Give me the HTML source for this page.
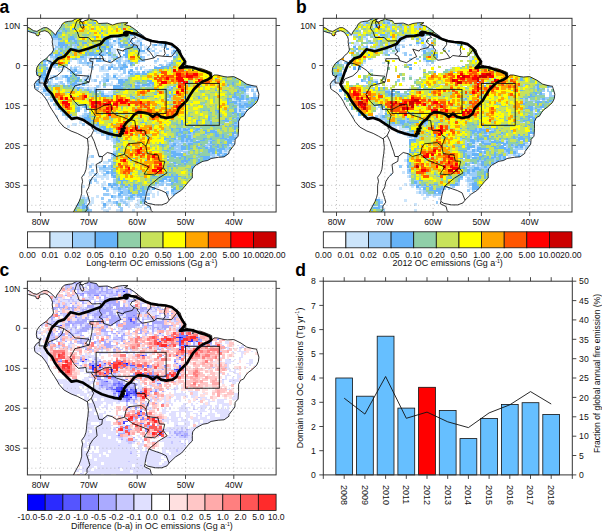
<!DOCTYPE html>
<html><head><meta charset="utf-8"><style>html,body{margin:0;padding:0;background:#fff}svg{display:block}text{font-family:"Liberation Sans",sans-serif}</style></head><body>
<svg width="602" height="531" viewBox="0 0 602 531" font-size="8.65" fill="#111" font-family="Liberation Sans, sans-serif">
<rect width="602" height="531" fill="#fff"/>
<clipPath id="clip1"><rect x="27.4" y="18.3" width="248.7" height="193.7"/></clipPath>
<clipPath id="land1"><path d="M21.3 25.9 L27 27.1 L29.6 28.1 L33.6 30.7 L36.9 31.4 L40.3 29.4 L43.6 27.7 L46.9 27.7 L49.6 29.4 L52.2 31.4 L54.2 33.8 L55.6 35.1 L56.9 32.1 L58.9 29.4 L60.9 26.7 L62.2 24.1 L64.8 22.1 L68.2 21.4 L72.1 21 L74.8 19.4 L77.5 18.1 L79.7 15.5 L83.1 15.5 L82.6 18.3 L79.7 19.5 L81.2 21.9 L83.1 21.9 L84.6 20.7 L87.9 19.9 L88.9 16.7 L90.3 19.5 L96.6 20.7 L97.6 22.3 L98.6 23.5 L107.3 23.1 L112.6 25.1 L116.9 23.5 L122.7 22.7 L128 22.7 L124.6 24.7 L129.5 25.9 L132.9 27.9 L137.2 31.1 L138.2 32.3 L144 36.3 L144.4 37.9 L150.7 41.5 L157 41.9 L166.2 42.3 L171.5 43.9 L177.3 47.9 L180.2 49.9 L182.1 57.1 L185.5 61.5 L186 64.3 L182.6 64.7 L179.2 67.4 L182.1 67.8 L185.5 65.8 L193.2 66.6 L192.7 71 L195.2 68.2 L200 68.2 L204.8 69.8 L211.6 72.6 L212.1 77 L214 75 L217.4 75 L224.1 76.6 L227.5 77 L233.8 76.6 L241 80.2 L246.8 84.2 L253.1 85.8 L256.5 86.2 L257.9 91 L258.9 94.2 L258.4 98.6 L256.5 102.6 L251.2 107.4 L248.3 109.4 L245.9 112.2 L243.5 116.2 L240.6 117.4 L238.6 121.4 L238.6 128.6 L238.1 136.2 L235.2 139.4 L234.8 144.2 L232.4 147.3 L229 151.7 L229 153.3 L224.1 156.9 L218.3 157.3 L211.1 158.5 L207.7 160.5 L202.9 161.3 L195.6 165.3 L192.7 168.9 L192.3 172.5 L192.3 178.1 L188.9 181.3 L185 186.1 L181.6 190.1 L175.4 194.1 L169.1 200.1 L167.1 202.9 L161.8 204.9 L155.6 204.9 L147.8 203.3 L144.9 201.3 L144.4 203.7 L150.2 206.5 L151.2 210.5 L153.1 212.5 L153.1 217.3 L72.5 217.3 L73.4 212.1 L75.9 207.3 L79.2 201.3 L80.7 197.3 L81.7 193.3 L81.7 185.3 L82.6 181.3 L81.7 177.3 L84.6 173.3 L86 169.3 L86.5 165.3 L87 159.3 L87.9 153.3 L88.4 147.3 L87.5 139 L82.6 136.2 L77.3 133.4 L71 131 L63.8 127 L59 121.4 L58 119.4 L54.6 113.8 L51.7 109.4 L49.3 105.4 L47.4 101.4 L45.4 98.2 L41.6 93.4 L36.7 90.2 L34.8 88.6 L34.3 84.2 L36.3 81 L39.2 79 L41.1 75.4 L39 77.4 L39.6 76.4 L36.9 75.2 L36.3 71.3 L36.9 67.3 L39.6 63.3 L42.9 60.7 L46.9 58 L48.9 55.3 L51.6 53.3 L53.5 50 L52.9 46 L52.2 42 L52.5 39.4 L51.6 36.7 L50.3 34.7 L48.2 32.1 L44.9 30.7 L41.6 31.4 L39 32.7 L39.6 34 L38.3 36 L36.3 35.4 L35.6 33.4 L32.3 32.7 L28.3 31.4 L21.3 30.7Z"/></clipPath>
<g clip-path="url(#clip1)">
<g clip-path="url(#land1)" shape-rendering="crispEdges">
<path fill="#cce5fb" d="M139.6 31.5h2.8v2.3h-2.8zM113.1 35.5h2.8v2.3h-2.8zM130.0 35.5h2.8v2.3h-2.8zM134.8 35.5h2.8v2.3h-2.8zM139.6 35.5h2.8v2.3h-2.8zM110.6 37.5h2.8v2.3h-2.8zM115.5 37.5h2.8v2.3h-2.8zM130.0 37.5h2.8v2.3h-2.8zM137.2 37.5h5.2v2.3h-5.2zM144.4 37.5h2.8v2.3h-2.8zM52.7 39.5h5.2v2.3h-5.2zM108.2 39.5h2.8v2.3h-2.8zM115.5 39.5h2.8v2.3h-2.8zM134.8 39.5h2.8v2.3h-2.8zM139.6 39.5h2.8v2.3h-2.8zM149.3 39.5h2.8v2.3h-2.8zM161.3 39.5h2.8v2.3h-2.8zM52.7 41.5h5.2v2.3h-5.2zM110.6 41.5h7.6v2.3h-7.6zM120.3 41.5h2.8v2.3h-2.8zM134.8 41.5h5.2v2.3h-5.2zM156.5 41.5h2.8v2.3h-2.8zM166.2 41.5h2.8v2.3h-2.8zM52.7 43.5h5.2v2.3h-5.2zM113.1 43.5h2.8v2.3h-2.8zM132.4 43.5h7.6v2.3h-7.6zM142.0 43.5h2.8v2.3h-2.8zM156.5 43.5h2.8v2.3h-2.8zM161.3 43.5h2.8v2.3h-2.8zM171.0 43.5h2.8v2.3h-2.8zM50.3 45.5h2.8v2.3h-2.8zM72.0 45.5h2.8v2.3h-2.8zM117.9 45.5h2.8v2.3h-2.8zM137.2 45.5h2.8v2.3h-2.8zM144.4 45.5h5.2v2.3h-5.2zM151.7 45.5h2.8v2.3h-2.8zM161.3 45.5h2.8v2.3h-2.8zM55.1 47.5h2.8v2.3h-2.8zM110.6 47.5h5.2v2.3h-5.2zM144.4 47.5h2.8v2.3h-2.8zM149.3 47.5h2.8v2.3h-2.8zM154.1 47.5h2.8v2.3h-2.8zM173.4 47.5h2.8v2.3h-2.8zM178.3 47.5h5.2v2.3h-5.2zM110.6 49.5h5.2v2.3h-5.2zM117.9 49.5h2.8v2.3h-2.8zM146.9 49.5h5.2v2.3h-5.2zM158.9 49.5h2.8v2.3h-2.8zM171.0 49.5h2.8v2.3h-2.8zM47.8 51.5h2.8v2.3h-2.8zM113.1 51.5h2.8v2.3h-2.8zM139.6 51.5h7.6v2.3h-7.6zM154.1 51.5h5.2v2.3h-5.2zM52.7 53.5h2.8v2.3h-2.8zM105.8 53.5h2.8v2.3h-2.8zM115.5 53.5h2.8v2.3h-2.8zM139.6 53.5h2.8v2.3h-2.8zM146.9 53.5h2.8v2.3h-2.8zM154.1 53.5h2.8v2.3h-2.8zM171.0 53.5h5.2v2.3h-5.2zM45.4 55.5h2.8v2.3h-2.8zM86.5 55.5h5.2v2.3h-5.2zM108.2 55.5h2.8v2.3h-2.8zM122.7 55.5h2.8v2.3h-2.8zM151.7 55.5h2.8v2.3h-2.8zM43.0 57.5h2.8v2.3h-2.8zM50.3 57.5h2.8v2.3h-2.8zM88.9 57.5h2.8v2.3h-2.8zM103.4 57.5h2.8v2.3h-2.8zM108.2 57.5h5.2v2.3h-5.2zM115.5 57.5h2.8v2.3h-2.8zM120.3 57.5h2.8v2.3h-2.8zM125.1 57.5h2.8v2.3h-2.8zM50.3 59.5h2.8v2.3h-2.8zM69.6 59.5h2.8v2.3h-2.8zM76.8 59.5h2.8v2.3h-2.8zM88.9 59.5h5.2v2.3h-5.2zM103.4 59.5h2.8v2.3h-2.8zM113.1 59.5h2.8v2.3h-2.8zM120.3 59.5h5.2v2.3h-5.2zM156.5 59.5h2.8v2.3h-2.8zM163.8 59.5h2.8v2.3h-2.8zM76.8 61.5h2.8v2.3h-2.8zM91.3 61.5h2.8v2.3h-2.8zM110.6 61.5h2.8v2.3h-2.8zM115.5 61.5h2.8v2.3h-2.8zM125.1 61.5h2.8v2.3h-2.8zM137.2 61.5h2.8v2.3h-2.8zM154.1 61.5h2.8v2.3h-2.8zM166.2 61.5h2.8v2.3h-2.8zM81.7 63.5h5.2v2.3h-5.2zM88.9 63.5h2.8v2.3h-2.8zM93.7 63.5h5.2v2.3h-5.2zM103.4 63.5h7.6v2.3h-7.6zM113.1 63.5h2.8v2.3h-2.8zM125.1 63.5h2.8v2.3h-2.8zM161.3 63.5h2.8v2.3h-2.8zM45.4 65.5h2.8v2.3h-2.8zM64.8 65.5h2.8v2.3h-2.8zM69.6 65.5h2.8v2.3h-2.8zM74.4 65.5h5.2v2.3h-5.2zM98.6 65.5h2.8v2.3h-2.8zM103.4 65.5h2.8v2.3h-2.8zM113.1 65.5h2.8v2.3h-2.8zM130.0 65.5h2.8v2.3h-2.8zM139.6 65.5h5.2v2.3h-5.2zM47.8 67.4h2.8v2.3h-2.8zM55.1 67.4h5.2v2.3h-5.2zM62.3 67.4h2.8v2.3h-2.8zM72.0 67.4h2.8v2.3h-2.8zM79.2 67.4h2.8v2.3h-2.8zM91.3 67.4h2.8v2.3h-2.8zM98.6 67.4h2.8v2.3h-2.8zM103.4 67.4h2.8v2.3h-2.8zM117.9 67.4h2.8v2.3h-2.8zM45.4 69.4h5.2v2.3h-5.2zM57.5 69.4h5.2v2.3h-5.2zM67.2 69.4h5.2v2.3h-5.2zM76.8 69.4h5.2v2.3h-5.2zM98.6 69.4h10.0v2.3h-10.0zM117.9 69.4h2.8v2.3h-2.8zM127.5 69.4h2.8v2.3h-2.8zM144.4 69.4h5.2v2.3h-5.2zM130.0 71.4h2.8v2.3h-2.8zM134.8 71.4h2.8v2.3h-2.8zM144.4 71.4h2.8v2.3h-2.8zM45.4 73.4h2.8v2.3h-2.8zM69.6 73.4h2.8v2.3h-2.8zM103.4 73.4h2.8v2.3h-2.8zM113.1 73.4h5.2v2.3h-5.2zM120.3 73.4h2.8v2.3h-2.8zM127.5 73.4h2.8v2.3h-2.8zM50.3 75.4h2.8v2.3h-2.8zM55.1 75.4h2.8v2.3h-2.8zM59.9 75.4h2.8v2.3h-2.8zM67.2 75.4h2.8v2.3h-2.8zM76.8 75.4h2.8v2.3h-2.8zM84.1 75.4h2.8v2.3h-2.8zM88.9 75.4h2.8v2.3h-2.8zM96.1 75.4h2.8v2.3h-2.8zM101.0 75.4h2.8v2.3h-2.8zM108.2 75.4h2.8v2.3h-2.8zM117.9 75.4h2.8v2.3h-2.8zM125.1 75.4h2.8v2.3h-2.8zM57.5 77.4h5.2v2.3h-5.2zM64.8 77.4h2.8v2.3h-2.8zM81.7 77.4h5.2v2.3h-5.2zM88.9 77.4h2.8v2.3h-2.8zM108.2 77.4h7.6v2.3h-7.6zM120.3 77.4h7.6v2.3h-7.6zM40.6 79.4h2.8v2.3h-2.8zM50.3 79.4h2.8v2.3h-2.8zM64.8 79.4h2.8v2.3h-2.8zM81.7 79.4h2.8v2.3h-2.8zM91.3 79.4h2.8v2.3h-2.8zM101.0 79.4h2.8v2.3h-2.8zM38.2 81.4h2.8v2.3h-2.8zM50.3 81.4h2.8v2.3h-2.8zM57.5 81.4h2.8v2.3h-2.8zM76.8 81.4h5.2v2.3h-5.2zM86.5 81.4h2.8v2.3h-2.8zM110.6 81.4h2.8v2.3h-2.8zM146.9 81.4h2.8v2.3h-2.8zM33.4 83.4h2.8v2.3h-2.8zM40.6 83.4h2.8v2.3h-2.8zM50.3 83.4h5.2v2.3h-5.2zM57.5 83.4h5.2v2.3h-5.2zM67.2 83.4h2.8v2.3h-2.8zM84.1 83.4h5.2v2.3h-5.2zM98.6 83.4h2.8v2.3h-2.8zM105.8 83.4h7.6v2.3h-7.6zM115.5 83.4h5.2v2.3h-5.2zM134.8 83.4h2.8v2.3h-2.8zM139.6 83.4h2.8v2.3h-2.8zM38.2 85.4h5.2v2.3h-5.2zM79.2 85.4h2.8v2.3h-2.8zM98.6 85.4h2.8v2.3h-2.8zM144.4 85.4h2.8v2.3h-2.8zM171.0 85.4h2.8v2.3h-2.8zM40.6 87.4h2.8v2.3h-2.8zM84.1 87.4h2.8v2.3h-2.8zM88.9 87.4h5.2v2.3h-5.2zM250.7 87.4h2.8v2.3h-2.8zM91.3 89.4h2.8v2.3h-2.8zM101.0 89.4h2.8v2.3h-2.8zM110.6 89.4h2.8v2.3h-2.8zM245.9 89.4h2.8v2.3h-2.8zM40.6 91.4h7.6v2.3h-7.6zM108.2 91.4h5.2v2.3h-5.2zM253.1 91.4h2.8v2.3h-2.8zM103.4 93.4h10.0v2.3h-10.0zM245.9 93.4h2.8v2.3h-2.8zM255.5 95.4h5.2v2.3h-5.2zM43.0 97.4h2.8v2.3h-2.8zM47.8 97.4h5.2v2.3h-5.2zM166.2 97.4h2.8v2.3h-2.8zM231.4 97.4h2.8v2.3h-2.8zM45.4 99.4h2.8v2.3h-2.8zM231.4 99.4h5.2v2.3h-5.2zM241.0 99.4h2.8v2.3h-2.8zM236.2 101.4h2.8v2.3h-2.8zM45.4 103.4h2.8v2.3h-2.8zM55.1 105.4h2.8v2.3h-2.8zM79.2 105.4h2.8v2.3h-2.8zM236.2 105.4h2.8v2.3h-2.8zM55.1 107.4h2.8v2.3h-2.8zM79.2 107.4h2.8v2.3h-2.8zM84.1 107.4h2.8v2.3h-2.8zM236.2 107.4h2.8v2.3h-2.8zM236.2 109.4h2.8v2.3h-2.8zM241.0 109.4h2.8v2.3h-2.8zM248.3 109.4h2.8v2.3h-2.8zM84.1 111.4h2.8v2.3h-2.8zM236.2 111.4h5.2v2.3h-5.2zM245.9 111.4h2.8v2.3h-2.8zM81.7 113.4h2.8v2.3h-2.8zM243.5 113.4h5.2v2.3h-5.2zM55.1 115.4h2.8v2.3h-2.8zM64.8 115.4h2.8v2.3h-2.8zM74.4 115.4h2.8v2.3h-2.8zM79.2 115.4h2.8v2.3h-2.8zM55.1 117.4h2.8v2.3h-2.8zM64.8 117.4h2.8v2.3h-2.8zM69.6 117.4h2.8v2.3h-2.8zM84.1 119.4h2.8v2.3h-2.8zM79.2 121.4h2.8v2.3h-2.8zM86.5 121.4h2.8v2.3h-2.8zM224.1 121.4h5.2v2.3h-5.2zM72.0 123.4h5.2v2.3h-5.2zM67.2 125.4h2.8v2.3h-2.8zM192.7 125.4h2.8v2.3h-2.8zM93.7 127.4h5.2v2.3h-5.2zM101.0 129.4h2.8v2.3h-2.8zM96.1 131.4h5.2v2.3h-5.2zM103.4 133.4h2.8v2.3h-2.8zM233.8 133.4h2.8v2.3h-2.8zM108.2 135.4h2.8v2.3h-2.8zM236.2 135.4h2.8v2.3h-2.8zM108.2 137.4h5.2v2.3h-5.2zM175.8 137.4h2.8v2.3h-2.8zM110.6 139.4h2.8v2.3h-2.8zM195.2 139.4h2.8v2.3h-2.8zM171.0 141.4h2.8v2.3h-2.8zM178.3 141.4h2.8v2.3h-2.8zM183.1 141.4h2.8v2.3h-2.8zM207.2 141.4h2.8v2.3h-2.8zM233.8 141.4h2.8v2.3h-2.8zM113.1 143.4h2.8v2.3h-2.8zM175.8 143.4h2.8v2.3h-2.8zM180.7 143.4h2.8v2.3h-2.8zM204.8 143.4h2.8v2.3h-2.8zM229.0 143.4h2.8v2.3h-2.8zM207.2 145.4h2.8v2.3h-2.8zM229.0 145.4h5.2v2.3h-5.2zM113.1 147.3h2.8v2.3h-2.8zM175.8 147.3h2.8v2.3h-2.8zM113.1 149.3h2.8v2.3h-2.8zM183.1 149.3h5.2v2.3h-5.2zM221.7 149.3h2.8v2.3h-2.8zM226.6 149.3h2.8v2.3h-2.8zM221.7 151.3h7.6v2.3h-7.6zM214.5 153.3h2.8v2.3h-2.8zM219.3 153.3h2.8v2.3h-2.8zM226.6 153.3h2.8v2.3h-2.8zM88.9 155.3h2.8v2.3h-2.8zM98.6 155.3h2.8v2.3h-2.8zM110.6 155.3h2.8v2.3h-2.8zM175.8 155.3h2.8v2.3h-2.8zM209.7 155.3h2.8v2.3h-2.8zM214.5 155.3h2.8v2.3h-2.8zM86.5 157.3h2.8v2.3h-2.8zM166.2 157.3h2.8v2.3h-2.8zM212.1 157.3h5.2v2.3h-5.2zM84.1 159.3h2.8v2.3h-2.8zM110.6 159.3h2.8v2.3h-2.8zM207.2 159.3h2.8v2.3h-2.8zM98.6 161.3h2.8v2.3h-2.8zM103.4 161.3h5.2v2.3h-5.2zM171.0 161.3h2.8v2.3h-2.8zM91.3 163.3h2.8v2.3h-2.8zM175.8 163.3h2.8v2.3h-2.8zM96.1 165.3h7.6v2.3h-7.6zM98.6 169.3h5.2v2.3h-5.2zM105.8 169.3h2.8v2.3h-2.8zM88.9 171.3h5.2v2.3h-5.2zM101.0 171.3h2.8v2.3h-2.8zM81.7 173.3h2.8v2.3h-2.8zM88.9 173.3h2.8v2.3h-2.8zM96.1 173.3h2.8v2.3h-2.8zM105.8 173.3h2.8v2.3h-2.8zM96.1 175.3h12.4v2.3h-12.4zM91.3 177.3h5.2v2.3h-5.2zM101.0 177.3h2.8v2.3h-2.8zM105.8 177.3h2.8v2.3h-2.8zM113.1 177.3h2.8v2.3h-2.8zM166.2 177.3h2.8v2.3h-2.8zM96.1 181.3h2.8v2.3h-2.8zM103.4 181.3h2.8v2.3h-2.8zM158.9 181.3h2.8v2.3h-2.8zM163.8 181.3h2.8v2.3h-2.8zM101.0 183.3h5.2v2.3h-5.2zM117.9 183.3h2.8v2.3h-2.8zM156.5 183.3h2.8v2.3h-2.8zM81.7 185.3h2.8v2.3h-2.8zM101.0 185.3h2.8v2.3h-2.8zM108.2 185.3h2.8v2.3h-2.8zM113.1 185.3h2.8v2.3h-2.8zM117.9 185.3h2.8v2.3h-2.8zM154.1 185.3h5.2v2.3h-5.2zM105.8 187.3h2.8v2.3h-2.8zM110.6 187.3h2.8v2.3h-2.8zM125.1 187.3h2.8v2.3h-2.8zM149.3 187.3h2.8v2.3h-2.8zM163.8 187.3h2.8v2.3h-2.8zM171.0 187.3h2.8v2.3h-2.8zM113.1 189.3h5.2v2.3h-5.2zM120.3 189.3h2.8v2.3h-2.8zM146.9 189.3h5.2v2.3h-5.2zM180.7 189.3h2.8v2.3h-2.8zM113.1 191.3h2.8v2.3h-2.8zM117.9 191.3h2.8v2.3h-2.8zM139.6 191.3h2.8v2.3h-2.8zM146.9 191.3h5.2v2.3h-5.2zM156.5 191.3h2.8v2.3h-2.8zM178.3 191.3h2.8v2.3h-2.8zM108.2 193.3h2.8v2.3h-2.8zM120.3 193.3h2.8v2.3h-2.8zM127.5 193.3h2.8v2.3h-2.8zM151.7 193.3h2.8v2.3h-2.8zM156.5 193.3h2.8v2.3h-2.8zM166.2 193.3h2.8v2.3h-2.8zM171.0 193.3h2.8v2.3h-2.8zM81.7 195.3h2.8v2.3h-2.8zM96.1 195.3h2.8v2.3h-2.8zM115.5 195.3h2.8v2.3h-2.8zM125.1 195.3h2.8v2.3h-2.8zM132.4 195.3h5.2v2.3h-5.2zM142.0 195.3h2.8v2.3h-2.8zM151.7 195.3h2.8v2.3h-2.8zM79.2 197.3h2.8v2.3h-2.8zM84.1 197.3h2.8v2.3h-2.8zM91.3 197.3h2.8v2.3h-2.8zM113.1 197.3h2.8v2.3h-2.8zM117.9 197.3h5.2v2.3h-5.2zM144.4 197.3h2.8v2.3h-2.8zM86.5 199.3h2.8v2.3h-2.8zM91.3 199.3h2.8v2.3h-2.8zM117.9 199.3h2.8v2.3h-2.8zM122.7 199.3h2.8v2.3h-2.8zM127.5 199.3h5.2v2.3h-5.2zM137.2 199.3h2.8v2.3h-2.8zM91.3 201.3h2.8v2.3h-2.8zM101.0 201.3h2.8v2.3h-2.8zM105.8 201.3h7.6v2.3h-7.6zM117.9 201.3h5.2v2.3h-5.2zM125.1 201.3h5.2v2.3h-5.2zM137.2 201.3h2.8v2.3h-2.8zM84.1 203.3h2.8v2.3h-2.8zM88.9 203.3h2.8v2.3h-2.8zM105.8 203.3h2.8v2.3h-2.8zM110.6 203.3h2.8v2.3h-2.8zM127.5 203.3h2.8v2.3h-2.8zM134.8 203.3h5.2v2.3h-5.2zM142.0 203.3h2.8v2.3h-2.8zM149.3 203.3h2.8v2.3h-2.8zM86.5 205.3h2.8v2.3h-2.8zM127.5 205.3h2.8v2.3h-2.8zM134.8 205.3h7.6v2.3h-7.6zM101.0 207.3h2.8v2.3h-2.8zM108.2 207.3h2.8v2.3h-2.8zM144.4 207.3h2.8v2.3h-2.8zM149.3 207.3h5.2v2.3h-5.2zM103.4 209.3h5.2v2.3h-5.2zM115.5 209.3h5.2v2.3h-5.2zM132.4 209.3h2.8v2.3h-2.8zM151.7 209.3h2.8v2.3h-2.8zM115.5 211.3h2.8v2.3h-2.8zM120.3 211.3h2.8v2.3h-2.8z"/>
<path fill="#99ccf9" d="M59.9 21.5h2.8v2.3h-2.8zM57.5 27.5h2.8v2.3h-2.8zM59.9 29.5h2.8v2.3h-2.8zM33.4 31.5h2.8v2.3h-2.8zM137.2 31.5h2.8v2.3h-2.8zM132.4 33.5h7.6v2.3h-7.6zM142.0 33.5h2.8v2.3h-2.8zM47.8 35.5h5.2v2.3h-5.2zM115.5 35.5h2.8v2.3h-2.8zM142.0 35.5h5.2v2.3h-5.2zM50.3 37.5h7.6v2.3h-7.6zM74.4 37.5h2.8v2.3h-2.8zM120.3 37.5h2.8v2.3h-2.8zM142.0 37.5h2.8v2.3h-2.8zM57.5 39.5h2.8v2.3h-2.8zM72.0 39.5h2.8v2.3h-2.8zM117.9 39.5h2.8v2.3h-2.8zM127.5 39.5h5.2v2.3h-5.2zM137.2 39.5h2.8v2.3h-2.8zM156.5 39.5h5.2v2.3h-5.2zM108.2 41.5h2.8v2.3h-2.8zM132.4 41.5h2.8v2.3h-2.8zM158.9 41.5h2.8v2.3h-2.8zM171.0 41.5h2.8v2.3h-2.8zM67.2 43.5h2.8v2.3h-2.8zM72.0 43.5h5.2v2.3h-5.2zM108.2 43.5h5.2v2.3h-5.2zM117.9 43.5h2.8v2.3h-2.8zM151.7 43.5h2.8v2.3h-2.8zM158.9 43.5h2.8v2.3h-2.8zM55.1 45.5h5.2v2.3h-5.2zM62.3 45.5h2.8v2.3h-2.8zM74.4 45.5h2.8v2.3h-2.8zM108.2 45.5h2.8v2.3h-2.8zM122.7 45.5h2.8v2.3h-2.8zM139.6 45.5h2.8v2.3h-2.8zM163.8 45.5h2.8v2.3h-2.8zM171.0 45.5h2.8v2.3h-2.8zM52.7 47.5h2.8v2.3h-2.8zM62.3 47.5h2.8v2.3h-2.8zM105.8 47.5h2.8v2.3h-2.8zM125.1 47.5h2.8v2.3h-2.8zM139.6 47.5h2.8v2.3h-2.8zM175.8 47.5h2.8v2.3h-2.8zM52.7 49.5h2.8v2.3h-2.8zM57.5 49.5h2.8v2.3h-2.8zM93.7 49.5h2.8v2.3h-2.8zM103.4 49.5h2.8v2.3h-2.8zM122.7 49.5h2.8v2.3h-2.8zM151.7 49.5h2.8v2.3h-2.8zM175.8 49.5h2.8v2.3h-2.8zM98.6 51.5h7.6v2.3h-7.6zM110.6 51.5h2.8v2.3h-2.8zM117.9 51.5h2.8v2.3h-2.8zM171.0 51.5h5.2v2.3h-5.2zM47.8 53.5h2.8v2.3h-2.8zM98.6 53.5h2.8v2.3h-2.8zM103.4 53.5h2.8v2.3h-2.8zM110.6 53.5h2.8v2.3h-2.8zM166.2 53.5h2.8v2.3h-2.8zM50.3 55.5h5.2v2.3h-5.2zM84.1 55.5h2.8v2.3h-2.8zM93.7 55.5h2.8v2.3h-2.8zM98.6 55.5h2.8v2.3h-2.8zM110.6 55.5h5.2v2.3h-5.2zM120.3 55.5h2.8v2.3h-2.8zM142.0 55.5h2.8v2.3h-2.8zM52.7 57.5h2.8v2.3h-2.8zM69.6 57.5h2.8v2.3h-2.8zM76.8 57.5h10.0v2.3h-10.0zM91.3 57.5h2.8v2.3h-2.8zM96.1 57.5h2.8v2.3h-2.8zM117.9 57.5h2.8v2.3h-2.8zM142.0 57.5h2.8v2.3h-2.8zM156.5 57.5h2.8v2.3h-2.8zM45.4 59.5h5.2v2.3h-5.2zM79.2 59.5h2.8v2.3h-2.8zM84.1 59.5h2.8v2.3h-2.8zM101.0 59.5h2.8v2.3h-2.8zM117.9 59.5h2.8v2.3h-2.8zM125.1 59.5h2.8v2.3h-2.8zM139.6 59.5h5.2v2.3h-5.2zM154.1 59.5h2.8v2.3h-2.8zM171.0 59.5h2.8v2.3h-2.8zM43.0 61.5h2.8v2.3h-2.8zM47.8 61.5h2.8v2.3h-2.8zM79.2 61.5h7.6v2.3h-7.6zM88.9 61.5h2.8v2.3h-2.8zM117.9 61.5h2.8v2.3h-2.8zM122.7 61.5h2.8v2.3h-2.8zM127.5 61.5h2.8v2.3h-2.8zM132.4 61.5h2.8v2.3h-2.8zM168.6 61.5h2.8v2.3h-2.8zM45.4 63.5h2.8v2.3h-2.8zM86.5 63.5h2.8v2.3h-2.8zM110.6 63.5h2.8v2.3h-2.8zM117.9 63.5h5.2v2.3h-5.2zM158.9 63.5h2.8v2.3h-2.8zM166.2 63.5h2.8v2.3h-2.8zM52.7 65.5h2.8v2.3h-2.8zM59.9 65.5h5.2v2.3h-5.2zM88.9 65.5h5.2v2.3h-5.2zM101.0 65.5h2.8v2.3h-2.8zM108.2 65.5h2.8v2.3h-2.8zM117.9 65.5h5.2v2.3h-5.2zM154.1 65.5h2.8v2.3h-2.8zM171.0 65.5h2.8v2.3h-2.8zM69.6 67.4h2.8v2.3h-2.8zM74.4 67.4h2.8v2.3h-2.8zM101.0 67.4h2.8v2.3h-2.8zM113.1 67.4h5.2v2.3h-5.2zM122.7 67.4h2.8v2.3h-2.8zM134.8 67.4h2.8v2.3h-2.8zM139.6 67.4h2.8v2.3h-2.8zM72.0 69.4h2.8v2.3h-2.8zM122.7 69.4h2.8v2.3h-2.8zM149.3 69.4h2.8v2.3h-2.8zM76.8 71.4h5.2v2.3h-5.2zM122.7 71.4h2.8v2.3h-2.8zM132.4 71.4h2.8v2.3h-2.8zM137.2 71.4h2.8v2.3h-2.8zM74.4 73.4h2.8v2.3h-2.8zM105.8 73.4h2.8v2.3h-2.8zM132.4 73.4h2.8v2.3h-2.8zM139.6 73.4h2.8v2.3h-2.8zM35.8 75.4h2.8v2.3h-2.8zM43.0 75.4h2.8v2.3h-2.8zM52.7 75.4h2.8v2.3h-2.8zM62.3 75.4h2.8v2.3h-2.8zM86.5 75.4h2.8v2.3h-2.8zM105.8 75.4h2.8v2.3h-2.8zM127.5 75.4h2.8v2.3h-2.8zM236.2 75.4h2.8v2.3h-2.8zM38.2 77.4h5.2v2.3h-5.2zM50.3 77.4h2.8v2.3h-2.8zM55.1 77.4h2.8v2.3h-2.8zM86.5 77.4h2.8v2.3h-2.8zM103.4 77.4h5.2v2.3h-5.2zM115.5 77.4h2.8v2.3h-2.8zM33.4 79.4h2.8v2.3h-2.8zM38.2 79.4h2.8v2.3h-2.8zM45.4 79.4h2.8v2.3h-2.8zM69.6 79.4h2.8v2.3h-2.8zM93.7 79.4h2.8v2.3h-2.8zM103.4 79.4h2.8v2.3h-2.8zM122.7 79.4h2.8v2.3h-2.8zM33.4 81.4h5.2v2.3h-5.2zM47.8 81.4h2.8v2.3h-2.8zM59.9 81.4h2.8v2.3h-2.8zM67.2 81.4h2.8v2.3h-2.8zM72.0 81.4h2.8v2.3h-2.8zM81.7 81.4h2.8v2.3h-2.8zM98.6 81.4h2.8v2.3h-2.8zM103.4 81.4h2.8v2.3h-2.8zM134.8 81.4h2.8v2.3h-2.8zM38.2 83.4h2.8v2.3h-2.8zM47.8 83.4h2.8v2.3h-2.8zM55.1 83.4h2.8v2.3h-2.8zM62.3 83.4h2.8v2.3h-2.8zM74.4 83.4h5.2v2.3h-5.2zM137.2 83.4h2.8v2.3h-2.8zM149.3 83.4h2.8v2.3h-2.8zM248.3 83.4h2.8v2.3h-2.8zM33.4 85.4h2.8v2.3h-2.8zM50.3 85.4h2.8v2.3h-2.8zM72.0 85.4h5.2v2.3h-5.2zM96.1 85.4h2.8v2.3h-2.8zM103.4 85.4h2.8v2.3h-2.8zM120.3 85.4h5.2v2.3h-5.2zM139.6 85.4h5.2v2.3h-5.2zM146.9 85.4h5.2v2.3h-5.2zM168.6 85.4h2.8v2.3h-2.8zM226.6 85.4h2.8v2.3h-2.8zM238.6 85.4h5.2v2.3h-5.2zM250.7 85.4h5.2v2.3h-5.2zM35.8 87.4h2.8v2.3h-2.8zM43.0 87.4h2.8v2.3h-2.8zM74.4 87.4h2.8v2.3h-2.8zM79.2 87.4h5.2v2.3h-5.2zM86.5 87.4h2.8v2.3h-2.8zM93.7 87.4h2.8v2.3h-2.8zM125.1 87.4h2.8v2.3h-2.8zM166.2 87.4h5.2v2.3h-5.2zM243.5 87.4h5.2v2.3h-5.2zM45.4 89.4h5.2v2.3h-5.2zM81.7 89.4h2.8v2.3h-2.8zM88.9 89.4h2.8v2.3h-2.8zM96.1 89.4h5.2v2.3h-5.2zM113.1 89.4h2.8v2.3h-2.8zM250.7 89.4h2.8v2.3h-2.8zM255.5 89.4h5.2v2.3h-5.2zM47.8 91.4h2.8v2.3h-2.8zM101.0 91.4h2.8v2.3h-2.8zM238.6 91.4h2.8v2.3h-2.8zM243.5 91.4h2.8v2.3h-2.8zM257.9 91.4h2.8v2.3h-2.8zM45.4 93.4h5.2v2.3h-5.2zM98.6 93.4h2.8v2.3h-2.8zM168.6 93.4h2.8v2.3h-2.8zM241.0 93.4h5.2v2.3h-5.2zM253.1 93.4h2.8v2.3h-2.8zM108.2 95.4h2.8v2.3h-2.8zM132.4 95.4h2.8v2.3h-2.8zM137.2 95.4h2.8v2.3h-2.8zM171.0 95.4h2.8v2.3h-2.8zM236.2 95.4h2.8v2.3h-2.8zM243.5 95.4h2.8v2.3h-2.8zM253.1 95.4h2.8v2.3h-2.8zM168.6 97.4h2.8v2.3h-2.8zM233.8 97.4h2.8v2.3h-2.8zM243.5 97.4h2.8v2.3h-2.8zM248.3 97.4h2.8v2.3h-2.8zM257.9 97.4h2.8v2.3h-2.8zM43.0 99.4h2.8v2.3h-2.8zM50.3 99.4h2.8v2.3h-2.8zM168.6 99.4h2.8v2.3h-2.8zM236.2 99.4h2.8v2.3h-2.8zM245.9 99.4h5.2v2.3h-5.2zM255.5 99.4h2.8v2.3h-2.8zM238.6 101.4h10.0v2.3h-10.0zM257.9 101.4h2.8v2.3h-2.8zM52.7 103.4h2.8v2.3h-2.8zM202.4 103.4h2.8v2.3h-2.8zM233.8 103.4h5.2v2.3h-5.2zM241.0 103.4h2.8v2.3h-2.8zM76.8 105.4h2.8v2.3h-2.8zM81.7 105.4h2.8v2.3h-2.8zM243.5 105.4h2.8v2.3h-2.8zM86.5 107.4h2.8v2.3h-2.8zM238.6 107.4h7.6v2.3h-7.6zM250.7 107.4h2.8v2.3h-2.8zM59.9 109.4h2.8v2.3h-2.8zM84.1 109.4h2.8v2.3h-2.8zM62.3 111.4h2.8v2.3h-2.8zM241.0 111.4h5.2v2.3h-5.2zM62.3 113.4h2.8v2.3h-2.8zM84.1 113.4h5.2v2.3h-5.2zM231.4 113.4h2.8v2.3h-2.8zM67.2 115.4h2.8v2.3h-2.8zM72.0 115.4h2.8v2.3h-2.8zM81.7 115.4h5.2v2.3h-5.2zM236.2 115.4h2.8v2.3h-2.8zM233.8 117.4h2.8v2.3h-2.8zM209.7 119.4h2.8v2.3h-2.8zM229.0 119.4h2.8v2.3h-2.8zM238.6 119.4h2.8v2.3h-2.8zM236.2 121.4h2.8v2.3h-2.8zM81.7 123.4h2.8v2.3h-2.8zM93.7 123.4h2.8v2.3h-2.8zM219.3 123.4h2.8v2.3h-2.8zM233.8 123.4h5.2v2.3h-5.2zM91.3 125.4h7.6v2.3h-7.6zM101.0 127.4h2.8v2.3h-2.8zM180.7 127.4h2.8v2.3h-2.8zM185.5 127.4h2.8v2.3h-2.8zM200.0 127.4h2.8v2.3h-2.8zM93.7 129.4h2.8v2.3h-2.8zM98.6 129.4h2.8v2.3h-2.8zM103.4 129.4h2.8v2.3h-2.8zM110.6 129.4h2.8v2.3h-2.8zM122.7 129.4h2.8v2.3h-2.8zM180.7 129.4h2.8v2.3h-2.8zM187.9 129.4h2.8v2.3h-2.8zM192.7 129.4h2.8v2.3h-2.8zM197.6 129.4h2.8v2.3h-2.8zM214.5 129.4h2.8v2.3h-2.8zM233.8 129.4h2.8v2.3h-2.8zM101.0 131.4h2.8v2.3h-2.8zM105.8 131.4h2.8v2.3h-2.8zM190.3 131.4h2.8v2.3h-2.8zM101.0 133.4h2.8v2.3h-2.8zM105.8 133.4h2.8v2.3h-2.8zM180.7 133.4h2.8v2.3h-2.8zM185.5 133.4h7.6v2.3h-7.6zM204.8 133.4h2.8v2.3h-2.8zM226.6 133.4h2.8v2.3h-2.8zM236.2 133.4h5.2v2.3h-5.2zM105.8 135.4h2.8v2.3h-2.8zM175.8 135.4h2.8v2.3h-2.8zM190.3 135.4h2.8v2.3h-2.8zM233.8 135.4h2.8v2.3h-2.8zM105.8 137.4h2.8v2.3h-2.8zM113.1 137.4h2.8v2.3h-2.8zM183.1 137.4h2.8v2.3h-2.8zM190.3 137.4h2.8v2.3h-2.8zM226.6 137.4h2.8v2.3h-2.8zM113.1 139.4h2.8v2.3h-2.8zM163.8 139.4h2.8v2.3h-2.8zM173.4 139.4h7.6v2.3h-7.6zM183.1 139.4h2.8v2.3h-2.8zM187.9 139.4h2.8v2.3h-2.8zM197.6 139.4h2.8v2.3h-2.8zM207.2 139.4h5.2v2.3h-5.2zM224.1 139.4h2.8v2.3h-2.8zM231.4 139.4h2.8v2.3h-2.8zM113.1 141.4h2.8v2.3h-2.8zM117.9 141.4h2.8v2.3h-2.8zM168.6 141.4h2.8v2.3h-2.8zM173.4 141.4h5.2v2.3h-5.2zM180.7 141.4h2.8v2.3h-2.8zM185.5 141.4h7.6v2.3h-7.6zM168.6 143.4h5.2v2.3h-5.2zM178.3 143.4h2.8v2.3h-2.8zM185.5 143.4h2.8v2.3h-2.8zM207.2 143.4h5.2v2.3h-5.2zM231.4 143.4h5.2v2.3h-5.2zM168.6 145.4h2.8v2.3h-2.8zM173.4 145.4h7.6v2.3h-7.6zM197.6 145.4h2.8v2.3h-2.8zM204.8 145.4h2.8v2.3h-2.8zM226.6 145.4h2.8v2.3h-2.8zM173.4 147.3h2.8v2.3h-2.8zM178.3 147.3h2.8v2.3h-2.8zM207.2 147.3h2.8v2.3h-2.8zM216.9 147.3h2.8v2.3h-2.8zM224.1 147.3h5.2v2.3h-5.2zM171.0 149.3h12.4v2.3h-12.4zM187.9 149.3h2.8v2.3h-2.8zM224.1 149.3h2.8v2.3h-2.8zM231.4 149.3h2.8v2.3h-2.8zM113.1 151.3h2.8v2.3h-2.8zM166.2 151.3h2.8v2.3h-2.8zM175.8 151.3h5.2v2.3h-5.2zM183.1 151.3h5.2v2.3h-5.2zM200.0 151.3h2.8v2.3h-2.8zM209.7 151.3h2.8v2.3h-2.8zM216.9 151.3h2.8v2.3h-2.8zM229.0 151.3h2.8v2.3h-2.8zM110.6 153.3h2.8v2.3h-2.8zM171.0 153.3h2.8v2.3h-2.8zM185.5 153.3h5.2v2.3h-5.2zM209.7 153.3h5.2v2.3h-5.2zM221.7 153.3h2.8v2.3h-2.8zM91.3 155.3h2.8v2.3h-2.8zM178.3 155.3h2.8v2.3h-2.8zM195.2 155.3h2.8v2.3h-2.8zM212.1 155.3h2.8v2.3h-2.8zM219.3 155.3h2.8v2.3h-2.8zM224.1 155.3h2.8v2.3h-2.8zM110.6 157.3h2.8v2.3h-2.8zM173.4 157.3h2.8v2.3h-2.8zM197.6 157.3h2.8v2.3h-2.8zM209.7 157.3h2.8v2.3h-2.8zM108.2 159.3h2.8v2.3h-2.8zM202.4 159.3h2.8v2.3h-2.8zM209.7 159.3h2.8v2.3h-2.8zM110.6 161.3h2.8v2.3h-2.8zM168.6 161.3h2.8v2.3h-2.8zM183.1 161.3h2.8v2.3h-2.8zM204.8 161.3h2.8v2.3h-2.8zM110.6 163.3h2.8v2.3h-2.8zM173.4 163.3h2.8v2.3h-2.8zM195.2 163.3h2.8v2.3h-2.8zM88.9 165.3h2.8v2.3h-2.8zM108.2 165.3h2.8v2.3h-2.8zM98.6 167.3h14.8v2.3h-14.8zM91.3 169.3h2.8v2.3h-2.8zM103.4 169.3h2.8v2.3h-2.8zM108.2 171.3h2.8v2.3h-2.8zM93.7 173.3h2.8v2.3h-2.8zM103.4 173.3h2.8v2.3h-2.8zM113.1 173.3h2.8v2.3h-2.8zM110.6 175.3h2.8v2.3h-2.8zM168.6 177.3h2.8v2.3h-2.8zM88.9 179.3h2.8v2.3h-2.8zM93.7 179.3h2.8v2.3h-2.8zM113.1 179.3h2.8v2.3h-2.8zM166.2 179.3h2.8v2.3h-2.8zM88.9 181.3h2.8v2.3h-2.8zM113.1 181.3h2.8v2.3h-2.8zM161.3 181.3h2.8v2.3h-2.8zM173.4 181.3h2.8v2.3h-2.8zM110.6 183.3h2.8v2.3h-2.8zM154.1 183.3h2.8v2.3h-2.8zM158.9 183.3h5.2v2.3h-5.2zM166.2 183.3h5.2v2.3h-5.2zM115.5 185.3h2.8v2.3h-2.8zM122.7 185.3h2.8v2.3h-2.8zM127.5 185.3h2.8v2.3h-2.8zM146.9 185.3h5.2v2.3h-5.2zM173.4 185.3h2.8v2.3h-2.8zM113.1 187.3h5.2v2.3h-5.2zM120.3 187.3h5.2v2.3h-5.2zM105.8 189.3h2.8v2.3h-2.8zM117.9 189.3h2.8v2.3h-2.8zM122.7 189.3h5.2v2.3h-5.2zM144.4 189.3h2.8v2.3h-2.8zM173.4 189.3h7.6v2.3h-7.6zM122.7 191.3h5.2v2.3h-5.2zM144.4 191.3h2.8v2.3h-2.8zM166.2 191.3h2.8v2.3h-2.8zM171.0 191.3h7.6v2.3h-7.6zM103.4 193.3h5.2v2.3h-5.2zM122.7 193.3h5.2v2.3h-5.2zM130.0 193.3h2.8v2.3h-2.8zM134.8 193.3h2.8v2.3h-2.8zM144.4 193.3h5.2v2.3h-5.2zM113.1 195.3h2.8v2.3h-2.8zM117.9 195.3h5.2v2.3h-5.2zM127.5 195.3h2.8v2.3h-2.8zM137.2 195.3h2.8v2.3h-2.8zM173.4 195.3h2.8v2.3h-2.8zM81.7 197.3h2.8v2.3h-2.8zM86.5 197.3h2.8v2.3h-2.8zM101.0 197.3h2.8v2.3h-2.8zM125.1 197.3h2.8v2.3h-2.8zM130.0 197.3h5.2v2.3h-5.2zM139.6 197.3h5.2v2.3h-5.2zM146.9 197.3h2.8v2.3h-2.8zM84.1 199.3h2.8v2.3h-2.8zM108.2 199.3h2.8v2.3h-2.8zM120.3 199.3h2.8v2.3h-2.8zM139.6 199.3h2.8v2.3h-2.8zM84.1 201.3h2.8v2.3h-2.8zM113.1 201.3h2.8v2.3h-2.8zM122.7 201.3h2.8v2.3h-2.8zM142.0 201.3h2.8v2.3h-2.8zM115.5 203.3h2.8v2.3h-2.8zM125.1 203.3h2.8v2.3h-2.8zM76.8 205.3h5.2v2.3h-5.2zM103.4 205.3h2.8v2.3h-2.8zM117.9 205.3h2.8v2.3h-2.8zM146.9 205.3h2.8v2.3h-2.8zM79.2 207.3h2.8v2.3h-2.8zM84.1 207.3h5.2v2.3h-5.2zM120.3 207.3h2.8v2.3h-2.8zM88.9 209.3h2.8v2.3h-2.8zM120.3 209.3h2.8v2.3h-2.8zM84.1 211.3h2.8v2.3h-2.8zM105.8 211.3h2.8v2.3h-2.8z"/>
<path fill="#66b3f8" d="M93.7 21.5h2.8v2.3h-2.8zM26.1 25.5h2.8v2.3h-2.8zM57.5 25.5h2.8v2.3h-2.8zM50.3 27.5h2.8v2.3h-2.8zM62.3 27.5h2.8v2.3h-2.8zM72.0 27.5h2.8v2.3h-2.8zM134.8 27.5h2.8v2.3h-2.8zM26.1 29.5h2.8v2.3h-2.8zM55.1 29.5h2.8v2.3h-2.8zM64.8 29.5h2.8v2.3h-2.8zM101.0 29.5h2.8v2.3h-2.8zM137.2 29.5h2.8v2.3h-2.8zM26.1 31.5h2.8v2.3h-2.8zM30.9 31.5h2.8v2.3h-2.8zM55.1 31.5h7.6v2.3h-7.6zM132.4 31.5h2.8v2.3h-2.8zM33.4 33.5h2.8v2.3h-2.8zM52.7 33.5h5.2v2.3h-5.2zM130.0 33.5h2.8v2.3h-2.8zM139.6 33.5h2.8v2.3h-2.8zM35.8 35.5h2.8v2.3h-2.8zM52.7 35.5h5.2v2.3h-5.2zM69.6 35.5h5.2v2.3h-5.2zM93.7 35.5h2.8v2.3h-2.8zM101.0 35.5h2.8v2.3h-2.8zM108.2 35.5h5.2v2.3h-5.2zM57.5 37.5h5.2v2.3h-5.2zM67.2 37.5h7.6v2.3h-7.6zM105.8 37.5h2.8v2.3h-2.8zM117.9 37.5h2.8v2.3h-2.8zM127.5 37.5h2.8v2.3h-2.8zM67.2 39.5h2.8v2.3h-2.8zM74.4 39.5h2.8v2.3h-2.8zM105.8 39.5h2.8v2.3h-2.8zM113.1 39.5h2.8v2.3h-2.8zM57.5 41.5h7.6v2.3h-7.6zM74.4 41.5h2.8v2.3h-2.8zM81.7 41.5h5.2v2.3h-5.2zM103.4 41.5h5.2v2.3h-5.2zM117.9 41.5h2.8v2.3h-2.8zM127.5 41.5h2.8v2.3h-2.8zM139.6 41.5h2.8v2.3h-2.8zM161.3 41.5h5.2v2.3h-5.2zM57.5 43.5h10.0v2.3h-10.0zM76.8 43.5h2.8v2.3h-2.8zM93.7 43.5h2.8v2.3h-2.8zM98.6 43.5h2.8v2.3h-2.8zM105.8 43.5h2.8v2.3h-2.8zM120.3 43.5h7.6v2.3h-7.6zM130.0 43.5h2.8v2.3h-2.8zM139.6 43.5h2.8v2.3h-2.8zM154.1 43.5h2.8v2.3h-2.8zM163.8 43.5h2.8v2.3h-2.8zM173.4 43.5h2.8v2.3h-2.8zM59.9 45.5h2.8v2.3h-2.8zM64.8 45.5h2.8v2.3h-2.8zM96.1 45.5h2.8v2.3h-2.8zM101.0 45.5h5.2v2.3h-5.2zM110.6 45.5h2.8v2.3h-2.8zM120.3 45.5h2.8v2.3h-2.8zM132.4 45.5h5.2v2.3h-5.2zM67.2 47.5h2.8v2.3h-2.8zM72.0 47.5h5.2v2.3h-5.2zM96.1 47.5h2.8v2.3h-2.8zM103.4 47.5h2.8v2.3h-2.8zM108.2 47.5h2.8v2.3h-2.8zM137.2 47.5h2.8v2.3h-2.8zM146.9 47.5h2.8v2.3h-2.8zM166.2 47.5h2.8v2.3h-2.8zM50.3 49.5h2.8v2.3h-2.8zM59.9 49.5h2.8v2.3h-2.8zM86.5 49.5h2.8v2.3h-2.8zM108.2 49.5h2.8v2.3h-2.8zM125.1 49.5h2.8v2.3h-2.8zM137.2 49.5h7.6v2.3h-7.6zM173.4 49.5h2.8v2.3h-2.8zM178.3 49.5h5.2v2.3h-5.2zM50.3 51.5h2.8v2.3h-2.8zM57.5 51.5h2.8v2.3h-2.8zM62.3 51.5h2.8v2.3h-2.8zM84.1 51.5h2.8v2.3h-2.8zM88.9 51.5h5.2v2.3h-5.2zM105.8 51.5h2.8v2.3h-2.8zM125.1 51.5h2.8v2.3h-2.8zM45.4 53.5h2.8v2.3h-2.8zM50.3 53.5h2.8v2.3h-2.8zM55.1 53.5h7.6v2.3h-7.6zM84.1 53.5h2.8v2.3h-2.8zM88.9 53.5h10.0v2.3h-10.0zM101.0 53.5h2.8v2.3h-2.8zM108.2 53.5h2.8v2.3h-2.8zM122.7 53.5h5.2v2.3h-5.2zM175.8 53.5h2.8v2.3h-2.8zM55.1 55.5h2.8v2.3h-2.8zM79.2 55.5h5.2v2.3h-5.2zM115.5 55.5h2.8v2.3h-2.8zM125.1 55.5h2.8v2.3h-2.8zM139.6 55.5h2.8v2.3h-2.8zM173.4 55.5h2.8v2.3h-2.8zM183.1 55.5h2.8v2.3h-2.8zM74.4 57.5h2.8v2.3h-2.8zM98.6 57.5h2.8v2.3h-2.8zM43.0 59.5h2.8v2.3h-2.8zM96.1 59.5h5.2v2.3h-5.2zM108.2 59.5h2.8v2.3h-2.8zM115.5 59.5h2.8v2.3h-2.8zM127.5 59.5h2.8v2.3h-2.8zM137.2 59.5h2.8v2.3h-2.8zM178.3 59.5h2.8v2.3h-2.8zM50.3 61.5h5.2v2.3h-5.2zM67.2 61.5h2.8v2.3h-2.8zM86.5 61.5h2.8v2.3h-2.8zM130.0 61.5h2.8v2.3h-2.8zM171.0 61.5h2.8v2.3h-2.8zM38.2 63.5h2.8v2.3h-2.8zM43.0 63.5h2.8v2.3h-2.8zM50.3 63.5h7.6v2.3h-7.6zM122.7 63.5h2.8v2.3h-2.8zM130.0 63.5h2.8v2.3h-2.8zM168.6 63.5h2.8v2.3h-2.8zM110.6 65.5h2.8v2.3h-2.8zM122.7 65.5h5.2v2.3h-5.2zM161.3 65.5h7.6v2.3h-7.6zM38.2 67.4h2.8v2.3h-2.8zM45.4 67.4h2.8v2.3h-2.8zM108.2 67.4h2.8v2.3h-2.8zM120.3 67.4h2.8v2.3h-2.8zM154.1 67.4h10.0v2.3h-10.0zM166.2 67.4h2.8v2.3h-2.8zM43.0 69.4h2.8v2.3h-2.8zM74.4 69.4h2.8v2.3h-2.8zM130.0 69.4h2.8v2.3h-2.8zM35.8 71.4h2.8v2.3h-2.8zM43.0 71.4h2.8v2.3h-2.8zM69.6 71.4h5.2v2.3h-5.2zM127.5 71.4h2.8v2.3h-2.8zM142.0 71.4h2.8v2.3h-2.8zM146.9 71.4h2.8v2.3h-2.8zM158.9 71.4h2.8v2.3h-2.8zM35.8 73.4h2.8v2.3h-2.8zM40.6 73.4h5.2v2.3h-5.2zM130.0 73.4h2.8v2.3h-2.8zM134.8 73.4h5.2v2.3h-5.2zM142.0 73.4h5.2v2.3h-5.2zM38.2 75.4h5.2v2.3h-5.2zM64.8 75.4h2.8v2.3h-2.8zM69.6 75.4h2.8v2.3h-2.8zM74.4 75.4h2.8v2.3h-2.8zM113.1 75.4h2.8v2.3h-2.8zM226.6 75.4h2.8v2.3h-2.8zM43.0 77.4h5.2v2.3h-5.2zM67.2 77.4h2.8v2.3h-2.8zM72.0 77.4h2.8v2.3h-2.8zM76.8 77.4h2.8v2.3h-2.8zM214.5 77.4h2.8v2.3h-2.8zM233.8 77.4h2.8v2.3h-2.8zM35.8 79.4h2.8v2.3h-2.8zM43.0 79.4h2.8v2.3h-2.8zM67.2 79.4h2.8v2.3h-2.8zM74.4 79.4h5.2v2.3h-5.2zM84.1 79.4h2.8v2.3h-2.8zM105.8 79.4h2.8v2.3h-2.8zM117.9 79.4h5.2v2.3h-5.2zM125.1 79.4h2.8v2.3h-2.8zM142.0 79.4h2.8v2.3h-2.8zM146.9 79.4h5.2v2.3h-5.2zM224.1 79.4h2.8v2.3h-2.8zM243.5 79.4h2.8v2.3h-2.8zM74.4 81.4h2.8v2.3h-2.8zM117.9 81.4h7.6v2.3h-7.6zM137.2 81.4h2.8v2.3h-2.8zM149.3 81.4h5.2v2.3h-5.2zM231.4 81.4h2.8v2.3h-2.8zM245.9 81.4h2.8v2.3h-2.8zM35.8 83.4h2.8v2.3h-2.8zM69.6 83.4h5.2v2.3h-5.2zM81.7 83.4h2.8v2.3h-2.8zM120.3 83.4h2.8v2.3h-2.8zM127.5 83.4h5.2v2.3h-5.2zM142.0 83.4h7.6v2.3h-7.6zM151.7 83.4h2.8v2.3h-2.8zM187.9 83.4h2.8v2.3h-2.8zM226.6 83.4h2.8v2.3h-2.8zM231.4 83.4h2.8v2.3h-2.8zM243.5 83.4h2.8v2.3h-2.8zM250.7 83.4h2.8v2.3h-2.8zM45.4 85.4h2.8v2.3h-2.8zM52.7 85.4h2.8v2.3h-2.8zM62.3 85.4h2.8v2.3h-2.8zM67.2 85.4h2.8v2.3h-2.8zM113.1 85.4h7.6v2.3h-7.6zM130.0 85.4h2.8v2.3h-2.8zM134.8 85.4h5.2v2.3h-5.2zM173.4 85.4h2.8v2.3h-2.8zM236.2 85.4h2.8v2.3h-2.8zM245.9 85.4h5.2v2.3h-5.2zM45.4 87.4h2.8v2.3h-2.8zM76.8 87.4h2.8v2.3h-2.8zM113.1 87.4h10.0v2.3h-10.0zM127.5 87.4h2.8v2.3h-2.8zM134.8 87.4h5.2v2.3h-5.2zM151.7 87.4h2.8v2.3h-2.8zM171.0 87.4h2.8v2.3h-2.8zM238.6 87.4h5.2v2.3h-5.2zM43.0 89.4h2.8v2.3h-2.8zM76.8 89.4h2.8v2.3h-2.8zM86.5 89.4h2.8v2.3h-2.8zM93.7 89.4h2.8v2.3h-2.8zM168.6 89.4h2.8v2.3h-2.8zM214.5 89.4h2.8v2.3h-2.8zM224.1 89.4h2.8v2.3h-2.8zM236.2 89.4h2.8v2.3h-2.8zM241.0 89.4h5.2v2.3h-5.2zM67.2 91.4h2.8v2.3h-2.8zM88.9 91.4h2.8v2.3h-2.8zM93.7 91.4h2.8v2.3h-2.8zM115.5 91.4h2.8v2.3h-2.8zM171.0 91.4h2.8v2.3h-2.8zM233.8 91.4h5.2v2.3h-5.2zM101.0 93.4h2.8v2.3h-2.8zM113.1 93.4h2.8v2.3h-2.8zM154.1 93.4h2.8v2.3h-2.8zM166.2 93.4h2.8v2.3h-2.8zM173.4 93.4h2.8v2.3h-2.8zM229.0 93.4h2.8v2.3h-2.8zM233.8 93.4h2.8v2.3h-2.8zM91.3 95.4h2.8v2.3h-2.8zM96.1 95.4h2.8v2.3h-2.8zM101.0 95.4h7.6v2.3h-7.6zM110.6 95.4h2.8v2.3h-2.8zM130.0 95.4h2.8v2.3h-2.8zM142.0 95.4h2.8v2.3h-2.8zM146.9 95.4h2.8v2.3h-2.8zM168.6 95.4h2.8v2.3h-2.8zM183.1 95.4h2.8v2.3h-2.8zM197.6 95.4h2.8v2.3h-2.8zM231.4 95.4h5.2v2.3h-5.2zM241.0 95.4h2.8v2.3h-2.8zM52.7 97.4h2.8v2.3h-2.8zM132.4 97.4h2.8v2.3h-2.8zM142.0 97.4h2.8v2.3h-2.8zM154.1 97.4h2.8v2.3h-2.8zM183.1 97.4h2.8v2.3h-2.8zM197.6 97.4h2.8v2.3h-2.8zM226.6 97.4h5.2v2.3h-5.2zM236.2 97.4h7.6v2.3h-7.6zM245.9 97.4h2.8v2.3h-2.8zM250.7 97.4h7.6v2.3h-7.6zM166.2 99.4h2.8v2.3h-2.8zM226.6 99.4h2.8v2.3h-2.8zM238.6 99.4h2.8v2.3h-2.8zM253.1 99.4h2.8v2.3h-2.8zM257.9 99.4h2.8v2.3h-2.8zM55.1 101.4h2.8v2.3h-2.8zM226.6 101.4h10.0v2.3h-10.0zM250.7 101.4h5.2v2.3h-5.2zM84.1 103.4h2.8v2.3h-2.8zM171.0 103.4h2.8v2.3h-2.8zM226.6 103.4h2.8v2.3h-2.8zM238.6 103.4h2.8v2.3h-2.8zM243.5 103.4h10.0v2.3h-10.0zM255.5 103.4h2.8v2.3h-2.8zM84.1 105.4h2.8v2.3h-2.8zM231.4 105.4h2.8v2.3h-2.8zM238.6 105.4h5.2v2.3h-5.2zM245.9 105.4h10.0v2.3h-10.0zM57.5 107.4h2.8v2.3h-2.8zM74.4 107.4h5.2v2.3h-5.2zM233.8 107.4h2.8v2.3h-2.8zM76.8 109.4h2.8v2.3h-2.8zM202.4 109.4h2.8v2.3h-2.8zM207.2 109.4h2.8v2.3h-2.8zM214.5 109.4h5.2v2.3h-5.2zM226.6 109.4h2.8v2.3h-2.8zM233.8 109.4h2.8v2.3h-2.8zM238.6 109.4h2.8v2.3h-2.8zM245.9 109.4h2.8v2.3h-2.8zM88.9 111.4h2.8v2.3h-2.8zM209.7 111.4h2.8v2.3h-2.8zM216.9 111.4h2.8v2.3h-2.8zM231.4 111.4h5.2v2.3h-5.2zM69.6 113.4h2.8v2.3h-2.8zM236.2 113.4h2.8v2.3h-2.8zM241.0 113.4h2.8v2.3h-2.8zM86.5 115.4h2.8v2.3h-2.8zM91.3 115.4h2.8v2.3h-2.8zM108.2 115.4h2.8v2.3h-2.8zM190.3 115.4h2.8v2.3h-2.8zM207.2 115.4h2.8v2.3h-2.8zM219.3 115.4h2.8v2.3h-2.8zM229.0 115.4h2.8v2.3h-2.8zM241.0 115.4h5.2v2.3h-5.2zM84.1 117.4h7.6v2.3h-7.6zM207.2 117.4h2.8v2.3h-2.8zM224.1 117.4h2.8v2.3h-2.8zM231.4 117.4h2.8v2.3h-2.8zM236.2 117.4h7.6v2.3h-7.6zM86.5 119.4h7.6v2.3h-7.6zM180.7 119.4h2.8v2.3h-2.8zM195.2 119.4h5.2v2.3h-5.2zM207.2 119.4h2.8v2.3h-2.8zM221.7 119.4h7.6v2.3h-7.6zM236.2 119.4h2.8v2.3h-2.8zM88.9 121.4h2.8v2.3h-2.8zM96.1 121.4h2.8v2.3h-2.8zM139.6 121.4h5.2v2.3h-5.2zM180.7 121.4h2.8v2.3h-2.8zM195.2 121.4h2.8v2.3h-2.8zM209.7 121.4h2.8v2.3h-2.8zM216.9 121.4h2.8v2.3h-2.8zM233.8 121.4h2.8v2.3h-2.8zM238.6 121.4h2.8v2.3h-2.8zM96.1 123.4h2.8v2.3h-2.8zM175.8 123.4h2.8v2.3h-2.8zM180.7 123.4h2.8v2.3h-2.8zM195.2 123.4h2.8v2.3h-2.8zM204.8 123.4h2.8v2.3h-2.8zM209.7 123.4h2.8v2.3h-2.8zM221.7 123.4h2.8v2.3h-2.8zM231.4 123.4h2.8v2.3h-2.8zM238.6 123.4h2.8v2.3h-2.8zM101.0 125.4h5.2v2.3h-5.2zM137.2 125.4h2.8v2.3h-2.8zM190.3 125.4h2.8v2.3h-2.8zM212.1 125.4h2.8v2.3h-2.8zM224.1 125.4h2.8v2.3h-2.8zM229.0 125.4h2.8v2.3h-2.8zM233.8 125.4h7.6v2.3h-7.6zM98.6 127.4h2.8v2.3h-2.8zM103.4 127.4h2.8v2.3h-2.8zM108.2 127.4h2.8v2.3h-2.8zM171.0 127.4h2.8v2.3h-2.8zM175.8 127.4h5.2v2.3h-5.2zM183.1 127.4h2.8v2.3h-2.8zM187.9 127.4h2.8v2.3h-2.8zM195.2 127.4h5.2v2.3h-5.2zM219.3 127.4h2.8v2.3h-2.8zM233.8 127.4h2.8v2.3h-2.8zM108.2 129.4h2.8v2.3h-2.8zM171.0 129.4h2.8v2.3h-2.8zM178.3 129.4h2.8v2.3h-2.8zM183.1 129.4h5.2v2.3h-5.2zM195.2 129.4h2.8v2.3h-2.8zM202.4 129.4h5.2v2.3h-5.2zM209.7 129.4h5.2v2.3h-5.2zM108.2 131.4h5.2v2.3h-5.2zM115.5 131.4h2.8v2.3h-2.8zM175.8 131.4h7.6v2.3h-7.6zM187.9 131.4h2.8v2.3h-2.8zM192.7 131.4h2.8v2.3h-2.8zM204.8 131.4h12.4v2.3h-12.4zM231.4 131.4h5.2v2.3h-5.2zM108.2 133.4h5.2v2.3h-5.2zM175.8 133.4h2.8v2.3h-2.8zM183.1 133.4h2.8v2.3h-2.8zM202.4 133.4h2.8v2.3h-2.8zM214.5 133.4h5.2v2.3h-5.2zM221.7 133.4h2.8v2.3h-2.8zM231.4 133.4h2.8v2.3h-2.8zM110.6 135.4h2.8v2.3h-2.8zM115.5 135.4h2.8v2.3h-2.8zM168.6 135.4h2.8v2.3h-2.8zM178.3 135.4h7.6v2.3h-7.6zM187.9 135.4h2.8v2.3h-2.8zM214.5 135.4h5.2v2.3h-5.2zM221.7 135.4h2.8v2.3h-2.8zM229.0 135.4h5.2v2.3h-5.2zM238.6 135.4h2.8v2.3h-2.8zM115.5 137.4h2.8v2.3h-2.8zM146.9 137.4h2.8v2.3h-2.8zM163.8 137.4h5.2v2.3h-5.2zM171.0 137.4h5.2v2.3h-5.2zM180.7 137.4h2.8v2.3h-2.8zM185.5 137.4h5.2v2.3h-5.2zM192.7 137.4h2.8v2.3h-2.8zM202.4 137.4h5.2v2.3h-5.2zM209.7 137.4h2.8v2.3h-2.8zM219.3 137.4h7.6v2.3h-7.6zM229.0 137.4h10.0v2.3h-10.0zM115.5 139.4h5.2v2.3h-5.2zM168.6 139.4h2.8v2.3h-2.8zM180.7 139.4h2.8v2.3h-2.8zM185.5 139.4h2.8v2.3h-2.8zM190.3 139.4h2.8v2.3h-2.8zM200.0 139.4h5.2v2.3h-5.2zM212.1 139.4h2.8v2.3h-2.8zM226.6 139.4h5.2v2.3h-5.2zM236.2 139.4h2.8v2.3h-2.8zM192.7 141.4h7.6v2.3h-7.6zM209.7 141.4h2.8v2.3h-2.8zM219.3 141.4h2.8v2.3h-2.8zM226.6 141.4h5.2v2.3h-5.2zM158.9 143.4h5.2v2.3h-5.2zM173.4 143.4h2.8v2.3h-2.8zM187.9 143.4h5.2v2.3h-5.2zM200.0 143.4h2.8v2.3h-2.8zM212.1 143.4h2.8v2.3h-2.8zM216.9 143.4h2.8v2.3h-2.8zM221.7 143.4h7.6v2.3h-7.6zM120.3 145.4h2.8v2.3h-2.8zM161.3 145.4h2.8v2.3h-2.8zM171.0 145.4h2.8v2.3h-2.8zM180.7 145.4h5.2v2.3h-5.2zM187.9 145.4h2.8v2.3h-2.8zM195.2 145.4h2.8v2.3h-2.8zM202.4 145.4h2.8v2.3h-2.8zM209.7 145.4h2.8v2.3h-2.8zM214.5 145.4h5.2v2.3h-5.2zM221.7 145.4h2.8v2.3h-2.8zM117.9 147.3h2.8v2.3h-2.8zM168.6 147.3h2.8v2.3h-2.8zM180.7 147.3h5.2v2.3h-5.2zM187.9 147.3h5.2v2.3h-5.2zM197.6 147.3h5.2v2.3h-5.2zM204.8 147.3h2.8v2.3h-2.8zM209.7 147.3h5.2v2.3h-5.2zM219.3 147.3h5.2v2.3h-5.2zM229.0 147.3h2.8v2.3h-2.8zM117.9 149.3h2.8v2.3h-2.8zM161.3 149.3h7.6v2.3h-7.6zM192.7 149.3h2.8v2.3h-2.8zM207.2 149.3h7.6v2.3h-7.6zM216.9 149.3h5.2v2.3h-5.2zM171.0 151.3h5.2v2.3h-5.2zM207.2 151.3h2.8v2.3h-2.8zM212.1 151.3h2.8v2.3h-2.8zM219.3 151.3h2.8v2.3h-2.8zM113.1 153.3h2.8v2.3h-2.8zM173.4 153.3h10.0v2.3h-10.0zM197.6 153.3h2.8v2.3h-2.8zM216.9 153.3h2.8v2.3h-2.8zM224.1 153.3h2.8v2.3h-2.8zM113.1 155.3h2.8v2.3h-2.8zM166.2 155.3h2.8v2.3h-2.8zM171.0 155.3h5.2v2.3h-5.2zM180.7 155.3h5.2v2.3h-5.2zM200.0 155.3h10.0v2.3h-10.0zM221.7 155.3h2.8v2.3h-2.8zM127.5 157.3h2.8v2.3h-2.8zM132.4 157.3h2.8v2.3h-2.8zM178.3 157.3h2.8v2.3h-2.8zM183.1 157.3h2.8v2.3h-2.8zM187.9 157.3h5.2v2.3h-5.2zM202.4 157.3h7.6v2.3h-7.6zM219.3 157.3h2.8v2.3h-2.8zM224.1 157.3h2.8v2.3h-2.8zM130.0 159.3h2.8v2.3h-2.8zM144.4 159.3h2.8v2.3h-2.8zM166.2 159.3h2.8v2.3h-2.8zM180.7 159.3h10.0v2.3h-10.0zM197.6 159.3h2.8v2.3h-2.8zM204.8 159.3h2.8v2.3h-2.8zM113.1 161.3h2.8v2.3h-2.8zM163.8 161.3h2.8v2.3h-2.8zM173.4 161.3h2.8v2.3h-2.8zM180.7 161.3h2.8v2.3h-2.8zM185.5 161.3h2.8v2.3h-2.8zM195.2 161.3h10.0v2.3h-10.0zM178.3 163.3h2.8v2.3h-2.8zM183.1 163.3h2.8v2.3h-2.8zM200.0 163.3h2.8v2.3h-2.8zM103.4 165.3h2.8v2.3h-2.8zM110.6 165.3h2.8v2.3h-2.8zM166.2 165.3h5.2v2.3h-5.2zM173.4 165.3h2.8v2.3h-2.8zM190.3 165.3h7.6v2.3h-7.6zM113.1 167.3h2.8v2.3h-2.8zM171.0 167.3h2.8v2.3h-2.8zM190.3 167.3h2.8v2.3h-2.8zM110.6 169.3h2.8v2.3h-2.8zM187.9 169.3h2.8v2.3h-2.8zM105.8 171.3h2.8v2.3h-2.8zM110.6 171.3h5.2v2.3h-5.2zM168.6 171.3h2.8v2.3h-2.8zM110.6 173.3h2.8v2.3h-2.8zM161.3 173.3h2.8v2.3h-2.8zM171.0 173.3h2.8v2.3h-2.8zM175.8 173.3h2.8v2.3h-2.8zM187.9 173.3h2.8v2.3h-2.8zM113.1 175.3h2.8v2.3h-2.8zM151.7 175.3h5.2v2.3h-5.2zM158.9 175.3h2.8v2.3h-2.8zM163.8 175.3h17.3v2.3h-17.3zM117.9 177.3h2.8v2.3h-2.8zM161.3 177.3h5.2v2.3h-5.2zM173.4 177.3h5.2v2.3h-5.2zM183.1 177.3h2.8v2.3h-2.8zM117.9 179.3h10.0v2.3h-10.0zM149.3 179.3h2.8v2.3h-2.8zM158.9 179.3h5.2v2.3h-5.2zM168.6 179.3h2.8v2.3h-2.8zM173.4 179.3h5.2v2.3h-5.2zM190.3 179.3h2.8v2.3h-2.8zM120.3 181.3h2.8v2.3h-2.8zM154.1 181.3h2.8v2.3h-2.8zM171.0 181.3h2.8v2.3h-2.8zM175.8 181.3h2.8v2.3h-2.8zM108.2 183.3h2.8v2.3h-2.8zM113.1 183.3h5.2v2.3h-5.2zM120.3 183.3h5.2v2.3h-5.2zM127.5 183.3h2.8v2.3h-2.8zM132.4 183.3h5.2v2.3h-5.2zM171.0 183.3h2.8v2.3h-2.8zM110.6 185.3h2.8v2.3h-2.8zM125.1 185.3h2.8v2.3h-2.8zM132.4 185.3h5.2v2.3h-5.2zM142.0 185.3h2.8v2.3h-2.8zM178.3 185.3h5.2v2.3h-5.2zM103.4 187.3h2.8v2.3h-2.8zM117.9 187.3h2.8v2.3h-2.8zM132.4 187.3h5.2v2.3h-5.2zM139.6 187.3h5.2v2.3h-5.2zM146.9 187.3h2.8v2.3h-2.8zM151.7 187.3h2.8v2.3h-2.8zM173.4 187.3h2.8v2.3h-2.8zM127.5 189.3h2.8v2.3h-2.8zM132.4 189.3h2.8v2.3h-2.8zM137.2 189.3h2.8v2.3h-2.8zM142.0 189.3h2.8v2.3h-2.8zM171.0 189.3h2.8v2.3h-2.8zM120.3 191.3h2.8v2.3h-2.8zM127.5 191.3h5.2v2.3h-5.2zM137.2 191.3h2.8v2.3h-2.8zM142.0 191.3h2.8v2.3h-2.8zM117.9 193.3h2.8v2.3h-2.8zM132.4 193.3h2.8v2.3h-2.8zM137.2 193.3h7.6v2.3h-7.6zM173.4 193.3h2.8v2.3h-2.8zM110.6 195.3h2.8v2.3h-2.8zM130.0 195.3h2.8v2.3h-2.8zM139.6 195.3h2.8v2.3h-2.8zM76.8 197.3h2.8v2.3h-2.8zM142.0 199.3h2.8v2.3h-2.8zM76.8 201.3h2.8v2.3h-2.8zM115.5 201.3h2.8v2.3h-2.8zM144.4 201.3h2.8v2.3h-2.8zM74.4 203.3h5.2v2.3h-5.2zM81.7 203.3h2.8v2.3h-2.8zM103.4 203.3h2.8v2.3h-2.8zM81.7 205.3h5.2v2.3h-5.2zM81.7 207.3h2.8v2.3h-2.8zM74.4 209.3h2.8v2.3h-2.8zM86.5 209.3h2.8v2.3h-2.8zM81.7 211.3h2.8v2.3h-2.8z"/>
<path fill="#90cfa8" d="M62.3 19.5h5.2v2.3h-5.2zM72.0 19.5h2.8v2.3h-2.8zM81.7 19.5h2.8v2.3h-2.8zM91.3 19.5h2.8v2.3h-2.8zM64.8 21.5h7.6v2.3h-7.6zM88.9 21.5h5.2v2.3h-5.2zM101.0 21.5h7.6v2.3h-7.6zM120.3 21.5h2.8v2.3h-2.8zM59.9 23.5h5.2v2.3h-5.2zM67.2 23.5h2.8v2.3h-2.8zM76.8 23.5h10.0v2.3h-10.0zM91.3 23.5h2.8v2.3h-2.8zM101.0 23.5h5.2v2.3h-5.2zM120.3 23.5h2.8v2.3h-2.8zM130.0 23.5h2.8v2.3h-2.8zM40.6 25.5h10.0v2.3h-10.0zM59.9 25.5h5.2v2.3h-5.2zM76.8 25.5h2.8v2.3h-2.8zM117.9 25.5h5.2v2.3h-5.2zM132.4 25.5h2.8v2.3h-2.8zM30.9 27.5h5.2v2.3h-5.2zM40.6 27.5h5.2v2.3h-5.2zM47.8 27.5h2.8v2.3h-2.8zM59.9 27.5h2.8v2.3h-2.8zM64.8 27.5h5.2v2.3h-5.2zM74.4 27.5h2.8v2.3h-2.8zM93.7 27.5h2.8v2.3h-2.8zM120.3 27.5h2.8v2.3h-2.8zM130.0 27.5h5.2v2.3h-5.2zM28.5 29.5h10.0v2.3h-10.0zM40.6 29.5h2.8v2.3h-2.8zM52.7 29.5h2.8v2.3h-2.8zM57.5 29.5h2.8v2.3h-2.8zM62.3 29.5h2.8v2.3h-2.8zM67.2 29.5h2.8v2.3h-2.8zM122.7 29.5h2.8v2.3h-2.8zM132.4 29.5h5.2v2.3h-5.2zM28.5 31.5h2.8v2.3h-2.8zM35.8 31.5h2.8v2.3h-2.8zM43.0 31.5h2.8v2.3h-2.8zM50.3 31.5h5.2v2.3h-5.2zM64.8 31.5h2.8v2.3h-2.8zM74.4 31.5h5.2v2.3h-5.2zM88.9 31.5h2.8v2.3h-2.8zM98.6 31.5h2.8v2.3h-2.8zM105.8 31.5h2.8v2.3h-2.8zM30.9 33.5h2.8v2.3h-2.8zM50.3 33.5h2.8v2.3h-2.8zM57.5 33.5h5.2v2.3h-5.2zM67.2 33.5h2.8v2.3h-2.8zM72.0 33.5h5.2v2.3h-5.2zM81.7 33.5h7.6v2.3h-7.6zM101.0 33.5h2.8v2.3h-2.8zM115.5 33.5h2.8v2.3h-2.8zM122.7 33.5h2.8v2.3h-2.8zM127.5 33.5h2.8v2.3h-2.8zM38.2 35.5h2.8v2.3h-2.8zM57.5 35.5h2.8v2.3h-2.8zM62.3 35.5h2.8v2.3h-2.8zM67.2 35.5h2.8v2.3h-2.8zM74.4 35.5h2.8v2.3h-2.8zM84.1 35.5h2.8v2.3h-2.8zM91.3 35.5h2.8v2.3h-2.8zM103.4 35.5h5.2v2.3h-5.2zM117.9 35.5h12.4v2.3h-12.4zM86.5 37.5h2.8v2.3h-2.8zM93.7 37.5h2.8v2.3h-2.8zM103.4 37.5h2.8v2.3h-2.8zM108.2 37.5h2.8v2.3h-2.8zM125.1 37.5h2.8v2.3h-2.8zM62.3 39.5h2.8v2.3h-2.8zM69.6 39.5h2.8v2.3h-2.8zM76.8 39.5h7.6v2.3h-7.6zM86.5 39.5h2.8v2.3h-2.8zM103.4 39.5h2.8v2.3h-2.8zM122.7 39.5h5.2v2.3h-5.2zM69.6 41.5h5.2v2.3h-5.2zM76.8 41.5h2.8v2.3h-2.8zM91.3 41.5h2.8v2.3h-2.8zM101.0 41.5h2.8v2.3h-2.8zM122.7 41.5h2.8v2.3h-2.8zM69.6 43.5h2.8v2.3h-2.8zM81.7 43.5h2.8v2.3h-2.8zM86.5 43.5h2.8v2.3h-2.8zM103.4 43.5h2.8v2.3h-2.8zM67.2 45.5h5.2v2.3h-5.2zM79.2 45.5h2.8v2.3h-2.8zM88.9 45.5h2.8v2.3h-2.8zM125.1 45.5h7.6v2.3h-7.6zM57.5 47.5h5.2v2.3h-5.2zM64.8 47.5h2.8v2.3h-2.8zM76.8 47.5h5.2v2.3h-5.2zM91.3 47.5h5.2v2.3h-5.2zM98.6 47.5h5.2v2.3h-5.2zM127.5 47.5h2.8v2.3h-2.8zM132.4 47.5h5.2v2.3h-5.2zM62.3 49.5h5.2v2.3h-5.2zM69.6 49.5h2.8v2.3h-2.8zM74.4 49.5h2.8v2.3h-2.8zM91.3 49.5h2.8v2.3h-2.8zM98.6 49.5h5.2v2.3h-5.2zM130.0 49.5h2.8v2.3h-2.8zM69.6 51.5h2.8v2.3h-2.8zM86.5 51.5h2.8v2.3h-2.8zM93.7 51.5h5.2v2.3h-5.2zM108.2 51.5h2.8v2.3h-2.8zM137.2 51.5h2.8v2.3h-2.8zM175.8 51.5h7.6v2.3h-7.6zM72.0 53.5h2.8v2.3h-2.8zM81.7 53.5h2.8v2.3h-2.8zM86.5 53.5h2.8v2.3h-2.8zM113.1 53.5h2.8v2.3h-2.8zM137.2 53.5h2.8v2.3h-2.8zM180.7 53.5h2.8v2.3h-2.8zM175.8 55.5h2.8v2.3h-2.8zM45.4 57.5h2.8v2.3h-2.8zM55.1 57.5h2.8v2.3h-2.8zM72.0 57.5h2.8v2.3h-2.8zM113.1 57.5h2.8v2.3h-2.8zM139.6 57.5h2.8v2.3h-2.8zM173.4 57.5h2.8v2.3h-2.8zM175.8 59.5h2.8v2.3h-2.8zM38.2 61.5h2.8v2.3h-2.8zM173.4 61.5h2.8v2.3h-2.8zM185.5 61.5h2.8v2.3h-2.8zM40.6 63.5h2.8v2.3h-2.8zM64.8 63.5h2.8v2.3h-2.8zM132.4 63.5h2.8v2.3h-2.8zM171.0 63.5h5.2v2.3h-5.2zM185.5 63.5h5.2v2.3h-5.2zM38.2 65.5h7.6v2.3h-7.6zM57.5 65.5h2.8v2.3h-2.8zM168.6 65.5h2.8v2.3h-2.8zM190.3 65.5h2.8v2.3h-2.8zM43.0 67.4h2.8v2.3h-2.8zM163.8 67.4h2.8v2.3h-2.8zM171.0 67.4h2.8v2.3h-2.8zM185.5 67.4h2.8v2.3h-2.8zM195.2 67.4h2.8v2.3h-2.8zM204.8 67.4h2.8v2.3h-2.8zM33.4 69.4h5.2v2.3h-5.2zM151.7 69.4h2.8v2.3h-2.8zM156.5 69.4h2.8v2.3h-2.8zM183.1 69.4h2.8v2.3h-2.8zM202.4 69.4h2.8v2.3h-2.8zM33.4 71.4h2.8v2.3h-2.8zM38.2 71.4h5.2v2.3h-5.2zM149.3 71.4h2.8v2.3h-2.8zM209.7 71.4h5.2v2.3h-5.2zM72.0 73.4h2.8v2.3h-2.8zM72.0 75.4h2.8v2.3h-2.8zM130.0 75.4h5.2v2.3h-5.2zM139.6 75.4h2.8v2.3h-2.8zM224.1 75.4h2.8v2.3h-2.8zM229.0 75.4h5.2v2.3h-5.2zM69.6 77.4h2.8v2.3h-2.8zM74.4 77.4h2.8v2.3h-2.8zM127.5 77.4h2.8v2.3h-2.8zM221.7 77.4h5.2v2.3h-5.2zM231.4 77.4h2.8v2.3h-2.8zM241.0 77.4h2.8v2.3h-2.8zM72.0 79.4h2.8v2.3h-2.8zM79.2 79.4h2.8v2.3h-2.8zM127.5 79.4h2.8v2.3h-2.8zM134.8 79.4h5.2v2.3h-5.2zM144.4 79.4h2.8v2.3h-2.8zM187.9 79.4h2.8v2.3h-2.8zM226.6 79.4h12.4v2.3h-12.4zM241.0 79.4h2.8v2.3h-2.8zM69.6 81.4h2.8v2.3h-2.8zM84.1 81.4h2.8v2.3h-2.8zM125.1 81.4h5.2v2.3h-5.2zM132.4 81.4h2.8v2.3h-2.8zM139.6 81.4h7.6v2.3h-7.6zM180.7 81.4h2.8v2.3h-2.8zM187.9 81.4h5.2v2.3h-5.2zM224.1 81.4h7.6v2.3h-7.6zM233.8 81.4h5.2v2.3h-5.2zM241.0 81.4h5.2v2.3h-5.2zM103.4 83.4h2.8v2.3h-2.8zM122.7 83.4h5.2v2.3h-5.2zM173.4 83.4h5.2v2.3h-5.2zM229.0 83.4h2.8v2.3h-2.8zM233.8 83.4h2.8v2.3h-2.8zM241.0 83.4h2.8v2.3h-2.8zM245.9 83.4h2.8v2.3h-2.8zM253.1 83.4h2.8v2.3h-2.8zM47.8 85.4h2.8v2.3h-2.8zM55.1 85.4h5.2v2.3h-5.2zM64.8 85.4h2.8v2.3h-2.8zM69.6 85.4h2.8v2.3h-2.8zM125.1 85.4h5.2v2.3h-5.2zM151.7 85.4h2.8v2.3h-2.8zM166.2 85.4h2.8v2.3h-2.8zM187.9 85.4h2.8v2.3h-2.8zM200.0 85.4h2.8v2.3h-2.8zM224.1 85.4h2.8v2.3h-2.8zM231.4 85.4h5.2v2.3h-5.2zM243.5 85.4h2.8v2.3h-2.8zM50.3 87.4h2.8v2.3h-2.8zM62.3 87.4h12.4v2.3h-12.4zM122.7 87.4h2.8v2.3h-2.8zM130.0 87.4h5.2v2.3h-5.2zM139.6 87.4h2.8v2.3h-2.8zM144.4 87.4h7.6v2.3h-7.6zM156.5 87.4h2.8v2.3h-2.8zM163.8 87.4h2.8v2.3h-2.8zM175.8 87.4h2.8v2.3h-2.8zM209.7 87.4h2.8v2.3h-2.8zM214.5 87.4h2.8v2.3h-2.8zM229.0 87.4h2.8v2.3h-2.8zM233.8 87.4h5.2v2.3h-5.2zM50.3 89.4h2.8v2.3h-2.8zM72.0 89.4h2.8v2.3h-2.8zM84.1 89.4h2.8v2.3h-2.8zM117.9 89.4h7.6v2.3h-7.6zM134.8 89.4h2.8v2.3h-2.8zM154.1 89.4h2.8v2.3h-2.8zM163.8 89.4h5.2v2.3h-5.2zM171.0 89.4h2.8v2.3h-2.8zM192.7 89.4h2.8v2.3h-2.8zM197.6 89.4h7.6v2.3h-7.6zM207.2 89.4h2.8v2.3h-2.8zM221.7 89.4h2.8v2.3h-2.8zM226.6 89.4h2.8v2.3h-2.8zM238.6 89.4h2.8v2.3h-2.8zM64.8 91.4h2.8v2.3h-2.8zM91.3 91.4h2.8v2.3h-2.8zM98.6 91.4h2.8v2.3h-2.8zM113.1 91.4h2.8v2.3h-2.8zM117.9 91.4h2.8v2.3h-2.8zM132.4 91.4h2.8v2.3h-2.8zM151.7 91.4h7.6v2.3h-7.6zM163.8 91.4h5.2v2.3h-5.2zM200.0 91.4h5.2v2.3h-5.2zM209.7 91.4h5.2v2.3h-5.2zM216.9 91.4h2.8v2.3h-2.8zM226.6 91.4h5.2v2.3h-5.2zM241.0 91.4h2.8v2.3h-2.8zM50.3 93.4h2.8v2.3h-2.8zM84.1 93.4h2.8v2.3h-2.8zM91.3 93.4h7.6v2.3h-7.6zM130.0 93.4h2.8v2.3h-2.8zM171.0 93.4h2.8v2.3h-2.8zM185.5 93.4h2.8v2.3h-2.8zM204.8 93.4h5.2v2.3h-5.2zM224.1 93.4h5.2v2.3h-5.2zM231.4 93.4h2.8v2.3h-2.8zM236.2 93.4h5.2v2.3h-5.2zM50.3 95.4h2.8v2.3h-2.8zM76.8 95.4h2.8v2.3h-2.8zM88.9 95.4h2.8v2.3h-2.8zM139.6 95.4h2.8v2.3h-2.8zM144.4 95.4h2.8v2.3h-2.8zM149.3 95.4h5.2v2.3h-5.2zM166.2 95.4h2.8v2.3h-2.8zM195.2 95.4h2.8v2.3h-2.8zM202.4 95.4h2.8v2.3h-2.8zM207.2 95.4h2.8v2.3h-2.8zM212.1 95.4h5.2v2.3h-5.2zM221.7 95.4h2.8v2.3h-2.8zM226.6 95.4h2.8v2.3h-2.8zM238.6 95.4h2.8v2.3h-2.8zM245.9 95.4h2.8v2.3h-2.8zM110.6 97.4h2.8v2.3h-2.8zM130.0 97.4h2.8v2.3h-2.8zM134.8 97.4h2.8v2.3h-2.8zM139.6 97.4h2.8v2.3h-2.8zM144.4 97.4h2.8v2.3h-2.8zM163.8 97.4h2.8v2.3h-2.8zM192.7 97.4h2.8v2.3h-2.8zM200.0 97.4h2.8v2.3h-2.8zM207.2 97.4h2.8v2.3h-2.8zM212.1 97.4h2.8v2.3h-2.8zM224.1 97.4h2.8v2.3h-2.8zM55.1 99.4h2.8v2.3h-2.8zM62.3 99.4h2.8v2.3h-2.8zM134.8 99.4h2.8v2.3h-2.8zM151.7 99.4h2.8v2.3h-2.8zM171.0 99.4h2.8v2.3h-2.8zM178.3 99.4h2.8v2.3h-2.8zM187.9 99.4h2.8v2.3h-2.8zM204.8 99.4h2.8v2.3h-2.8zM212.1 99.4h2.8v2.3h-2.8zM229.0 99.4h2.8v2.3h-2.8zM250.7 99.4h2.8v2.3h-2.8zM74.4 101.4h2.8v2.3h-2.8zM190.3 101.4h2.8v2.3h-2.8zM200.0 101.4h7.6v2.3h-7.6zM212.1 101.4h2.8v2.3h-2.8zM248.3 101.4h2.8v2.3h-2.8zM55.1 103.4h2.8v2.3h-2.8zM74.4 103.4h10.0v2.3h-10.0zM144.4 103.4h2.8v2.3h-2.8zM156.5 103.4h2.8v2.3h-2.8zM166.2 103.4h5.2v2.3h-5.2zM185.5 103.4h5.2v2.3h-5.2zM197.6 103.4h5.2v2.3h-5.2zM214.5 103.4h2.8v2.3h-2.8zM229.0 103.4h5.2v2.3h-5.2zM253.1 103.4h2.8v2.3h-2.8zM57.5 105.4h5.2v2.3h-5.2zM74.4 105.4h2.8v2.3h-2.8zM86.5 105.4h2.8v2.3h-2.8zM120.3 105.4h2.8v2.3h-2.8zM154.1 105.4h2.8v2.3h-2.8zM158.9 105.4h2.8v2.3h-2.8zM183.1 105.4h2.8v2.3h-2.8zM202.4 105.4h5.2v2.3h-5.2zM209.7 105.4h2.8v2.3h-2.8zM214.5 105.4h2.8v2.3h-2.8zM229.0 105.4h2.8v2.3h-2.8zM233.8 105.4h2.8v2.3h-2.8zM59.9 107.4h2.8v2.3h-2.8zM88.9 107.4h2.8v2.3h-2.8zM120.3 107.4h2.8v2.3h-2.8zM134.8 107.4h2.8v2.3h-2.8zM154.1 107.4h2.8v2.3h-2.8zM166.2 107.4h5.2v2.3h-5.2zM187.9 107.4h2.8v2.3h-2.8zM200.0 107.4h10.0v2.3h-10.0zM214.5 107.4h2.8v2.3h-2.8zM226.6 107.4h7.6v2.3h-7.6zM248.3 107.4h2.8v2.3h-2.8zM62.3 109.4h2.8v2.3h-2.8zM74.4 109.4h2.8v2.3h-2.8zM200.0 109.4h2.8v2.3h-2.8zM204.8 109.4h2.8v2.3h-2.8zM74.4 111.4h2.8v2.3h-2.8zM110.6 111.4h2.8v2.3h-2.8zM115.5 111.4h2.8v2.3h-2.8zM183.1 111.4h2.8v2.3h-2.8zM187.9 111.4h5.2v2.3h-5.2zM200.0 111.4h2.8v2.3h-2.8zM207.2 111.4h2.8v2.3h-2.8zM214.5 111.4h2.8v2.3h-2.8zM226.6 111.4h5.2v2.3h-5.2zM64.8 113.4h5.2v2.3h-5.2zM88.9 113.4h2.8v2.3h-2.8zM101.0 113.4h2.8v2.3h-2.8zM115.5 113.4h2.8v2.3h-2.8zM120.3 113.4h5.2v2.3h-5.2zM173.4 113.4h2.8v2.3h-2.8zM187.9 113.4h2.8v2.3h-2.8zM207.2 113.4h5.2v2.3h-5.2zM214.5 113.4h7.6v2.3h-7.6zM226.6 113.4h5.2v2.3h-5.2zM233.8 113.4h2.8v2.3h-2.8zM238.6 113.4h2.8v2.3h-2.8zM88.9 115.4h2.8v2.3h-2.8zM93.7 115.4h2.8v2.3h-2.8zM173.4 115.4h2.8v2.3h-2.8zM187.9 115.4h2.8v2.3h-2.8zM197.6 115.4h5.2v2.3h-5.2zM209.7 115.4h5.2v2.3h-5.2zM216.9 115.4h2.8v2.3h-2.8zM226.6 115.4h2.8v2.3h-2.8zM231.4 115.4h5.2v2.3h-5.2zM238.6 115.4h2.8v2.3h-2.8zM108.2 117.4h5.2v2.3h-5.2zM125.1 117.4h2.8v2.3h-2.8zM137.2 117.4h2.8v2.3h-2.8zM183.1 117.4h2.8v2.3h-2.8zM192.7 117.4h2.8v2.3h-2.8zM197.6 117.4h2.8v2.3h-2.8zM202.4 117.4h2.8v2.3h-2.8zM209.7 117.4h2.8v2.3h-2.8zM214.5 117.4h5.2v2.3h-5.2zM226.6 117.4h2.8v2.3h-2.8zM110.6 119.4h2.8v2.3h-2.8zM142.0 119.4h2.8v2.3h-2.8zM146.9 119.4h2.8v2.3h-2.8zM151.7 119.4h2.8v2.3h-2.8zM168.6 119.4h5.2v2.3h-5.2zM175.8 119.4h2.8v2.3h-2.8zM200.0 119.4h2.8v2.3h-2.8zM204.8 119.4h2.8v2.3h-2.8zM219.3 119.4h2.8v2.3h-2.8zM231.4 119.4h5.2v2.3h-5.2zM91.3 121.4h2.8v2.3h-2.8zM108.2 121.4h2.8v2.3h-2.8zM130.0 121.4h2.8v2.3h-2.8zM144.4 121.4h2.8v2.3h-2.8zM171.0 121.4h7.6v2.3h-7.6zM185.5 121.4h2.8v2.3h-2.8zM204.8 121.4h5.2v2.3h-5.2zM212.1 121.4h5.2v2.3h-5.2zM219.3 121.4h5.2v2.3h-5.2zM231.4 121.4h2.8v2.3h-2.8zM91.3 123.4h2.8v2.3h-2.8zM113.1 123.4h2.8v2.3h-2.8zM144.4 123.4h2.8v2.3h-2.8zM151.7 123.4h2.8v2.3h-2.8zM163.8 123.4h2.8v2.3h-2.8zM171.0 123.4h5.2v2.3h-5.2zM178.3 123.4h2.8v2.3h-2.8zM183.1 123.4h2.8v2.3h-2.8zM187.9 123.4h7.6v2.3h-7.6zM197.6 123.4h2.8v2.3h-2.8zM202.4 123.4h2.8v2.3h-2.8zM207.2 123.4h2.8v2.3h-2.8zM212.1 123.4h7.6v2.3h-7.6zM229.0 123.4h2.8v2.3h-2.8zM98.6 125.4h2.8v2.3h-2.8zM127.5 125.4h2.8v2.3h-2.8zM151.7 125.4h2.8v2.3h-2.8zM168.6 125.4h2.8v2.3h-2.8zM175.8 125.4h7.6v2.3h-7.6zM185.5 125.4h5.2v2.3h-5.2zM200.0 125.4h12.4v2.3h-12.4zM214.5 125.4h7.6v2.3h-7.6zM226.6 125.4h2.8v2.3h-2.8zM231.4 125.4h2.8v2.3h-2.8zM105.8 127.4h2.8v2.3h-2.8zM110.6 127.4h2.8v2.3h-2.8zM122.7 127.4h2.8v2.3h-2.8zM137.2 127.4h2.8v2.3h-2.8zM163.8 127.4h2.8v2.3h-2.8zM168.6 127.4h2.8v2.3h-2.8zM173.4 127.4h2.8v2.3h-2.8zM190.3 127.4h5.2v2.3h-5.2zM202.4 127.4h7.6v2.3h-7.6zM212.1 127.4h7.6v2.3h-7.6zM226.6 127.4h2.8v2.3h-2.8zM231.4 127.4h2.8v2.3h-2.8zM236.2 127.4h5.2v2.3h-5.2zM105.8 129.4h2.8v2.3h-2.8zM115.5 129.4h2.8v2.3h-2.8zM158.9 129.4h2.8v2.3h-2.8zM163.8 129.4h5.2v2.3h-5.2zM173.4 129.4h5.2v2.3h-5.2zM219.3 129.4h5.2v2.3h-5.2zM226.6 129.4h2.8v2.3h-2.8zM238.6 129.4h2.8v2.3h-2.8zM103.4 131.4h2.8v2.3h-2.8zM163.8 131.4h2.8v2.3h-2.8zM171.0 131.4h5.2v2.3h-5.2zM183.1 131.4h5.2v2.3h-5.2zM195.2 131.4h5.2v2.3h-5.2zM216.9 131.4h2.8v2.3h-2.8zM221.7 131.4h10.0v2.3h-10.0zM236.2 131.4h2.8v2.3h-2.8zM132.4 133.4h2.8v2.3h-2.8zM137.2 133.4h2.8v2.3h-2.8zM149.3 133.4h2.8v2.3h-2.8zM158.9 133.4h2.8v2.3h-2.8zM173.4 133.4h2.8v2.3h-2.8zM178.3 133.4h2.8v2.3h-2.8zM192.7 133.4h2.8v2.3h-2.8zM200.0 133.4h2.8v2.3h-2.8zM207.2 133.4h2.8v2.3h-2.8zM212.1 133.4h2.8v2.3h-2.8zM219.3 133.4h2.8v2.3h-2.8zM224.1 133.4h2.8v2.3h-2.8zM137.2 135.4h2.8v2.3h-2.8zM146.9 135.4h2.8v2.3h-2.8zM163.8 135.4h2.8v2.3h-2.8zM173.4 135.4h2.8v2.3h-2.8zM185.5 135.4h2.8v2.3h-2.8zM195.2 135.4h12.4v2.3h-12.4zM209.7 135.4h5.2v2.3h-5.2zM219.3 135.4h2.8v2.3h-2.8zM224.1 135.4h5.2v2.3h-5.2zM117.9 137.4h5.2v2.3h-5.2zM158.9 137.4h2.8v2.3h-2.8zM168.6 137.4h2.8v2.3h-2.8zM178.3 137.4h2.8v2.3h-2.8zM195.2 137.4h7.6v2.3h-7.6zM207.2 137.4h2.8v2.3h-2.8zM212.1 137.4h7.6v2.3h-7.6zM122.7 139.4h2.8v2.3h-2.8zM127.5 139.4h2.8v2.3h-2.8zM166.2 139.4h2.8v2.3h-2.8zM171.0 139.4h2.8v2.3h-2.8zM192.7 139.4h2.8v2.3h-2.8zM204.8 139.4h2.8v2.3h-2.8zM214.5 139.4h2.8v2.3h-2.8zM219.3 139.4h5.2v2.3h-5.2zM115.5 141.4h2.8v2.3h-2.8zM120.3 141.4h2.8v2.3h-2.8zM139.6 141.4h2.8v2.3h-2.8zM158.9 141.4h2.8v2.3h-2.8zM166.2 141.4h2.8v2.3h-2.8zM200.0 141.4h7.6v2.3h-7.6zM212.1 141.4h5.2v2.3h-5.2zM221.7 141.4h2.8v2.3h-2.8zM156.5 143.4h2.8v2.3h-2.8zM163.8 143.4h5.2v2.3h-5.2zM183.1 143.4h2.8v2.3h-2.8zM192.7 143.4h5.2v2.3h-5.2zM202.4 143.4h2.8v2.3h-2.8zM214.5 143.4h2.8v2.3h-2.8zM219.3 143.4h2.8v2.3h-2.8zM113.1 145.4h5.2v2.3h-5.2zM130.0 145.4h2.8v2.3h-2.8zM149.3 145.4h2.8v2.3h-2.8zM158.9 145.4h2.8v2.3h-2.8zM163.8 145.4h2.8v2.3h-2.8zM185.5 145.4h2.8v2.3h-2.8zM190.3 145.4h2.8v2.3h-2.8zM200.0 145.4h2.8v2.3h-2.8zM212.1 145.4h2.8v2.3h-2.8zM219.3 145.4h2.8v2.3h-2.8zM224.1 145.4h2.8v2.3h-2.8zM120.3 147.3h2.8v2.3h-2.8zM154.1 147.3h2.8v2.3h-2.8zM161.3 147.3h2.8v2.3h-2.8zM166.2 147.3h2.8v2.3h-2.8zM171.0 147.3h2.8v2.3h-2.8zM185.5 147.3h2.8v2.3h-2.8zM195.2 147.3h2.8v2.3h-2.8zM202.4 147.3h2.8v2.3h-2.8zM214.5 147.3h2.8v2.3h-2.8zM115.5 149.3h2.8v2.3h-2.8zM130.0 149.3h2.8v2.3h-2.8zM151.7 149.3h2.8v2.3h-2.8zM168.6 149.3h2.8v2.3h-2.8zM190.3 149.3h2.8v2.3h-2.8zM197.6 149.3h2.8v2.3h-2.8zM202.4 149.3h5.2v2.3h-5.2zM214.5 149.3h2.8v2.3h-2.8zM229.0 149.3h2.8v2.3h-2.8zM115.5 151.3h7.6v2.3h-7.6zM142.0 151.3h2.8v2.3h-2.8zM146.9 151.3h2.8v2.3h-2.8zM163.8 151.3h2.8v2.3h-2.8zM168.6 151.3h2.8v2.3h-2.8zM187.9 151.3h2.8v2.3h-2.8zM192.7 151.3h2.8v2.3h-2.8zM197.6 151.3h2.8v2.3h-2.8zM202.4 151.3h5.2v2.3h-5.2zM115.5 153.3h2.8v2.3h-2.8zM163.8 153.3h7.6v2.3h-7.6zM190.3 153.3h7.6v2.3h-7.6zM200.0 153.3h10.0v2.3h-10.0zM168.6 155.3h2.8v2.3h-2.8zM185.5 155.3h7.6v2.3h-7.6zM197.6 155.3h2.8v2.3h-2.8zM113.1 157.3h2.8v2.3h-2.8zM163.8 157.3h2.8v2.3h-2.8zM168.6 157.3h5.2v2.3h-5.2zM175.8 157.3h2.8v2.3h-2.8zM180.7 157.3h2.8v2.3h-2.8zM185.5 157.3h2.8v2.3h-2.8zM192.7 157.3h5.2v2.3h-5.2zM200.0 157.3h2.8v2.3h-2.8zM168.6 159.3h12.4v2.3h-12.4zM190.3 159.3h2.8v2.3h-2.8zM195.2 159.3h2.8v2.3h-2.8zM200.0 159.3h2.8v2.3h-2.8zM175.8 161.3h5.2v2.3h-5.2zM187.9 161.3h5.2v2.3h-5.2zM113.1 163.3h2.8v2.3h-2.8zM132.4 163.3h2.8v2.3h-2.8zM166.2 163.3h7.6v2.3h-7.6zM180.7 163.3h2.8v2.3h-2.8zM185.5 163.3h10.0v2.3h-10.0zM197.6 163.3h2.8v2.3h-2.8zM115.5 165.3h2.8v2.3h-2.8zM171.0 165.3h2.8v2.3h-2.8zM175.8 165.3h10.0v2.3h-10.0zM163.8 167.3h5.2v2.3h-5.2zM175.8 167.3h2.8v2.3h-2.8zM185.5 167.3h5.2v2.3h-5.2zM192.7 167.3h5.2v2.3h-5.2zM113.1 169.3h2.8v2.3h-2.8zM137.2 169.3h5.2v2.3h-5.2zM166.2 169.3h2.8v2.3h-2.8zM171.0 169.3h2.8v2.3h-2.8zM180.7 169.3h2.8v2.3h-2.8zM190.3 169.3h2.8v2.3h-2.8zM130.0 171.3h2.8v2.3h-2.8zM137.2 171.3h5.2v2.3h-5.2zM163.8 171.3h5.2v2.3h-5.2zM171.0 171.3h5.2v2.3h-5.2zM187.9 171.3h5.2v2.3h-5.2zM115.5 173.3h2.8v2.3h-2.8zM130.0 173.3h2.8v2.3h-2.8zM137.2 173.3h2.8v2.3h-2.8zM151.7 173.3h2.8v2.3h-2.8zM158.9 173.3h2.8v2.3h-2.8zM166.2 173.3h2.8v2.3h-2.8zM173.4 173.3h2.8v2.3h-2.8zM117.9 175.3h2.8v2.3h-2.8zM139.6 175.3h5.2v2.3h-5.2zM149.3 175.3h2.8v2.3h-2.8zM156.5 175.3h2.8v2.3h-2.8zM161.3 175.3h2.8v2.3h-2.8zM180.7 175.3h5.2v2.3h-5.2zM187.9 175.3h5.2v2.3h-5.2zM115.5 177.3h2.8v2.3h-2.8zM122.7 177.3h2.8v2.3h-2.8zM144.4 177.3h2.8v2.3h-2.8zM149.3 177.3h12.4v2.3h-12.4zM171.0 177.3h2.8v2.3h-2.8zM180.7 177.3h2.8v2.3h-2.8zM185.5 177.3h7.6v2.3h-7.6zM115.5 179.3h2.8v2.3h-2.8zM132.4 179.3h5.2v2.3h-5.2zM144.4 179.3h2.8v2.3h-2.8zM156.5 179.3h2.8v2.3h-2.8zM171.0 179.3h2.8v2.3h-2.8zM178.3 179.3h2.8v2.3h-2.8zM185.5 179.3h2.8v2.3h-2.8zM115.5 181.3h2.8v2.3h-2.8zM125.1 181.3h2.8v2.3h-2.8zM130.0 181.3h5.2v2.3h-5.2zM137.2 181.3h5.2v2.3h-5.2zM146.9 181.3h5.2v2.3h-5.2zM156.5 181.3h2.8v2.3h-2.8zM178.3 181.3h2.8v2.3h-2.8zM137.2 183.3h5.2v2.3h-5.2zM149.3 183.3h5.2v2.3h-5.2zM173.4 183.3h12.4v2.3h-12.4zM120.3 185.3h2.8v2.3h-2.8zM130.0 185.3h2.8v2.3h-2.8zM139.6 185.3h2.8v2.3h-2.8zM144.4 185.3h2.8v2.3h-2.8zM171.0 185.3h2.8v2.3h-2.8zM185.5 185.3h2.8v2.3h-2.8zM127.5 187.3h2.8v2.3h-2.8zM144.4 187.3h2.8v2.3h-2.8zM178.3 187.3h5.2v2.3h-5.2zM134.8 189.3h2.8v2.3h-2.8zM139.6 189.3h2.8v2.3h-2.8zM180.7 191.3h2.8v2.3h-2.8zM175.8 193.3h5.2v2.3h-5.2zM127.5 197.3h2.8v2.3h-2.8zM76.8 199.3h7.6v2.3h-7.6zM79.2 201.3h5.2v2.3h-5.2zM139.6 201.3h2.8v2.3h-2.8zM79.2 203.3h2.8v2.3h-2.8zM117.9 203.3h2.8v2.3h-2.8zM74.4 205.3h2.8v2.3h-2.8zM72.0 207.3h7.6v2.3h-7.6zM81.7 209.3h5.2v2.3h-5.2zM79.2 211.3h2.8v2.3h-2.8z"/>
<path fill="#c8e25a" d="M74.4 17.5h2.8v2.3h-2.8zM79.2 17.5h10.0v2.3h-10.0zM91.3 17.5h5.2v2.3h-5.2zM67.2 19.5h2.8v2.3h-2.8zM79.2 19.5h2.8v2.3h-2.8zM86.5 19.5h5.2v2.3h-5.2zM72.0 21.5h7.6v2.3h-7.6zM86.5 21.5h2.8v2.3h-2.8zM98.6 21.5h2.8v2.3h-2.8zM108.2 21.5h2.8v2.3h-2.8zM115.5 21.5h2.8v2.3h-2.8zM122.7 21.5h2.8v2.3h-2.8zM64.8 23.5h2.8v2.3h-2.8zM69.6 23.5h2.8v2.3h-2.8zM74.4 23.5h2.8v2.3h-2.8zM93.7 23.5h7.6v2.3h-7.6zM105.8 23.5h5.2v2.3h-5.2zM115.5 23.5h5.2v2.3h-5.2zM122.7 23.5h2.8v2.3h-2.8zM127.5 23.5h2.8v2.3h-2.8zM28.5 25.5h2.8v2.3h-2.8zM64.8 25.5h5.2v2.3h-5.2zM74.4 25.5h2.8v2.3h-2.8zM79.2 25.5h2.8v2.3h-2.8zM88.9 25.5h2.8v2.3h-2.8zM93.7 25.5h2.8v2.3h-2.8zM98.6 25.5h2.8v2.3h-2.8zM103.4 25.5h5.2v2.3h-5.2zM110.6 25.5h5.2v2.3h-5.2zM122.7 25.5h5.2v2.3h-5.2zM130.0 25.5h2.8v2.3h-2.8zM26.1 27.5h5.2v2.3h-5.2zM45.4 27.5h2.8v2.3h-2.8zM76.8 27.5h2.8v2.3h-2.8zM84.1 27.5h2.8v2.3h-2.8zM88.9 27.5h2.8v2.3h-2.8zM101.0 27.5h2.8v2.3h-2.8zM105.8 27.5h2.8v2.3h-2.8zM113.1 27.5h2.8v2.3h-2.8zM127.5 27.5h2.8v2.3h-2.8zM38.2 29.5h2.8v2.3h-2.8zM43.0 29.5h10.0v2.3h-10.0zM69.6 29.5h5.2v2.3h-5.2zM84.1 29.5h5.2v2.3h-5.2zM96.1 29.5h2.8v2.3h-2.8zM103.4 29.5h5.2v2.3h-5.2zM110.6 29.5h2.8v2.3h-2.8zM117.9 29.5h2.8v2.3h-2.8zM38.2 31.5h5.2v2.3h-5.2zM45.4 31.5h5.2v2.3h-5.2zM62.3 31.5h2.8v2.3h-2.8zM67.2 31.5h7.6v2.3h-7.6zM79.2 31.5h7.6v2.3h-7.6zM91.3 31.5h2.8v2.3h-2.8zM103.4 31.5h2.8v2.3h-2.8zM122.7 31.5h10.0v2.3h-10.0zM134.8 31.5h2.8v2.3h-2.8zM35.8 33.5h2.8v2.3h-2.8zM47.8 33.5h2.8v2.3h-2.8zM64.8 33.5h2.8v2.3h-2.8zM69.6 33.5h2.8v2.3h-2.8zM76.8 33.5h5.2v2.3h-5.2zM88.9 33.5h5.2v2.3h-5.2zM108.2 33.5h7.6v2.3h-7.6zM117.9 33.5h5.2v2.3h-5.2zM125.1 33.5h2.8v2.3h-2.8zM33.4 35.5h2.8v2.3h-2.8zM59.9 35.5h2.8v2.3h-2.8zM64.8 35.5h2.8v2.3h-2.8zM76.8 35.5h7.6v2.3h-7.6zM86.5 35.5h5.2v2.3h-5.2zM62.3 37.5h5.2v2.3h-5.2zM76.8 37.5h2.8v2.3h-2.8zM101.0 37.5h2.8v2.3h-2.8zM122.7 37.5h2.8v2.3h-2.8zM59.9 39.5h2.8v2.3h-2.8zM84.1 39.5h2.8v2.3h-2.8zM88.9 39.5h5.2v2.3h-5.2zM96.1 39.5h7.6v2.3h-7.6zM120.3 39.5h2.8v2.3h-2.8zM64.8 41.5h5.2v2.3h-5.2zM79.2 41.5h2.8v2.3h-2.8zM86.5 41.5h5.2v2.3h-5.2zM93.7 41.5h7.6v2.3h-7.6zM125.1 41.5h2.8v2.3h-2.8zM79.2 43.5h2.8v2.3h-2.8zM84.1 43.5h2.8v2.3h-2.8zM91.3 43.5h2.8v2.3h-2.8zM101.0 43.5h2.8v2.3h-2.8zM127.5 43.5h2.8v2.3h-2.8zM76.8 45.5h2.8v2.3h-2.8zM81.7 45.5h2.8v2.3h-2.8zM86.5 45.5h2.8v2.3h-2.8zM91.3 45.5h2.8v2.3h-2.8zM98.6 45.5h2.8v2.3h-2.8zM105.8 45.5h2.8v2.3h-2.8zM69.6 47.5h2.8v2.3h-2.8zM84.1 47.5h7.6v2.3h-7.6zM130.0 47.5h2.8v2.3h-2.8zM55.1 49.5h2.8v2.3h-2.8zM79.2 49.5h7.6v2.3h-7.6zM88.9 49.5h2.8v2.3h-2.8zM127.5 49.5h2.8v2.3h-2.8zM132.4 49.5h2.8v2.3h-2.8zM52.7 51.5h5.2v2.3h-5.2zM59.9 51.5h2.8v2.3h-2.8zM72.0 51.5h2.8v2.3h-2.8zM76.8 51.5h2.8v2.3h-2.8zM127.5 51.5h2.8v2.3h-2.8zM134.8 51.5h2.8v2.3h-2.8zM62.3 53.5h2.8v2.3h-2.8zM67.2 53.5h5.2v2.3h-5.2zM76.8 53.5h5.2v2.3h-5.2zM132.4 53.5h2.8v2.3h-2.8zM178.3 53.5h2.8v2.3h-2.8zM57.5 55.5h5.2v2.3h-5.2zM74.4 55.5h2.8v2.3h-2.8zM178.3 55.5h2.8v2.3h-2.8zM127.5 57.5h2.8v2.3h-2.8zM137.2 57.5h2.8v2.3h-2.8zM175.8 57.5h2.8v2.3h-2.8zM180.7 57.5h5.2v2.3h-5.2zM38.2 59.5h5.2v2.3h-5.2zM52.7 59.5h5.2v2.3h-5.2zM62.3 59.5h2.8v2.3h-2.8zM67.2 59.5h2.8v2.3h-2.8zM130.0 59.5h2.8v2.3h-2.8zM173.4 59.5h2.8v2.3h-2.8zM183.1 59.5h5.2v2.3h-5.2zM40.6 61.5h2.8v2.3h-2.8zM55.1 61.5h2.8v2.3h-2.8zM134.8 61.5h2.8v2.3h-2.8zM180.7 61.5h5.2v2.3h-5.2zM35.8 63.5h2.8v2.3h-2.8zM62.3 63.5h2.8v2.3h-2.8zM175.8 63.5h2.8v2.3h-2.8zM180.7 63.5h2.8v2.3h-2.8zM35.8 65.5h2.8v2.3h-2.8zM175.8 65.5h2.8v2.3h-2.8zM183.1 65.5h5.2v2.3h-5.2zM192.7 65.5h2.8v2.3h-2.8zM35.8 67.4h2.8v2.3h-2.8zM40.6 67.4h2.8v2.3h-2.8zM168.6 67.4h2.8v2.3h-2.8zM173.4 67.4h2.8v2.3h-2.8zM187.9 67.4h5.2v2.3h-5.2zM200.0 67.4h2.8v2.3h-2.8zM38.2 69.4h2.8v2.3h-2.8zM154.1 69.4h2.8v2.3h-2.8zM161.3 69.4h2.8v2.3h-2.8zM166.2 69.4h2.8v2.3h-2.8zM171.0 69.4h2.8v2.3h-2.8zM175.8 69.4h2.8v2.3h-2.8zM197.6 69.4h2.8v2.3h-2.8zM207.2 69.4h5.2v2.3h-5.2zM151.7 71.4h2.8v2.3h-2.8zM156.5 71.4h2.8v2.3h-2.8zM171.0 71.4h2.8v2.3h-2.8zM38.2 73.4h2.8v2.3h-2.8zM146.9 73.4h2.8v2.3h-2.8zM156.5 73.4h2.8v2.3h-2.8zM168.6 73.4h2.8v2.3h-2.8zM207.2 73.4h2.8v2.3h-2.8zM219.3 73.4h2.8v2.3h-2.8zM142.0 75.4h5.2v2.3h-5.2zM151.7 75.4h2.8v2.3h-2.8zM204.8 75.4h2.8v2.3h-2.8zM219.3 75.4h5.2v2.3h-5.2zM233.8 75.4h2.8v2.3h-2.8zM130.0 77.4h2.8v2.3h-2.8zM139.6 77.4h2.8v2.3h-2.8zM146.9 77.4h2.8v2.3h-2.8zM151.7 77.4h2.8v2.3h-2.8zM156.5 77.4h2.8v2.3h-2.8zM192.7 77.4h2.8v2.3h-2.8zM197.6 77.4h2.8v2.3h-2.8zM216.9 77.4h2.8v2.3h-2.8zM226.6 77.4h5.2v2.3h-5.2zM236.2 77.4h5.2v2.3h-5.2zM130.0 79.4h5.2v2.3h-5.2zM139.6 79.4h2.8v2.3h-2.8zM168.6 79.4h2.8v2.3h-2.8zM183.1 79.4h2.8v2.3h-2.8zM190.3 79.4h2.8v2.3h-2.8zM212.1 79.4h2.8v2.3h-2.8zM219.3 79.4h5.2v2.3h-5.2zM238.6 79.4h2.8v2.3h-2.8zM130.0 81.4h2.8v2.3h-2.8zM175.8 81.4h2.8v2.3h-2.8zM197.6 81.4h2.8v2.3h-2.8zM214.5 81.4h2.8v2.3h-2.8zM219.3 81.4h2.8v2.3h-2.8zM132.4 83.4h2.8v2.3h-2.8zM166.2 83.4h7.6v2.3h-7.6zM185.5 83.4h2.8v2.3h-2.8zM190.3 83.4h5.2v2.3h-5.2zM200.0 83.4h2.8v2.3h-2.8zM207.2 83.4h2.8v2.3h-2.8zM216.9 83.4h2.8v2.3h-2.8zM224.1 83.4h2.8v2.3h-2.8zM236.2 83.4h5.2v2.3h-5.2zM59.9 85.4h2.8v2.3h-2.8zM132.4 85.4h2.8v2.3h-2.8zM163.8 85.4h2.8v2.3h-2.8zM190.3 85.4h2.8v2.3h-2.8zM202.4 85.4h2.8v2.3h-2.8zM214.5 85.4h2.8v2.3h-2.8zM221.7 85.4h2.8v2.3h-2.8zM229.0 85.4h2.8v2.3h-2.8zM47.8 87.4h2.8v2.3h-2.8zM59.9 87.4h2.8v2.3h-2.8zM142.0 87.4h2.8v2.3h-2.8zM161.3 87.4h2.8v2.3h-2.8zM173.4 87.4h2.8v2.3h-2.8zM197.6 87.4h2.8v2.3h-2.8zM202.4 87.4h2.8v2.3h-2.8zM212.1 87.4h2.8v2.3h-2.8zM221.7 87.4h7.6v2.3h-7.6zM231.4 87.4h2.8v2.3h-2.8zM55.1 89.4h2.8v2.3h-2.8zM59.9 89.4h2.8v2.3h-2.8zM64.8 89.4h7.6v2.3h-7.6zM74.4 89.4h2.8v2.3h-2.8zM79.2 89.4h2.8v2.3h-2.8zM115.5 89.4h2.8v2.3h-2.8zM127.5 89.4h7.6v2.3h-7.6zM158.9 89.4h5.2v2.3h-5.2zM173.4 89.4h2.8v2.3h-2.8zM183.1 89.4h7.6v2.3h-7.6zM204.8 89.4h2.8v2.3h-2.8zM209.7 89.4h5.2v2.3h-5.2zM216.9 89.4h2.8v2.3h-2.8zM229.0 89.4h7.6v2.3h-7.6zM50.3 91.4h2.8v2.3h-2.8zM55.1 91.4h2.8v2.3h-2.8zM62.3 91.4h2.8v2.3h-2.8zM74.4 91.4h2.8v2.3h-2.8zM79.2 91.4h10.0v2.3h-10.0zM120.3 91.4h2.8v2.3h-2.8zM127.5 91.4h5.2v2.3h-5.2zM146.9 91.4h5.2v2.3h-5.2zM187.9 91.4h2.8v2.3h-2.8zM192.7 91.4h7.6v2.3h-7.6zM204.8 91.4h5.2v2.3h-5.2zM214.5 91.4h2.8v2.3h-2.8zM219.3 91.4h7.6v2.3h-7.6zM231.4 91.4h2.8v2.3h-2.8zM64.8 93.4h2.8v2.3h-2.8zM69.6 93.4h2.8v2.3h-2.8zM88.9 93.4h2.8v2.3h-2.8zM115.5 93.4h14.8v2.3h-14.8zM132.4 93.4h5.2v2.3h-5.2zM139.6 93.4h2.8v2.3h-2.8zM144.4 93.4h10.0v2.3h-10.0zM163.8 93.4h2.8v2.3h-2.8zM187.9 93.4h2.8v2.3h-2.8zM192.7 93.4h10.0v2.3h-10.0zM209.7 93.4h5.2v2.3h-5.2zM216.9 93.4h2.8v2.3h-2.8zM72.0 95.4h2.8v2.3h-2.8zM93.7 95.4h2.8v2.3h-2.8zM98.6 95.4h2.8v2.3h-2.8zM125.1 95.4h5.2v2.3h-5.2zM134.8 95.4h2.8v2.3h-2.8zM158.9 95.4h2.8v2.3h-2.8zM163.8 95.4h2.8v2.3h-2.8zM175.8 95.4h2.8v2.3h-2.8zM185.5 95.4h10.0v2.3h-10.0zM200.0 95.4h2.8v2.3h-2.8zM204.8 95.4h2.8v2.3h-2.8zM209.7 95.4h2.8v2.3h-2.8zM219.3 95.4h2.8v2.3h-2.8zM224.1 95.4h2.8v2.3h-2.8zM229.0 95.4h2.8v2.3h-2.8zM55.1 97.4h2.8v2.3h-2.8zM84.1 97.4h5.2v2.3h-5.2zM93.7 97.4h2.8v2.3h-2.8zM105.8 97.4h5.2v2.3h-5.2zM137.2 97.4h2.8v2.3h-2.8zM146.9 97.4h7.6v2.3h-7.6zM156.5 97.4h5.2v2.3h-5.2zM171.0 97.4h2.8v2.3h-2.8zM180.7 97.4h2.8v2.3h-2.8zM185.5 97.4h5.2v2.3h-5.2zM195.2 97.4h2.8v2.3h-2.8zM202.4 97.4h2.8v2.3h-2.8zM209.7 97.4h2.8v2.3h-2.8zM214.5 97.4h10.0v2.3h-10.0zM64.8 99.4h2.8v2.3h-2.8zM72.0 99.4h2.8v2.3h-2.8zM81.7 99.4h2.8v2.3h-2.8zM86.5 99.4h2.8v2.3h-2.8zM98.6 99.4h2.8v2.3h-2.8zM130.0 99.4h2.8v2.3h-2.8zM149.3 99.4h2.8v2.3h-2.8zM154.1 99.4h5.2v2.3h-5.2zM163.8 99.4h2.8v2.3h-2.8zM173.4 99.4h2.8v2.3h-2.8zM190.3 99.4h14.8v2.3h-14.8zM207.2 99.4h2.8v2.3h-2.8zM214.5 99.4h5.2v2.3h-5.2zM221.7 99.4h5.2v2.3h-5.2zM72.0 101.4h2.8v2.3h-2.8zM76.8 101.4h2.8v2.3h-2.8zM103.4 101.4h2.8v2.3h-2.8zM127.5 101.4h2.8v2.3h-2.8zM161.3 101.4h2.8v2.3h-2.8zM168.6 101.4h5.2v2.3h-5.2zM187.9 101.4h2.8v2.3h-2.8zM207.2 101.4h2.8v2.3h-2.8zM214.5 101.4h5.2v2.3h-5.2zM255.5 101.4h2.8v2.3h-2.8zM72.0 103.4h2.8v2.3h-2.8zM86.5 103.4h2.8v2.3h-2.8zM158.9 103.4h2.8v2.3h-2.8zM173.4 103.4h2.8v2.3h-2.8zM192.7 103.4h5.2v2.3h-5.2zM204.8 103.4h10.0v2.3h-10.0zM216.9 103.4h2.8v2.3h-2.8zM224.1 103.4h2.8v2.3h-2.8zM117.9 105.4h2.8v2.3h-2.8zM122.7 105.4h7.6v2.3h-7.6zM134.8 105.4h2.8v2.3h-2.8zM156.5 105.4h2.8v2.3h-2.8zM168.6 105.4h5.2v2.3h-5.2zM187.9 105.4h10.0v2.3h-10.0zM207.2 105.4h2.8v2.3h-2.8zM212.1 105.4h2.8v2.3h-2.8zM226.6 105.4h2.8v2.3h-2.8zM62.3 107.4h2.8v2.3h-2.8zM125.1 107.4h2.8v2.3h-2.8zM142.0 107.4h5.2v2.3h-5.2zM156.5 107.4h5.2v2.3h-5.2zM190.3 107.4h2.8v2.3h-2.8zM197.6 107.4h2.8v2.3h-2.8zM209.7 107.4h5.2v2.3h-5.2zM216.9 107.4h2.8v2.3h-2.8zM221.7 107.4h2.8v2.3h-2.8zM64.8 109.4h2.8v2.3h-2.8zM88.9 109.4h2.8v2.3h-2.8zM117.9 109.4h5.2v2.3h-5.2zM130.0 109.4h2.8v2.3h-2.8zM163.8 109.4h2.8v2.3h-2.8zM183.1 109.4h17.3v2.3h-17.3zM209.7 109.4h5.2v2.3h-5.2zM221.7 109.4h5.2v2.3h-5.2zM229.0 109.4h5.2v2.3h-5.2zM64.8 111.4h2.8v2.3h-2.8zM69.6 111.4h5.2v2.3h-5.2zM101.0 111.4h2.8v2.3h-2.8zM113.1 111.4h2.8v2.3h-2.8zM127.5 111.4h2.8v2.3h-2.8zM134.8 111.4h2.8v2.3h-2.8zM158.9 111.4h2.8v2.3h-2.8zM175.8 111.4h2.8v2.3h-2.8zM192.7 111.4h2.8v2.3h-2.8zM197.6 111.4h2.8v2.3h-2.8zM202.4 111.4h5.2v2.3h-5.2zM212.1 111.4h2.8v2.3h-2.8zM219.3 111.4h2.8v2.3h-2.8zM224.1 111.4h2.8v2.3h-2.8zM72.0 113.4h5.2v2.3h-5.2zM91.3 113.4h2.8v2.3h-2.8zM117.9 113.4h2.8v2.3h-2.8zM125.1 113.4h5.2v2.3h-5.2zM132.4 113.4h2.8v2.3h-2.8zM137.2 113.4h2.8v2.3h-2.8zM154.1 113.4h2.8v2.3h-2.8zM183.1 113.4h5.2v2.3h-5.2zM190.3 113.4h10.0v2.3h-10.0zM202.4 113.4h5.2v2.3h-5.2zM212.1 113.4h2.8v2.3h-2.8zM221.7 113.4h2.8v2.3h-2.8zM103.4 115.4h2.8v2.3h-2.8zM122.7 115.4h2.8v2.3h-2.8zM127.5 115.4h2.8v2.3h-2.8zM137.2 115.4h2.8v2.3h-2.8zM144.4 115.4h7.6v2.3h-7.6zM161.3 115.4h2.8v2.3h-2.8zM175.8 115.4h2.8v2.3h-2.8zM180.7 115.4h7.6v2.3h-7.6zM192.7 115.4h5.2v2.3h-5.2zM202.4 115.4h2.8v2.3h-2.8zM214.5 115.4h2.8v2.3h-2.8zM221.7 115.4h5.2v2.3h-5.2zM91.3 117.4h5.2v2.3h-5.2zM98.6 117.4h5.2v2.3h-5.2zM113.1 117.4h2.8v2.3h-2.8zM132.4 117.4h5.2v2.3h-5.2zM139.6 117.4h5.2v2.3h-5.2zM146.9 117.4h2.8v2.3h-2.8zM158.9 117.4h5.2v2.3h-5.2zM173.4 117.4h7.6v2.3h-7.6zM185.5 117.4h2.8v2.3h-2.8zM190.3 117.4h2.8v2.3h-2.8zM195.2 117.4h2.8v2.3h-2.8zM200.0 117.4h2.8v2.3h-2.8zM204.8 117.4h2.8v2.3h-2.8zM212.1 117.4h2.8v2.3h-2.8zM219.3 117.4h5.2v2.3h-5.2zM229.0 117.4h2.8v2.3h-2.8zM101.0 119.4h10.0v2.3h-10.0zM122.7 119.4h2.8v2.3h-2.8zM127.5 119.4h2.8v2.3h-2.8zM132.4 119.4h2.8v2.3h-2.8zM137.2 119.4h5.2v2.3h-5.2zM149.3 119.4h2.8v2.3h-2.8zM163.8 119.4h2.8v2.3h-2.8zM173.4 119.4h2.8v2.3h-2.8zM178.3 119.4h2.8v2.3h-2.8zM185.5 119.4h7.6v2.3h-7.6zM212.1 119.4h7.6v2.3h-7.6zM93.7 121.4h2.8v2.3h-2.8zM103.4 121.4h5.2v2.3h-5.2zM110.6 121.4h2.8v2.3h-2.8zM115.5 121.4h2.8v2.3h-2.8zM127.5 121.4h2.8v2.3h-2.8zM137.2 121.4h2.8v2.3h-2.8zM146.9 121.4h5.2v2.3h-5.2zM154.1 121.4h5.2v2.3h-5.2zM161.3 121.4h2.8v2.3h-2.8zM166.2 121.4h2.8v2.3h-2.8zM178.3 121.4h2.8v2.3h-2.8zM183.1 121.4h2.8v2.3h-2.8zM190.3 121.4h5.2v2.3h-5.2zM197.6 121.4h5.2v2.3h-5.2zM229.0 121.4h2.8v2.3h-2.8zM98.6 123.4h10.0v2.3h-10.0zM125.1 123.4h7.6v2.3h-7.6zM137.2 123.4h5.2v2.3h-5.2zM146.9 123.4h5.2v2.3h-5.2zM154.1 123.4h5.2v2.3h-5.2zM168.6 123.4h2.8v2.3h-2.8zM200.0 123.4h2.8v2.3h-2.8zM224.1 123.4h5.2v2.3h-5.2zM108.2 125.4h2.8v2.3h-2.8zM163.8 125.4h5.2v2.3h-5.2zM171.0 125.4h5.2v2.3h-5.2zM183.1 125.4h2.8v2.3h-2.8zM195.2 125.4h5.2v2.3h-5.2zM221.7 125.4h2.8v2.3h-2.8zM113.1 127.4h2.8v2.3h-2.8zM146.9 127.4h2.8v2.3h-2.8zM151.7 127.4h2.8v2.3h-2.8zM156.5 127.4h2.8v2.3h-2.8zM166.2 127.4h2.8v2.3h-2.8zM209.7 127.4h2.8v2.3h-2.8zM221.7 127.4h5.2v2.3h-5.2zM229.0 127.4h2.8v2.3h-2.8zM149.3 129.4h5.2v2.3h-5.2zM161.3 129.4h2.8v2.3h-2.8zM168.6 129.4h2.8v2.3h-2.8zM200.0 129.4h2.8v2.3h-2.8zM207.2 129.4h2.8v2.3h-2.8zM216.9 129.4h2.8v2.3h-2.8zM224.1 129.4h2.8v2.3h-2.8zM229.0 129.4h5.2v2.3h-5.2zM236.2 129.4h2.8v2.3h-2.8zM113.1 131.4h2.8v2.3h-2.8zM130.0 131.4h2.8v2.3h-2.8zM142.0 131.4h2.8v2.3h-2.8zM158.9 131.4h2.8v2.3h-2.8zM166.2 131.4h5.2v2.3h-5.2zM200.0 131.4h5.2v2.3h-5.2zM219.3 131.4h2.8v2.3h-2.8zM238.6 131.4h2.8v2.3h-2.8zM113.1 133.4h5.2v2.3h-5.2zM120.3 133.4h2.8v2.3h-2.8zM144.4 133.4h5.2v2.3h-5.2zM161.3 133.4h2.8v2.3h-2.8zM166.2 133.4h7.6v2.3h-7.6zM195.2 133.4h5.2v2.3h-5.2zM209.7 133.4h2.8v2.3h-2.8zM229.0 133.4h2.8v2.3h-2.8zM113.1 135.4h2.8v2.3h-2.8zM117.9 135.4h7.6v2.3h-7.6zM130.0 135.4h2.8v2.3h-2.8zM142.0 135.4h5.2v2.3h-5.2zM149.3 135.4h2.8v2.3h-2.8zM158.9 135.4h5.2v2.3h-5.2zM166.2 135.4h2.8v2.3h-2.8zM171.0 135.4h2.8v2.3h-2.8zM192.7 135.4h2.8v2.3h-2.8zM207.2 135.4h2.8v2.3h-2.8zM130.0 137.4h2.8v2.3h-2.8zM137.2 137.4h5.2v2.3h-5.2zM151.7 137.4h2.8v2.3h-2.8zM156.5 137.4h2.8v2.3h-2.8zM120.3 139.4h2.8v2.3h-2.8zM125.1 139.4h2.8v2.3h-2.8zM130.0 139.4h5.2v2.3h-5.2zM137.2 139.4h2.8v2.3h-2.8zM216.9 139.4h2.8v2.3h-2.8zM127.5 141.4h10.0v2.3h-10.0zM149.3 141.4h2.8v2.3h-2.8zM154.1 141.4h2.8v2.3h-2.8zM163.8 141.4h2.8v2.3h-2.8zM216.9 141.4h2.8v2.3h-2.8zM224.1 141.4h2.8v2.3h-2.8zM115.5 143.4h7.6v2.3h-7.6zM125.1 143.4h2.8v2.3h-2.8zM142.0 143.4h2.8v2.3h-2.8zM146.9 143.4h10.0v2.3h-10.0zM197.6 143.4h2.8v2.3h-2.8zM117.9 145.4h2.8v2.3h-2.8zM122.7 145.4h2.8v2.3h-2.8zM127.5 145.4h2.8v2.3h-2.8zM137.2 145.4h2.8v2.3h-2.8zM151.7 145.4h5.2v2.3h-5.2zM166.2 145.4h2.8v2.3h-2.8zM192.7 145.4h2.8v2.3h-2.8zM122.7 147.3h5.2v2.3h-5.2zM130.0 147.3h2.8v2.3h-2.8zM134.8 147.3h2.8v2.3h-2.8zM142.0 147.3h2.8v2.3h-2.8zM149.3 147.3h2.8v2.3h-2.8zM158.9 147.3h2.8v2.3h-2.8zM163.8 147.3h2.8v2.3h-2.8zM192.7 147.3h2.8v2.3h-2.8zM231.4 147.3h2.8v2.3h-2.8zM120.3 149.3h2.8v2.3h-2.8zM154.1 149.3h7.6v2.3h-7.6zM195.2 149.3h2.8v2.3h-2.8zM200.0 149.3h2.8v2.3h-2.8zM122.7 151.3h2.8v2.3h-2.8zM158.9 151.3h5.2v2.3h-5.2zM190.3 151.3h2.8v2.3h-2.8zM195.2 151.3h2.8v2.3h-2.8zM214.5 151.3h2.8v2.3h-2.8zM120.3 153.3h7.6v2.3h-7.6zM139.6 153.3h2.8v2.3h-2.8zM144.4 153.3h2.8v2.3h-2.8zM161.3 153.3h2.8v2.3h-2.8zM183.1 153.3h2.8v2.3h-2.8zM115.5 155.3h5.2v2.3h-5.2zM122.7 155.3h2.8v2.3h-2.8zM137.2 155.3h2.8v2.3h-2.8zM163.8 155.3h2.8v2.3h-2.8zM192.7 155.3h2.8v2.3h-2.8zM117.9 157.3h2.8v2.3h-2.8zM130.0 157.3h2.8v2.3h-2.8zM137.2 157.3h2.8v2.3h-2.8zM142.0 157.3h5.2v2.3h-5.2zM161.3 157.3h2.8v2.3h-2.8zM113.1 159.3h2.8v2.3h-2.8zM127.5 159.3h2.8v2.3h-2.8zM134.8 159.3h2.8v2.3h-2.8zM163.8 159.3h2.8v2.3h-2.8zM192.7 159.3h2.8v2.3h-2.8zM115.5 161.3h2.8v2.3h-2.8zM130.0 161.3h5.2v2.3h-5.2zM137.2 161.3h2.8v2.3h-2.8zM142.0 161.3h2.8v2.3h-2.8zM166.2 161.3h2.8v2.3h-2.8zM192.7 161.3h2.8v2.3h-2.8zM139.6 163.3h2.8v2.3h-2.8zM163.8 163.3h2.8v2.3h-2.8zM113.1 165.3h2.8v2.3h-2.8zM132.4 165.3h2.8v2.3h-2.8zM142.0 165.3h2.8v2.3h-2.8zM163.8 165.3h2.8v2.3h-2.8zM185.5 165.3h5.2v2.3h-5.2zM134.8 167.3h2.8v2.3h-2.8zM168.6 167.3h2.8v2.3h-2.8zM173.4 167.3h2.8v2.3h-2.8zM178.3 167.3h7.6v2.3h-7.6zM134.8 169.3h2.8v2.3h-2.8zM146.9 169.3h2.8v2.3h-2.8zM168.6 169.3h2.8v2.3h-2.8zM173.4 169.3h7.6v2.3h-7.6zM183.1 169.3h5.2v2.3h-5.2zM192.7 169.3h2.8v2.3h-2.8zM115.5 171.3h2.8v2.3h-2.8zM132.4 171.3h2.8v2.3h-2.8zM142.0 171.3h5.2v2.3h-5.2zM175.8 171.3h5.2v2.3h-5.2zM185.5 171.3h2.8v2.3h-2.8zM117.9 173.3h2.8v2.3h-2.8zM122.7 173.3h2.8v2.3h-2.8zM127.5 173.3h2.8v2.3h-2.8zM134.8 173.3h2.8v2.3h-2.8zM139.6 173.3h7.6v2.3h-7.6zM149.3 173.3h2.8v2.3h-2.8zM154.1 173.3h5.2v2.3h-5.2zM163.8 173.3h2.8v2.3h-2.8zM168.6 173.3h2.8v2.3h-2.8zM178.3 173.3h10.0v2.3h-10.0zM190.3 173.3h2.8v2.3h-2.8zM115.5 175.3h2.8v2.3h-2.8zM132.4 175.3h2.8v2.3h-2.8zM137.2 175.3h2.8v2.3h-2.8zM185.5 175.3h2.8v2.3h-2.8zM192.7 175.3h2.8v2.3h-2.8zM139.6 177.3h5.2v2.3h-5.2zM146.9 177.3h2.8v2.3h-2.8zM178.3 177.3h2.8v2.3h-2.8zM192.7 177.3h2.8v2.3h-2.8zM127.5 179.3h2.8v2.3h-2.8zM139.6 179.3h5.2v2.3h-5.2zM146.9 179.3h2.8v2.3h-2.8zM151.7 179.3h5.2v2.3h-5.2zM180.7 179.3h5.2v2.3h-5.2zM187.9 179.3h2.8v2.3h-2.8zM117.9 181.3h2.8v2.3h-2.8zM122.7 181.3h2.8v2.3h-2.8zM127.5 181.3h2.8v2.3h-2.8zM134.8 181.3h2.8v2.3h-2.8zM142.0 181.3h2.8v2.3h-2.8zM151.7 181.3h2.8v2.3h-2.8zM180.7 181.3h2.8v2.3h-2.8zM185.5 181.3h5.2v2.3h-5.2zM125.1 183.3h2.8v2.3h-2.8zM130.0 183.3h2.8v2.3h-2.8zM142.0 183.3h7.6v2.3h-7.6zM187.9 183.3h2.8v2.3h-2.8zM137.2 185.3h2.8v2.3h-2.8zM175.8 185.3h2.8v2.3h-2.8zM183.1 185.3h2.8v2.3h-2.8zM130.0 187.3h2.8v2.3h-2.8zM137.2 187.3h2.8v2.3h-2.8zM175.8 187.3h2.8v2.3h-2.8zM183.1 187.3h2.8v2.3h-2.8zM130.0 189.3h2.8v2.3h-2.8zM183.1 189.3h2.8v2.3h-2.8zM132.4 191.3h5.2v2.3h-5.2zM76.8 209.3h5.2v2.3h-5.2zM74.4 211.3h5.2v2.3h-5.2z"/>
<path fill="#ffff00" d="M72.0 17.5h2.8v2.3h-2.8zM76.8 17.5h2.8v2.3h-2.8zM88.9 17.5h2.8v2.3h-2.8zM69.6 19.5h2.8v2.3h-2.8zM74.4 19.5h5.2v2.3h-5.2zM84.1 19.5h2.8v2.3h-2.8zM93.7 19.5h5.2v2.3h-5.2zM62.3 21.5h2.8v2.3h-2.8zM79.2 21.5h2.8v2.3h-2.8zM84.1 21.5h2.8v2.3h-2.8zM96.1 21.5h2.8v2.3h-2.8zM113.1 21.5h2.8v2.3h-2.8zM117.9 21.5h2.8v2.3h-2.8zM125.1 21.5h2.8v2.3h-2.8zM72.0 23.5h2.8v2.3h-2.8zM86.5 23.5h5.2v2.3h-5.2zM110.6 23.5h5.2v2.3h-5.2zM125.1 23.5h2.8v2.3h-2.8zM69.6 25.5h5.2v2.3h-5.2zM84.1 25.5h5.2v2.3h-5.2zM91.3 25.5h2.8v2.3h-2.8zM96.1 25.5h2.8v2.3h-2.8zM101.0 25.5h2.8v2.3h-2.8zM108.2 25.5h2.8v2.3h-2.8zM115.5 25.5h2.8v2.3h-2.8zM127.5 25.5h2.8v2.3h-2.8zM38.2 27.5h2.8v2.3h-2.8zM69.6 27.5h2.8v2.3h-2.8zM79.2 27.5h2.8v2.3h-2.8zM86.5 27.5h2.8v2.3h-2.8zM96.1 27.5h5.2v2.3h-5.2zM103.4 27.5h2.8v2.3h-2.8zM108.2 27.5h5.2v2.3h-5.2zM117.9 27.5h2.8v2.3h-2.8zM125.1 27.5h2.8v2.3h-2.8zM74.4 29.5h5.2v2.3h-5.2zM88.9 29.5h7.6v2.3h-7.6zM98.6 29.5h2.8v2.3h-2.8zM108.2 29.5h2.8v2.3h-2.8zM113.1 29.5h2.8v2.3h-2.8zM120.3 29.5h2.8v2.3h-2.8zM125.1 29.5h7.6v2.3h-7.6zM86.5 31.5h2.8v2.3h-2.8zM96.1 31.5h2.8v2.3h-2.8zM101.0 31.5h2.8v2.3h-2.8zM108.2 31.5h14.8v2.3h-14.8zM38.2 33.5h2.8v2.3h-2.8zM62.3 33.5h2.8v2.3h-2.8zM93.7 33.5h7.6v2.3h-7.6zM103.4 33.5h5.2v2.3h-5.2zM98.6 35.5h2.8v2.3h-2.8zM79.2 37.5h2.8v2.3h-2.8zM84.1 37.5h2.8v2.3h-2.8zM88.9 37.5h5.2v2.3h-5.2zM96.1 37.5h5.2v2.3h-5.2zM64.8 39.5h2.8v2.3h-2.8zM93.7 39.5h2.8v2.3h-2.8zM88.9 43.5h2.8v2.3h-2.8zM84.1 45.5h2.8v2.3h-2.8zM93.7 45.5h2.8v2.3h-2.8zM81.7 47.5h2.8v2.3h-2.8zM72.0 49.5h2.8v2.3h-2.8zM76.8 49.5h2.8v2.3h-2.8zM96.1 49.5h2.8v2.3h-2.8zM134.8 49.5h2.8v2.3h-2.8zM64.8 51.5h5.2v2.3h-5.2zM81.7 51.5h2.8v2.3h-2.8zM130.0 51.5h5.2v2.3h-5.2zM64.8 53.5h2.8v2.3h-2.8zM127.5 53.5h5.2v2.3h-5.2zM134.8 53.5h2.8v2.3h-2.8zM62.3 55.5h5.2v2.3h-5.2zM69.6 55.5h5.2v2.3h-5.2zM76.8 55.5h2.8v2.3h-2.8zM127.5 55.5h2.8v2.3h-2.8zM134.8 55.5h5.2v2.3h-5.2zM180.7 55.5h2.8v2.3h-2.8zM57.5 57.5h2.8v2.3h-2.8zM64.8 57.5h2.8v2.3h-2.8zM134.8 57.5h2.8v2.3h-2.8zM178.3 57.5h2.8v2.3h-2.8zM59.9 59.5h2.8v2.3h-2.8zM64.8 59.5h2.8v2.3h-2.8zM132.4 59.5h5.2v2.3h-5.2zM180.7 59.5h2.8v2.3h-2.8zM64.8 61.5h2.8v2.3h-2.8zM175.8 61.5h5.2v2.3h-5.2zM57.5 63.5h5.2v2.3h-5.2zM178.3 63.5h2.8v2.3h-2.8zM183.1 63.5h2.8v2.3h-2.8zM178.3 65.5h2.8v2.3h-2.8zM187.9 65.5h2.8v2.3h-2.8zM175.8 67.4h2.8v2.3h-2.8zM183.1 67.4h2.8v2.3h-2.8zM192.7 67.4h2.8v2.3h-2.8zM197.6 67.4h2.8v2.3h-2.8zM40.6 69.4h2.8v2.3h-2.8zM163.8 69.4h2.8v2.3h-2.8zM168.6 69.4h2.8v2.3h-2.8zM185.5 69.4h2.8v2.3h-2.8zM190.3 69.4h7.6v2.3h-7.6zM200.0 69.4h2.8v2.3h-2.8zM154.1 71.4h2.8v2.3h-2.8zM166.2 71.4h5.2v2.3h-5.2zM197.6 71.4h12.4v2.3h-12.4zM149.3 73.4h5.2v2.3h-5.2zM158.9 73.4h5.2v2.3h-5.2zM166.2 73.4h2.8v2.3h-2.8zM171.0 73.4h2.8v2.3h-2.8zM202.4 73.4h5.2v2.3h-5.2zM209.7 73.4h10.0v2.3h-10.0zM221.7 73.4h2.8v2.3h-2.8zM134.8 75.4h5.2v2.3h-5.2zM154.1 75.4h2.8v2.3h-2.8zM158.9 75.4h2.8v2.3h-2.8zM173.4 75.4h2.8v2.3h-2.8zM200.0 75.4h5.2v2.3h-5.2zM207.2 75.4h10.0v2.3h-10.0zM132.4 77.4h7.6v2.3h-7.6zM142.0 77.4h5.2v2.3h-5.2zM149.3 77.4h2.8v2.3h-2.8zM183.1 77.4h5.2v2.3h-5.2zM202.4 77.4h7.6v2.3h-7.6zM212.1 77.4h2.8v2.3h-2.8zM219.3 77.4h2.8v2.3h-2.8zM151.7 79.4h5.2v2.3h-5.2zM161.3 79.4h2.8v2.3h-2.8zM185.5 79.4h2.8v2.3h-2.8zM192.7 79.4h5.2v2.3h-5.2zM202.4 79.4h2.8v2.3h-2.8zM154.1 81.4h2.8v2.3h-2.8zM158.9 81.4h2.8v2.3h-2.8zM171.0 81.4h2.8v2.3h-2.8zM192.7 81.4h2.8v2.3h-2.8zM209.7 81.4h5.2v2.3h-5.2zM221.7 81.4h2.8v2.3h-2.8zM238.6 81.4h2.8v2.3h-2.8zM154.1 83.4h5.2v2.3h-5.2zM161.3 83.4h5.2v2.3h-5.2zM195.2 83.4h2.8v2.3h-2.8zM202.4 83.4h2.8v2.3h-2.8zM214.5 83.4h2.8v2.3h-2.8zM219.3 83.4h2.8v2.3h-2.8zM154.1 85.4h2.8v2.3h-2.8zM158.9 85.4h5.2v2.3h-5.2zM175.8 85.4h2.8v2.3h-2.8zM183.1 85.4h2.8v2.3h-2.8zM195.2 85.4h2.8v2.3h-2.8zM204.8 85.4h10.0v2.3h-10.0zM219.3 85.4h2.8v2.3h-2.8zM52.7 87.4h2.8v2.3h-2.8zM158.9 87.4h2.8v2.3h-2.8zM187.9 87.4h10.0v2.3h-10.0zM200.0 87.4h2.8v2.3h-2.8zM204.8 87.4h5.2v2.3h-5.2zM216.9 87.4h2.8v2.3h-2.8zM52.7 89.4h2.8v2.3h-2.8zM62.3 89.4h2.8v2.3h-2.8zM125.1 89.4h2.8v2.3h-2.8zM137.2 89.4h5.2v2.3h-5.2zM144.4 89.4h2.8v2.3h-2.8zM149.3 89.4h5.2v2.3h-5.2zM178.3 89.4h2.8v2.3h-2.8zM190.3 89.4h2.8v2.3h-2.8zM195.2 89.4h2.8v2.3h-2.8zM219.3 89.4h2.8v2.3h-2.8zM52.7 91.4h2.8v2.3h-2.8zM59.9 91.4h2.8v2.3h-2.8zM76.8 91.4h2.8v2.3h-2.8zM122.7 91.4h5.2v2.3h-5.2zM134.8 91.4h2.8v2.3h-2.8zM168.6 91.4h2.8v2.3h-2.8zM173.4 91.4h2.8v2.3h-2.8zM180.7 91.4h2.8v2.3h-2.8zM190.3 91.4h2.8v2.3h-2.8zM52.7 93.4h2.8v2.3h-2.8zM67.2 93.4h2.8v2.3h-2.8zM72.0 93.4h10.0v2.3h-10.0zM86.5 93.4h2.8v2.3h-2.8zM156.5 93.4h7.6v2.3h-7.6zM183.1 93.4h2.8v2.3h-2.8zM190.3 93.4h2.8v2.3h-2.8zM202.4 93.4h2.8v2.3h-2.8zM214.5 93.4h2.8v2.3h-2.8zM219.3 93.4h5.2v2.3h-5.2zM52.7 95.4h2.8v2.3h-2.8zM62.3 95.4h7.6v2.3h-7.6zM74.4 95.4h2.8v2.3h-2.8zM86.5 95.4h2.8v2.3h-2.8zM113.1 95.4h2.8v2.3h-2.8zM120.3 95.4h5.2v2.3h-5.2zM154.1 95.4h5.2v2.3h-5.2zM161.3 95.4h2.8v2.3h-2.8zM178.3 95.4h2.8v2.3h-2.8zM67.2 97.4h5.2v2.3h-5.2zM88.9 97.4h2.8v2.3h-2.8zM96.1 97.4h2.8v2.3h-2.8zM101.0 97.4h2.8v2.3h-2.8zM113.1 97.4h2.8v2.3h-2.8zM125.1 97.4h5.2v2.3h-5.2zM161.3 97.4h2.8v2.3h-2.8zM190.3 97.4h2.8v2.3h-2.8zM204.8 97.4h2.8v2.3h-2.8zM57.5 99.4h5.2v2.3h-5.2zM74.4 99.4h7.6v2.3h-7.6zM84.1 99.4h2.8v2.3h-2.8zM91.3 99.4h7.6v2.3h-7.6zM101.0 99.4h2.8v2.3h-2.8zM113.1 99.4h2.8v2.3h-2.8zM132.4 99.4h2.8v2.3h-2.8zM139.6 99.4h10.0v2.3h-10.0zM158.9 99.4h2.8v2.3h-2.8zM183.1 99.4h5.2v2.3h-5.2zM209.7 99.4h2.8v2.3h-2.8zM219.3 99.4h2.8v2.3h-2.8zM57.5 101.4h2.8v2.3h-2.8zM67.2 101.4h5.2v2.3h-5.2zM79.2 101.4h10.0v2.3h-10.0zM110.6 101.4h2.8v2.3h-2.8zM154.1 101.4h7.6v2.3h-7.6zM166.2 101.4h2.8v2.3h-2.8zM180.7 101.4h7.6v2.3h-7.6zM192.7 101.4h7.6v2.3h-7.6zM209.7 101.4h2.8v2.3h-2.8zM219.3 101.4h7.6v2.3h-7.6zM57.5 103.4h5.2v2.3h-5.2zM69.6 103.4h2.8v2.3h-2.8zM110.6 103.4h2.8v2.3h-2.8zM130.0 103.4h5.2v2.3h-5.2zM149.3 103.4h2.8v2.3h-2.8zM161.3 103.4h2.8v2.3h-2.8zM190.3 103.4h2.8v2.3h-2.8zM219.3 103.4h2.8v2.3h-2.8zM69.6 105.4h5.2v2.3h-5.2zM88.9 105.4h2.8v2.3h-2.8zM113.1 105.4h2.8v2.3h-2.8zM130.0 105.4h5.2v2.3h-5.2zM137.2 105.4h2.8v2.3h-2.8zM149.3 105.4h5.2v2.3h-5.2zM161.3 105.4h7.6v2.3h-7.6zM185.5 105.4h2.8v2.3h-2.8zM197.6 105.4h5.2v2.3h-5.2zM216.9 105.4h2.8v2.3h-2.8zM221.7 105.4h5.2v2.3h-5.2zM72.0 107.4h2.8v2.3h-2.8zM117.9 107.4h2.8v2.3h-2.8zM122.7 107.4h2.8v2.3h-2.8zM127.5 107.4h5.2v2.3h-5.2zM149.3 107.4h2.8v2.3h-2.8zM173.4 107.4h2.8v2.3h-2.8zM183.1 107.4h5.2v2.3h-5.2zM192.7 107.4h5.2v2.3h-5.2zM219.3 107.4h2.8v2.3h-2.8zM67.2 109.4h7.6v2.3h-7.6zM91.3 109.4h2.8v2.3h-2.8zM110.6 109.4h2.8v2.3h-2.8zM115.5 109.4h2.8v2.3h-2.8zM122.7 109.4h7.6v2.3h-7.6zM154.1 109.4h5.2v2.3h-5.2zM161.3 109.4h2.8v2.3h-2.8zM175.8 109.4h2.8v2.3h-2.8zM180.7 109.4h2.8v2.3h-2.8zM219.3 109.4h2.8v2.3h-2.8zM91.3 111.4h2.8v2.3h-2.8zM98.6 111.4h2.8v2.3h-2.8zM117.9 111.4h5.2v2.3h-5.2zM130.0 111.4h5.2v2.3h-5.2zM161.3 111.4h2.8v2.3h-2.8zM185.5 111.4h2.8v2.3h-2.8zM195.2 111.4h2.8v2.3h-2.8zM221.7 111.4h2.8v2.3h-2.8zM103.4 113.4h2.8v2.3h-2.8zM130.0 113.4h2.8v2.3h-2.8zM142.0 113.4h10.0v2.3h-10.0zM158.9 113.4h2.8v2.3h-2.8zM163.8 113.4h2.8v2.3h-2.8zM178.3 113.4h5.2v2.3h-5.2zM200.0 113.4h2.8v2.3h-2.8zM224.1 113.4h2.8v2.3h-2.8zM96.1 115.4h2.8v2.3h-2.8zM101.0 115.4h2.8v2.3h-2.8zM117.9 115.4h5.2v2.3h-5.2zM130.0 115.4h7.6v2.3h-7.6zM142.0 115.4h2.8v2.3h-2.8zM158.9 115.4h2.8v2.3h-2.8zM163.8 115.4h2.8v2.3h-2.8zM168.6 115.4h5.2v2.3h-5.2zM178.3 115.4h2.8v2.3h-2.8zM204.8 115.4h2.8v2.3h-2.8zM115.5 117.4h2.8v2.3h-2.8zM120.3 117.4h2.8v2.3h-2.8zM127.5 117.4h2.8v2.3h-2.8zM144.4 117.4h2.8v2.3h-2.8zM166.2 117.4h5.2v2.3h-5.2zM180.7 117.4h2.8v2.3h-2.8zM187.9 117.4h2.8v2.3h-2.8zM98.6 119.4h2.8v2.3h-2.8zM113.1 119.4h5.2v2.3h-5.2zM120.3 119.4h2.8v2.3h-2.8zM125.1 119.4h2.8v2.3h-2.8zM130.0 119.4h2.8v2.3h-2.8zM134.8 119.4h2.8v2.3h-2.8zM144.4 119.4h2.8v2.3h-2.8zM154.1 119.4h2.8v2.3h-2.8zM158.9 119.4h5.2v2.3h-5.2zM166.2 119.4h2.8v2.3h-2.8zM183.1 119.4h2.8v2.3h-2.8zM192.7 119.4h2.8v2.3h-2.8zM202.4 119.4h2.8v2.3h-2.8zM98.6 121.4h5.2v2.3h-5.2zM113.1 121.4h2.8v2.3h-2.8zM117.9 121.4h5.2v2.3h-5.2zM132.4 121.4h5.2v2.3h-5.2zM151.7 121.4h2.8v2.3h-2.8zM163.8 121.4h2.8v2.3h-2.8zM168.6 121.4h2.8v2.3h-2.8zM187.9 121.4h2.8v2.3h-2.8zM202.4 121.4h2.8v2.3h-2.8zM108.2 123.4h2.8v2.3h-2.8zM122.7 123.4h2.8v2.3h-2.8zM132.4 123.4h5.2v2.3h-5.2zM142.0 123.4h2.8v2.3h-2.8zM158.9 123.4h5.2v2.3h-5.2zM166.2 123.4h2.8v2.3h-2.8zM185.5 123.4h2.8v2.3h-2.8zM105.8 125.4h2.8v2.3h-2.8zM110.6 125.4h2.8v2.3h-2.8zM122.7 125.4h2.8v2.3h-2.8zM139.6 125.4h5.2v2.3h-5.2zM154.1 125.4h5.2v2.3h-5.2zM161.3 125.4h2.8v2.3h-2.8zM130.0 127.4h2.8v2.3h-2.8zM154.1 127.4h2.8v2.3h-2.8zM158.9 127.4h2.8v2.3h-2.8zM113.1 129.4h2.8v2.3h-2.8zM156.5 129.4h2.8v2.3h-2.8zM190.3 129.4h2.8v2.3h-2.8zM132.4 131.4h2.8v2.3h-2.8zM149.3 131.4h7.6v2.3h-7.6zM161.3 131.4h2.8v2.3h-2.8zM127.5 133.4h2.8v2.3h-2.8zM139.6 133.4h2.8v2.3h-2.8zM156.5 133.4h2.8v2.3h-2.8zM163.8 133.4h2.8v2.3h-2.8zM125.1 135.4h2.8v2.3h-2.8zM132.4 135.4h5.2v2.3h-5.2zM139.6 135.4h2.8v2.3h-2.8zM151.7 135.4h7.6v2.3h-7.6zM122.7 137.4h2.8v2.3h-2.8zM127.5 137.4h2.8v2.3h-2.8zM132.4 137.4h5.2v2.3h-5.2zM144.4 137.4h2.8v2.3h-2.8zM154.1 137.4h2.8v2.3h-2.8zM161.3 137.4h2.8v2.3h-2.8zM134.8 139.4h2.8v2.3h-2.8zM142.0 139.4h5.2v2.3h-5.2zM149.3 139.4h14.8v2.3h-14.8zM122.7 141.4h5.2v2.3h-5.2zM144.4 141.4h2.8v2.3h-2.8zM151.7 141.4h2.8v2.3h-2.8zM156.5 141.4h2.8v2.3h-2.8zM161.3 141.4h2.8v2.3h-2.8zM122.7 143.4h2.8v2.3h-2.8zM130.0 143.4h2.8v2.3h-2.8zM139.6 143.4h2.8v2.3h-2.8zM144.4 143.4h2.8v2.3h-2.8zM125.1 145.4h2.8v2.3h-2.8zM132.4 145.4h2.8v2.3h-2.8zM139.6 145.4h2.8v2.3h-2.8zM146.9 145.4h2.8v2.3h-2.8zM156.5 145.4h2.8v2.3h-2.8zM115.5 147.3h2.8v2.3h-2.8zM127.5 147.3h2.8v2.3h-2.8zM132.4 147.3h2.8v2.3h-2.8zM151.7 147.3h2.8v2.3h-2.8zM156.5 147.3h2.8v2.3h-2.8zM122.7 149.3h2.8v2.3h-2.8zM144.4 149.3h7.6v2.3h-7.6zM130.0 151.3h2.8v2.3h-2.8zM151.7 151.3h7.6v2.3h-7.6zM117.9 153.3h2.8v2.3h-2.8zM132.4 153.3h2.8v2.3h-2.8zM151.7 153.3h2.8v2.3h-2.8zM132.4 155.3h5.2v2.3h-5.2zM144.4 155.3h2.8v2.3h-2.8zM161.3 155.3h2.8v2.3h-2.8zM120.3 157.3h2.8v2.3h-2.8zM139.6 157.3h2.8v2.3h-2.8zM149.3 157.3h2.8v2.3h-2.8zM115.5 159.3h5.2v2.3h-5.2zM125.1 159.3h2.8v2.3h-2.8zM132.4 159.3h2.8v2.3h-2.8zM137.2 159.3h2.8v2.3h-2.8zM142.0 159.3h2.8v2.3h-2.8zM149.3 159.3h2.8v2.3h-2.8zM158.9 159.3h5.2v2.3h-5.2zM117.9 161.3h5.2v2.3h-5.2zM127.5 161.3h2.8v2.3h-2.8zM161.3 161.3h2.8v2.3h-2.8zM115.5 163.3h2.8v2.3h-2.8zM120.3 163.3h2.8v2.3h-2.8zM127.5 163.3h5.2v2.3h-5.2zM134.8 163.3h5.2v2.3h-5.2zM146.9 163.3h2.8v2.3h-2.8zM151.7 163.3h2.8v2.3h-2.8zM156.5 163.3h2.8v2.3h-2.8zM161.3 163.3h2.8v2.3h-2.8zM122.7 165.3h2.8v2.3h-2.8zM130.0 165.3h2.8v2.3h-2.8zM134.8 165.3h5.2v2.3h-5.2zM151.7 165.3h2.8v2.3h-2.8zM117.9 167.3h2.8v2.3h-2.8zM122.7 167.3h2.8v2.3h-2.8zM130.0 167.3h2.8v2.3h-2.8zM137.2 167.3h2.8v2.3h-2.8zM142.0 167.3h5.2v2.3h-5.2zM151.7 167.3h2.8v2.3h-2.8zM115.5 169.3h5.2v2.3h-5.2zM132.4 169.3h2.8v2.3h-2.8zM144.4 169.3h2.8v2.3h-2.8zM156.5 169.3h2.8v2.3h-2.8zM161.3 169.3h5.2v2.3h-5.2zM117.9 171.3h2.8v2.3h-2.8zM134.8 171.3h2.8v2.3h-2.8zM180.7 171.3h5.2v2.3h-5.2zM192.7 171.3h2.8v2.3h-2.8zM120.3 173.3h2.8v2.3h-2.8zM132.4 173.3h2.8v2.3h-2.8zM146.9 173.3h2.8v2.3h-2.8zM192.7 173.3h2.8v2.3h-2.8zM120.3 175.3h5.2v2.3h-5.2zM127.5 175.3h2.8v2.3h-2.8zM134.8 175.3h2.8v2.3h-2.8zM146.9 175.3h2.8v2.3h-2.8zM120.3 177.3h2.8v2.3h-2.8zM125.1 177.3h14.8v2.3h-14.8zM130.0 179.3h2.8v2.3h-2.8zM137.2 179.3h2.8v2.3h-2.8zM144.4 181.3h2.8v2.3h-2.8zM183.1 181.3h2.8v2.3h-2.8zM185.5 183.3h2.8v2.3h-2.8zM72.0 209.3h2.8v2.3h-2.8zM72.0 211.3h2.8v2.3h-2.8z"/>
<path fill="#ffa500" d="M81.7 21.5h2.8v2.3h-2.8zM81.7 25.5h2.8v2.3h-2.8zM81.7 27.5h2.8v2.3h-2.8zM91.3 27.5h2.8v2.3h-2.8zM115.5 27.5h2.8v2.3h-2.8zM79.2 29.5h5.2v2.3h-5.2zM115.5 29.5h2.8v2.3h-2.8zM93.7 31.5h2.8v2.3h-2.8zM96.1 35.5h2.8v2.3h-2.8zM81.7 37.5h2.8v2.3h-2.8zM96.1 43.5h2.8v2.3h-2.8zM67.2 49.5h2.8v2.3h-2.8zM74.4 51.5h2.8v2.3h-2.8zM79.2 51.5h2.8v2.3h-2.8zM74.4 53.5h2.8v2.3h-2.8zM59.9 57.5h5.2v2.3h-5.2zM67.2 57.5h2.8v2.3h-2.8zM130.0 57.5h5.2v2.3h-5.2zM57.5 59.5h2.8v2.3h-2.8zM62.3 61.5h2.8v2.3h-2.8zM173.4 65.5h2.8v2.3h-2.8zM180.7 65.5h2.8v2.3h-2.8zM180.7 67.4h2.8v2.3h-2.8zM202.4 67.4h2.8v2.3h-2.8zM158.9 69.4h2.8v2.3h-2.8zM187.9 69.4h2.8v2.3h-2.8zM204.8 69.4h2.8v2.3h-2.8zM173.4 71.4h2.8v2.3h-2.8zM180.7 71.4h5.2v2.3h-5.2zM187.9 71.4h10.0v2.3h-10.0zM154.1 73.4h2.8v2.3h-2.8zM173.4 73.4h2.8v2.3h-2.8zM183.1 73.4h2.8v2.3h-2.8zM197.6 73.4h5.2v2.3h-5.2zM146.9 75.4h5.2v2.3h-5.2zM163.8 75.4h2.8v2.3h-2.8zM197.6 75.4h2.8v2.3h-2.8zM216.9 75.4h2.8v2.3h-2.8zM161.3 77.4h2.8v2.3h-2.8zM168.6 77.4h7.6v2.3h-7.6zM195.2 77.4h2.8v2.3h-2.8zM200.0 77.4h2.8v2.3h-2.8zM209.7 77.4h2.8v2.3h-2.8zM163.8 79.4h5.2v2.3h-5.2zM173.4 79.4h2.8v2.3h-2.8zM204.8 79.4h7.6v2.3h-7.6zM214.5 79.4h5.2v2.3h-5.2zM156.5 81.4h2.8v2.3h-2.8zM166.2 81.4h5.2v2.3h-5.2zM173.4 81.4h2.8v2.3h-2.8zM200.0 81.4h5.2v2.3h-5.2zM197.6 83.4h2.8v2.3h-2.8zM204.8 83.4h2.8v2.3h-2.8zM209.7 83.4h5.2v2.3h-5.2zM221.7 83.4h2.8v2.3h-2.8zM156.5 85.4h2.8v2.3h-2.8zM185.5 85.4h2.8v2.3h-2.8zM192.7 85.4h2.8v2.3h-2.8zM197.6 85.4h2.8v2.3h-2.8zM216.9 85.4h2.8v2.3h-2.8zM55.1 87.4h5.2v2.3h-5.2zM154.1 87.4h2.8v2.3h-2.8zM178.3 87.4h2.8v2.3h-2.8zM183.1 87.4h5.2v2.3h-5.2zM219.3 87.4h2.8v2.3h-2.8zM57.5 89.4h2.8v2.3h-2.8zM142.0 89.4h2.8v2.3h-2.8zM156.5 89.4h2.8v2.3h-2.8zM175.8 89.4h2.8v2.3h-2.8zM57.5 91.4h2.8v2.3h-2.8zM69.6 91.4h5.2v2.3h-5.2zM137.2 91.4h2.8v2.3h-2.8zM144.4 91.4h2.8v2.3h-2.8zM161.3 91.4h2.8v2.3h-2.8zM178.3 91.4h2.8v2.3h-2.8zM183.1 91.4h5.2v2.3h-5.2zM59.9 93.4h5.2v2.3h-5.2zM81.7 93.4h2.8v2.3h-2.8zM137.2 93.4h2.8v2.3h-2.8zM142.0 93.4h2.8v2.3h-2.8zM175.8 93.4h2.8v2.3h-2.8zM180.7 93.4h2.8v2.3h-2.8zM57.5 95.4h2.8v2.3h-2.8zM79.2 95.4h2.8v2.3h-2.8zM117.9 95.4h2.8v2.3h-2.8zM173.4 95.4h2.8v2.3h-2.8zM180.7 95.4h2.8v2.3h-2.8zM216.9 95.4h2.8v2.3h-2.8zM57.5 97.4h2.8v2.3h-2.8zM62.3 97.4h2.8v2.3h-2.8zM74.4 97.4h7.6v2.3h-7.6zM91.3 97.4h2.8v2.3h-2.8zM98.6 97.4h2.8v2.3h-2.8zM103.4 97.4h2.8v2.3h-2.8zM117.9 97.4h2.8v2.3h-2.8zM122.7 97.4h2.8v2.3h-2.8zM173.4 97.4h7.6v2.3h-7.6zM67.2 99.4h5.2v2.3h-5.2zM108.2 99.4h2.8v2.3h-2.8zM122.7 99.4h2.8v2.3h-2.8zM137.2 99.4h2.8v2.3h-2.8zM161.3 99.4h2.8v2.3h-2.8zM175.8 99.4h2.8v2.3h-2.8zM59.9 101.4h2.8v2.3h-2.8zM88.9 101.4h2.8v2.3h-2.8zM101.0 101.4h2.8v2.3h-2.8zM117.9 101.4h2.8v2.3h-2.8zM142.0 101.4h5.2v2.3h-5.2zM149.3 101.4h5.2v2.3h-5.2zM163.8 101.4h2.8v2.3h-2.8zM175.8 101.4h2.8v2.3h-2.8zM88.9 103.4h2.8v2.3h-2.8zM108.2 103.4h2.8v2.3h-2.8zM117.9 103.4h10.0v2.3h-10.0zM137.2 103.4h2.8v2.3h-2.8zM151.7 103.4h5.2v2.3h-5.2zM163.8 103.4h2.8v2.3h-2.8zM175.8 103.4h2.8v2.3h-2.8zM183.1 103.4h2.8v2.3h-2.8zM221.7 103.4h2.8v2.3h-2.8zM62.3 105.4h2.8v2.3h-2.8zM101.0 105.4h7.6v2.3h-7.6zM142.0 105.4h2.8v2.3h-2.8zM146.9 105.4h2.8v2.3h-2.8zM180.7 105.4h2.8v2.3h-2.8zM219.3 105.4h2.8v2.3h-2.8zM64.8 107.4h2.8v2.3h-2.8zM69.6 107.4h2.8v2.3h-2.8zM91.3 107.4h2.8v2.3h-2.8zM96.1 107.4h2.8v2.3h-2.8zM101.0 107.4h5.2v2.3h-5.2zM113.1 107.4h5.2v2.3h-5.2zM132.4 107.4h2.8v2.3h-2.8zM137.2 107.4h5.2v2.3h-5.2zM151.7 107.4h2.8v2.3h-2.8zM161.3 107.4h5.2v2.3h-5.2zM171.0 107.4h2.8v2.3h-2.8zM178.3 107.4h5.2v2.3h-5.2zM224.1 107.4h2.8v2.3h-2.8zM93.7 109.4h10.0v2.3h-10.0zM105.8 109.4h2.8v2.3h-2.8zM113.1 109.4h2.8v2.3h-2.8zM132.4 109.4h2.8v2.3h-2.8zM142.0 109.4h5.2v2.3h-5.2zM151.7 109.4h2.8v2.3h-2.8zM158.9 109.4h2.8v2.3h-2.8zM166.2 109.4h2.8v2.3h-2.8zM171.0 109.4h2.8v2.3h-2.8zM178.3 109.4h2.8v2.3h-2.8zM67.2 111.4h2.8v2.3h-2.8zM93.7 111.4h5.2v2.3h-5.2zM103.4 111.4h2.8v2.3h-2.8zM122.7 111.4h5.2v2.3h-5.2zM142.0 111.4h2.8v2.3h-2.8zM151.7 111.4h7.6v2.3h-7.6zM163.8 111.4h2.8v2.3h-2.8zM168.6 111.4h2.8v2.3h-2.8zM173.4 111.4h2.8v2.3h-2.8zM178.3 111.4h5.2v2.3h-5.2zM93.7 113.4h7.6v2.3h-7.6zM105.8 113.4h2.8v2.3h-2.8zM110.6 113.4h5.2v2.3h-5.2zM134.8 113.4h2.8v2.3h-2.8zM139.6 113.4h2.8v2.3h-2.8zM151.7 113.4h2.8v2.3h-2.8zM156.5 113.4h2.8v2.3h-2.8zM161.3 113.4h2.8v2.3h-2.8zM168.6 113.4h2.8v2.3h-2.8zM175.8 113.4h2.8v2.3h-2.8zM98.6 115.4h2.8v2.3h-2.8zM105.8 115.4h2.8v2.3h-2.8zM110.6 115.4h7.6v2.3h-7.6zM125.1 115.4h2.8v2.3h-2.8zM166.2 115.4h2.8v2.3h-2.8zM96.1 117.4h2.8v2.3h-2.8zM103.4 117.4h5.2v2.3h-5.2zM117.9 117.4h2.8v2.3h-2.8zM122.7 117.4h2.8v2.3h-2.8zM130.0 117.4h2.8v2.3h-2.8zM149.3 117.4h2.8v2.3h-2.8zM154.1 117.4h5.2v2.3h-5.2zM163.8 117.4h2.8v2.3h-2.8zM171.0 117.4h2.8v2.3h-2.8zM93.7 119.4h5.2v2.3h-5.2zM117.9 119.4h2.8v2.3h-2.8zM156.5 119.4h2.8v2.3h-2.8zM125.1 121.4h2.8v2.3h-2.8zM158.9 121.4h2.8v2.3h-2.8zM110.6 123.4h2.8v2.3h-2.8zM115.5 123.4h5.2v2.3h-5.2zM113.1 125.4h7.6v2.3h-7.6zM125.1 125.4h2.8v2.3h-2.8zM130.0 125.4h5.2v2.3h-5.2zM144.4 125.4h7.6v2.3h-7.6zM158.9 125.4h2.8v2.3h-2.8zM120.3 127.4h2.8v2.3h-2.8zM127.5 127.4h2.8v2.3h-2.8zM139.6 127.4h7.6v2.3h-7.6zM161.3 127.4h2.8v2.3h-2.8zM117.9 129.4h2.8v2.3h-2.8zM127.5 129.4h2.8v2.3h-2.8zM134.8 129.4h2.8v2.3h-2.8zM142.0 129.4h7.6v2.3h-7.6zM154.1 129.4h2.8v2.3h-2.8zM127.5 131.4h2.8v2.3h-2.8zM134.8 131.4h5.2v2.3h-5.2zM146.9 131.4h2.8v2.3h-2.8zM156.5 131.4h2.8v2.3h-2.8zM117.9 133.4h2.8v2.3h-2.8zM122.7 133.4h5.2v2.3h-5.2zM134.8 133.4h2.8v2.3h-2.8zM151.7 133.4h5.2v2.3h-5.2zM127.5 135.4h2.8v2.3h-2.8zM125.1 137.4h2.8v2.3h-2.8zM142.0 137.4h2.8v2.3h-2.8zM149.3 137.4h2.8v2.3h-2.8zM139.6 139.4h2.8v2.3h-2.8zM146.9 139.4h2.8v2.3h-2.8zM137.2 141.4h2.8v2.3h-2.8zM142.0 141.4h2.8v2.3h-2.8zM146.9 141.4h2.8v2.3h-2.8zM132.4 143.4h7.6v2.3h-7.6zM134.8 145.4h2.8v2.3h-2.8zM142.0 145.4h5.2v2.3h-5.2zM137.2 147.3h2.8v2.3h-2.8zM144.4 147.3h5.2v2.3h-5.2zM125.1 149.3h5.2v2.3h-5.2zM132.4 149.3h2.8v2.3h-2.8zM139.6 149.3h5.2v2.3h-5.2zM125.1 151.3h5.2v2.3h-5.2zM132.4 151.3h5.2v2.3h-5.2zM144.4 151.3h2.8v2.3h-2.8zM149.3 151.3h2.8v2.3h-2.8zM127.5 153.3h2.8v2.3h-2.8zM137.2 153.3h2.8v2.3h-2.8zM146.9 153.3h5.2v2.3h-5.2zM156.5 153.3h5.2v2.3h-5.2zM120.3 155.3h2.8v2.3h-2.8zM125.1 155.3h7.6v2.3h-7.6zM142.0 155.3h2.8v2.3h-2.8zM149.3 155.3h2.8v2.3h-2.8zM154.1 155.3h7.6v2.3h-7.6zM115.5 157.3h2.8v2.3h-2.8zM122.7 157.3h5.2v2.3h-5.2zM134.8 157.3h2.8v2.3h-2.8zM151.7 157.3h2.8v2.3h-2.8zM158.9 157.3h2.8v2.3h-2.8zM139.6 159.3h2.8v2.3h-2.8zM146.9 159.3h2.8v2.3h-2.8zM151.7 159.3h7.6v2.3h-7.6zM122.7 161.3h5.2v2.3h-5.2zM134.8 161.3h2.8v2.3h-2.8zM139.6 161.3h2.8v2.3h-2.8zM144.4 161.3h10.0v2.3h-10.0zM122.7 163.3h5.2v2.3h-5.2zM142.0 163.3h5.2v2.3h-5.2zM149.3 163.3h2.8v2.3h-2.8zM154.1 163.3h2.8v2.3h-2.8zM117.9 165.3h2.8v2.3h-2.8zM127.5 165.3h2.8v2.3h-2.8zM139.6 165.3h2.8v2.3h-2.8zM144.4 165.3h2.8v2.3h-2.8zM149.3 165.3h2.8v2.3h-2.8zM161.3 165.3h2.8v2.3h-2.8zM115.5 167.3h2.8v2.3h-2.8zM120.3 167.3h2.8v2.3h-2.8zM125.1 167.3h2.8v2.3h-2.8zM132.4 167.3h2.8v2.3h-2.8zM139.6 167.3h2.8v2.3h-2.8zM146.9 167.3h5.2v2.3h-5.2zM154.1 167.3h2.8v2.3h-2.8zM161.3 167.3h2.8v2.3h-2.8zM120.3 169.3h5.2v2.3h-5.2zM130.0 169.3h2.8v2.3h-2.8zM142.0 169.3h2.8v2.3h-2.8zM149.3 169.3h2.8v2.3h-2.8zM120.3 171.3h2.8v2.3h-2.8zM125.1 171.3h2.8v2.3h-2.8zM146.9 171.3h7.6v2.3h-7.6zM161.3 171.3h2.8v2.3h-2.8zM125.1 173.3h2.8v2.3h-2.8zM125.1 175.3h2.8v2.3h-2.8zM130.0 175.3h2.8v2.3h-2.8zM144.4 175.3h2.8v2.3h-2.8z"/>
<path fill="#ff5500" d="M122.7 27.5h2.8v2.3h-2.8zM67.2 55.5h2.8v2.3h-2.8zM130.0 55.5h5.2v2.3h-5.2zM57.5 61.5h5.2v2.3h-5.2zM178.3 67.4h2.8v2.3h-2.8zM178.3 69.4h5.2v2.3h-5.2zM161.3 71.4h5.2v2.3h-5.2zM175.8 71.4h5.2v2.3h-5.2zM185.5 71.4h2.8v2.3h-2.8zM163.8 73.4h2.8v2.3h-2.8zM180.7 73.4h2.8v2.3h-2.8zM187.9 73.4h5.2v2.3h-5.2zM156.5 75.4h2.8v2.3h-2.8zM161.3 75.4h2.8v2.3h-2.8zM166.2 75.4h7.6v2.3h-7.6zM175.8 75.4h2.8v2.3h-2.8zM180.7 75.4h5.2v2.3h-5.2zM192.7 75.4h5.2v2.3h-5.2zM154.1 77.4h2.8v2.3h-2.8zM158.9 77.4h2.8v2.3h-2.8zM163.8 77.4h2.8v2.3h-2.8zM187.9 77.4h5.2v2.3h-5.2zM156.5 79.4h5.2v2.3h-5.2zM171.0 79.4h2.8v2.3h-2.8zM175.8 79.4h2.8v2.3h-2.8zM200.0 79.4h2.8v2.3h-2.8zM178.3 81.4h2.8v2.3h-2.8zM195.2 81.4h2.8v2.3h-2.8zM204.8 81.4h5.2v2.3h-5.2zM216.9 81.4h2.8v2.3h-2.8zM158.9 83.4h2.8v2.3h-2.8zM178.3 83.4h7.6v2.3h-7.6zM180.7 85.4h2.8v2.3h-2.8zM180.7 87.4h2.8v2.3h-2.8zM146.9 89.4h2.8v2.3h-2.8zM139.6 91.4h5.2v2.3h-5.2zM158.9 91.4h2.8v2.3h-2.8zM55.1 93.4h5.2v2.3h-5.2zM178.3 93.4h2.8v2.3h-2.8zM55.1 95.4h2.8v2.3h-2.8zM59.9 95.4h2.8v2.3h-2.8zM81.7 95.4h2.8v2.3h-2.8zM115.5 95.4h2.8v2.3h-2.8zM72.0 97.4h2.8v2.3h-2.8zM81.7 97.4h2.8v2.3h-2.8zM115.5 97.4h2.8v2.3h-2.8zM120.3 97.4h2.8v2.3h-2.8zM88.9 99.4h2.8v2.3h-2.8zM103.4 99.4h5.2v2.3h-5.2zM110.6 99.4h2.8v2.3h-2.8zM115.5 99.4h2.8v2.3h-2.8zM127.5 99.4h2.8v2.3h-2.8zM180.7 99.4h2.8v2.3h-2.8zM105.8 101.4h2.8v2.3h-2.8zM113.1 101.4h2.8v2.3h-2.8zM125.1 101.4h2.8v2.3h-2.8zM130.0 101.4h10.0v2.3h-10.0zM146.9 101.4h2.8v2.3h-2.8zM173.4 101.4h2.8v2.3h-2.8zM178.3 101.4h2.8v2.3h-2.8zM62.3 103.4h2.8v2.3h-2.8zM93.7 103.4h5.2v2.3h-5.2zM101.0 103.4h2.8v2.3h-2.8zM134.8 103.4h2.8v2.3h-2.8zM139.6 103.4h5.2v2.3h-5.2zM146.9 103.4h2.8v2.3h-2.8zM178.3 103.4h2.8v2.3h-2.8zM67.2 105.4h2.8v2.3h-2.8zM96.1 105.4h5.2v2.3h-5.2zM108.2 105.4h5.2v2.3h-5.2zM115.5 105.4h2.8v2.3h-2.8zM139.6 105.4h2.8v2.3h-2.8zM144.4 105.4h2.8v2.3h-2.8zM173.4 105.4h2.8v2.3h-2.8zM67.2 107.4h2.8v2.3h-2.8zM93.7 107.4h2.8v2.3h-2.8zM98.6 107.4h2.8v2.3h-2.8zM108.2 107.4h2.8v2.3h-2.8zM146.9 107.4h2.8v2.3h-2.8zM175.8 107.4h2.8v2.3h-2.8zM103.4 109.4h2.8v2.3h-2.8zM108.2 109.4h2.8v2.3h-2.8zM134.8 109.4h7.6v2.3h-7.6zM146.9 109.4h5.2v2.3h-5.2zM168.6 109.4h2.8v2.3h-2.8zM173.4 109.4h2.8v2.3h-2.8zM108.2 111.4h2.8v2.3h-2.8zM137.2 111.4h5.2v2.3h-5.2zM144.4 111.4h7.6v2.3h-7.6zM166.2 111.4h2.8v2.3h-2.8zM171.0 111.4h2.8v2.3h-2.8zM166.2 113.4h2.8v2.3h-2.8zM171.0 113.4h2.8v2.3h-2.8zM139.6 115.4h2.8v2.3h-2.8zM151.7 115.4h7.6v2.3h-7.6zM151.7 117.4h2.8v2.3h-2.8zM122.7 121.4h2.8v2.3h-2.8zM120.3 123.4h2.8v2.3h-2.8zM134.8 125.4h2.8v2.3h-2.8zM115.5 127.4h2.8v2.3h-2.8zM125.1 127.4h2.8v2.3h-2.8zM132.4 127.4h2.8v2.3h-2.8zM149.3 127.4h2.8v2.3h-2.8zM120.3 129.4h2.8v2.3h-2.8zM125.1 129.4h2.8v2.3h-2.8zM132.4 129.4h2.8v2.3h-2.8zM137.2 129.4h2.8v2.3h-2.8zM117.9 131.4h7.6v2.3h-7.6zM139.6 131.4h2.8v2.3h-2.8zM144.4 131.4h2.8v2.3h-2.8zM130.0 133.4h2.8v2.3h-2.8zM142.0 133.4h2.8v2.3h-2.8zM127.5 143.4h2.8v2.3h-2.8zM134.8 149.3h2.8v2.3h-2.8zM139.6 151.3h2.8v2.3h-2.8zM130.0 153.3h2.8v2.3h-2.8zM134.8 153.3h2.8v2.3h-2.8zM142.0 153.3h2.8v2.3h-2.8zM154.1 153.3h2.8v2.3h-2.8zM139.6 155.3h2.8v2.3h-2.8zM146.9 155.3h2.8v2.3h-2.8zM146.9 157.3h2.8v2.3h-2.8zM154.1 157.3h5.2v2.3h-5.2zM120.3 159.3h2.8v2.3h-2.8zM154.1 161.3h7.6v2.3h-7.6zM117.9 163.3h2.8v2.3h-2.8zM120.3 165.3h2.8v2.3h-2.8zM125.1 165.3h2.8v2.3h-2.8zM146.9 165.3h2.8v2.3h-2.8zM154.1 165.3h7.6v2.3h-7.6zM125.1 169.3h5.2v2.3h-5.2zM122.7 171.3h2.8v2.3h-2.8zM127.5 171.3h2.8v2.3h-2.8zM154.1 171.3h7.6v2.3h-7.6z"/>
<path fill="#ff0000" d="M173.4 69.4h2.8v2.3h-2.8zM175.8 73.4h5.2v2.3h-5.2zM185.5 73.4h2.8v2.3h-2.8zM192.7 73.4h5.2v2.3h-5.2zM178.3 75.4h2.8v2.3h-2.8zM185.5 75.4h7.6v2.3h-7.6zM166.2 77.4h2.8v2.3h-2.8zM175.8 77.4h7.6v2.3h-7.6zM178.3 79.4h5.2v2.3h-5.2zM197.6 79.4h2.8v2.3h-2.8zM161.3 81.4h5.2v2.3h-5.2zM183.1 81.4h5.2v2.3h-5.2zM178.3 85.4h2.8v2.3h-2.8zM180.7 89.4h2.8v2.3h-2.8zM175.8 91.4h2.8v2.3h-2.8zM69.6 95.4h2.8v2.3h-2.8zM84.1 95.4h2.8v2.3h-2.8zM59.9 97.4h2.8v2.3h-2.8zM64.8 97.4h2.8v2.3h-2.8zM117.9 99.4h5.2v2.3h-5.2zM125.1 99.4h2.8v2.3h-2.8zM62.3 101.4h5.2v2.3h-5.2zM91.3 101.4h10.0v2.3h-10.0zM108.2 101.4h2.8v2.3h-2.8zM115.5 101.4h2.8v2.3h-2.8zM120.3 101.4h5.2v2.3h-5.2zM139.6 101.4h2.8v2.3h-2.8zM64.8 103.4h5.2v2.3h-5.2zM91.3 103.4h2.8v2.3h-2.8zM98.6 103.4h2.8v2.3h-2.8zM103.4 103.4h5.2v2.3h-5.2zM113.1 103.4h5.2v2.3h-5.2zM127.5 103.4h2.8v2.3h-2.8zM180.7 103.4h2.8v2.3h-2.8zM64.8 105.4h2.8v2.3h-2.8zM91.3 105.4h5.2v2.3h-5.2zM175.8 105.4h5.2v2.3h-5.2zM105.8 107.4h2.8v2.3h-2.8zM110.6 107.4h2.8v2.3h-2.8zM105.8 111.4h2.8v2.3h-2.8zM108.2 113.4h2.8v2.3h-2.8zM120.3 125.4h2.8v2.3h-2.8zM117.9 127.4h2.8v2.3h-2.8zM134.8 127.4h2.8v2.3h-2.8zM130.0 129.4h2.8v2.3h-2.8zM139.6 129.4h2.8v2.3h-2.8zM125.1 131.4h2.8v2.3h-2.8zM139.6 147.3h2.8v2.3h-2.8zM137.2 149.3h2.8v2.3h-2.8zM137.2 151.3h2.8v2.3h-2.8zM151.7 155.3h2.8v2.3h-2.8zM122.7 159.3h2.8v2.3h-2.8zM158.9 163.3h2.8v2.3h-2.8zM127.5 167.3h2.8v2.3h-2.8zM156.5 167.3h5.2v2.3h-5.2zM151.7 169.3h5.2v2.3h-5.2zM158.9 169.3h2.8v2.3h-2.8z"/>
</g>
<path d="M40.6 18.3V212M88.9 18.3V212M137.2 18.3V212M185.5 18.3V212M233.8 18.3V212M27.4 25.5H276.1M27.4 45.5H276.1M27.4 65.5H276.1M27.4 85.4H276.1M27.4 105.4H276.1M27.4 125.4H276.1M27.4 145.4H276.1M27.4 165.3H276.1M27.4 185.3H276.1M27.4 205.3H276.1" stroke="#999" stroke-width="0.6" stroke-dasharray="1 2.95" fill="none"/>
<path d="M21.3 25.9 L27 27.1 L29.6 28.1 L33.6 30.7 L36.9 31.4 L40.3 29.4 L43.6 27.7 L46.9 27.7 L49.6 29.4 L52.2 31.4 L54.2 33.8 L55.6 35.1 L56.9 32.1 L58.9 29.4 L60.9 26.7 L62.2 24.1 L64.8 22.1 L68.2 21.4 L72.1 21 L74.8 19.4 L77.5 18.1 L79.7 15.5 L83.1 15.5 L82.6 18.3 L79.7 19.5 L81.2 21.9 L83.1 21.9 L84.6 20.7 L87.9 19.9 L88.9 16.7 L90.3 19.5 L96.6 20.7 L97.6 22.3 L98.6 23.5 L107.3 23.1 L112.6 25.1 L116.9 23.5 L122.7 22.7 L128 22.7 L124.6 24.7 L129.5 25.9 L132.9 27.9 L137.2 31.1 L138.2 32.3 L144 36.3 L144.4 37.9 L150.7 41.5 L157 41.9 L166.2 42.3 L171.5 43.9 L177.3 47.9 L180.2 49.9 L182.1 57.1 L185.5 61.5 L186 64.3 L182.6 64.7 L179.2 67.4 L182.1 67.8 L185.5 65.8 L193.2 66.6 L192.7 71 L195.2 68.2 L200 68.2 L204.8 69.8 L211.6 72.6 L212.1 77 L214 75 L217.4 75 L224.1 76.6 L227.5 77 L233.8 76.6 L241 80.2 L246.8 84.2 L253.1 85.8 L256.5 86.2 L257.9 91 L258.9 94.2 L258.4 98.6 L256.5 102.6 L251.2 107.4 L248.3 109.4 L245.9 112.2 L243.5 116.2 L240.6 117.4 L238.6 121.4 L238.6 128.6 L238.1 136.2 L235.2 139.4 L234.8 144.2 L232.4 147.3 L229 151.7 L229 153.3 L224.1 156.9 L218.3 157.3 L211.1 158.5 L207.7 160.5 L202.9 161.3 L195.6 165.3 L192.7 168.9 L192.3 172.5 L192.3 178.1 L188.9 181.3 L185 186.1 L181.6 190.1 L175.4 194.1 L169.1 200.1 L167.1 202.9 L161.8 204.9 L155.6 204.9 L147.8 203.3 L144.9 201.3 L144.4 203.7 L150.2 206.5 L151.2 210.5 L153.1 212.5 L153.1 217.3 L72.5 217.3 L73.4 212.1 L75.9 207.3 L79.2 201.3 L80.7 197.3 L81.7 193.3 L81.7 185.3 L82.6 181.3 L81.7 177.3 L84.6 173.3 L86 169.3 L86.5 165.3 L87 159.3 L87.9 153.3 L88.4 147.3 L87.5 139 L82.6 136.2 L77.3 133.4 L71 131 L63.8 127 L59 121.4 L58 119.4 L54.6 113.8 L51.7 109.4 L49.3 105.4 L47.4 101.4 L45.4 98.2 L41.6 93.4 L36.7 90.2 L34.8 88.6 L34.3 84.2 L36.3 81 L39.2 79 L41.1 75.4 L39 77.4 L39.6 76.4 L36.9 75.2 L36.3 71.3 L36.9 67.3 L39.6 63.3 L42.9 60.7 L46.9 58 L48.9 55.3 L51.6 53.3 L53.5 50 L52.9 46 L52.2 42 L52.5 39.4 L51.6 36.7 L50.3 34.7 L48.2 32.1 L44.9 30.7 L41.6 31.4 L39 32.7 L39.6 34 L38.3 36 L36.3 35.4 L35.6 33.4 L32.3 32.7 L28.3 31.4 L21.3 30.7Z" stroke="#000" stroke-width="0.8" fill="none" stroke-linejoin="round"/>
<path d="M82.6 18.3 L76.8 21.1 L74.4 28.3 L77.3 31.9 L79.2 37.5 L88.4 37.5 L91.8 41.1 L101 40.7 L99.5 48.3 L101.9 51.9 L99 54.3 L102.4 56.3 L103.9 60.7M103.9 60.7 L102.9 58.7 L89.9 58.7 L89.9 61.1 L92.8 61.5 L91.8 69.8 L89.1 82.2M89.1 82.2 L85.5 80.6 L88.9 76.2 L74.9 75 L71 70.6 L63.8 65.8 L58.5 63.9 L52.7 62.7 L46.4 59.9M63.8 65.8 L61.9 71.4 L57 75.8 L48.8 79 L46.9 83.8 L42.5 83 L39.2 83 L39.2 79M103.9 60.7 L110.6 62.7 L117.9 57.9 L120.8 56.7 L116.9 49.1 L123.2 51.1 L124.2 49.5 L132.4 47.5 L133.8 44.7M133.8 44.7 L130.4 41.9 L131.9 38.7 L135.8 37.5 L133.8 35.5 L137.2 32.3 L138.2 32.3M133.8 44.7 L137.2 45.5 L137.7 47.9 L139.6 49.9 L137.7 56.3 L142 60.3 L146.9 59.5 L154.1 57.9M154.1 57.9 L150.2 52.3 L146.9 49.5 L150.7 44.7 L150.7 41.5M154.1 57.9 L157 55.5 L163.3 56.3M163.3 56.3 L165.2 53.5 L164.2 49.5 L166.2 42.3M163.3 56.3 L171.5 56.7 L177.3 49.5M89.1 82.2 L74.9 85.8 L70.1 94.6 L74.4 101.4 L78.3 105.4 L86 104.6 L86.5 109.4 L90.8 109.2M90.8 109.2 L95.7 109.8 L104.8 105 L111.1 104.2 L111.6 111.4 L115.9 115 L123.7 117.4 L128 119.4 L134.8 120.6 L136.2 130.6 L144.9 130.6 L145.9 135 L149.3 137.4 L147.8 141.4 L146.4 144.6 L145.9 146.1M90.8 109.2 L95.2 115.4 L93.7 120.2 L93.7 126.6 L91.8 127.8 L93.7 130.2 L91.3 135.4M91.3 135.4 L87 138.8M91.3 135.4 L94.2 141.4 L96.1 147.3 L97.6 151.3 L99 156.5 L102.4 156.5M102.4 156.5 L101.9 161.3 L96.1 164.5 L97.1 172.9 L92.8 176.9 L89.9 181.7 L88.9 186.9 L86.5 191.3 L88.4 197.3 L89.9 202.1 L87 206.1 L87 209.7 L84.1 212.9M102.4 156.5 L107.3 152.5 L112.1 153.7 L116.4 156.5 L124.4 154.3M124.4 154.3 L126.1 147.3 L128.5 143.8 L141.5 142.6 L145.9 146.1M145.9 146.1 L147.3 153.7 L158 154.9 L159.4 160.9 L164.7 161.3 L163.3 167.7M124.4 154.3 L132.4 160.5 L143 164.5 L148.8 166.9 L144 174.1 L154.6 174.9 L163.3 167.7M163.3 167.7 L167.1 172.9 L158.5 178.1 L148.8 186.1M148.8 186.1 L156.5 188.9 L161.3 190.5 L166.2 192.9 L169.1 200.1M148.8 186.1 L146.4 193.3 L144.9 200.9" stroke="#000" stroke-width="0.8" fill="none" stroke-linejoin="round"/>
<path d="M182.6 66.2 L184.5 65.1 L187.4 65.5 L188.4 66.4 L185.5 67.4Z" stroke="#000" stroke-width="0.8" fill="none" stroke-linejoin="round"/>
<path d="M79.5 21.7 L80.2 24.7 L81.4 27.7 L83.1 28.3 L83.8 26.3 L82.6 23.1 L81.2 21.5Z" stroke="#000" stroke-width="0.8" fill="none" stroke-linejoin="round"/>
<path d="M126.2 34.3 L118.4 35.8 L110.2 36.4 L104.8 38.9 L100.7 44.1 L89.4 48.2 L78.9 51.3 L70.6 49.3 L64.4 56.5 L58.1 58.6 L51.9 64.8 L48.8 72.1 L46.7 78.3 L44.6 84.5 L47.7 89.7 L51.9 93.9 L55 100.1 L60.2 107.4 L66.4 113.6 L71.6 118.8 L76.8 117.8 L83.2 119.9 L89.5 124.1 L95.7 128.2 L101.9 131.3 L108.2 133.4 L114.5 135 L120.6 135.9 L120.3 133.8 L122.7 133.4 L121.3 131.4 L123.7 131 L121.7 129 L124.6 128.2 L123.7 126.2 L126.9 122 L131 118.9 L134.1 114.7 L138.3 112.2 L143.5 112.6 L148.6 113.7 L152.8 116.8 L157 113.7 L161.1 116.8 L166.3 117.8 L172.6 116.8 L176.7 113.7 L178.7 108.5 L182.9 104.3 L187.1 100.2 L189.4 96 L193.5 89.7 L198.6 84.5 L202.9 81.4 L208 79.4 L211.1 77.3 L210.1 73.8 L205.9 71.7 L199.7 70 L193.5 67.5 L187.2 66.9 L179.9 67.9 L182 65.8 L185.2 61.7 L183.1 58.6 L179.9 53.4 L176.9 48.2 L171.6 44.1 L165.4 42.6 L158.2 42 L151.9 41 L145.9 38.9 L139.6 35.8 L135 33.7 L130.9 33.1 L129 32.3 L126.1 31.9 L124.2 33.1Z" stroke="#000" stroke-width="2.7" fill="none" stroke-linejoin="round"/>
<circle cx="126.1" cy="34.1" r="1.9" fill="none" stroke="#000" stroke-width="1.7"/>
<rect x="96.1" y="89.4" width="70" height="24" fill="none" stroke="#111" stroke-width="0.9"/>
<rect x="185.5" y="83.4" width="33.8" height="41.9" fill="none" stroke="#111" stroke-width="0.9"/>
</g>
<rect x="27.4" y="18.3" width="248.7" height="193.7" fill="none" stroke="#333" stroke-width="1"/>
<path d="M40.6 18.3v-4M40.6 212v4M88.9 18.3v-4M88.9 212v4M137.2 18.3v-4M137.2 212v4M185.5 18.3v-4M185.5 212v4M233.8 18.3v-4M233.8 212v4M27.4 25.5h-4M276.1 25.5h4M27.4 65.5h-4M276.1 65.5h4M27.4 105.4h-4M276.1 105.4h4M27.4 145.4h-4M276.1 145.4h4M27.4 185.3h-4M276.1 185.3h4" stroke="#333" stroke-width="0.9" fill="none"/>
<text x="40.6" y="225.2" text-anchor="middle">80W</text>
<text x="88.9" y="225.2" text-anchor="middle">70W</text>
<text x="137.2" y="225.2" text-anchor="middle">60W</text>
<text x="185.5" y="225.2" text-anchor="middle">50W</text>
<text x="233.8" y="225.2" text-anchor="middle">40W</text>
<text x="20.2" y="28.6" text-anchor="end">10N</text>
<text x="20.2" y="68.5" text-anchor="end">0</text>
<text x="20.2" y="108.5" text-anchor="end">10S</text>
<text x="20.2" y="148.5" text-anchor="end">20S</text>
<text x="20.2" y="188.4" text-anchor="end">30S</text>
<clipPath id="clip2"><rect x="323.3" y="18.3" width="248.7" height="193.7"/></clipPath>
<clipPath id="land2"><path d="M317.2 25.9 L322.9 27.1 L325.5 28.1 L329.5 30.7 L332.8 31.4 L336.2 29.4 L339.5 27.7 L342.8 27.7 L345.5 29.4 L348.1 31.4 L350.1 33.8 L351.5 35.1 L352.8 32.1 L354.8 29.4 L356.8 26.7 L358.1 24.1 L360.7 22.1 L364.1 21.4 L368 21 L370.7 19.4 L373.4 18.1 L375.6 15.5 L379 15.5 L378.5 18.3 L375.6 19.5 L377.1 21.9 L379 21.9 L380.5 20.7 L383.8 19.9 L384.8 16.7 L386.2 19.5 L392.5 20.7 L393.5 22.3 L394.5 23.5 L403.2 23.1 L408.5 25.1 L412.8 23.5 L418.6 22.7 L423.9 22.7 L420.5 24.7 L425.4 25.9 L428.8 27.9 L433.1 31.1 L434.1 32.3 L439.9 36.3 L440.3 37.9 L446.6 41.5 L452.9 41.9 L462.1 42.3 L467.4 43.9 L473.2 47.9 L476.1 49.9 L478 57.1 L481.4 61.5 L481.9 64.3 L478.5 64.7 L475.1 67.4 L478 67.8 L481.4 65.8 L489.1 66.6 L488.6 71 L491.1 68.2 L495.9 68.2 L500.7 69.8 L507.5 72.6 L508 77 L509.9 75 L513.3 75 L520 76.6 L523.4 77 L529.7 76.6 L536.9 80.2 L542.7 84.2 L549 85.8 L552.4 86.2 L553.9 91 L554.8 94.2 L554.3 98.6 L552.4 102.6 L547.1 107.4 L544.2 109.4 L541.8 112.2 L539.4 116.2 L536.5 117.4 L534.5 121.4 L534.5 128.6 L534 136.2 L531.1 139.4 L530.7 144.2 L528.3 147.3 L524.9 151.7 L524.9 153.3 L520 156.9 L514.2 157.3 L507 158.5 L503.6 160.5 L498.8 161.3 L491.5 165.3 L488.6 168.9 L488.2 172.5 L488.2 178.1 L484.8 181.3 L480.9 186.1 L477.5 190.1 L471.3 194.1 L465 200.1 L463 202.9 L457.7 204.9 L451.5 204.9 L443.7 203.3 L440.8 201.3 L440.3 203.7 L446.1 206.5 L447.1 210.5 L449 212.5 L449 217.3 L368.4 217.3 L369.3 212.1 L371.8 207.3 L375.1 201.3 L376.6 197.3 L377.6 193.3 L377.6 185.3 L378.5 181.3 L377.6 177.3 L380.5 173.3 L381.9 169.3 L382.4 165.3 L382.9 159.3 L383.8 153.3 L384.3 147.3 L383.4 139 L378.5 136.2 L373.2 133.4 L366.9 131 L359.7 127 L354.9 121.4 L353.9 119.4 L350.5 113.8 L347.6 109.4 L345.2 105.4 L343.3 101.4 L341.3 98.2 L337.5 93.4 L332.6 90.2 L330.7 88.6 L330.2 84.2 L332.2 81 L335.1 79 L337 75.4 L334.9 77.4 L335.5 76.4 L332.8 75.2 L332.2 71.3 L332.8 67.3 L335.5 63.3 L338.8 60.7 L342.8 58 L344.8 55.3 L347.5 53.3 L349.4 50 L348.8 46 L348.1 42 L348.4 39.4 L347.5 36.7 L346.2 34.7 L344.1 32.1 L340.8 30.7 L337.5 31.4 L334.9 32.7 L335.5 34 L334.2 36 L332.2 35.4 L331.5 33.4 L328.2 32.7 L324.2 31.4 L317.2 30.7Z"/></clipPath>
<g clip-path="url(#clip2)">
<g clip-path="url(#land2)" shape-rendering="crispEdges">
<path fill="#cce5fb" d="M360.6 19.5h2.8v2.3h-2.8zM367.9 19.5h2.8v2.3h-2.8zM377.6 19.5h2.8v2.3h-2.8zM360.6 21.5h2.8v2.3h-2.8zM389.6 21.5h2.8v2.3h-2.8zM401.7 21.5h2.8v2.3h-2.8zM372.7 23.5h2.8v2.3h-2.8zM377.6 23.5h2.8v2.3h-2.8zM353.4 25.5h2.8v2.3h-2.8zM372.7 25.5h2.8v2.3h-2.8zM358.2 27.5h2.8v2.3h-2.8zM425.9 27.5h2.8v2.3h-2.8zM430.7 27.5h2.8v2.3h-2.8zM433.1 29.5h2.8v2.3h-2.8zM360.6 31.5h2.8v2.3h-2.8zM377.6 33.5h2.8v2.3h-2.8zM331.7 35.5h2.8v2.3h-2.8zM346.2 35.5h2.8v2.3h-2.8zM365.5 35.5h2.8v2.3h-2.8zM401.7 35.5h2.8v2.3h-2.8zM406.5 35.5h2.8v2.3h-2.8zM421.0 35.5h5.2v2.3h-5.2zM355.8 37.5h2.8v2.3h-2.8zM363.1 37.5h2.8v2.3h-2.8zM389.6 37.5h2.8v2.3h-2.8zM401.7 37.5h5.2v2.3h-5.2zM413.8 37.5h2.8v2.3h-2.8zM423.4 37.5h2.8v2.3h-2.8zM370.3 39.5h2.8v2.3h-2.8zM399.3 39.5h5.2v2.3h-5.2zM418.6 39.5h2.8v2.3h-2.8zM353.4 41.5h5.2v2.3h-5.2zM396.9 41.5h2.8v2.3h-2.8zM423.4 41.5h2.8v2.3h-2.8zM353.4 43.5h7.6v2.3h-7.6zM365.5 43.5h2.8v2.3h-2.8zM382.4 43.5h2.8v2.3h-2.8zM389.6 43.5h2.8v2.3h-2.8zM399.3 43.5h5.2v2.3h-5.2zM416.2 43.5h2.8v2.3h-2.8zM421.0 43.5h2.8v2.3h-2.8zM360.6 45.5h2.8v2.3h-2.8zM392.0 45.5h2.8v2.3h-2.8zM396.9 45.5h2.8v2.3h-2.8zM421.0 45.5h2.8v2.3h-2.8zM425.9 45.5h2.8v2.3h-2.8zM430.7 45.5h2.8v2.3h-2.8zM372.7 47.5h2.8v2.3h-2.8zM387.2 47.5h2.8v2.3h-2.8zM392.0 47.5h2.8v2.3h-2.8zM423.4 47.5h2.8v2.3h-2.8zM442.8 47.5h2.8v2.3h-2.8zM348.6 49.5h2.8v2.3h-2.8zM360.6 49.5h2.8v2.3h-2.8zM370.3 49.5h2.8v2.3h-2.8zM382.4 49.5h2.8v2.3h-2.8zM387.2 49.5h2.8v2.3h-2.8zM394.5 49.5h2.8v2.3h-2.8zM421.0 49.5h2.8v2.3h-2.8zM425.9 49.5h2.8v2.3h-2.8zM435.5 49.5h2.8v2.3h-2.8zM353.4 51.5h2.8v2.3h-2.8zM358.2 51.5h2.8v2.3h-2.8zM389.6 51.5h5.2v2.3h-5.2zM401.7 51.5h2.8v2.3h-2.8zM471.7 51.5h2.8v2.3h-2.8zM382.4 53.5h2.8v2.3h-2.8zM421.0 53.5h2.8v2.3h-2.8zM351.0 55.5h2.8v2.3h-2.8zM469.3 55.5h2.8v2.3h-2.8zM351.0 57.5h2.8v2.3h-2.8zM370.3 57.5h2.8v2.3h-2.8zM394.5 57.5h2.8v2.3h-2.8zM435.5 57.5h2.8v2.3h-2.8zM469.3 57.5h2.8v2.3h-2.8zM338.9 59.5h2.8v2.3h-2.8zM423.4 59.5h2.8v2.3h-2.8zM433.1 59.5h2.8v2.3h-2.8zM338.9 61.5h2.8v2.3h-2.8zM363.1 61.5h2.8v2.3h-2.8zM382.4 61.5h2.8v2.3h-2.8zM425.9 61.5h2.8v2.3h-2.8zM425.9 63.5h5.2v2.3h-5.2zM457.2 65.5h2.8v2.3h-2.8zM343.7 67.4h2.8v2.3h-2.8zM418.6 67.4h2.8v2.3h-2.8zM450.0 67.4h2.8v2.3h-2.8zM370.3 69.4h2.8v2.3h-2.8zM367.9 71.4h2.8v2.3h-2.8zM454.8 71.4h2.8v2.3h-2.8zM408.9 75.4h2.8v2.3h-2.8zM334.1 77.4h2.8v2.3h-2.8zM365.5 77.4h2.8v2.3h-2.8zM421.0 77.4h5.2v2.3h-5.2zM329.3 79.4h2.8v2.3h-2.8zM372.7 79.4h5.2v2.3h-5.2zM401.7 79.4h2.8v2.3h-2.8zM413.8 79.4h2.8v2.3h-2.8zM329.3 81.4h7.6v2.3h-7.6zM483.8 81.4h2.8v2.3h-2.8zM331.7 83.4h2.8v2.3h-2.8zM377.6 83.4h2.8v2.3h-2.8zM440.3 83.4h5.2v2.3h-5.2zM329.3 85.4h2.8v2.3h-2.8zM462.1 85.4h2.8v2.3h-2.8zM408.9 87.4h2.8v2.3h-2.8zM433.1 87.4h2.8v2.3h-2.8zM546.6 87.4h2.8v2.3h-2.8zM536.9 93.4h2.8v2.3h-2.8zM553.9 95.4h2.8v2.3h-2.8zM527.3 97.4h2.8v2.3h-2.8zM527.3 99.4h2.8v2.3h-2.8zM544.2 99.4h2.8v2.3h-2.8zM532.1 101.4h2.8v2.3h-2.8zM532.1 105.4h2.8v2.3h-2.8zM375.1 107.4h2.8v2.3h-2.8zM380.0 109.4h2.8v2.3h-2.8zM532.1 109.4h2.8v2.3h-2.8zM380.0 111.4h2.8v2.3h-2.8zM532.1 111.4h2.8v2.3h-2.8zM377.6 113.4h5.2v2.3h-5.2zM351.0 115.4h2.8v2.3h-2.8zM367.9 115.4h5.2v2.3h-5.2zM377.6 115.4h2.8v2.3h-2.8zM529.7 117.4h2.8v2.3h-2.8zM382.4 119.4h2.8v2.3h-2.8zM522.5 121.4h2.8v2.3h-2.8zM392.0 125.4h5.2v2.3h-5.2zM399.3 125.4h2.8v2.3h-2.8zM394.5 127.4h2.8v2.3h-2.8zM399.3 127.4h10.0v2.3h-10.0zM401.7 129.4h2.8v2.3h-2.8zM488.6 129.4h2.8v2.3h-2.8zM396.9 131.4h2.8v2.3h-2.8zM404.1 131.4h2.8v2.3h-2.8zM404.1 133.4h5.2v2.3h-5.2zM486.2 133.4h2.8v2.3h-2.8zM532.1 133.4h5.2v2.3h-5.2zM406.5 135.4h2.8v2.3h-2.8zM411.4 135.4h2.8v2.3h-2.8zM471.7 135.4h2.8v2.3h-2.8zM529.7 135.4h2.8v2.3h-2.8zM411.4 137.4h2.8v2.3h-2.8zM471.7 137.4h2.8v2.3h-2.8zM491.1 139.4h2.8v2.3h-2.8zM503.1 139.4h2.8v2.3h-2.8zM520.0 139.4h2.8v2.3h-2.8zM466.9 141.4h2.8v2.3h-2.8zM474.2 141.4h5.2v2.3h-5.2zM503.1 141.4h2.8v2.3h-2.8zM471.7 143.4h5.2v2.3h-5.2zM524.9 143.4h5.2v2.3h-5.2zM474.2 145.4h2.8v2.3h-2.8zM522.5 145.4h2.8v2.3h-2.8zM469.3 147.3h2.8v2.3h-2.8zM474.2 147.3h2.8v2.3h-2.8zM512.8 147.3h2.8v2.3h-2.8zM522.5 147.3h2.8v2.3h-2.8zM466.9 149.3h5.2v2.3h-5.2zM474.2 151.3h2.8v2.3h-2.8zM483.8 153.3h2.8v2.3h-2.8zM508.0 153.3h5.2v2.3h-5.2zM515.2 153.3h2.8v2.3h-2.8zM520.0 153.3h2.8v2.3h-2.8zM508.0 155.3h2.8v2.3h-2.8zM469.3 157.3h2.8v2.3h-2.8zM510.4 157.3h2.8v2.3h-2.8zM404.1 159.3h2.8v2.3h-2.8zM498.3 159.3h2.8v2.3h-2.8zM505.6 159.3h2.8v2.3h-2.8zM466.9 161.3h2.8v2.3h-2.8zM479.0 161.3h2.8v2.3h-2.8zM474.2 163.3h2.8v2.3h-2.8zM464.5 165.3h2.8v2.3h-2.8zM469.3 165.3h2.8v2.3h-2.8zM474.2 165.3h2.8v2.3h-2.8zM479.0 165.3h2.8v2.3h-2.8zM406.5 167.3h2.8v2.3h-2.8zM466.9 167.3h2.8v2.3h-2.8zM401.7 171.3h2.8v2.3h-2.8zM469.3 171.3h2.8v2.3h-2.8zM389.6 173.3h2.8v2.3h-2.8zM408.9 173.3h2.8v2.3h-2.8zM466.9 173.3h2.8v2.3h-2.8zM406.5 175.3h2.8v2.3h-2.8zM464.5 175.3h7.6v2.3h-7.6zM469.3 177.3h2.8v2.3h-2.8zM408.9 179.3h2.8v2.3h-2.8zM464.5 179.3h2.8v2.3h-2.8zM466.9 181.3h5.2v2.3h-5.2zM404.1 183.3h2.8v2.3h-2.8zM408.9 183.3h2.8v2.3h-2.8zM413.8 183.3h2.8v2.3h-2.8zM466.9 183.3h2.8v2.3h-2.8zM411.4 185.3h2.8v2.3h-2.8zM418.6 185.3h2.8v2.3h-2.8zM450.0 185.3h2.8v2.3h-2.8zM466.9 185.3h2.8v2.3h-2.8zM399.3 187.3h2.8v2.3h-2.8zM416.2 187.3h2.8v2.3h-2.8zM469.3 187.3h2.8v2.3h-2.8zM418.6 189.3h5.2v2.3h-5.2zM416.2 191.3h2.8v2.3h-2.8zM421.0 191.3h2.8v2.3h-2.8zM474.2 191.3h2.8v2.3h-2.8zM421.0 193.3h2.8v2.3h-2.8zM430.7 193.3h2.8v2.3h-2.8zM469.3 193.3h5.2v2.3h-5.2zM425.9 195.3h2.8v2.3h-2.8zM433.1 195.3h2.8v2.3h-2.8zM377.6 197.3h2.8v2.3h-2.8zM423.4 197.3h2.8v2.3h-2.8zM437.9 197.3h2.8v2.3h-2.8zM380.0 199.3h2.8v2.3h-2.8zM404.1 199.3h2.8v2.3h-2.8zM413.8 203.3h2.8v2.3h-2.8zM372.7 205.3h5.2v2.3h-5.2zM380.0 207.3h2.8v2.3h-2.8zM413.8 209.3h2.8v2.3h-2.8zM380.0 211.3h2.8v2.3h-2.8z"/>
<path fill="#99ccf9" d="M377.6 17.5h2.8v2.3h-2.8zM387.2 17.5h5.2v2.3h-5.2zM384.8 19.5h5.2v2.3h-5.2zM363.1 21.5h2.8v2.3h-2.8zM384.8 21.5h2.8v2.3h-2.8zM394.5 21.5h7.6v2.3h-7.6zM363.1 23.5h2.8v2.3h-2.8zM380.0 23.5h2.8v2.3h-2.8zM387.2 23.5h5.2v2.3h-5.2zM396.9 23.5h2.8v2.3h-2.8zM416.2 23.5h2.8v2.3h-2.8zM425.9 23.5h2.8v2.3h-2.8zM389.6 25.5h2.8v2.3h-2.8zM401.7 25.5h2.8v2.3h-2.8zM406.5 25.5h2.8v2.3h-2.8zM413.8 25.5h5.2v2.3h-5.2zM421.0 25.5h2.8v2.3h-2.8zM384.8 27.5h2.8v2.3h-2.8zM389.6 27.5h2.8v2.3h-2.8zM396.9 27.5h2.8v2.3h-2.8zM401.7 27.5h2.8v2.3h-2.8zM416.2 27.5h2.8v2.3h-2.8zM418.6 29.5h2.8v2.3h-2.8zM338.9 31.5h2.8v2.3h-2.8zM375.1 31.5h2.8v2.3h-2.8zM384.8 31.5h2.8v2.3h-2.8zM423.4 31.5h2.8v2.3h-2.8zM329.3 33.5h2.8v2.3h-2.8zM348.6 33.5h2.8v2.3h-2.8zM353.4 33.5h5.2v2.3h-5.2zM370.3 33.5h2.8v2.3h-2.8zM387.2 33.5h2.8v2.3h-2.8zM413.8 33.5h2.8v2.3h-2.8zM423.4 33.5h2.8v2.3h-2.8zM437.9 33.5h2.8v2.3h-2.8zM363.1 35.5h2.8v2.3h-2.8zM372.7 35.5h2.8v2.3h-2.8zM380.0 35.5h2.8v2.3h-2.8zM387.2 35.5h2.8v2.3h-2.8zM396.9 35.5h5.2v2.3h-5.2zM418.6 35.5h2.8v2.3h-2.8zM365.5 37.5h2.8v2.3h-2.8zM382.4 37.5h2.8v2.3h-2.8zM396.9 37.5h5.2v2.3h-5.2zM421.0 37.5h2.8v2.3h-2.8zM437.9 37.5h2.8v2.3h-2.8zM365.5 39.5h2.8v2.3h-2.8zM377.6 39.5h2.8v2.3h-2.8zM430.7 39.5h2.8v2.3h-2.8zM452.4 39.5h2.8v2.3h-2.8zM348.6 41.5h2.8v2.3h-2.8zM367.9 41.5h2.8v2.3h-2.8zM372.7 41.5h2.8v2.3h-2.8zM377.6 41.5h2.8v2.3h-2.8zM387.2 41.5h2.8v2.3h-2.8zM394.5 41.5h2.8v2.3h-2.8zM418.6 41.5h2.8v2.3h-2.8zM454.8 41.5h2.8v2.3h-2.8zM377.6 43.5h2.8v2.3h-2.8zM387.2 43.5h2.8v2.3h-2.8zM394.5 43.5h5.2v2.3h-5.2zM408.9 43.5h2.8v2.3h-2.8zM423.4 43.5h2.8v2.3h-2.8zM430.7 43.5h2.8v2.3h-2.8zM457.2 43.5h2.8v2.3h-2.8zM363.1 45.5h2.8v2.3h-2.8zM375.1 45.5h5.2v2.3h-5.2zM384.8 45.5h5.2v2.3h-5.2zM394.5 45.5h2.8v2.3h-2.8zM401.7 45.5h2.8v2.3h-2.8zM423.4 45.5h2.8v2.3h-2.8zM353.4 47.5h2.8v2.3h-2.8zM370.3 47.5h2.8v2.3h-2.8zM375.1 47.5h2.8v2.3h-2.8zM382.4 47.5h2.8v2.3h-2.8zM389.6 47.5h2.8v2.3h-2.8zM394.5 47.5h5.2v2.3h-5.2zM425.9 47.5h7.6v2.3h-7.6zM351.0 49.5h2.8v2.3h-2.8zM358.2 49.5h2.8v2.3h-2.8zM365.5 49.5h2.8v2.3h-2.8zM377.6 49.5h2.8v2.3h-2.8zM384.8 49.5h2.8v2.3h-2.8zM396.9 49.5h2.8v2.3h-2.8zM428.3 49.5h2.8v2.3h-2.8zM447.6 49.5h2.8v2.3h-2.8zM382.4 51.5h5.2v2.3h-5.2zM404.1 51.5h2.8v2.3h-2.8zM404.1 53.5h2.8v2.3h-2.8zM408.9 53.5h2.8v2.3h-2.8zM367.9 57.5h2.8v2.3h-2.8zM408.9 57.5h2.8v2.3h-2.8zM416.2 57.5h2.8v2.3h-2.8zM471.7 57.5h2.8v2.3h-2.8zM363.1 59.5h2.8v2.3h-2.8zM474.2 59.5h2.8v2.3h-2.8zM334.1 61.5h2.8v2.3h-2.8zM343.7 61.5h2.8v2.3h-2.8zM430.7 61.5h2.8v2.3h-2.8zM341.3 63.5h2.8v2.3h-2.8zM360.6 63.5h2.8v2.3h-2.8zM406.5 63.5h2.8v2.3h-2.8zM353.4 65.5h2.8v2.3h-2.8zM341.3 67.4h2.8v2.3h-2.8zM447.6 69.4h2.8v2.3h-2.8zM338.9 71.4h2.8v2.3h-2.8zM331.7 73.4h2.8v2.3h-2.8zM331.7 75.4h2.8v2.3h-2.8zM336.5 75.4h5.2v2.3h-5.2zM367.9 75.4h2.8v2.3h-2.8zM532.1 75.4h2.8v2.3h-2.8zM336.5 77.4h2.8v2.3h-2.8zM488.6 77.4h2.8v2.3h-2.8zM510.4 77.4h2.8v2.3h-2.8zM331.7 79.4h2.8v2.3h-2.8zM336.5 79.4h2.8v2.3h-2.8zM363.1 79.4h2.8v2.3h-2.8zM396.9 79.4h2.8v2.3h-2.8zM479.0 79.4h2.8v2.3h-2.8zM365.5 81.4h2.8v2.3h-2.8zM370.3 81.4h5.2v2.3h-5.2zM476.6 81.4h2.8v2.3h-2.8zM486.2 81.4h2.8v2.3h-2.8zM423.4 83.4h2.8v2.3h-2.8zM437.9 83.4h2.8v2.3h-2.8zM522.5 83.4h2.8v2.3h-2.8zM341.3 85.4h2.8v2.3h-2.8zM363.1 85.4h2.8v2.3h-2.8zM522.5 85.4h2.8v2.3h-2.8zM534.5 85.4h2.8v2.3h-2.8zM549.0 85.4h2.8v2.3h-2.8zM370.3 87.4h5.2v2.3h-5.2zM418.6 87.4h2.8v2.3h-2.8zM534.5 87.4h2.8v2.3h-2.8zM539.4 87.4h2.8v2.3h-2.8zM384.8 89.4h5.2v2.3h-5.2zM406.5 89.4h5.2v2.3h-5.2zM541.8 89.4h2.8v2.3h-2.8zM546.6 89.4h2.8v2.3h-2.8zM343.7 91.4h2.8v2.3h-2.8zM389.6 91.4h2.8v2.3h-2.8zM549.0 91.4h2.8v2.3h-2.8zM394.5 93.4h2.8v2.3h-2.8zM399.3 93.4h7.6v2.3h-7.6zM541.8 93.4h2.8v2.3h-2.8zM549.0 93.4h2.8v2.3h-2.8zM387.2 95.4h2.8v2.3h-2.8zM392.0 95.4h2.8v2.3h-2.8zM549.0 95.4h5.2v2.3h-5.2zM346.2 97.4h2.8v2.3h-2.8zM462.1 97.4h2.8v2.3h-2.8zM522.5 97.4h2.8v2.3h-2.8zM539.4 97.4h2.8v2.3h-2.8zM544.2 97.4h5.2v2.3h-5.2zM464.5 99.4h2.8v2.3h-2.8zM522.5 99.4h2.8v2.3h-2.8zM529.7 99.4h5.2v2.3h-5.2zM536.9 99.4h2.8v2.3h-2.8zM541.8 99.4h2.8v2.3h-2.8zM551.4 99.4h2.8v2.3h-2.8zM522.5 101.4h2.8v2.3h-2.8zM549.0 101.4h2.8v2.3h-2.8zM380.0 103.4h2.8v2.3h-2.8zM372.7 105.4h2.8v2.3h-2.8zM377.6 105.4h2.8v2.3h-2.8zM380.0 107.4h2.8v2.3h-2.8zM532.1 107.4h2.8v2.3h-2.8zM536.9 107.4h5.2v2.3h-5.2zM522.5 109.4h2.8v2.3h-2.8zM544.2 109.4h2.8v2.3h-2.8zM384.8 111.4h2.8v2.3h-2.8zM536.9 111.4h2.8v2.3h-2.8zM541.8 111.4h2.8v2.3h-2.8zM527.3 113.4h2.8v2.3h-2.8zM532.1 113.4h2.8v2.3h-2.8zM541.8 113.4h2.8v2.3h-2.8zM375.1 115.4h2.8v2.3h-2.8zM380.0 115.4h2.8v2.3h-2.8zM387.2 115.4h2.8v2.3h-2.8zM404.1 115.4h2.8v2.3h-2.8zM532.1 115.4h2.8v2.3h-2.8zM380.0 117.4h7.6v2.3h-7.6zM404.1 117.4h2.8v2.3h-2.8zM384.8 119.4h5.2v2.3h-5.2zM404.1 119.4h5.2v2.3h-5.2zM418.6 119.4h2.8v2.3h-2.8zM517.6 119.4h2.8v2.3h-2.8zM384.8 121.4h2.8v2.3h-2.8zM404.1 121.4h2.8v2.3h-2.8zM425.9 121.4h2.8v2.3h-2.8zM520.0 121.4h2.8v2.3h-2.8zM389.6 123.4h12.4v2.3h-12.4zM408.9 123.4h2.8v2.3h-2.8zM423.4 123.4h5.2v2.3h-5.2zM532.1 123.4h2.8v2.3h-2.8zM423.4 125.4h2.8v2.3h-2.8zM481.4 125.4h2.8v2.3h-2.8zM488.6 125.4h2.8v2.3h-2.8zM418.6 127.4h2.8v2.3h-2.8zM476.6 127.4h2.8v2.3h-2.8zM481.4 127.4h5.2v2.3h-5.2zM491.1 127.4h2.8v2.3h-2.8zM476.6 129.4h2.8v2.3h-2.8zM491.1 129.4h2.8v2.3h-2.8zM529.7 129.4h2.8v2.3h-2.8zM399.3 131.4h2.8v2.3h-2.8zM406.5 131.4h7.6v2.3h-7.6zM474.2 131.4h2.8v2.3h-2.8zM486.2 131.4h2.8v2.3h-2.8zM408.9 133.4h2.8v2.3h-2.8zM471.7 133.4h2.8v2.3h-2.8zM476.6 133.4h2.8v2.3h-2.8zM481.4 133.4h5.2v2.3h-5.2zM500.7 133.4h2.8v2.3h-2.8zM408.9 135.4h2.8v2.3h-2.8zM416.2 135.4h5.2v2.3h-5.2zM425.9 135.4h2.8v2.3h-2.8zM474.2 135.4h2.8v2.3h-2.8zM517.6 135.4h2.8v2.3h-2.8zM534.5 135.4h2.8v2.3h-2.8zM413.8 137.4h5.2v2.3h-5.2zM459.7 137.4h2.8v2.3h-2.8zM469.3 137.4h2.8v2.3h-2.8zM515.2 137.4h2.8v2.3h-2.8zM532.1 137.4h2.8v2.3h-2.8zM459.7 139.4h2.8v2.3h-2.8zM464.5 139.4h2.8v2.3h-2.8zM474.2 139.4h2.8v2.3h-2.8zM479.0 139.4h10.0v2.3h-10.0zM498.3 139.4h2.8v2.3h-2.8zM505.6 139.4h2.8v2.3h-2.8zM532.1 139.4h2.8v2.3h-2.8zM413.8 141.4h2.8v2.3h-2.8zM464.5 141.4h2.8v2.3h-2.8zM469.3 141.4h2.8v2.3h-2.8zM483.8 141.4h7.6v2.3h-7.6zM522.5 141.4h5.2v2.3h-5.2zM529.7 141.4h2.8v2.3h-2.8zM464.5 143.4h2.8v2.3h-2.8zM481.4 143.4h2.8v2.3h-2.8zM495.9 143.4h2.8v2.3h-2.8zM505.6 143.4h2.8v2.3h-2.8zM512.8 143.4h2.8v2.3h-2.8zM529.7 143.4h2.8v2.3h-2.8zM464.5 145.4h2.8v2.3h-2.8zM476.6 145.4h5.2v2.3h-5.2zM505.6 145.4h2.8v2.3h-2.8zM510.4 145.4h5.2v2.3h-5.2zM517.6 145.4h2.8v2.3h-2.8zM524.9 145.4h5.2v2.3h-5.2zM408.9 147.3h2.8v2.3h-2.8zM505.6 147.3h2.8v2.3h-2.8zM515.2 147.3h7.6v2.3h-7.6zM524.9 147.3h2.8v2.3h-2.8zM474.2 149.3h2.8v2.3h-2.8zM479.0 149.3h2.8v2.3h-2.8zM483.8 149.3h2.8v2.3h-2.8zM488.6 149.3h2.8v2.3h-2.8zM503.1 149.3h2.8v2.3h-2.8zM512.8 149.3h5.2v2.3h-5.2zM524.9 149.3h2.8v2.3h-2.8zM464.5 151.3h10.0v2.3h-10.0zM481.4 151.3h2.8v2.3h-2.8zM495.9 151.3h2.8v2.3h-2.8zM503.1 151.3h5.2v2.3h-5.2zM515.2 151.3h2.8v2.3h-2.8zM406.5 153.3h2.8v2.3h-2.8zM466.9 153.3h5.2v2.3h-5.2zM481.4 153.3h2.8v2.3h-2.8zM505.6 153.3h2.8v2.3h-2.8zM512.8 153.3h2.8v2.3h-2.8zM517.6 153.3h2.8v2.3h-2.8zM406.5 155.3h2.8v2.3h-2.8zM469.3 155.3h2.8v2.3h-2.8zM474.2 155.3h5.2v2.3h-5.2zM491.1 155.3h2.8v2.3h-2.8zM495.9 155.3h2.8v2.3h-2.8zM500.7 155.3h2.8v2.3h-2.8zM515.2 155.3h2.8v2.3h-2.8zM406.5 157.3h2.8v2.3h-2.8zM493.5 157.3h2.8v2.3h-2.8zM500.7 157.3h2.8v2.3h-2.8zM515.2 157.3h2.8v2.3h-2.8zM462.1 159.3h2.8v2.3h-2.8zM479.0 159.3h5.2v2.3h-5.2zM493.5 159.3h2.8v2.3h-2.8zM500.7 159.3h2.8v2.3h-2.8zM406.5 161.3h2.8v2.3h-2.8zM464.5 161.3h2.8v2.3h-2.8zM469.3 161.3h2.8v2.3h-2.8zM476.6 161.3h2.8v2.3h-2.8zM493.5 161.3h10.0v2.3h-10.0zM406.5 163.3h2.8v2.3h-2.8zM476.6 163.3h5.2v2.3h-5.2zM491.1 163.3h2.8v2.3h-2.8zM495.9 163.3h2.8v2.3h-2.8zM399.3 165.3h2.8v2.3h-2.8zM462.1 165.3h2.8v2.3h-2.8zM466.9 165.3h2.8v2.3h-2.8zM471.7 165.3h2.8v2.3h-2.8zM476.6 165.3h2.8v2.3h-2.8zM481.4 165.3h2.8v2.3h-2.8zM486.2 165.3h7.6v2.3h-7.6zM408.9 167.3h2.8v2.3h-2.8zM469.3 167.3h5.2v2.3h-5.2zM479.0 167.3h12.4v2.3h-12.4zM406.5 169.3h2.8v2.3h-2.8zM469.3 169.3h2.8v2.3h-2.8zM474.2 169.3h5.2v2.3h-5.2zM483.8 169.3h2.8v2.3h-2.8zM406.5 171.3h5.2v2.3h-5.2zM464.5 171.3h2.8v2.3h-2.8zM471.7 171.3h5.2v2.3h-5.2zM464.5 173.3h2.8v2.3h-2.8zM469.3 173.3h7.6v2.3h-7.6zM408.9 175.3h2.8v2.3h-2.8zM471.7 175.3h5.2v2.3h-5.2zM459.7 177.3h2.8v2.3h-2.8zM466.9 177.3h2.8v2.3h-2.8zM413.8 179.3h5.2v2.3h-5.2zM466.9 179.3h7.6v2.3h-7.6zM486.2 179.3h2.8v2.3h-2.8zM416.2 181.3h2.8v2.3h-2.8zM454.8 181.3h5.2v2.3h-5.2zM471.7 181.3h2.8v2.3h-2.8zM411.4 183.3h2.8v2.3h-2.8zM416.2 183.3h2.8v2.3h-2.8zM457.2 183.3h2.8v2.3h-2.8zM469.3 183.3h2.8v2.3h-2.8zM421.0 185.3h5.2v2.3h-5.2zM428.3 185.3h2.8v2.3h-2.8zM442.8 185.3h5.2v2.3h-5.2zM452.4 185.3h2.8v2.3h-2.8zM418.6 187.3h2.8v2.3h-2.8zM442.8 187.3h2.8v2.3h-2.8zM447.6 187.3h2.8v2.3h-2.8zM423.4 189.3h2.8v2.3h-2.8zM440.3 189.3h2.8v2.3h-2.8zM466.9 189.3h2.8v2.3h-2.8zM471.7 189.3h2.8v2.3h-2.8zM418.6 191.3h2.8v2.3h-2.8zM423.4 191.3h5.2v2.3h-5.2zM440.3 191.3h2.8v2.3h-2.8zM425.9 193.3h5.2v2.3h-5.2zM433.1 193.3h7.6v2.3h-7.6zM474.2 193.3h2.8v2.3h-2.8zM372.7 197.3h2.8v2.3h-2.8zM380.0 201.3h2.8v2.3h-2.8zM435.5 201.3h2.8v2.3h-2.8zM370.3 203.3h2.8v2.3h-2.8zM380.0 205.3h2.8v2.3h-2.8zM382.4 209.3h2.8v2.3h-2.8zM377.6 211.3h2.8v2.3h-2.8z"/>
<path fill="#66b3f8" d="M370.3 17.5h2.8v2.3h-2.8zM363.1 19.5h2.8v2.3h-2.8zM375.1 19.5h2.8v2.3h-2.8zM365.5 21.5h2.8v2.3h-2.8zM382.4 21.5h2.8v2.3h-2.8zM387.2 21.5h2.8v2.3h-2.8zM404.1 21.5h2.8v2.3h-2.8zM411.4 21.5h2.8v2.3h-2.8zM416.2 21.5h2.8v2.3h-2.8zM375.1 23.5h2.8v2.3h-2.8zM399.3 23.5h2.8v2.3h-2.8zM324.4 25.5h2.8v2.3h-2.8zM375.1 25.5h2.8v2.3h-2.8zM418.6 25.5h2.8v2.3h-2.8zM428.3 25.5h2.8v2.3h-2.8zM329.3 27.5h2.8v2.3h-2.8zM336.5 29.5h2.8v2.3h-2.8zM355.8 29.5h2.8v2.3h-2.8zM392.0 29.5h2.8v2.3h-2.8zM326.8 31.5h2.8v2.3h-2.8zM346.2 31.5h2.8v2.3h-2.8zM351.0 31.5h2.8v2.3h-2.8zM401.7 31.5h2.8v2.3h-2.8zM428.3 31.5h2.8v2.3h-2.8zM365.5 33.5h2.8v2.3h-2.8zM380.0 33.5h5.2v2.3h-5.2zM404.1 33.5h2.8v2.3h-2.8zM428.3 33.5h2.8v2.3h-2.8zM435.5 33.5h2.8v2.3h-2.8zM358.2 35.5h2.8v2.3h-2.8zM389.6 35.5h2.8v2.3h-2.8zM416.2 37.5h2.8v2.3h-2.8zM380.0 39.5h2.8v2.3h-2.8zM396.9 39.5h2.8v2.3h-2.8zM421.0 39.5h2.8v2.3h-2.8zM370.3 41.5h2.8v2.3h-2.8zM416.2 41.5h2.8v2.3h-2.8zM353.4 45.5h2.8v2.3h-2.8zM365.5 45.5h2.8v2.3h-2.8zM355.8 47.5h2.8v2.3h-2.8zM476.6 47.5h2.8v2.3h-2.8zM423.4 49.5h2.8v2.3h-2.8zM423.4 51.5h2.8v2.3h-2.8zM430.7 51.5h2.8v2.3h-2.8zM341.3 53.5h2.8v2.3h-2.8zM358.2 53.5h2.8v2.3h-2.8zM367.9 53.5h2.8v2.3h-2.8zM387.2 53.5h2.8v2.3h-2.8zM428.3 53.5h2.8v2.3h-2.8zM433.1 53.5h5.2v2.3h-5.2zM341.3 55.5h2.8v2.3h-2.8zM435.5 55.5h2.8v2.3h-2.8zM423.4 57.5h2.8v2.3h-2.8zM348.6 59.5h2.8v2.3h-2.8zM425.9 59.5h5.2v2.3h-5.2zM336.5 61.5h2.8v2.3h-2.8zM346.2 61.5h2.8v2.3h-2.8zM408.9 63.5h2.8v2.3h-2.8zM358.2 65.5h2.8v2.3h-2.8zM462.1 65.5h2.8v2.3h-2.8zM331.7 67.4h5.2v2.3h-5.2zM353.4 67.4h2.8v2.3h-2.8zM358.2 67.4h2.8v2.3h-2.8zM408.9 67.4h2.8v2.3h-2.8zM491.1 67.4h2.8v2.3h-2.8zM343.7 69.4h2.8v2.3h-2.8zM329.3 71.4h5.2v2.3h-5.2zM423.4 71.4h2.8v2.3h-2.8zM433.1 71.4h2.8v2.3h-2.8zM452.4 71.4h2.8v2.3h-2.8zM336.5 73.4h5.2v2.3h-5.2zM334.1 75.4h2.8v2.3h-2.8zM367.9 77.4h2.8v2.3h-2.8zM493.5 77.4h2.8v2.3h-2.8zM520.0 77.4h2.8v2.3h-2.8zM529.7 77.4h2.8v2.3h-2.8zM360.6 79.4h2.8v2.3h-2.8zM367.9 79.4h2.8v2.3h-2.8zM520.0 79.4h2.8v2.3h-2.8zM375.1 81.4h2.8v2.3h-2.8zM541.8 81.4h2.8v2.3h-2.8zM536.9 83.4h2.8v2.3h-2.8zM544.2 83.4h2.8v2.3h-2.8zM418.6 85.4h2.8v2.3h-2.8zM483.8 85.4h2.8v2.3h-2.8zM536.9 85.4h2.8v2.3h-2.8zM546.6 85.4h2.8v2.3h-2.8zM377.6 87.4h2.8v2.3h-2.8zM382.4 87.4h2.8v2.3h-2.8zM536.9 87.4h2.8v2.3h-2.8zM338.9 89.4h2.8v2.3h-2.8zM377.6 89.4h2.8v2.3h-2.8zM392.0 89.4h2.8v2.3h-2.8zM520.0 89.4h2.8v2.3h-2.8zM536.9 89.4h2.8v2.3h-2.8zM363.1 91.4h2.8v2.3h-2.8zM384.8 91.4h5.2v2.3h-5.2zM396.9 91.4h2.8v2.3h-2.8zM428.3 91.4h2.8v2.3h-2.8zM532.1 91.4h5.2v2.3h-5.2zM539.4 91.4h2.8v2.3h-2.8zM380.0 93.4h2.8v2.3h-2.8zM387.2 93.4h7.6v2.3h-7.6zM406.5 93.4h2.8v2.3h-2.8zM464.5 93.4h2.8v2.3h-2.8zM469.3 93.4h2.8v2.3h-2.8zM529.7 93.4h2.8v2.3h-2.8zM534.5 93.4h2.8v2.3h-2.8zM539.4 93.4h2.8v2.3h-2.8zM372.7 95.4h2.8v2.3h-2.8zM399.3 95.4h2.8v2.3h-2.8zM442.8 95.4h2.8v2.3h-2.8zM466.9 95.4h2.8v2.3h-2.8zM527.3 95.4h7.6v2.3h-7.6zM343.7 97.4h2.8v2.3h-2.8zM464.5 97.4h2.8v2.3h-2.8zM479.0 97.4h2.8v2.3h-2.8zM520.0 97.4h2.8v2.3h-2.8zM524.9 97.4h2.8v2.3h-2.8zM541.8 97.4h2.8v2.3h-2.8zM553.9 97.4h2.8v2.3h-2.8zM549.0 99.4h2.8v2.3h-2.8zM553.9 99.4h2.8v2.3h-2.8zM524.9 101.4h2.8v2.3h-2.8zM534.5 101.4h7.6v2.3h-7.6zM544.2 101.4h5.2v2.3h-5.2zM377.6 103.4h2.8v2.3h-2.8zM498.3 103.4h2.8v2.3h-2.8zM522.5 103.4h2.8v2.3h-2.8zM536.9 103.4h2.8v2.3h-2.8zM541.8 103.4h2.8v2.3h-2.8zM351.0 105.4h2.8v2.3h-2.8zM382.4 105.4h2.8v2.3h-2.8zM479.0 105.4h2.8v2.3h-2.8zM527.3 105.4h5.2v2.3h-5.2zM539.4 105.4h5.2v2.3h-5.2zM351.0 107.4h2.8v2.3h-2.8zM524.9 107.4h7.6v2.3h-7.6zM534.5 107.4h2.8v2.3h-2.8zM546.6 107.4h2.8v2.3h-2.8zM529.7 109.4h2.8v2.3h-2.8zM536.9 109.4h2.8v2.3h-2.8zM358.2 111.4h2.8v2.3h-2.8zM406.5 111.4h2.8v2.3h-2.8zM358.2 113.4h2.8v2.3h-2.8zM384.8 113.4h2.8v2.3h-2.8zM534.5 113.4h2.8v2.3h-2.8zM539.4 113.4h2.8v2.3h-2.8zM363.1 115.4h2.8v2.3h-2.8zM382.4 115.4h2.8v2.3h-2.8zM524.9 115.4h7.6v2.3h-7.6zM536.9 115.4h2.8v2.3h-2.8zM406.5 117.4h2.8v2.3h-2.8zM520.0 117.4h2.8v2.3h-2.8zM527.3 117.4h2.8v2.3h-2.8zM532.1 117.4h7.6v2.3h-7.6zM396.9 119.4h7.6v2.3h-7.6zM423.4 119.4h5.2v2.3h-5.2zM505.6 119.4h2.8v2.3h-2.8zM522.5 119.4h7.6v2.3h-7.6zM532.1 119.4h5.2v2.3h-5.2zM392.0 121.4h2.8v2.3h-2.8zM399.3 121.4h5.2v2.3h-5.2zM406.5 121.4h12.4v2.3h-12.4zM423.4 121.4h2.8v2.3h-2.8zM435.5 121.4h5.2v2.3h-5.2zM529.7 121.4h5.2v2.3h-5.2zM387.2 123.4h2.8v2.3h-2.8zM401.7 123.4h2.8v2.3h-2.8zM421.0 123.4h2.8v2.3h-2.8zM471.7 123.4h2.8v2.3h-2.8zM476.6 123.4h2.8v2.3h-2.8zM505.6 123.4h2.8v2.3h-2.8zM527.3 123.4h2.8v2.3h-2.8zM404.1 125.4h5.2v2.3h-5.2zM433.1 125.4h2.8v2.3h-2.8zM524.9 125.4h2.8v2.3h-2.8zM408.9 127.4h2.8v2.3h-2.8zM459.7 127.4h2.8v2.3h-2.8zM466.9 127.4h2.8v2.3h-2.8zM474.2 127.4h2.8v2.3h-2.8zM479.0 127.4h2.8v2.3h-2.8zM486.2 127.4h2.8v2.3h-2.8zM495.9 127.4h2.8v2.3h-2.8zM529.7 127.4h2.8v2.3h-2.8zM411.4 129.4h2.8v2.3h-2.8zM469.3 129.4h7.6v2.3h-7.6zM479.0 129.4h7.6v2.3h-7.6zM493.5 129.4h2.8v2.3h-2.8zM498.3 129.4h2.8v2.3h-2.8zM510.4 129.4h2.8v2.3h-2.8zM425.9 131.4h2.8v2.3h-2.8zM471.7 131.4h2.8v2.3h-2.8zM476.6 131.4h5.2v2.3h-5.2zM483.8 131.4h2.8v2.3h-2.8zM488.6 131.4h5.2v2.3h-5.2zM500.7 131.4h2.8v2.3h-2.8zM527.3 131.4h7.6v2.3h-7.6zM411.4 133.4h2.8v2.3h-2.8zM416.2 133.4h2.8v2.3h-2.8zM428.3 133.4h2.8v2.3h-2.8zM433.1 133.4h2.8v2.3h-2.8zM445.2 133.4h2.8v2.3h-2.8zM498.3 133.4h2.8v2.3h-2.8zM517.6 133.4h2.8v2.3h-2.8zM522.5 133.4h2.8v2.3h-2.8zM527.3 133.4h2.8v2.3h-2.8zM413.8 135.4h2.8v2.3h-2.8zM433.1 135.4h2.8v2.3h-2.8zM464.5 135.4h2.8v2.3h-2.8zM469.3 135.4h2.8v2.3h-2.8zM476.6 135.4h2.8v2.3h-2.8zM483.8 135.4h5.2v2.3h-5.2zM491.1 135.4h2.8v2.3h-2.8zM495.9 135.4h2.8v2.3h-2.8zM512.8 135.4h2.8v2.3h-2.8zM520.0 135.4h2.8v2.3h-2.8zM524.9 135.4h5.2v2.3h-5.2zM462.1 137.4h2.8v2.3h-2.8zM476.6 137.4h7.6v2.3h-7.6zM486.2 137.4h5.2v2.3h-5.2zM498.3 137.4h2.8v2.3h-2.8zM505.6 137.4h2.8v2.3h-2.8zM512.8 137.4h2.8v2.3h-2.8zM517.6 137.4h7.6v2.3h-7.6zM527.3 137.4h2.8v2.3h-2.8zM408.9 139.4h7.6v2.3h-7.6zM469.3 139.4h5.2v2.3h-5.2zM476.6 139.4h2.8v2.3h-2.8zM493.5 139.4h2.8v2.3h-2.8zM517.6 139.4h2.8v2.3h-2.8zM522.5 139.4h2.8v2.3h-2.8zM527.3 139.4h2.8v2.3h-2.8zM408.9 141.4h2.8v2.3h-2.8zM471.7 141.4h2.8v2.3h-2.8zM481.4 141.4h2.8v2.3h-2.8zM491.1 141.4h12.4v2.3h-12.4zM505.6 141.4h2.8v2.3h-2.8zM515.2 141.4h2.8v2.3h-2.8zM408.9 143.4h2.8v2.3h-2.8zM466.9 143.4h2.8v2.3h-2.8zM483.8 143.4h7.6v2.3h-7.6zM503.1 143.4h2.8v2.3h-2.8zM510.4 143.4h2.8v2.3h-2.8zM517.6 143.4h7.6v2.3h-7.6zM416.2 145.4h2.8v2.3h-2.8zM445.2 145.4h2.8v2.3h-2.8zM457.2 145.4h2.8v2.3h-2.8zM466.9 145.4h7.6v2.3h-7.6zM491.1 145.4h5.2v2.3h-5.2zM498.3 145.4h5.2v2.3h-5.2zM515.2 145.4h2.8v2.3h-2.8zM520.0 145.4h2.8v2.3h-2.8zM466.9 147.3h2.8v2.3h-2.8zM476.6 147.3h12.4v2.3h-12.4zM493.5 147.3h12.4v2.3h-12.4zM508.0 147.3h2.8v2.3h-2.8zM408.9 149.3h2.8v2.3h-2.8zM413.8 149.3h2.8v2.3h-2.8zM457.2 149.3h10.0v2.3h-10.0zM471.7 149.3h2.8v2.3h-2.8zM476.6 149.3h2.8v2.3h-2.8zM505.6 149.3h5.2v2.3h-5.2zM527.3 149.3h2.8v2.3h-2.8zM408.9 151.3h5.2v2.3h-5.2zM416.2 151.3h2.8v2.3h-2.8zM462.1 151.3h2.8v2.3h-2.8zM479.0 151.3h2.8v2.3h-2.8zM483.8 151.3h2.8v2.3h-2.8zM493.5 151.3h2.8v2.3h-2.8zM508.0 151.3h2.8v2.3h-2.8zM512.8 151.3h2.8v2.3h-2.8zM462.1 153.3h2.8v2.3h-2.8zM471.7 153.3h7.6v2.3h-7.6zM493.5 153.3h2.8v2.3h-2.8zM498.3 153.3h5.2v2.3h-5.2zM408.9 155.3h2.8v2.3h-2.8zM462.1 155.3h2.8v2.3h-2.8zM466.9 155.3h2.8v2.3h-2.8zM479.0 155.3h5.2v2.3h-5.2zM486.2 155.3h2.8v2.3h-2.8zM493.5 155.3h2.8v2.3h-2.8zM498.3 155.3h2.8v2.3h-2.8zM503.1 155.3h2.8v2.3h-2.8zM517.6 155.3h2.8v2.3h-2.8zM428.3 157.3h2.8v2.3h-2.8zM459.7 157.3h2.8v2.3h-2.8zM466.9 157.3h2.8v2.3h-2.8zM471.7 157.3h5.2v2.3h-5.2zM479.0 157.3h2.8v2.3h-2.8zM483.8 157.3h5.2v2.3h-5.2zM491.1 157.3h2.8v2.3h-2.8zM498.3 157.3h2.8v2.3h-2.8zM503.1 157.3h2.8v2.3h-2.8zM520.0 157.3h2.8v2.3h-2.8zM406.5 159.3h2.8v2.3h-2.8zM476.6 159.3h2.8v2.3h-2.8zM483.8 159.3h2.8v2.3h-2.8zM495.9 159.3h2.8v2.3h-2.8zM408.9 161.3h2.8v2.3h-2.8zM471.7 161.3h2.8v2.3h-2.8zM481.4 161.3h2.8v2.3h-2.8zM491.1 161.3h2.8v2.3h-2.8zM408.9 163.3h2.8v2.3h-2.8zM464.5 163.3h2.8v2.3h-2.8zM481.4 163.3h2.8v2.3h-2.8zM486.2 163.3h2.8v2.3h-2.8zM493.5 163.3h2.8v2.3h-2.8zM406.5 165.3h2.8v2.3h-2.8zM483.8 165.3h2.8v2.3h-2.8zM459.7 167.3h5.2v2.3h-5.2zM474.2 167.3h5.2v2.3h-5.2zM491.1 167.3h2.8v2.3h-2.8zM408.9 169.3h2.8v2.3h-2.8zM466.9 169.3h2.8v2.3h-2.8zM471.7 169.3h2.8v2.3h-2.8zM479.0 169.3h2.8v2.3h-2.8zM486.2 169.3h2.8v2.3h-2.8zM462.1 171.3h2.8v2.3h-2.8zM466.9 171.3h2.8v2.3h-2.8zM483.8 171.3h5.2v2.3h-5.2zM433.1 173.3h2.8v2.3h-2.8zM457.2 173.3h2.8v2.3h-2.8zM462.1 173.3h2.8v2.3h-2.8zM483.8 173.3h2.8v2.3h-2.8zM437.9 175.3h2.8v2.3h-2.8zM450.0 175.3h2.8v2.3h-2.8zM459.7 175.3h2.8v2.3h-2.8zM476.6 175.3h5.2v2.3h-5.2zM483.8 175.3h2.8v2.3h-2.8zM447.6 177.3h5.2v2.3h-5.2zM457.2 177.3h2.8v2.3h-2.8zM471.7 177.3h5.2v2.3h-5.2zM479.0 177.3h2.8v2.3h-2.8zM483.8 177.3h2.8v2.3h-2.8zM418.6 179.3h5.2v2.3h-5.2zM457.2 179.3h2.8v2.3h-2.8zM413.8 181.3h2.8v2.3h-2.8zM474.2 181.3h2.8v2.3h-2.8zM418.6 183.3h2.8v2.3h-2.8zM423.4 183.3h2.8v2.3h-2.8zM428.3 183.3h2.8v2.3h-2.8zM433.1 183.3h5.2v2.3h-5.2zM450.0 183.3h7.6v2.3h-7.6zM471.7 183.3h5.2v2.3h-5.2zM416.2 185.3h2.8v2.3h-2.8zM425.9 185.3h2.8v2.3h-2.8zM430.7 185.3h2.8v2.3h-2.8zM440.3 185.3h2.8v2.3h-2.8zM471.7 185.3h7.6v2.3h-7.6zM423.4 187.3h2.8v2.3h-2.8zM428.3 187.3h5.2v2.3h-5.2zM435.5 187.3h7.6v2.3h-7.6zM471.7 187.3h7.6v2.3h-7.6zM428.3 189.3h12.4v2.3h-12.4zM433.1 191.3h2.8v2.3h-2.8zM437.9 191.3h2.8v2.3h-2.8zM476.6 191.3h2.8v2.3h-2.8zM375.1 199.3h5.2v2.3h-5.2zM377.6 201.3h2.8v2.3h-2.8zM372.7 203.3h2.8v2.3h-2.8zM377.6 203.3h2.8v2.3h-2.8zM377.6 205.3h2.8v2.3h-2.8zM372.7 207.3h7.6v2.3h-7.6zM370.3 209.3h2.8v2.3h-2.8z"/>
<path fill="#90cfa8" d="M375.1 17.5h2.8v2.3h-2.8zM382.4 17.5h2.8v2.3h-2.8zM382.4 19.5h2.8v2.3h-2.8zM367.9 21.5h2.8v2.3h-2.8zM418.6 21.5h2.8v2.3h-2.8zM355.8 23.5h2.8v2.3h-2.8zM370.3 23.5h2.8v2.3h-2.8zM392.0 23.5h2.8v2.3h-2.8zM418.6 23.5h2.8v2.3h-2.8zM336.5 25.5h2.8v2.3h-2.8zM355.8 25.5h2.8v2.3h-2.8zM360.6 25.5h2.8v2.3h-2.8zM384.8 25.5h2.8v2.3h-2.8zM399.3 25.5h2.8v2.3h-2.8zM425.9 25.5h2.8v2.3h-2.8zM322.0 27.5h2.8v2.3h-2.8zM326.8 27.5h2.8v2.3h-2.8zM363.1 27.5h2.8v2.3h-2.8zM370.3 27.5h5.2v2.3h-5.2zM380.0 27.5h2.8v2.3h-2.8zM428.3 27.5h2.8v2.3h-2.8zM322.0 29.5h5.2v2.3h-5.2zM348.6 29.5h2.8v2.3h-2.8zM353.4 29.5h2.8v2.3h-2.8zM358.2 29.5h2.8v2.3h-2.8zM382.4 29.5h2.8v2.3h-2.8zM399.3 29.5h5.2v2.3h-5.2zM406.5 29.5h2.8v2.3h-2.8zM428.3 29.5h5.2v2.3h-5.2zM322.0 31.5h2.8v2.3h-2.8zM343.7 31.5h2.8v2.3h-2.8zM370.3 31.5h5.2v2.3h-5.2zM387.2 31.5h2.8v2.3h-2.8zM394.5 31.5h2.8v2.3h-2.8zM433.1 31.5h2.8v2.3h-2.8zM326.8 33.5h2.8v2.3h-2.8zM367.9 33.5h2.8v2.3h-2.8zM384.8 33.5h2.8v2.3h-2.8zM396.9 33.5h2.8v2.3h-2.8zM406.5 33.5h7.6v2.3h-7.6zM425.9 33.5h2.8v2.3h-2.8zM355.8 35.5h2.8v2.3h-2.8zM370.3 35.5h2.8v2.3h-2.8zM375.1 35.5h2.8v2.3h-2.8zM382.4 35.5h5.2v2.3h-5.2zM413.8 35.5h2.8v2.3h-2.8zM358.2 37.5h2.8v2.3h-2.8zM433.1 37.5h2.8v2.3h-2.8zM355.8 39.5h2.8v2.3h-2.8zM367.9 39.5h2.8v2.3h-2.8zM375.1 39.5h2.8v2.3h-2.8zM425.9 39.5h2.8v2.3h-2.8zM360.6 41.5h7.6v2.3h-7.6zM380.0 41.5h5.2v2.3h-5.2zM433.1 41.5h2.8v2.3h-2.8zM459.7 41.5h2.8v2.3h-2.8zM380.0 43.5h2.8v2.3h-2.8zM459.7 43.5h2.8v2.3h-2.8zM469.3 43.5h2.8v2.3h-2.8zM382.4 45.5h2.8v2.3h-2.8zM348.6 47.5h2.8v2.3h-2.8zM384.8 47.5h2.8v2.3h-2.8zM346.2 49.5h2.8v2.3h-2.8zM353.4 49.5h2.8v2.3h-2.8zM392.0 49.5h2.8v2.3h-2.8zM474.2 49.5h5.2v2.3h-5.2zM355.8 51.5h2.8v2.3h-2.8zM425.9 51.5h5.2v2.3h-5.2zM351.0 53.5h2.8v2.3h-2.8zM355.8 53.5h2.8v2.3h-2.8zM384.8 53.5h2.8v2.3h-2.8zM423.4 53.5h5.2v2.3h-5.2zM474.2 53.5h2.8v2.3h-2.8zM353.4 55.5h2.8v2.3h-2.8zM418.6 55.5h2.8v2.3h-2.8zM423.4 55.5h2.8v2.3h-2.8zM479.0 57.5h2.8v2.3h-2.8zM334.1 59.5h5.2v2.3h-5.2zM351.0 59.5h2.8v2.3h-2.8zM430.7 59.5h2.8v2.3h-2.8zM469.3 59.5h2.8v2.3h-2.8zM351.0 61.5h2.8v2.3h-2.8zM387.2 61.5h2.8v2.3h-2.8zM334.1 63.5h7.6v2.3h-7.6zM351.0 63.5h2.8v2.3h-2.8zM466.9 63.5h2.8v2.3h-2.8zM471.7 63.5h2.8v2.3h-2.8zM334.1 65.5h2.8v2.3h-2.8zM338.9 65.5h5.2v2.3h-5.2zM404.1 65.5h2.8v2.3h-2.8zM466.9 65.5h2.8v2.3h-2.8zM471.7 65.5h2.8v2.3h-2.8zM486.2 65.5h5.2v2.3h-5.2zM387.2 67.4h2.8v2.3h-2.8zM459.7 67.4h2.8v2.3h-2.8zM466.9 67.4h2.8v2.3h-2.8zM329.3 69.4h5.2v2.3h-5.2zM338.9 69.4h2.8v2.3h-2.8zM445.2 69.4h2.8v2.3h-2.8zM479.0 69.4h2.8v2.3h-2.8zM334.1 71.4h5.2v2.3h-5.2zM428.3 71.4h2.8v2.3h-2.8zM442.8 71.4h5.2v2.3h-5.2zM505.6 71.4h5.2v2.3h-5.2zM334.1 73.4h2.8v2.3h-2.8zM370.3 73.4h2.8v2.3h-2.8zM399.3 73.4h2.8v2.3h-2.8zM363.1 75.4h2.8v2.3h-2.8zM423.4 75.4h2.8v2.3h-2.8zM520.0 75.4h7.6v2.3h-7.6zM338.9 77.4h5.2v2.3h-5.2zM363.1 77.4h2.8v2.3h-2.8zM382.4 77.4h2.8v2.3h-2.8zM401.7 77.4h2.8v2.3h-2.8zM408.9 77.4h2.8v2.3h-2.8zM338.9 79.4h2.8v2.3h-2.8zM370.3 79.4h2.8v2.3h-2.8zM416.2 79.4h2.8v2.3h-2.8zM437.9 79.4h2.8v2.3h-2.8zM522.5 79.4h2.8v2.3h-2.8zM529.7 79.4h5.2v2.3h-5.2zM536.9 79.4h5.2v2.3h-5.2zM394.5 81.4h2.8v2.3h-2.8zM413.8 81.4h2.8v2.3h-2.8zM421.0 81.4h2.8v2.3h-2.8zM529.7 81.4h5.2v2.3h-5.2zM536.9 81.4h5.2v2.3h-5.2zM355.8 83.4h2.8v2.3h-2.8zM367.9 83.4h5.2v2.3h-5.2zM416.2 83.4h5.2v2.3h-5.2zM433.1 83.4h2.8v2.3h-2.8zM469.3 83.4h2.8v2.3h-2.8zM524.9 83.4h5.2v2.3h-5.2zM534.5 83.4h2.8v2.3h-2.8zM539.4 83.4h2.8v2.3h-2.8zM348.6 85.4h5.2v2.3h-5.2zM367.9 85.4h2.8v2.3h-2.8zM423.4 85.4h2.8v2.3h-2.8zM435.5 85.4h2.8v2.3h-2.8zM517.6 85.4h5.2v2.3h-5.2zM532.1 85.4h2.8v2.3h-2.8zM341.3 87.4h2.8v2.3h-2.8zM365.5 87.4h2.8v2.3h-2.8zM416.2 87.4h2.8v2.3h-2.8zM423.4 87.4h10.0v2.3h-10.0zM464.5 87.4h5.2v2.3h-5.2zM529.7 87.4h5.2v2.3h-5.2zM541.8 87.4h2.8v2.3h-2.8zM372.7 89.4h2.8v2.3h-2.8zM380.0 89.4h5.2v2.3h-5.2zM416.2 89.4h5.2v2.3h-5.2zM428.3 89.4h2.8v2.3h-2.8zM481.4 89.4h2.8v2.3h-2.8zM510.4 89.4h2.8v2.3h-2.8zM522.5 89.4h2.8v2.3h-2.8zM532.1 89.4h2.8v2.3h-2.8zM539.4 89.4h2.8v2.3h-2.8zM551.4 89.4h5.2v2.3h-5.2zM394.5 91.4h2.8v2.3h-2.8zM404.1 91.4h2.8v2.3h-2.8zM447.6 91.4h5.2v2.3h-5.2zM459.7 91.4h2.8v2.3h-2.8zM466.9 91.4h2.8v2.3h-2.8zM529.7 91.4h2.8v2.3h-2.8zM536.9 91.4h2.8v2.3h-2.8zM553.9 91.4h2.8v2.3h-2.8zM343.7 93.4h2.8v2.3h-2.8zM384.8 93.4h2.8v2.3h-2.8zM396.9 93.4h2.8v2.3h-2.8zM408.9 93.4h2.8v2.3h-2.8zM450.0 93.4h2.8v2.3h-2.8zM481.4 93.4h2.8v2.3h-2.8zM524.9 93.4h2.8v2.3h-2.8zM532.1 93.4h2.8v2.3h-2.8zM384.8 95.4h2.8v2.3h-2.8zM389.6 95.4h2.8v2.3h-2.8zM396.9 95.4h2.8v2.3h-2.8zM401.7 95.4h5.2v2.3h-5.2zM425.9 95.4h5.2v2.3h-5.2zM433.1 95.4h2.8v2.3h-2.8zM479.0 95.4h2.8v2.3h-2.8zM493.5 95.4h2.8v2.3h-2.8zM508.0 95.4h2.8v2.3h-2.8zM522.5 95.4h5.2v2.3h-5.2zM534.5 95.4h10.0v2.3h-10.0zM380.0 97.4h2.8v2.3h-2.8zM401.7 97.4h2.8v2.3h-2.8zM406.5 97.4h2.8v2.3h-2.8zM428.3 97.4h2.8v2.3h-2.8zM450.0 97.4h2.8v2.3h-2.8zM459.7 97.4h2.8v2.3h-2.8zM488.6 97.4h2.8v2.3h-2.8zM508.0 97.4h2.8v2.3h-2.8zM529.7 97.4h5.2v2.3h-5.2zM536.9 97.4h2.8v2.3h-2.8zM549.0 97.4h5.2v2.3h-5.2zM346.2 99.4h2.8v2.3h-2.8zM358.2 99.4h2.8v2.3h-2.8zM447.6 99.4h2.8v2.3h-2.8zM462.1 99.4h2.8v2.3h-2.8zM469.3 99.4h2.8v2.3h-2.8zM474.2 99.4h2.8v2.3h-2.8zM524.9 99.4h2.8v2.3h-2.8zM534.5 99.4h2.8v2.3h-2.8zM546.6 99.4h2.8v2.3h-2.8zM372.7 101.4h2.8v2.3h-2.8zM399.3 101.4h2.8v2.3h-2.8zM486.2 101.4h2.8v2.3h-2.8zM495.9 101.4h2.8v2.3h-2.8zM527.3 101.4h5.2v2.3h-5.2zM541.8 101.4h2.8v2.3h-2.8zM551.4 101.4h5.2v2.3h-5.2zM348.6 103.4h2.8v2.3h-2.8zM372.7 103.4h5.2v2.3h-5.2zM440.3 103.4h2.8v2.3h-2.8zM462.1 103.4h2.8v2.3h-2.8zM466.9 103.4h5.2v2.3h-5.2zM493.5 103.4h5.2v2.3h-5.2zM508.0 103.4h2.8v2.3h-2.8zM520.0 103.4h2.8v2.3h-2.8zM524.9 103.4h10.0v2.3h-10.0zM544.2 103.4h5.2v2.3h-5.2zM551.4 103.4h2.8v2.3h-2.8zM380.0 105.4h2.8v2.3h-2.8zM416.2 105.4h2.8v2.3h-2.8zM454.8 105.4h2.8v2.3h-2.8zM500.7 105.4h5.2v2.3h-5.2zM524.9 105.4h2.8v2.3h-2.8zM534.5 105.4h5.2v2.3h-5.2zM544.2 105.4h2.8v2.3h-2.8zM549.0 105.4h2.8v2.3h-2.8zM384.8 107.4h2.8v2.3h-2.8zM462.1 107.4h5.2v2.3h-5.2zM495.9 107.4h2.8v2.3h-2.8zM522.5 107.4h2.8v2.3h-2.8zM544.2 107.4h2.8v2.3h-2.8zM355.8 109.4h2.8v2.3h-2.8zM372.7 109.4h2.8v2.3h-2.8zM384.8 109.4h2.8v2.3h-2.8zM498.3 109.4h2.8v2.3h-2.8zM503.1 109.4h2.8v2.3h-2.8zM411.4 111.4h2.8v2.3h-2.8zM505.6 111.4h2.8v2.3h-2.8zM510.4 111.4h5.2v2.3h-5.2zM522.5 111.4h10.0v2.3h-10.0zM539.4 111.4h2.8v2.3h-2.8zM363.1 113.4h5.2v2.3h-5.2zM387.2 113.4h2.8v2.3h-2.8zM396.9 113.4h2.8v2.3h-2.8zM411.4 113.4h2.8v2.3h-2.8zM416.2 113.4h5.2v2.3h-5.2zM469.3 113.4h2.8v2.3h-2.8zM522.5 113.4h2.8v2.3h-2.8zM529.7 113.4h2.8v2.3h-2.8zM536.9 113.4h2.8v2.3h-2.8zM384.8 115.4h2.8v2.3h-2.8zM418.6 115.4h2.8v2.3h-2.8zM483.8 115.4h2.8v2.3h-2.8zM495.9 115.4h2.8v2.3h-2.8zM503.1 115.4h2.8v2.3h-2.8zM512.8 115.4h5.2v2.3h-5.2zM520.0 115.4h2.8v2.3h-2.8zM394.5 117.4h7.6v2.3h-7.6zM433.1 117.4h2.8v2.3h-2.8zM454.8 117.4h2.8v2.3h-2.8zM479.0 117.4h2.8v2.3h-2.8zM498.3 117.4h2.8v2.3h-2.8zM503.1 117.4h2.8v2.3h-2.8zM522.5 117.4h5.2v2.3h-5.2zM408.9 119.4h10.0v2.3h-10.0zM421.0 119.4h2.8v2.3h-2.8zM437.9 119.4h2.8v2.3h-2.8zM442.8 119.4h2.8v2.3h-2.8zM447.6 119.4h2.8v2.3h-2.8zM464.5 119.4h2.8v2.3h-2.8zM476.6 119.4h2.8v2.3h-2.8zM493.5 119.4h2.8v2.3h-2.8zM503.1 119.4h2.8v2.3h-2.8zM515.2 119.4h2.8v2.3h-2.8zM520.0 119.4h2.8v2.3h-2.8zM529.7 119.4h2.8v2.3h-2.8zM387.2 121.4h5.2v2.3h-5.2zM396.9 121.4h2.8v2.3h-2.8zM433.1 121.4h2.8v2.3h-2.8zM440.3 121.4h2.8v2.3h-2.8zM466.9 121.4h7.6v2.3h-7.6zM476.6 121.4h2.8v2.3h-2.8zM491.1 121.4h2.8v2.3h-2.8zM512.8 121.4h2.8v2.3h-2.8zM524.9 121.4h2.8v2.3h-2.8zM404.1 123.4h5.2v2.3h-5.2zM411.4 123.4h2.8v2.3h-2.8zM433.1 123.4h5.2v2.3h-5.2zM466.9 123.4h5.2v2.3h-5.2zM474.2 123.4h2.8v2.3h-2.8zM483.8 123.4h2.8v2.3h-2.8zM500.7 123.4h5.2v2.3h-5.2zM515.2 123.4h5.2v2.3h-5.2zM524.9 123.4h2.8v2.3h-2.8zM529.7 123.4h2.8v2.3h-2.8zM534.5 123.4h2.8v2.3h-2.8zM401.7 125.4h2.8v2.3h-2.8zM408.9 125.4h2.8v2.3h-2.8zM447.6 125.4h2.8v2.3h-2.8zM466.9 125.4h10.0v2.3h-10.0zM495.9 125.4h2.8v2.3h-2.8zM503.1 125.4h7.6v2.3h-7.6zM522.5 125.4h2.8v2.3h-2.8zM529.7 125.4h7.6v2.3h-7.6zM425.9 127.4h2.8v2.3h-2.8zM433.1 127.4h2.8v2.3h-2.8zM447.6 127.4h2.8v2.3h-2.8zM464.5 127.4h2.8v2.3h-2.8zM469.3 127.4h5.2v2.3h-5.2zM488.6 127.4h2.8v2.3h-2.8zM493.5 127.4h2.8v2.3h-2.8zM500.7 127.4h2.8v2.3h-2.8zM532.1 127.4h5.2v2.3h-5.2zM408.9 129.4h2.8v2.3h-2.8zM454.8 129.4h2.8v2.3h-2.8zM462.1 129.4h2.8v2.3h-2.8zM466.9 129.4h2.8v2.3h-2.8zM505.6 129.4h2.8v2.3h-2.8zM532.1 129.4h2.8v2.3h-2.8zM459.7 131.4h2.8v2.3h-2.8zM464.5 131.4h2.8v2.3h-2.8zM469.3 131.4h2.8v2.3h-2.8zM481.4 131.4h2.8v2.3h-2.8zM493.5 131.4h2.8v2.3h-2.8zM503.1 131.4h5.2v2.3h-5.2zM510.4 131.4h2.8v2.3h-2.8zM423.4 133.4h2.8v2.3h-2.8zM469.3 133.4h2.8v2.3h-2.8zM474.2 133.4h2.8v2.3h-2.8zM488.6 133.4h2.8v2.3h-2.8zM495.9 133.4h2.8v2.3h-2.8zM503.1 133.4h2.8v2.3h-2.8zM512.8 133.4h2.8v2.3h-2.8zM421.0 135.4h2.8v2.3h-2.8zM442.8 135.4h2.8v2.3h-2.8zM459.7 135.4h2.8v2.3h-2.8zM479.0 135.4h5.2v2.3h-5.2zM500.7 135.4h2.8v2.3h-2.8zM510.4 135.4h2.8v2.3h-2.8zM515.2 135.4h2.8v2.3h-2.8zM522.5 135.4h2.8v2.3h-2.8zM442.8 137.4h2.8v2.3h-2.8zM454.8 137.4h2.8v2.3h-2.8zM464.5 137.4h5.2v2.3h-5.2zM474.2 137.4h2.8v2.3h-2.8zM491.1 137.4h5.2v2.3h-5.2zM500.7 137.4h5.2v2.3h-5.2zM508.0 137.4h5.2v2.3h-5.2zM524.9 137.4h2.8v2.3h-2.8zM529.7 137.4h2.8v2.3h-2.8zM418.6 139.4h2.8v2.3h-2.8zM466.9 139.4h2.8v2.3h-2.8zM488.6 139.4h2.8v2.3h-2.8zM495.9 139.4h2.8v2.3h-2.8zM508.0 139.4h2.8v2.3h-2.8zM515.2 139.4h2.8v2.3h-2.8zM411.4 141.4h2.8v2.3h-2.8zM508.0 141.4h7.6v2.3h-7.6zM517.6 141.4h2.8v2.3h-2.8zM421.0 143.4h2.8v2.3h-2.8zM452.4 143.4h12.4v2.3h-12.4zM469.3 143.4h2.8v2.3h-2.8zM479.0 143.4h2.8v2.3h-2.8zM498.3 143.4h2.8v2.3h-2.8zM508.0 143.4h2.8v2.3h-2.8zM515.2 143.4h2.8v2.3h-2.8zM408.9 145.4h2.8v2.3h-2.8zM425.9 145.4h2.8v2.3h-2.8zM454.8 145.4h2.8v2.3h-2.8zM459.7 145.4h2.8v2.3h-2.8zM481.4 145.4h5.2v2.3h-5.2zM495.9 145.4h2.8v2.3h-2.8zM508.0 145.4h2.8v2.3h-2.8zM413.8 147.3h7.6v2.3h-7.6zM457.2 147.3h10.0v2.3h-10.0zM510.4 147.3h2.8v2.3h-2.8zM527.3 147.3h2.8v2.3h-2.8zM447.6 149.3h2.8v2.3h-2.8zM486.2 149.3h2.8v2.3h-2.8zM493.5 149.3h5.2v2.3h-5.2zM510.4 149.3h2.8v2.3h-2.8zM413.8 151.3h2.8v2.3h-2.8zM442.8 151.3h2.8v2.3h-2.8zM459.7 151.3h2.8v2.3h-2.8zM488.6 151.3h2.8v2.3h-2.8zM500.7 151.3h2.8v2.3h-2.8zM411.4 153.3h2.8v2.3h-2.8zM464.5 153.3h2.8v2.3h-2.8zM488.6 153.3h5.2v2.3h-5.2zM495.9 153.3h2.8v2.3h-2.8zM464.5 155.3h2.8v2.3h-2.8zM483.8 155.3h2.8v2.3h-2.8zM423.4 157.3h2.8v2.3h-2.8zM457.2 157.3h2.8v2.3h-2.8zM464.5 157.3h2.8v2.3h-2.8zM476.6 157.3h2.8v2.3h-2.8zM481.4 157.3h2.8v2.3h-2.8zM488.6 157.3h2.8v2.3h-2.8zM495.9 157.3h2.8v2.3h-2.8zM425.9 159.3h2.8v2.3h-2.8zM469.3 159.3h7.6v2.3h-7.6zM486.2 159.3h7.6v2.3h-7.6zM437.9 161.3h2.8v2.3h-2.8zM459.7 161.3h2.8v2.3h-2.8zM474.2 161.3h2.8v2.3h-2.8zM483.8 161.3h5.2v2.3h-5.2zM462.1 163.3h2.8v2.3h-2.8zM466.9 163.3h2.8v2.3h-2.8zM483.8 163.3h2.8v2.3h-2.8zM488.6 163.3h2.8v2.3h-2.8zM408.9 165.3h5.2v2.3h-5.2zM459.7 165.3h2.8v2.3h-2.8zM464.5 167.3h2.8v2.3h-2.8zM462.1 169.3h5.2v2.3h-5.2zM481.4 169.3h2.8v2.3h-2.8zM488.6 169.3h2.8v2.3h-2.8zM425.9 171.3h2.8v2.3h-2.8zM433.1 171.3h2.8v2.3h-2.8zM476.6 171.3h7.6v2.3h-7.6zM411.4 173.3h5.2v2.3h-5.2zM418.6 173.3h2.8v2.3h-2.8zM435.5 173.3h2.8v2.3h-2.8zM447.6 173.3h2.8v2.3h-2.8zM459.7 173.3h2.8v2.3h-2.8zM476.6 173.3h7.6v2.3h-7.6zM413.8 175.3h2.8v2.3h-2.8zM435.5 175.3h2.8v2.3h-2.8zM445.2 175.3h5.2v2.3h-5.2zM454.8 175.3h5.2v2.3h-5.2zM486.2 175.3h2.8v2.3h-2.8zM411.4 177.3h5.2v2.3h-5.2zM418.6 177.3h2.8v2.3h-2.8zM440.3 177.3h2.8v2.3h-2.8zM445.2 177.3h2.8v2.3h-2.8zM454.8 177.3h2.8v2.3h-2.8zM476.6 177.3h2.8v2.3h-2.8zM486.2 177.3h5.2v2.3h-5.2zM411.4 179.3h2.8v2.3h-2.8zM428.3 179.3h2.8v2.3h-2.8zM440.3 179.3h2.8v2.3h-2.8zM445.2 179.3h2.8v2.3h-2.8zM454.8 179.3h2.8v2.3h-2.8zM474.2 179.3h5.2v2.3h-5.2zM481.4 179.3h2.8v2.3h-2.8zM411.4 181.3h2.8v2.3h-2.8zM421.0 181.3h7.6v2.3h-7.6zM433.1 181.3h5.2v2.3h-5.2zM445.2 181.3h2.8v2.3h-2.8zM421.0 183.3h2.8v2.3h-2.8zM430.7 183.3h2.8v2.3h-2.8zM476.6 183.3h5.2v2.3h-5.2zM483.8 183.3h2.8v2.3h-2.8zM435.5 185.3h5.2v2.3h-5.2zM481.4 185.3h2.8v2.3h-2.8zM425.9 189.3h2.8v2.3h-2.8zM479.0 189.3h2.8v2.3h-2.8zM428.3 191.3h5.2v2.3h-5.2zM375.1 201.3h2.8v2.3h-2.8zM375.1 203.3h2.8v2.3h-2.8zM370.3 205.3h2.8v2.3h-2.8zM370.3 207.3h2.8v2.3h-2.8zM375.1 209.3h7.6v2.3h-7.6z"/>
<path fill="#c8e25a" d="M372.7 17.5h2.8v2.3h-2.8zM380.0 17.5h2.8v2.3h-2.8zM384.8 17.5h2.8v2.3h-2.8zM358.2 19.5h2.8v2.3h-2.8zM365.5 19.5h2.8v2.3h-2.8zM370.3 19.5h2.8v2.3h-2.8zM380.0 19.5h2.8v2.3h-2.8zM389.6 19.5h5.2v2.3h-5.2zM358.2 21.5h2.8v2.3h-2.8zM370.3 21.5h7.6v2.3h-7.6zM380.0 21.5h2.8v2.3h-2.8zM392.0 21.5h2.8v2.3h-2.8zM408.9 21.5h2.8v2.3h-2.8zM358.2 23.5h5.2v2.3h-5.2zM367.9 23.5h2.8v2.3h-2.8zM384.8 23.5h2.8v2.3h-2.8zM394.5 23.5h2.8v2.3h-2.8zM401.7 23.5h5.2v2.3h-5.2zM413.8 23.5h2.8v2.3h-2.8zM421.0 23.5h5.2v2.3h-5.2zM322.0 25.5h2.8v2.3h-2.8zM343.7 25.5h2.8v2.3h-2.8zM365.5 25.5h2.8v2.3h-2.8zM370.3 25.5h2.8v2.3h-2.8zM387.2 25.5h2.8v2.3h-2.8zM394.5 25.5h5.2v2.3h-5.2zM408.9 25.5h2.8v2.3h-2.8zM336.5 27.5h2.8v2.3h-2.8zM346.2 27.5h2.8v2.3h-2.8zM353.4 27.5h5.2v2.3h-5.2zM360.6 27.5h2.8v2.3h-2.8zM365.5 27.5h5.2v2.3h-5.2zM382.4 27.5h2.8v2.3h-2.8zM392.0 27.5h2.8v2.3h-2.8zM399.3 27.5h2.8v2.3h-2.8zM406.5 27.5h5.2v2.3h-5.2zM413.8 27.5h2.8v2.3h-2.8zM421.0 27.5h2.8v2.3h-2.8zM326.8 29.5h5.2v2.3h-5.2zM334.1 29.5h2.8v2.3h-2.8zM341.3 29.5h7.6v2.3h-7.6zM351.0 29.5h2.8v2.3h-2.8zM363.1 29.5h5.2v2.3h-5.2zM370.3 29.5h5.2v2.3h-5.2zM377.6 29.5h5.2v2.3h-5.2zM384.8 29.5h7.6v2.3h-7.6zM394.5 29.5h2.8v2.3h-2.8zM408.9 29.5h2.8v2.3h-2.8zM413.8 29.5h2.8v2.3h-2.8zM421.0 29.5h7.6v2.3h-7.6zM324.4 31.5h2.8v2.3h-2.8zM331.7 31.5h7.6v2.3h-7.6zM341.3 31.5h2.8v2.3h-2.8zM348.6 31.5h2.8v2.3h-2.8zM353.4 31.5h7.6v2.3h-7.6zM365.5 31.5h5.2v2.3h-5.2zM377.6 31.5h5.2v2.3h-5.2zM392.0 31.5h2.8v2.3h-2.8zM396.9 31.5h5.2v2.3h-5.2zM404.1 31.5h7.6v2.3h-7.6zM416.2 31.5h7.6v2.3h-7.6zM425.9 31.5h2.8v2.3h-2.8zM430.7 31.5h2.8v2.3h-2.8zM435.5 31.5h2.8v2.3h-2.8zM343.7 33.5h2.8v2.3h-2.8zM360.6 33.5h5.2v2.3h-5.2zM372.7 33.5h2.8v2.3h-2.8zM399.3 33.5h5.2v2.3h-5.2zM416.2 33.5h5.2v2.3h-5.2zM433.1 33.5h2.8v2.3h-2.8zM329.3 35.5h2.8v2.3h-2.8zM334.1 35.5h2.8v2.3h-2.8zM353.4 35.5h2.8v2.3h-2.8zM360.6 35.5h2.8v2.3h-2.8zM394.5 35.5h2.8v2.3h-2.8zM416.2 35.5h2.8v2.3h-2.8zM437.9 35.5h2.8v2.3h-2.8zM360.6 37.5h2.8v2.3h-2.8zM372.7 37.5h5.2v2.3h-5.2zM384.8 37.5h2.8v2.3h-2.8zM394.5 37.5h2.8v2.3h-2.8zM411.4 37.5h2.8v2.3h-2.8zM440.3 37.5h2.8v2.3h-2.8zM358.2 39.5h5.2v2.3h-5.2zM372.7 39.5h2.8v2.3h-2.8zM382.4 39.5h14.8v2.3h-14.8zM416.2 39.5h2.8v2.3h-2.8zM433.1 39.5h2.8v2.3h-2.8zM445.2 39.5h2.8v2.3h-2.8zM351.0 41.5h2.8v2.3h-2.8zM375.1 41.5h2.8v2.3h-2.8zM384.8 41.5h2.8v2.3h-2.8zM389.6 41.5h5.2v2.3h-5.2zM457.2 41.5h2.8v2.3h-2.8zM462.1 41.5h2.8v2.3h-2.8zM466.9 41.5h2.8v2.3h-2.8zM360.6 43.5h2.8v2.3h-2.8zM375.1 43.5h2.8v2.3h-2.8zM433.1 43.5h2.8v2.3h-2.8zM358.2 45.5h2.8v2.3h-2.8zM370.3 45.5h5.2v2.3h-5.2zM380.0 45.5h2.8v2.3h-2.8zM351.0 47.5h2.8v2.3h-2.8zM358.2 47.5h10.0v2.3h-10.0zM377.6 47.5h5.2v2.3h-5.2zM469.3 47.5h7.6v2.3h-7.6zM375.1 49.5h2.8v2.3h-2.8zM380.0 49.5h2.8v2.3h-2.8zM430.7 49.5h2.8v2.3h-2.8zM442.8 49.5h2.8v2.3h-2.8zM469.3 49.5h5.2v2.3h-5.2zM343.7 51.5h2.8v2.3h-2.8zM365.5 51.5h2.8v2.3h-2.8zM372.7 51.5h2.8v2.3h-2.8zM380.0 51.5h2.8v2.3h-2.8zM435.5 51.5h2.8v2.3h-2.8zM440.3 51.5h2.8v2.3h-2.8zM466.9 51.5h5.2v2.3h-5.2zM476.6 51.5h2.8v2.3h-2.8zM353.4 53.5h2.8v2.3h-2.8zM360.6 53.5h2.8v2.3h-2.8zM372.7 53.5h7.6v2.3h-7.6zM430.7 53.5h2.8v2.3h-2.8zM466.9 53.5h2.8v2.3h-2.8zM476.6 53.5h2.8v2.3h-2.8zM355.8 55.5h2.8v2.3h-2.8zM365.5 55.5h2.8v2.3h-2.8zM370.3 55.5h5.2v2.3h-5.2zM430.7 55.5h5.2v2.3h-5.2zM471.7 55.5h5.2v2.3h-5.2zM479.0 55.5h2.8v2.3h-2.8zM363.1 57.5h2.8v2.3h-2.8zM425.9 57.5h2.8v2.3h-2.8zM430.7 57.5h5.2v2.3h-5.2zM358.2 59.5h2.8v2.3h-2.8zM384.8 59.5h2.8v2.3h-2.8zM418.6 59.5h2.8v2.3h-2.8zM459.7 59.5h2.8v2.3h-2.8zM466.9 59.5h2.8v2.3h-2.8zM479.0 59.5h5.2v2.3h-5.2zM348.6 61.5h2.8v2.3h-2.8zM360.6 61.5h2.8v2.3h-2.8zM469.3 61.5h2.8v2.3h-2.8zM474.2 61.5h2.8v2.3h-2.8zM481.4 61.5h2.8v2.3h-2.8zM331.7 63.5h2.8v2.3h-2.8zM358.2 63.5h2.8v2.3h-2.8zM404.1 63.5h2.8v2.3h-2.8zM464.5 63.5h2.8v2.3h-2.8zM469.3 63.5h2.8v2.3h-2.8zM474.2 63.5h2.8v2.3h-2.8zM481.4 63.5h5.2v2.3h-5.2zM331.7 65.5h2.8v2.3h-2.8zM336.5 65.5h2.8v2.3h-2.8zM348.6 65.5h2.8v2.3h-2.8zM406.5 65.5h2.8v2.3h-2.8zM437.9 65.5h2.8v2.3h-2.8zM474.2 65.5h2.8v2.3h-2.8zM479.0 65.5h7.6v2.3h-7.6zM336.5 67.4h5.2v2.3h-5.2zM394.5 67.4h2.8v2.3h-2.8zM452.4 67.4h2.8v2.3h-2.8zM462.1 67.4h5.2v2.3h-5.2zM481.4 67.4h7.6v2.3h-7.6zM500.7 67.4h2.8v2.3h-2.8zM334.1 69.4h2.8v2.3h-2.8zM394.5 69.4h2.8v2.3h-2.8zM423.4 69.4h2.8v2.3h-2.8zM450.0 69.4h5.2v2.3h-5.2zM457.2 69.4h2.8v2.3h-2.8zM493.5 69.4h2.8v2.3h-2.8zM498.3 69.4h2.8v2.3h-2.8zM503.1 69.4h5.2v2.3h-5.2zM430.7 71.4h2.8v2.3h-2.8zM447.6 71.4h2.8v2.3h-2.8zM493.5 71.4h2.8v2.3h-2.8zM367.9 73.4h2.8v2.3h-2.8zM401.7 73.4h2.8v2.3h-2.8zM423.4 73.4h5.2v2.3h-5.2zM430.7 73.4h2.8v2.3h-2.8zM440.3 73.4h5.2v2.3h-5.2zM479.0 73.4h2.8v2.3h-2.8zM503.1 73.4h2.8v2.3h-2.8zM515.2 73.4h2.8v2.3h-2.8zM365.5 75.4h2.8v2.3h-2.8zM495.9 75.4h2.8v2.3h-2.8zM527.3 75.4h2.8v2.3h-2.8zM370.3 77.4h2.8v2.3h-2.8zM418.6 77.4h2.8v2.3h-2.8zM442.8 77.4h2.8v2.3h-2.8zM517.6 77.4h2.8v2.3h-2.8zM522.5 77.4h2.8v2.3h-2.8zM527.3 77.4h2.8v2.3h-2.8zM532.1 77.4h7.6v2.3h-7.6zM380.0 79.4h2.8v2.3h-2.8zM421.0 79.4h5.2v2.3h-5.2zM435.5 79.4h2.8v2.3h-2.8zM440.3 79.4h2.8v2.3h-2.8zM464.5 79.4h2.8v2.3h-2.8zM486.2 79.4h7.6v2.3h-7.6zM508.0 79.4h2.8v2.3h-2.8zM515.2 79.4h5.2v2.3h-5.2zM527.3 79.4h2.8v2.3h-2.8zM534.5 79.4h2.8v2.3h-2.8zM346.2 81.4h2.8v2.3h-2.8zM367.9 81.4h2.8v2.3h-2.8zM380.0 81.4h2.8v2.3h-2.8zM416.2 81.4h5.2v2.3h-5.2zM435.5 81.4h2.8v2.3h-2.8zM440.3 81.4h5.2v2.3h-5.2zM471.7 81.4h2.8v2.3h-2.8zM488.6 81.4h2.8v2.3h-2.8zM508.0 81.4h5.2v2.3h-5.2zM517.6 81.4h12.4v2.3h-12.4zM382.4 83.4h2.8v2.3h-2.8zM394.5 83.4h2.8v2.3h-2.8zM435.5 83.4h2.8v2.3h-2.8zM447.6 83.4h2.8v2.3h-2.8zM452.4 83.4h2.8v2.3h-2.8zM459.7 83.4h2.8v2.3h-2.8zM471.7 83.4h2.8v2.3h-2.8zM481.4 83.4h2.8v2.3h-2.8zM486.2 83.4h7.6v2.3h-7.6zM503.1 83.4h2.8v2.3h-2.8zM520.0 83.4h2.8v2.3h-2.8zM529.7 83.4h5.2v2.3h-5.2zM541.8 83.4h2.8v2.3h-2.8zM546.6 83.4h5.2v2.3h-5.2zM343.7 85.4h2.8v2.3h-2.8zM353.4 85.4h2.8v2.3h-2.8zM360.6 85.4h2.8v2.3h-2.8zM365.5 85.4h2.8v2.3h-2.8zM370.3 85.4h2.8v2.3h-2.8zM375.1 85.4h2.8v2.3h-2.8zM392.0 85.4h2.8v2.3h-2.8zM411.4 85.4h2.8v2.3h-2.8zM430.7 85.4h5.2v2.3h-5.2zM437.9 85.4h2.8v2.3h-2.8zM442.8 85.4h7.6v2.3h-7.6zM454.8 85.4h2.8v2.3h-2.8zM459.7 85.4h2.8v2.3h-2.8zM466.9 85.4h5.2v2.3h-5.2zM495.9 85.4h2.8v2.3h-2.8zM527.3 85.4h5.2v2.3h-5.2zM539.4 85.4h7.6v2.3h-7.6zM343.7 87.4h5.2v2.3h-5.2zM363.1 87.4h2.8v2.3h-2.8zM367.9 87.4h2.8v2.3h-2.8zM380.0 87.4h2.8v2.3h-2.8zM384.8 87.4h2.8v2.3h-2.8zM389.6 87.4h2.8v2.3h-2.8zM411.4 87.4h5.2v2.3h-5.2zM440.3 87.4h10.0v2.3h-10.0zM452.4 87.4h2.8v2.3h-2.8zM505.6 87.4h2.8v2.3h-2.8zM520.0 87.4h2.8v2.3h-2.8zM524.9 87.4h5.2v2.3h-5.2zM363.1 89.4h2.8v2.3h-2.8zM367.9 89.4h2.8v2.3h-2.8zM375.1 89.4h2.8v2.3h-2.8zM413.8 89.4h2.8v2.3h-2.8zM421.0 89.4h7.6v2.3h-7.6zM430.7 89.4h2.8v2.3h-2.8zM450.0 89.4h2.8v2.3h-2.8zM454.8 89.4h5.2v2.3h-5.2zM462.1 89.4h10.0v2.3h-10.0zM479.0 89.4h2.8v2.3h-2.8zM517.6 89.4h2.8v2.3h-2.8zM524.9 89.4h7.6v2.3h-7.6zM534.5 89.4h2.8v2.3h-2.8zM360.6 91.4h2.8v2.3h-2.8zM375.1 91.4h10.0v2.3h-10.0zM408.9 91.4h7.6v2.3h-7.6zM423.4 91.4h5.2v2.3h-5.2zM442.8 91.4h5.2v2.3h-5.2zM452.4 91.4h2.8v2.3h-2.8zM462.1 91.4h2.8v2.3h-2.8zM476.6 91.4h2.8v2.3h-2.8zM495.9 91.4h2.8v2.3h-2.8zM505.6 91.4h5.2v2.3h-5.2zM515.2 91.4h2.8v2.3h-2.8zM520.0 91.4h10.0v2.3h-10.0zM346.2 93.4h2.8v2.3h-2.8zM365.5 93.4h2.8v2.3h-2.8zM375.1 93.4h2.8v2.3h-2.8zM382.4 93.4h2.8v2.3h-2.8zM413.8 93.4h2.8v2.3h-2.8zM421.0 93.4h7.6v2.3h-7.6zM430.7 93.4h2.8v2.3h-2.8zM440.3 93.4h10.0v2.3h-10.0zM462.1 93.4h2.8v2.3h-2.8zM466.9 93.4h2.8v2.3h-2.8zM483.8 93.4h2.8v2.3h-2.8zM500.7 93.4h2.8v2.3h-2.8zM512.8 93.4h2.8v2.3h-2.8zM520.0 93.4h5.2v2.3h-5.2zM527.3 93.4h2.8v2.3h-2.8zM394.5 95.4h2.8v2.3h-2.8zM406.5 95.4h2.8v2.3h-2.8zM421.0 95.4h2.8v2.3h-2.8zM430.7 95.4h2.8v2.3h-2.8zM435.5 95.4h7.6v2.3h-7.6zM445.2 95.4h5.2v2.3h-5.2zM454.8 95.4h2.8v2.3h-2.8zM462.1 95.4h5.2v2.3h-5.2zM471.7 95.4h2.8v2.3h-2.8zM481.4 95.4h2.8v2.3h-2.8zM495.9 95.4h2.8v2.3h-2.8zM500.7 95.4h2.8v2.3h-2.8zM510.4 95.4h2.8v2.3h-2.8zM517.6 95.4h5.2v2.3h-5.2zM348.6 97.4h2.8v2.3h-2.8zM382.4 97.4h2.8v2.3h-2.8zM389.6 97.4h5.2v2.3h-5.2zM425.9 97.4h2.8v2.3h-2.8zM437.9 97.4h7.6v2.3h-7.6zM447.6 97.4h2.8v2.3h-2.8zM466.9 97.4h2.8v2.3h-2.8zM481.4 97.4h2.8v2.3h-2.8zM493.5 97.4h5.2v2.3h-5.2zM503.1 97.4h2.8v2.3h-2.8zM510.4 97.4h10.0v2.3h-10.0zM534.5 97.4h2.8v2.3h-2.8zM367.9 99.4h7.6v2.3h-7.6zM377.6 99.4h2.8v2.3h-2.8zM382.4 99.4h2.8v2.3h-2.8zM389.6 99.4h5.2v2.3h-5.2zM425.9 99.4h2.8v2.3h-2.8zM430.7 99.4h2.8v2.3h-2.8zM445.2 99.4h2.8v2.3h-2.8zM459.7 99.4h2.8v2.3h-2.8zM466.9 99.4h2.8v2.3h-2.8zM483.8 99.4h5.2v2.3h-5.2zM491.1 99.4h5.2v2.3h-5.2zM500.7 99.4h2.8v2.3h-2.8zM508.0 99.4h7.6v2.3h-7.6zM517.6 99.4h5.2v2.3h-5.2zM351.0 101.4h2.8v2.3h-2.8zM370.3 101.4h2.8v2.3h-2.8zM375.1 101.4h2.8v2.3h-2.8zM423.4 101.4h2.8v2.3h-2.8zM457.2 101.4h2.8v2.3h-2.8zM466.9 101.4h2.8v2.3h-2.8zM483.8 101.4h2.8v2.3h-2.8zM498.3 101.4h2.8v2.3h-2.8zM503.1 101.4h2.8v2.3h-2.8zM508.0 101.4h2.8v2.3h-2.8zM512.8 101.4h2.8v2.3h-2.8zM351.0 103.4h2.8v2.3h-2.8zM367.9 103.4h5.2v2.3h-5.2zM382.4 103.4h2.8v2.3h-2.8zM425.9 103.4h5.2v2.3h-5.2zM452.4 103.4h2.8v2.3h-2.8zM464.5 103.4h2.8v2.3h-2.8zM481.4 103.4h5.2v2.3h-5.2zM488.6 103.4h2.8v2.3h-2.8zM510.4 103.4h2.8v2.3h-2.8zM534.5 103.4h2.8v2.3h-2.8zM539.4 103.4h2.8v2.3h-2.8zM549.0 103.4h2.8v2.3h-2.8zM370.3 105.4h2.8v2.3h-2.8zM418.6 105.4h2.8v2.3h-2.8zM425.9 105.4h2.8v2.3h-2.8zM430.7 105.4h2.8v2.3h-2.8zM450.0 105.4h5.2v2.3h-5.2zM457.2 105.4h2.8v2.3h-2.8zM464.5 105.4h5.2v2.3h-5.2zM483.8 105.4h5.2v2.3h-5.2zM498.3 105.4h2.8v2.3h-2.8zM505.6 105.4h7.6v2.3h-7.6zM522.5 105.4h2.8v2.3h-2.8zM546.6 105.4h2.8v2.3h-2.8zM353.4 107.4h5.2v2.3h-5.2zM370.3 107.4h5.2v2.3h-5.2zM387.2 107.4h2.8v2.3h-2.8zM421.0 107.4h2.8v2.3h-2.8zM430.7 107.4h2.8v2.3h-2.8zM437.9 107.4h5.2v2.3h-5.2zM450.0 107.4h2.8v2.3h-2.8zM469.3 107.4h2.8v2.3h-2.8zM483.8 107.4h2.8v2.3h-2.8zM498.3 107.4h7.6v2.3h-7.6zM508.0 107.4h7.6v2.3h-7.6zM517.6 107.4h2.8v2.3h-2.8zM370.3 109.4h2.8v2.3h-2.8zM413.8 109.4h5.2v2.3h-5.2zM425.9 109.4h2.8v2.3h-2.8zM481.4 109.4h2.8v2.3h-2.8zM495.9 109.4h2.8v2.3h-2.8zM500.7 109.4h2.8v2.3h-2.8zM510.4 109.4h5.2v2.3h-5.2zM520.0 109.4h2.8v2.3h-2.8zM524.9 109.4h5.2v2.3h-5.2zM534.5 109.4h2.8v2.3h-2.8zM541.8 109.4h2.8v2.3h-2.8zM370.3 111.4h2.8v2.3h-2.8zM389.6 111.4h2.8v2.3h-2.8zM408.9 111.4h2.8v2.3h-2.8zM428.3 111.4h5.2v2.3h-5.2zM471.7 111.4h2.8v2.3h-2.8zM479.0 111.4h2.8v2.3h-2.8zM483.8 111.4h5.2v2.3h-5.2zM495.9 111.4h2.8v2.3h-2.8zM500.7 111.4h5.2v2.3h-5.2zM515.2 111.4h2.8v2.3h-2.8zM520.0 111.4h2.8v2.3h-2.8zM360.6 113.4h2.8v2.3h-2.8zM408.9 113.4h2.8v2.3h-2.8zM413.8 113.4h2.8v2.3h-2.8zM428.3 113.4h2.8v2.3h-2.8zM440.3 113.4h2.8v2.3h-2.8zM450.0 113.4h2.8v2.3h-2.8zM479.0 113.4h2.8v2.3h-2.8zM483.8 113.4h2.8v2.3h-2.8zM498.3 113.4h2.8v2.3h-2.8zM503.1 113.4h5.2v2.3h-5.2zM510.4 113.4h10.0v2.3h-10.0zM524.9 113.4h2.8v2.3h-2.8zM389.6 115.4h5.2v2.3h-5.2zM396.9 115.4h5.2v2.3h-5.2zM416.2 115.4h2.8v2.3h-2.8zM423.4 115.4h2.8v2.3h-2.8zM430.7 115.4h5.2v2.3h-5.2zM442.8 115.4h2.8v2.3h-2.8zM457.2 115.4h2.8v2.3h-2.8zM469.3 115.4h5.2v2.3h-5.2zM476.6 115.4h7.6v2.3h-7.6zM486.2 115.4h2.8v2.3h-2.8zM505.6 115.4h5.2v2.3h-5.2zM517.6 115.4h2.8v2.3h-2.8zM522.5 115.4h2.8v2.3h-2.8zM534.5 115.4h2.8v2.3h-2.8zM539.4 115.4h2.8v2.3h-2.8zM387.2 117.4h5.2v2.3h-5.2zM401.7 117.4h2.8v2.3h-2.8zM408.9 117.4h5.2v2.3h-5.2zM416.2 117.4h2.8v2.3h-2.8zM421.0 117.4h2.8v2.3h-2.8zM428.3 117.4h2.8v2.3h-2.8zM435.5 117.4h2.8v2.3h-2.8zM442.8 117.4h2.8v2.3h-2.8zM457.2 117.4h2.8v2.3h-2.8zM469.3 117.4h5.2v2.3h-5.2zM488.6 117.4h2.8v2.3h-2.8zM493.5 117.4h2.8v2.3h-2.8zM500.7 117.4h2.8v2.3h-2.8zM505.6 117.4h2.8v2.3h-2.8zM510.4 117.4h10.0v2.3h-10.0zM394.5 119.4h2.8v2.3h-2.8zM428.3 119.4h10.0v2.3h-10.0zM454.8 119.4h2.8v2.3h-2.8zM459.7 119.4h2.8v2.3h-2.8zM466.9 119.4h2.8v2.3h-2.8zM471.7 119.4h5.2v2.3h-5.2zM486.2 119.4h2.8v2.3h-2.8zM491.1 119.4h2.8v2.3h-2.8zM495.9 119.4h2.8v2.3h-2.8zM394.5 121.4h2.8v2.3h-2.8zM421.0 121.4h2.8v2.3h-2.8zM428.3 121.4h5.2v2.3h-5.2zM442.8 121.4h5.2v2.3h-5.2zM452.4 121.4h2.8v2.3h-2.8zM457.2 121.4h2.8v2.3h-2.8zM462.1 121.4h2.8v2.3h-2.8zM474.2 121.4h2.8v2.3h-2.8zM479.0 121.4h5.2v2.3h-5.2zM500.7 121.4h7.6v2.3h-7.6zM510.4 121.4h2.8v2.3h-2.8zM515.2 121.4h5.2v2.3h-5.2zM527.3 121.4h2.8v2.3h-2.8zM534.5 121.4h2.8v2.3h-2.8zM413.8 123.4h2.8v2.3h-2.8zM418.6 123.4h2.8v2.3h-2.8zM428.3 123.4h2.8v2.3h-2.8zM440.3 123.4h10.0v2.3h-10.0zM459.7 123.4h2.8v2.3h-2.8zM464.5 123.4h2.8v2.3h-2.8zM486.2 123.4h10.0v2.3h-10.0zM498.3 123.4h2.8v2.3h-2.8zM508.0 123.4h5.2v2.3h-5.2zM520.0 123.4h5.2v2.3h-5.2zM411.4 125.4h5.2v2.3h-5.2zM418.6 125.4h5.2v2.3h-5.2zM425.9 125.4h5.2v2.3h-5.2zM435.5 125.4h2.8v2.3h-2.8zM459.7 125.4h7.6v2.3h-7.6zM476.6 125.4h2.8v2.3h-2.8zM483.8 125.4h5.2v2.3h-5.2zM498.3 125.4h5.2v2.3h-5.2zM510.4 125.4h5.2v2.3h-5.2zM520.0 125.4h2.8v2.3h-2.8zM527.3 125.4h2.8v2.3h-2.8zM416.2 127.4h2.8v2.3h-2.8zM421.0 127.4h2.8v2.3h-2.8zM442.8 127.4h2.8v2.3h-2.8zM450.0 127.4h5.2v2.3h-5.2zM462.1 127.4h2.8v2.3h-2.8zM498.3 127.4h2.8v2.3h-2.8zM503.1 127.4h7.6v2.3h-7.6zM515.2 127.4h2.8v2.3h-2.8zM520.0 127.4h5.2v2.3h-5.2zM527.3 127.4h2.8v2.3h-2.8zM413.8 129.4h2.8v2.3h-2.8zM421.0 129.4h5.2v2.3h-5.2zM428.3 129.4h2.8v2.3h-2.8zM445.2 129.4h5.2v2.3h-5.2zM457.2 129.4h5.2v2.3h-5.2zM464.5 129.4h2.8v2.3h-2.8zM495.9 129.4h2.8v2.3h-2.8zM500.7 129.4h5.2v2.3h-5.2zM508.0 129.4h2.8v2.3h-2.8zM515.2 129.4h10.0v2.3h-10.0zM534.5 129.4h2.8v2.3h-2.8zM416.2 131.4h5.2v2.3h-5.2zM423.4 131.4h2.8v2.3h-2.8zM428.3 131.4h2.8v2.3h-2.8zM466.9 131.4h2.8v2.3h-2.8zM495.9 131.4h5.2v2.3h-5.2zM508.0 131.4h2.8v2.3h-2.8zM515.2 131.4h12.4v2.3h-12.4zM534.5 131.4h2.8v2.3h-2.8zM413.8 133.4h2.8v2.3h-2.8zM418.6 133.4h5.2v2.3h-5.2zM425.9 133.4h2.8v2.3h-2.8zM454.8 133.4h2.8v2.3h-2.8zM462.1 133.4h2.8v2.3h-2.8zM466.9 133.4h2.8v2.3h-2.8zM479.0 133.4h2.8v2.3h-2.8zM491.1 133.4h5.2v2.3h-5.2zM508.0 133.4h5.2v2.3h-5.2zM515.2 133.4h2.8v2.3h-2.8zM520.0 133.4h2.8v2.3h-2.8zM524.9 133.4h2.8v2.3h-2.8zM423.4 135.4h2.8v2.3h-2.8zM428.3 135.4h5.2v2.3h-5.2zM440.3 135.4h2.8v2.3h-2.8zM445.2 135.4h2.8v2.3h-2.8zM454.8 135.4h5.2v2.3h-5.2zM462.1 135.4h2.8v2.3h-2.8zM466.9 135.4h2.8v2.3h-2.8zM488.6 135.4h2.8v2.3h-2.8zM493.5 135.4h2.8v2.3h-2.8zM498.3 135.4h2.8v2.3h-2.8zM503.1 135.4h7.6v2.3h-7.6zM418.6 137.4h2.8v2.3h-2.8zM423.4 137.4h7.6v2.3h-7.6zM433.1 137.4h2.8v2.3h-2.8zM440.3 137.4h2.8v2.3h-2.8zM447.6 137.4h2.8v2.3h-2.8zM452.4 137.4h2.8v2.3h-2.8zM483.8 137.4h2.8v2.3h-2.8zM495.9 137.4h2.8v2.3h-2.8zM416.2 139.4h2.8v2.3h-2.8zM421.0 139.4h10.0v2.3h-10.0zM433.1 139.4h2.8v2.3h-2.8zM450.0 139.4h2.8v2.3h-2.8zM457.2 139.4h2.8v2.3h-2.8zM462.1 139.4h2.8v2.3h-2.8zM500.7 139.4h2.8v2.3h-2.8zM510.4 139.4h5.2v2.3h-5.2zM524.9 139.4h2.8v2.3h-2.8zM416.2 141.4h2.8v2.3h-2.8zM423.4 141.4h10.0v2.3h-10.0zM435.5 141.4h2.8v2.3h-2.8zM445.2 141.4h2.8v2.3h-2.8zM454.8 141.4h2.8v2.3h-2.8zM462.1 141.4h2.8v2.3h-2.8zM520.0 141.4h2.8v2.3h-2.8zM416.2 143.4h2.8v2.3h-2.8zM430.7 143.4h2.8v2.3h-2.8zM437.9 143.4h2.8v2.3h-2.8zM442.8 143.4h5.2v2.3h-5.2zM491.1 143.4h5.2v2.3h-5.2zM411.4 145.4h2.8v2.3h-2.8zM433.1 145.4h5.2v2.3h-5.2zM442.8 145.4h2.8v2.3h-2.8zM447.6 145.4h5.2v2.3h-5.2zM486.2 145.4h5.2v2.3h-5.2zM421.0 147.3h2.8v2.3h-2.8zM430.7 147.3h2.8v2.3h-2.8zM437.9 147.3h2.8v2.3h-2.8zM450.0 147.3h2.8v2.3h-2.8zM454.8 147.3h2.8v2.3h-2.8zM488.6 147.3h5.2v2.3h-5.2zM411.4 149.3h2.8v2.3h-2.8zM416.2 149.3h2.8v2.3h-2.8zM425.9 149.3h2.8v2.3h-2.8zM440.3 149.3h2.8v2.3h-2.8zM450.0 149.3h7.6v2.3h-7.6zM491.1 149.3h2.8v2.3h-2.8zM498.3 149.3h5.2v2.3h-5.2zM418.6 151.3h2.8v2.3h-2.8zM450.0 151.3h2.8v2.3h-2.8zM457.2 151.3h2.8v2.3h-2.8zM486.2 151.3h2.8v2.3h-2.8zM491.1 151.3h2.8v2.3h-2.8zM498.3 151.3h2.8v2.3h-2.8zM510.4 151.3h2.8v2.3h-2.8zM408.9 153.3h2.8v2.3h-2.8zM416.2 153.3h7.6v2.3h-7.6zM440.3 153.3h2.8v2.3h-2.8zM459.7 153.3h2.8v2.3h-2.8zM479.0 153.3h2.8v2.3h-2.8zM486.2 153.3h2.8v2.3h-2.8zM503.1 153.3h2.8v2.3h-2.8zM413.8 155.3h2.8v2.3h-2.8zM418.6 155.3h2.8v2.3h-2.8zM430.7 155.3h5.2v2.3h-5.2zM459.7 155.3h2.8v2.3h-2.8zM488.6 155.3h2.8v2.3h-2.8zM408.9 157.3h2.8v2.3h-2.8zM413.8 157.3h2.8v2.3h-2.8zM425.9 157.3h2.8v2.3h-2.8zM433.1 157.3h2.8v2.3h-2.8zM440.3 157.3h2.8v2.3h-2.8zM423.4 159.3h2.8v2.3h-2.8zM437.9 159.3h5.2v2.3h-5.2zM459.7 159.3h2.8v2.3h-2.8zM464.5 159.3h5.2v2.3h-5.2zM411.4 161.3h2.8v2.3h-2.8zM423.4 161.3h2.8v2.3h-2.8zM428.3 161.3h2.8v2.3h-2.8zM462.1 161.3h2.8v2.3h-2.8zM488.6 161.3h2.8v2.3h-2.8zM411.4 163.3h2.8v2.3h-2.8zM428.3 163.3h2.8v2.3h-2.8zM442.8 163.3h2.8v2.3h-2.8zM459.7 163.3h2.8v2.3h-2.8zM418.6 165.3h2.8v2.3h-2.8zM428.3 165.3h2.8v2.3h-2.8zM413.8 167.3h2.8v2.3h-2.8zM430.7 167.3h2.8v2.3h-2.8zM440.3 167.3h2.8v2.3h-2.8zM413.8 169.3h2.8v2.3h-2.8zM430.7 169.3h7.6v2.3h-7.6zM457.2 169.3h2.8v2.3h-2.8zM411.4 171.3h5.2v2.3h-5.2zM428.3 171.3h2.8v2.3h-2.8zM435.5 171.3h2.8v2.3h-2.8zM440.3 171.3h2.8v2.3h-2.8zM459.7 171.3h2.8v2.3h-2.8zM425.9 173.3h7.6v2.3h-7.6zM437.9 173.3h5.2v2.3h-5.2zM450.0 173.3h7.6v2.3h-7.6zM486.2 173.3h5.2v2.3h-5.2zM411.4 175.3h2.8v2.3h-2.8zM416.2 175.3h5.2v2.3h-5.2zM428.3 175.3h7.6v2.3h-7.6zM452.4 175.3h2.8v2.3h-2.8zM481.4 175.3h2.8v2.3h-2.8zM488.6 175.3h2.8v2.3h-2.8zM433.1 177.3h7.6v2.3h-7.6zM452.4 177.3h2.8v2.3h-2.8zM481.4 177.3h2.8v2.3h-2.8zM423.4 179.3h5.2v2.3h-5.2zM430.7 179.3h2.8v2.3h-2.8zM435.5 179.3h5.2v2.3h-5.2zM442.8 179.3h2.8v2.3h-2.8zM452.4 179.3h2.8v2.3h-2.8zM479.0 179.3h2.8v2.3h-2.8zM483.8 179.3h2.8v2.3h-2.8zM418.6 181.3h2.8v2.3h-2.8zM428.3 181.3h5.2v2.3h-5.2zM437.9 181.3h2.8v2.3h-2.8zM442.8 181.3h2.8v2.3h-2.8zM450.0 181.3h5.2v2.3h-5.2zM476.6 181.3h2.8v2.3h-2.8zM481.4 181.3h5.2v2.3h-5.2zM425.9 183.3h2.8v2.3h-2.8zM437.9 183.3h5.2v2.3h-5.2zM445.2 183.3h5.2v2.3h-5.2zM433.1 185.3h2.8v2.3h-2.8zM479.0 185.3h2.8v2.3h-2.8zM425.9 187.3h2.8v2.3h-2.8zM433.1 187.3h2.8v2.3h-2.8zM479.0 187.3h2.8v2.3h-2.8zM372.7 199.3h2.8v2.3h-2.8zM372.7 201.3h2.8v2.3h-2.8zM367.9 207.3h2.8v2.3h-2.8zM372.7 209.3h2.8v2.3h-2.8zM370.3 211.3h2.8v2.3h-2.8zM375.1 211.3h2.8v2.3h-2.8z"/>
<path fill="#ffff00" d="M367.9 17.5h2.8v2.3h-2.8zM372.7 19.5h2.8v2.3h-2.8zM413.8 21.5h2.8v2.3h-2.8zM421.0 21.5h2.8v2.3h-2.8zM365.5 23.5h2.8v2.3h-2.8zM382.4 23.5h2.8v2.3h-2.8zM406.5 23.5h7.6v2.3h-7.6zM338.9 25.5h5.2v2.3h-5.2zM358.2 25.5h2.8v2.3h-2.8zM363.1 25.5h2.8v2.3h-2.8zM367.9 25.5h2.8v2.3h-2.8zM380.0 25.5h5.2v2.3h-5.2zM392.0 25.5h2.8v2.3h-2.8zM404.1 25.5h2.8v2.3h-2.8zM411.4 25.5h2.8v2.3h-2.8zM423.4 25.5h2.8v2.3h-2.8zM324.4 27.5h2.8v2.3h-2.8zM334.1 27.5h2.8v2.3h-2.8zM338.9 27.5h7.6v2.3h-7.6zM375.1 27.5h2.8v2.3h-2.8zM387.2 27.5h2.8v2.3h-2.8zM394.5 27.5h2.8v2.3h-2.8zM404.1 27.5h2.8v2.3h-2.8zM411.4 27.5h2.8v2.3h-2.8zM423.4 27.5h2.8v2.3h-2.8zM331.7 29.5h2.8v2.3h-2.8zM338.9 29.5h2.8v2.3h-2.8zM367.9 29.5h2.8v2.3h-2.8zM375.1 29.5h2.8v2.3h-2.8zM404.1 29.5h2.8v2.3h-2.8zM411.4 29.5h2.8v2.3h-2.8zM416.2 29.5h2.8v2.3h-2.8zM363.1 31.5h2.8v2.3h-2.8zM382.4 31.5h2.8v2.3h-2.8zM389.6 31.5h2.8v2.3h-2.8zM411.4 31.5h5.2v2.3h-5.2zM331.7 33.5h2.8v2.3h-2.8zM346.2 33.5h2.8v2.3h-2.8zM358.2 33.5h2.8v2.3h-2.8zM375.1 33.5h2.8v2.3h-2.8zM389.6 33.5h2.8v2.3h-2.8zM394.5 33.5h2.8v2.3h-2.8zM421.0 33.5h2.8v2.3h-2.8zM343.7 35.5h2.8v2.3h-2.8zM411.4 35.5h2.8v2.3h-2.8zM440.3 35.5h2.8v2.3h-2.8zM353.4 37.5h2.8v2.3h-2.8zM377.6 37.5h5.2v2.3h-5.2zM387.2 37.5h2.8v2.3h-2.8zM392.0 37.5h2.8v2.3h-2.8zM418.6 37.5h2.8v2.3h-2.8zM421.0 41.5h2.8v2.3h-2.8zM372.7 43.5h2.8v2.3h-2.8zM384.8 43.5h2.8v2.3h-2.8zM392.0 43.5h2.8v2.3h-2.8zM389.6 45.5h2.8v2.3h-2.8zM459.7 45.5h2.8v2.3h-2.8zM462.1 47.5h2.8v2.3h-2.8zM367.9 49.5h2.8v2.3h-2.8zM372.7 49.5h2.8v2.3h-2.8zM348.6 51.5h2.8v2.3h-2.8zM360.6 51.5h5.2v2.3h-5.2zM367.9 51.5h5.2v2.3h-5.2zM377.6 51.5h2.8v2.3h-2.8zM433.1 51.5h2.8v2.3h-2.8zM474.2 51.5h2.8v2.3h-2.8zM363.1 53.5h5.2v2.3h-5.2zM370.3 53.5h2.8v2.3h-2.8zM358.2 55.5h5.2v2.3h-5.2zM367.9 55.5h2.8v2.3h-2.8zM476.6 55.5h2.8v2.3h-2.8zM353.4 57.5h5.2v2.3h-5.2zM360.6 57.5h2.8v2.3h-2.8zM428.3 57.5h2.8v2.3h-2.8zM474.2 57.5h2.8v2.3h-2.8zM355.8 59.5h2.8v2.3h-2.8zM360.6 59.5h2.8v2.3h-2.8zM387.2 59.5h2.8v2.3h-2.8zM392.0 59.5h2.8v2.3h-2.8zM471.7 59.5h2.8v2.3h-2.8zM476.6 59.5h2.8v2.3h-2.8zM413.8 61.5h2.8v2.3h-2.8zM471.7 61.5h2.8v2.3h-2.8zM476.6 61.5h2.8v2.3h-2.8zM353.4 63.5h2.8v2.3h-2.8zM476.6 63.5h2.8v2.3h-2.8zM394.5 65.5h2.8v2.3h-2.8zM464.5 65.5h2.8v2.3h-2.8zM430.7 67.4h2.8v2.3h-2.8zM454.8 67.4h5.2v2.3h-5.2zM469.3 67.4h5.2v2.3h-5.2zM476.6 67.4h5.2v2.3h-5.2zM488.6 67.4h2.8v2.3h-2.8zM495.9 67.4h2.8v2.3h-2.8zM454.8 69.4h2.8v2.3h-2.8zM459.7 69.4h10.0v2.3h-10.0zM486.2 69.4h2.8v2.3h-2.8zM491.1 69.4h2.8v2.3h-2.8zM462.1 71.4h5.2v2.3h-5.2zM476.6 71.4h5.2v2.3h-5.2zM498.3 71.4h2.8v2.3h-2.8zM437.9 73.4h2.8v2.3h-2.8zM452.4 73.4h7.6v2.3h-7.6zM464.5 73.4h5.2v2.3h-5.2zM493.5 73.4h2.8v2.3h-2.8zM512.8 73.4h2.8v2.3h-2.8zM358.2 75.4h2.8v2.3h-2.8zM425.9 75.4h5.2v2.3h-5.2zM437.9 75.4h5.2v2.3h-5.2zM447.6 75.4h2.8v2.3h-2.8zM454.8 75.4h2.8v2.3h-2.8zM459.7 75.4h2.8v2.3h-2.8zM493.5 75.4h2.8v2.3h-2.8zM498.3 75.4h5.2v2.3h-5.2zM512.8 75.4h7.6v2.3h-7.6zM529.7 75.4h2.8v2.3h-2.8zM425.9 77.4h2.8v2.3h-2.8zM433.1 77.4h5.2v2.3h-5.2zM440.3 77.4h2.8v2.3h-2.8zM445.2 77.4h2.8v2.3h-2.8zM452.4 77.4h5.2v2.3h-5.2zM491.1 77.4h2.8v2.3h-2.8zM495.9 77.4h5.2v2.3h-5.2zM505.6 77.4h5.2v2.3h-5.2zM512.8 77.4h2.8v2.3h-2.8zM524.9 77.4h2.8v2.3h-2.8zM425.9 79.4h10.0v2.3h-10.0zM442.8 79.4h2.8v2.3h-2.8zM457.2 79.4h2.8v2.3h-2.8zM483.8 79.4h2.8v2.3h-2.8zM498.3 79.4h2.8v2.3h-2.8zM524.9 79.4h2.8v2.3h-2.8zM423.4 81.4h2.8v2.3h-2.8zM428.3 81.4h5.2v2.3h-5.2zM437.9 81.4h2.8v2.3h-2.8zM445.2 81.4h5.2v2.3h-5.2zM452.4 81.4h2.8v2.3h-2.8zM493.5 81.4h2.8v2.3h-2.8zM505.6 81.4h2.8v2.3h-2.8zM515.2 81.4h2.8v2.3h-2.8zM534.5 81.4h2.8v2.3h-2.8zM346.2 83.4h2.8v2.3h-2.8zM372.7 83.4h2.8v2.3h-2.8zM399.3 83.4h2.8v2.3h-2.8zM421.0 83.4h2.8v2.3h-2.8zM425.9 83.4h2.8v2.3h-2.8zM430.7 83.4h2.8v2.3h-2.8zM450.0 83.4h2.8v2.3h-2.8zM457.2 83.4h2.8v2.3h-2.8zM462.1 83.4h7.6v2.3h-7.6zM495.9 83.4h2.8v2.3h-2.8zM512.8 83.4h2.8v2.3h-2.8zM346.2 85.4h2.8v2.3h-2.8zM355.8 85.4h5.2v2.3h-5.2zM421.0 85.4h2.8v2.3h-2.8zM428.3 85.4h2.8v2.3h-2.8zM440.3 85.4h2.8v2.3h-2.8zM452.4 85.4h2.8v2.3h-2.8zM457.2 85.4h2.8v2.3h-2.8zM479.0 85.4h2.8v2.3h-2.8zM486.2 85.4h2.8v2.3h-2.8zM498.3 85.4h2.8v2.3h-2.8zM524.9 85.4h2.8v2.3h-2.8zM360.6 87.4h2.8v2.3h-2.8zM375.1 87.4h2.8v2.3h-2.8zM435.5 87.4h5.2v2.3h-5.2zM454.8 87.4h2.8v2.3h-2.8zM459.7 87.4h5.2v2.3h-5.2zM469.3 87.4h5.2v2.3h-5.2zM498.3 87.4h2.8v2.3h-2.8zM510.4 87.4h2.8v2.3h-2.8zM517.6 87.4h2.8v2.3h-2.8zM522.5 87.4h2.8v2.3h-2.8zM346.2 89.4h2.8v2.3h-2.8zM351.0 89.4h2.8v2.3h-2.8zM355.8 89.4h2.8v2.3h-2.8zM360.6 89.4h2.8v2.3h-2.8zM365.5 89.4h2.8v2.3h-2.8zM370.3 89.4h2.8v2.3h-2.8zM411.4 89.4h2.8v2.3h-2.8zM440.3 89.4h2.8v2.3h-2.8zM445.2 89.4h2.8v2.3h-2.8zM459.7 89.4h2.8v2.3h-2.8zM488.6 89.4h2.8v2.3h-2.8zM493.5 89.4h17.3v2.3h-17.3zM346.2 91.4h2.8v2.3h-2.8zM351.0 91.4h2.8v2.3h-2.8zM370.3 91.4h5.2v2.3h-5.2zM421.0 91.4h2.8v2.3h-2.8zM440.3 91.4h2.8v2.3h-2.8zM457.2 91.4h2.8v2.3h-2.8zM483.8 91.4h2.8v2.3h-2.8zM488.6 91.4h2.8v2.3h-2.8zM498.3 91.4h2.8v2.3h-2.8zM510.4 91.4h5.2v2.3h-5.2zM517.6 91.4h2.8v2.3h-2.8zM360.6 93.4h2.8v2.3h-2.8zM411.4 93.4h2.8v2.3h-2.8zM416.2 93.4h5.2v2.3h-5.2zM428.3 93.4h2.8v2.3h-2.8zM435.5 93.4h2.8v2.3h-2.8zM454.8 93.4h2.8v2.3h-2.8zM459.7 93.4h2.8v2.3h-2.8zM474.2 93.4h2.8v2.3h-2.8zM488.6 93.4h5.2v2.3h-5.2zM495.9 93.4h2.8v2.3h-2.8zM503.1 93.4h5.2v2.3h-5.2zM515.2 93.4h2.8v2.3h-2.8zM346.2 95.4h2.8v2.3h-2.8zM358.2 95.4h2.8v2.3h-2.8zM367.9 95.4h2.8v2.3h-2.8zM375.1 95.4h2.8v2.3h-2.8zM382.4 95.4h2.8v2.3h-2.8zM408.9 95.4h2.8v2.3h-2.8zM416.2 95.4h2.8v2.3h-2.8zM423.4 95.4h2.8v2.3h-2.8zM469.3 95.4h2.8v2.3h-2.8zM474.2 95.4h2.8v2.3h-2.8zM483.8 95.4h10.0v2.3h-10.0zM498.3 95.4h2.8v2.3h-2.8zM503.1 95.4h5.2v2.3h-5.2zM515.2 95.4h2.8v2.3h-2.8zM363.1 97.4h2.8v2.3h-2.8zM375.1 97.4h2.8v2.3h-2.8zM384.8 97.4h5.2v2.3h-5.2zM396.9 97.4h2.8v2.3h-2.8zM404.1 97.4h2.8v2.3h-2.8zM408.9 97.4h2.8v2.3h-2.8zM421.0 97.4h2.8v2.3h-2.8zM430.7 97.4h7.6v2.3h-7.6zM445.2 97.4h2.8v2.3h-2.8zM452.4 97.4h7.6v2.3h-7.6zM469.3 97.4h2.8v2.3h-2.8zM476.6 97.4h2.8v2.3h-2.8zM483.8 97.4h5.2v2.3h-5.2zM491.1 97.4h2.8v2.3h-2.8zM498.3 97.4h2.8v2.3h-2.8zM505.6 97.4h2.8v2.3h-2.8zM351.0 99.4h2.8v2.3h-2.8zM380.0 99.4h2.8v2.3h-2.8zM387.2 99.4h2.8v2.3h-2.8zM394.5 99.4h7.6v2.3h-7.6zM418.6 99.4h2.8v2.3h-2.8zM435.5 99.4h2.8v2.3h-2.8zM450.0 99.4h2.8v2.3h-2.8zM454.8 99.4h2.8v2.3h-2.8zM479.0 99.4h2.8v2.3h-2.8zM488.6 99.4h2.8v2.3h-2.8zM495.9 99.4h2.8v2.3h-2.8zM503.1 99.4h5.2v2.3h-5.2zM515.2 99.4h2.8v2.3h-2.8zM367.9 101.4h2.8v2.3h-2.8zM377.6 101.4h2.8v2.3h-2.8zM382.4 101.4h2.8v2.3h-2.8zM428.3 101.4h2.8v2.3h-2.8zM437.9 101.4h2.8v2.3h-2.8zM445.2 101.4h2.8v2.3h-2.8zM450.0 101.4h2.8v2.3h-2.8zM454.8 101.4h2.8v2.3h-2.8zM459.7 101.4h2.8v2.3h-2.8zM464.5 101.4h2.8v2.3h-2.8zM479.0 101.4h5.2v2.3h-5.2zM491.1 101.4h2.8v2.3h-2.8zM500.7 101.4h2.8v2.3h-2.8zM510.4 101.4h2.8v2.3h-2.8zM517.6 101.4h2.8v2.3h-2.8zM413.8 103.4h2.8v2.3h-2.8zM418.6 103.4h2.8v2.3h-2.8zM445.2 103.4h2.8v2.3h-2.8zM454.8 103.4h2.8v2.3h-2.8zM459.7 103.4h2.8v2.3h-2.8zM486.2 103.4h2.8v2.3h-2.8zM491.1 103.4h2.8v2.3h-2.8zM500.7 103.4h7.6v2.3h-7.6zM512.8 103.4h2.8v2.3h-2.8zM353.4 105.4h5.2v2.3h-5.2zM384.8 105.4h2.8v2.3h-2.8zM413.8 105.4h2.8v2.3h-2.8zM421.0 105.4h5.2v2.3h-5.2zM433.1 105.4h2.8v2.3h-2.8zM447.6 105.4h2.8v2.3h-2.8zM462.1 105.4h2.8v2.3h-2.8zM481.4 105.4h2.8v2.3h-2.8zM488.6 105.4h10.0v2.3h-10.0zM520.0 105.4h2.8v2.3h-2.8zM413.8 107.4h7.6v2.3h-7.6zM423.4 107.4h2.8v2.3h-2.8zM445.2 107.4h5.2v2.3h-5.2zM452.4 107.4h5.2v2.3h-5.2zM479.0 107.4h5.2v2.3h-5.2zM486.2 107.4h2.8v2.3h-2.8zM493.5 107.4h2.8v2.3h-2.8zM505.6 107.4h2.8v2.3h-2.8zM358.2 109.4h2.8v2.3h-2.8zM367.9 109.4h2.8v2.3h-2.8zM387.2 109.4h2.8v2.3h-2.8zM404.1 109.4h10.0v2.3h-10.0zM421.0 109.4h5.2v2.3h-5.2zM428.3 109.4h2.8v2.3h-2.8zM437.9 109.4h2.8v2.3h-2.8zM459.7 109.4h5.2v2.3h-5.2zM471.7 109.4h10.0v2.3h-10.0zM483.8 109.4h5.2v2.3h-5.2zM505.6 109.4h5.2v2.3h-5.2zM515.2 109.4h5.2v2.3h-5.2zM360.6 111.4h2.8v2.3h-2.8zM365.5 111.4h5.2v2.3h-5.2zM387.2 111.4h2.8v2.3h-2.8zM392.0 111.4h2.8v2.3h-2.8zM396.9 111.4h2.8v2.3h-2.8zM413.8 111.4h5.2v2.3h-5.2zM423.4 111.4h5.2v2.3h-5.2zM454.8 111.4h2.8v2.3h-2.8zM459.7 111.4h2.8v2.3h-2.8zM493.5 111.4h2.8v2.3h-2.8zM498.3 111.4h2.8v2.3h-2.8zM508.0 111.4h2.8v2.3h-2.8zM394.5 113.4h2.8v2.3h-2.8zM399.3 113.4h2.8v2.3h-2.8zM406.5 113.4h2.8v2.3h-2.8zM421.0 113.4h7.6v2.3h-7.6zM437.9 113.4h2.8v2.3h-2.8zM447.6 113.4h2.8v2.3h-2.8zM457.2 113.4h5.2v2.3h-5.2zM476.6 113.4h2.8v2.3h-2.8zM481.4 113.4h2.8v2.3h-2.8zM488.6 113.4h2.8v2.3h-2.8zM493.5 113.4h5.2v2.3h-5.2zM500.7 113.4h2.8v2.3h-2.8zM508.0 113.4h2.8v2.3h-2.8zM520.0 113.4h2.8v2.3h-2.8zM394.5 115.4h2.8v2.3h-2.8zM406.5 115.4h5.2v2.3h-5.2zM413.8 115.4h2.8v2.3h-2.8zM421.0 115.4h2.8v2.3h-2.8zM437.9 115.4h2.8v2.3h-2.8zM445.2 115.4h2.8v2.3h-2.8zM459.7 115.4h5.2v2.3h-5.2zM466.9 115.4h2.8v2.3h-2.8zM491.1 115.4h5.2v2.3h-5.2zM498.3 115.4h5.2v2.3h-5.2zM413.8 117.4h2.8v2.3h-2.8zM425.9 117.4h2.8v2.3h-2.8zM430.7 117.4h2.8v2.3h-2.8zM437.9 117.4h5.2v2.3h-5.2zM450.0 117.4h5.2v2.3h-5.2zM464.5 117.4h2.8v2.3h-2.8zM474.2 117.4h5.2v2.3h-5.2zM481.4 117.4h7.6v2.3h-7.6zM495.9 117.4h2.8v2.3h-2.8zM445.2 119.4h2.8v2.3h-2.8zM450.0 119.4h5.2v2.3h-5.2zM457.2 119.4h2.8v2.3h-2.8zM462.1 119.4h2.8v2.3h-2.8zM469.3 119.4h2.8v2.3h-2.8zM479.0 119.4h7.6v2.3h-7.6zM498.3 119.4h5.2v2.3h-5.2zM508.0 119.4h5.2v2.3h-5.2zM418.6 121.4h2.8v2.3h-2.8zM450.0 121.4h2.8v2.3h-2.8zM459.7 121.4h2.8v2.3h-2.8zM483.8 121.4h7.6v2.3h-7.6zM495.9 121.4h5.2v2.3h-5.2zM508.0 121.4h2.8v2.3h-2.8zM430.7 123.4h2.8v2.3h-2.8zM437.9 123.4h2.8v2.3h-2.8zM450.0 123.4h10.0v2.3h-10.0zM462.1 123.4h2.8v2.3h-2.8zM479.0 123.4h2.8v2.3h-2.8zM495.9 123.4h2.8v2.3h-2.8zM512.8 123.4h2.8v2.3h-2.8zM416.2 125.4h2.8v2.3h-2.8zM450.0 125.4h5.2v2.3h-5.2zM479.0 125.4h2.8v2.3h-2.8zM491.1 125.4h5.2v2.3h-5.2zM515.2 125.4h5.2v2.3h-5.2zM411.4 127.4h5.2v2.3h-5.2zM423.4 127.4h2.8v2.3h-2.8zM435.5 127.4h5.2v2.3h-5.2zM454.8 127.4h5.2v2.3h-5.2zM510.4 127.4h5.2v2.3h-5.2zM517.6 127.4h2.8v2.3h-2.8zM524.9 127.4h2.8v2.3h-2.8zM416.2 129.4h2.8v2.3h-2.8zM425.9 129.4h2.8v2.3h-2.8zM430.7 129.4h2.8v2.3h-2.8zM524.9 129.4h5.2v2.3h-5.2zM430.7 131.4h2.8v2.3h-2.8zM442.8 131.4h10.0v2.3h-10.0zM454.8 131.4h2.8v2.3h-2.8zM462.1 131.4h2.8v2.3h-2.8zM512.8 131.4h2.8v2.3h-2.8zM430.7 133.4h2.8v2.3h-2.8zM440.3 133.4h5.2v2.3h-5.2zM450.0 133.4h2.8v2.3h-2.8zM457.2 133.4h5.2v2.3h-5.2zM464.5 133.4h2.8v2.3h-2.8zM505.6 133.4h2.8v2.3h-2.8zM437.9 135.4h2.8v2.3h-2.8zM447.6 135.4h7.6v2.3h-7.6zM430.7 137.4h2.8v2.3h-2.8zM435.5 137.4h2.8v2.3h-2.8zM457.2 137.4h2.8v2.3h-2.8zM430.7 139.4h2.8v2.3h-2.8zM437.9 139.4h5.2v2.3h-5.2zM445.2 139.4h2.8v2.3h-2.8zM452.4 139.4h5.2v2.3h-5.2zM418.6 141.4h5.2v2.3h-5.2zM440.3 141.4h2.8v2.3h-2.8zM450.0 141.4h5.2v2.3h-5.2zM459.7 141.4h2.8v2.3h-2.8zM411.4 143.4h5.2v2.3h-5.2zM418.6 143.4h2.8v2.3h-2.8zM423.4 143.4h5.2v2.3h-5.2zM447.6 143.4h5.2v2.3h-5.2zM413.8 145.4h2.8v2.3h-2.8zM418.6 145.4h2.8v2.3h-2.8zM423.4 145.4h2.8v2.3h-2.8zM428.3 145.4h5.2v2.3h-5.2zM462.1 145.4h2.8v2.3h-2.8zM411.4 147.3h2.8v2.3h-2.8zM423.4 147.3h5.2v2.3h-5.2zM445.2 147.3h2.8v2.3h-2.8zM452.4 147.3h2.8v2.3h-2.8zM418.6 149.3h2.8v2.3h-2.8zM435.5 149.3h2.8v2.3h-2.8zM435.5 151.3h7.6v2.3h-7.6zM452.4 151.3h5.2v2.3h-5.2zM413.8 153.3h2.8v2.3h-2.8zM428.3 153.3h2.8v2.3h-2.8zM433.1 153.3h5.2v2.3h-5.2zM447.6 153.3h2.8v2.3h-2.8zM457.2 153.3h2.8v2.3h-2.8zM411.4 155.3h2.8v2.3h-2.8zM428.3 155.3h2.8v2.3h-2.8zM452.4 155.3h2.8v2.3h-2.8zM457.2 155.3h2.8v2.3h-2.8zM418.6 157.3h5.2v2.3h-5.2zM437.9 157.3h2.8v2.3h-2.8zM408.9 159.3h5.2v2.3h-5.2zM421.0 159.3h2.8v2.3h-2.8zM430.7 159.3h2.8v2.3h-2.8zM435.5 159.3h2.8v2.3h-2.8zM445.2 159.3h2.8v2.3h-2.8zM457.2 159.3h2.8v2.3h-2.8zM413.8 161.3h5.2v2.3h-5.2zM421.0 161.3h2.8v2.3h-2.8zM425.9 161.3h2.8v2.3h-2.8zM433.1 161.3h2.8v2.3h-2.8zM457.2 161.3h2.8v2.3h-2.8zM423.4 163.3h2.8v2.3h-2.8zM457.2 163.3h2.8v2.3h-2.8zM423.4 165.3h5.2v2.3h-5.2zM437.9 165.3h5.2v2.3h-5.2zM418.6 167.3h2.8v2.3h-2.8zM437.9 167.3h2.8v2.3h-2.8zM447.6 167.3h2.8v2.3h-2.8zM411.4 169.3h2.8v2.3h-2.8zM416.2 169.3h2.8v2.3h-2.8zM440.3 169.3h5.2v2.3h-5.2zM452.4 169.3h2.8v2.3h-2.8zM459.7 169.3h2.8v2.3h-2.8zM430.7 171.3h2.8v2.3h-2.8zM437.9 171.3h2.8v2.3h-2.8zM488.6 171.3h2.8v2.3h-2.8zM416.2 173.3h2.8v2.3h-2.8zM423.4 173.3h2.8v2.3h-2.8zM445.2 173.3h2.8v2.3h-2.8zM421.0 175.3h2.8v2.3h-2.8zM442.8 175.3h2.8v2.3h-2.8zM416.2 177.3h2.8v2.3h-2.8zM421.0 177.3h12.4v2.3h-12.4zM442.8 177.3h2.8v2.3h-2.8zM433.1 179.3h2.8v2.3h-2.8zM447.6 179.3h5.2v2.3h-5.2zM479.0 181.3h2.8v2.3h-2.8zM442.8 183.3h2.8v2.3h-2.8zM481.4 183.3h2.8v2.3h-2.8zM367.9 209.3h2.8v2.3h-2.8zM367.9 211.3h2.8v2.3h-2.8zM372.7 211.3h2.8v2.3h-2.8z"/>
<path fill="#ffa500" d="M377.6 21.5h2.8v2.3h-2.8zM377.6 25.5h2.8v2.3h-2.8zM377.6 27.5h2.8v2.3h-2.8zM418.6 27.5h2.8v2.3h-2.8zM392.0 33.5h2.8v2.3h-2.8zM377.6 35.5h2.8v2.3h-2.8zM392.0 35.5h2.8v2.3h-2.8zM430.7 41.5h2.8v2.3h-2.8zM363.1 49.5h2.8v2.3h-2.8zM351.0 51.5h2.8v2.3h-2.8zM375.1 51.5h2.8v2.3h-2.8zM425.9 55.5h2.8v2.3h-2.8zM341.3 57.5h2.8v2.3h-2.8zM358.2 57.5h2.8v2.3h-2.8zM476.6 57.5h2.8v2.3h-2.8zM353.4 59.5h2.8v2.3h-2.8zM353.4 61.5h7.6v2.3h-7.6zM479.0 61.5h2.8v2.3h-2.8zM355.8 63.5h2.8v2.3h-2.8zM469.3 65.5h2.8v2.3h-2.8zM493.5 67.4h2.8v2.3h-2.8zM336.5 69.4h2.8v2.3h-2.8zM471.7 69.4h5.2v2.3h-5.2zM481.4 69.4h2.8v2.3h-2.8zM488.6 69.4h2.8v2.3h-2.8zM495.9 69.4h2.8v2.3h-2.8zM500.7 69.4h2.8v2.3h-2.8zM450.0 71.4h2.8v2.3h-2.8zM457.2 71.4h2.8v2.3h-2.8zM466.9 71.4h5.2v2.3h-5.2zM481.4 71.4h7.6v2.3h-7.6zM495.9 71.4h2.8v2.3h-2.8zM500.7 71.4h5.2v2.3h-5.2zM433.1 73.4h2.8v2.3h-2.8zM445.2 73.4h2.8v2.3h-2.8zM462.1 73.4h2.8v2.3h-2.8zM471.7 73.4h2.8v2.3h-2.8zM476.6 73.4h2.8v2.3h-2.8zM495.9 73.4h7.6v2.3h-7.6zM505.6 73.4h7.6v2.3h-7.6zM517.6 73.4h2.8v2.3h-2.8zM396.9 75.4h2.8v2.3h-2.8zM433.1 75.4h5.2v2.3h-5.2zM445.2 75.4h2.8v2.3h-2.8zM450.0 75.4h2.8v2.3h-2.8zM469.3 75.4h2.8v2.3h-2.8zM503.1 75.4h10.0v2.3h-10.0zM428.3 77.4h5.2v2.3h-5.2zM437.9 77.4h2.8v2.3h-2.8zM447.6 77.4h2.8v2.3h-2.8zM464.5 77.4h2.8v2.3h-2.8zM479.0 77.4h10.0v2.3h-10.0zM500.7 77.4h5.2v2.3h-5.2zM515.2 77.4h2.8v2.3h-2.8zM387.2 79.4h2.8v2.3h-2.8zM445.2 79.4h5.2v2.3h-5.2zM459.7 79.4h2.8v2.3h-2.8zM500.7 79.4h7.6v2.3h-7.6zM512.8 79.4h2.8v2.3h-2.8zM425.9 81.4h2.8v2.3h-2.8zM433.1 81.4h2.8v2.3h-2.8zM450.0 81.4h2.8v2.3h-2.8zM462.1 81.4h2.8v2.3h-2.8zM466.9 81.4h2.8v2.3h-2.8zM495.9 81.4h5.2v2.3h-5.2zM428.3 83.4h2.8v2.3h-2.8zM445.2 83.4h2.8v2.3h-2.8zM474.2 83.4h2.8v2.3h-2.8zM479.0 83.4h2.8v2.3h-2.8zM498.3 83.4h2.8v2.3h-2.8zM505.6 83.4h7.6v2.3h-7.6zM515.2 83.4h2.8v2.3h-2.8zM450.0 85.4h2.8v2.3h-2.8zM471.7 85.4h2.8v2.3h-2.8zM481.4 85.4h2.8v2.3h-2.8zM500.7 85.4h7.6v2.3h-7.6zM510.4 85.4h2.8v2.3h-2.8zM515.2 85.4h2.8v2.3h-2.8zM348.6 87.4h2.8v2.3h-2.8zM355.8 87.4h5.2v2.3h-5.2zM457.2 87.4h2.8v2.3h-2.8zM481.4 87.4h2.8v2.3h-2.8zM486.2 87.4h2.8v2.3h-2.8zM493.5 87.4h2.8v2.3h-2.8zM500.7 87.4h5.2v2.3h-5.2zM508.0 87.4h2.8v2.3h-2.8zM512.8 87.4h5.2v2.3h-5.2zM433.1 89.4h5.2v2.3h-5.2zM447.6 89.4h2.8v2.3h-2.8zM474.2 89.4h2.8v2.3h-2.8zM483.8 89.4h2.8v2.3h-2.8zM512.8 89.4h2.8v2.3h-2.8zM358.2 91.4h2.8v2.3h-2.8zM416.2 91.4h2.8v2.3h-2.8zM430.7 91.4h2.8v2.3h-2.8zM435.5 91.4h5.2v2.3h-5.2zM469.3 91.4h2.8v2.3h-2.8zM479.0 91.4h2.8v2.3h-2.8zM491.1 91.4h5.2v2.3h-5.2zM500.7 91.4h5.2v2.3h-5.2zM363.1 93.4h2.8v2.3h-2.8zM370.3 93.4h5.2v2.3h-5.2zM377.6 93.4h2.8v2.3h-2.8zM433.1 93.4h2.8v2.3h-2.8zM452.4 93.4h2.8v2.3h-2.8zM457.2 93.4h2.8v2.3h-2.8zM471.7 93.4h2.8v2.3h-2.8zM476.6 93.4h5.2v2.3h-5.2zM493.5 93.4h2.8v2.3h-2.8zM498.3 93.4h2.8v2.3h-2.8zM508.0 93.4h2.8v2.3h-2.8zM517.6 93.4h2.8v2.3h-2.8zM353.4 95.4h2.8v2.3h-2.8zM360.6 95.4h5.2v2.3h-5.2zM370.3 95.4h2.8v2.3h-2.8zM413.8 95.4h2.8v2.3h-2.8zM418.6 95.4h2.8v2.3h-2.8zM450.0 95.4h5.2v2.3h-5.2zM459.7 95.4h2.8v2.3h-2.8zM512.8 95.4h2.8v2.3h-2.8zM351.0 97.4h5.2v2.3h-5.2zM370.3 97.4h5.2v2.3h-5.2zM377.6 97.4h2.8v2.3h-2.8zM394.5 97.4h2.8v2.3h-2.8zM399.3 97.4h2.8v2.3h-2.8zM423.4 97.4h2.8v2.3h-2.8zM471.7 97.4h5.2v2.3h-5.2zM500.7 97.4h2.8v2.3h-2.8zM353.4 99.4h5.2v2.3h-5.2zM360.6 99.4h2.8v2.3h-2.8zM375.1 99.4h2.8v2.3h-2.8zM384.8 99.4h2.8v2.3h-2.8zM433.1 99.4h2.8v2.3h-2.8zM437.9 99.4h7.6v2.3h-7.6zM452.4 99.4h2.8v2.3h-2.8zM457.2 99.4h2.8v2.3h-2.8zM471.7 99.4h2.8v2.3h-2.8zM481.4 99.4h2.8v2.3h-2.8zM498.3 99.4h2.8v2.3h-2.8zM380.0 101.4h2.8v2.3h-2.8zM384.8 101.4h2.8v2.3h-2.8zM396.9 101.4h2.8v2.3h-2.8zM406.5 101.4h2.8v2.3h-2.8zM421.0 101.4h2.8v2.3h-2.8zM425.9 101.4h2.8v2.3h-2.8zM452.4 101.4h2.8v2.3h-2.8zM462.1 101.4h2.8v2.3h-2.8zM471.7 101.4h2.8v2.3h-2.8zM476.6 101.4h2.8v2.3h-2.8zM488.6 101.4h2.8v2.3h-2.8zM493.5 101.4h2.8v2.3h-2.8zM505.6 101.4h2.8v2.3h-2.8zM515.2 101.4h2.8v2.3h-2.8zM520.0 101.4h2.8v2.3h-2.8zM389.6 103.4h2.8v2.3h-2.8zM404.1 103.4h5.2v2.3h-5.2zM433.1 103.4h2.8v2.3h-2.8zM447.6 103.4h2.8v2.3h-2.8zM457.2 103.4h2.8v2.3h-2.8zM474.2 103.4h2.8v2.3h-2.8zM479.0 103.4h2.8v2.3h-2.8zM515.2 103.4h5.2v2.3h-5.2zM365.5 105.4h5.2v2.3h-5.2zM396.9 105.4h2.8v2.3h-2.8zM406.5 105.4h5.2v2.3h-5.2zM437.9 105.4h2.8v2.3h-2.8zM445.2 105.4h2.8v2.3h-2.8zM459.7 105.4h2.8v2.3h-2.8zM469.3 105.4h2.8v2.3h-2.8zM512.8 105.4h7.6v2.3h-7.6zM358.2 107.4h2.8v2.3h-2.8zM367.9 107.4h2.8v2.3h-2.8zM399.3 107.4h2.8v2.3h-2.8zM425.9 107.4h2.8v2.3h-2.8zM435.5 107.4h2.8v2.3h-2.8zM457.2 107.4h2.8v2.3h-2.8zM466.9 107.4h2.8v2.3h-2.8zM471.7 107.4h2.8v2.3h-2.8zM488.6 107.4h2.8v2.3h-2.8zM515.2 107.4h2.8v2.3h-2.8zM520.0 107.4h2.8v2.3h-2.8zM360.6 109.4h5.2v2.3h-5.2zM399.3 109.4h2.8v2.3h-2.8zM418.6 109.4h2.8v2.3h-2.8zM442.8 109.4h2.8v2.3h-2.8zM447.6 109.4h12.4v2.3h-12.4zM466.9 109.4h2.8v2.3h-2.8zM488.6 109.4h7.6v2.3h-7.6zM363.1 111.4h2.8v2.3h-2.8zM394.5 111.4h2.8v2.3h-2.8zM418.6 111.4h5.2v2.3h-5.2zM437.9 111.4h5.2v2.3h-5.2zM447.6 111.4h5.2v2.3h-5.2zM457.2 111.4h2.8v2.3h-2.8zM464.5 111.4h2.8v2.3h-2.8zM474.2 111.4h2.8v2.3h-2.8zM481.4 111.4h2.8v2.3h-2.8zM488.6 111.4h2.8v2.3h-2.8zM517.6 111.4h2.8v2.3h-2.8zM367.9 113.4h5.2v2.3h-5.2zM389.6 113.4h5.2v2.3h-5.2zM401.7 113.4h2.8v2.3h-2.8zM430.7 113.4h5.2v2.3h-5.2zM442.8 113.4h5.2v2.3h-5.2zM454.8 113.4h2.8v2.3h-2.8zM486.2 113.4h2.8v2.3h-2.8zM491.1 113.4h2.8v2.3h-2.8zM401.7 115.4h2.8v2.3h-2.8zM411.4 115.4h2.8v2.3h-2.8zM425.9 115.4h5.2v2.3h-5.2zM440.3 115.4h2.8v2.3h-2.8zM454.8 115.4h2.8v2.3h-2.8zM464.5 115.4h2.8v2.3h-2.8zM474.2 115.4h2.8v2.3h-2.8zM488.6 115.4h2.8v2.3h-2.8zM510.4 115.4h2.8v2.3h-2.8zM392.0 117.4h2.8v2.3h-2.8zM418.6 117.4h2.8v2.3h-2.8zM423.4 117.4h2.8v2.3h-2.8zM445.2 117.4h2.8v2.3h-2.8zM459.7 117.4h5.2v2.3h-5.2zM466.9 117.4h2.8v2.3h-2.8zM491.1 117.4h2.8v2.3h-2.8zM508.0 117.4h2.8v2.3h-2.8zM389.6 119.4h5.2v2.3h-5.2zM440.3 119.4h2.8v2.3h-2.8zM512.8 119.4h2.8v2.3h-2.8zM447.6 121.4h2.8v2.3h-2.8zM464.5 121.4h2.8v2.3h-2.8zM493.5 121.4h2.8v2.3h-2.8zM416.2 123.4h2.8v2.3h-2.8zM481.4 123.4h2.8v2.3h-2.8zM430.7 125.4h2.8v2.3h-2.8zM437.9 125.4h2.8v2.3h-2.8zM442.8 125.4h2.8v2.3h-2.8zM454.8 125.4h5.2v2.3h-5.2zM452.4 129.4h2.8v2.3h-2.8zM486.2 129.4h2.8v2.3h-2.8zM512.8 129.4h2.8v2.3h-2.8zM413.8 131.4h2.8v2.3h-2.8zM421.0 131.4h2.8v2.3h-2.8zM437.9 131.4h2.8v2.3h-2.8zM457.2 131.4h2.8v2.3h-2.8zM435.5 133.4h2.8v2.3h-2.8zM447.6 133.4h2.8v2.3h-2.8zM452.4 133.4h2.8v2.3h-2.8zM435.5 135.4h2.8v2.3h-2.8zM421.0 137.4h2.8v2.3h-2.8zM437.9 137.4h2.8v2.3h-2.8zM445.2 137.4h2.8v2.3h-2.8zM450.0 137.4h2.8v2.3h-2.8zM442.8 139.4h2.8v2.3h-2.8zM447.6 139.4h2.8v2.3h-2.8zM433.1 141.4h2.8v2.3h-2.8zM442.8 141.4h2.8v2.3h-2.8zM447.6 141.4h2.8v2.3h-2.8zM457.2 141.4h2.8v2.3h-2.8zM428.3 143.4h2.8v2.3h-2.8zM433.1 143.4h5.2v2.3h-5.2zM440.3 143.4h2.8v2.3h-2.8zM421.0 145.4h2.8v2.3h-2.8zM437.9 145.4h2.8v2.3h-2.8zM452.4 145.4h2.8v2.3h-2.8zM428.3 147.3h2.8v2.3h-2.8zM440.3 147.3h5.2v2.3h-5.2zM447.6 147.3h2.8v2.3h-2.8zM421.0 149.3h5.2v2.3h-5.2zM428.3 149.3h5.2v2.3h-5.2zM442.8 149.3h5.2v2.3h-5.2zM425.9 151.3h2.8v2.3h-2.8zM445.2 151.3h5.2v2.3h-5.2zM445.2 153.3h2.8v2.3h-2.8zM454.8 153.3h2.8v2.3h-2.8zM416.2 155.3h2.8v2.3h-2.8zM421.0 155.3h2.8v2.3h-2.8zM435.5 155.3h10.0v2.3h-10.0zM450.0 155.3h2.8v2.3h-2.8zM454.8 155.3h2.8v2.3h-2.8zM411.4 157.3h2.8v2.3h-2.8zM416.2 157.3h2.8v2.3h-2.8zM435.5 157.3h2.8v2.3h-2.8zM445.2 157.3h2.8v2.3h-2.8zM454.8 157.3h2.8v2.3h-2.8zM413.8 159.3h2.8v2.3h-2.8zM428.3 159.3h2.8v2.3h-2.8zM433.1 159.3h2.8v2.3h-2.8zM450.0 159.3h2.8v2.3h-2.8zM454.8 159.3h2.8v2.3h-2.8zM418.6 161.3h2.8v2.3h-2.8zM442.8 161.3h5.2v2.3h-5.2zM452.4 161.3h2.8v2.3h-2.8zM413.8 163.3h2.8v2.3h-2.8zM418.6 163.3h2.8v2.3h-2.8zM425.9 163.3h2.8v2.3h-2.8zM430.7 163.3h12.4v2.3h-12.4zM452.4 163.3h2.8v2.3h-2.8zM430.7 165.3h5.2v2.3h-5.2zM445.2 165.3h5.2v2.3h-5.2zM457.2 165.3h2.8v2.3h-2.8zM411.4 167.3h2.8v2.3h-2.8zM416.2 167.3h2.8v2.3h-2.8zM425.9 167.3h5.2v2.3h-5.2zM433.1 167.3h5.2v2.3h-5.2zM445.2 167.3h2.8v2.3h-2.8zM450.0 167.3h2.8v2.3h-2.8zM418.6 169.3h2.8v2.3h-2.8zM428.3 169.3h2.8v2.3h-2.8zM437.9 169.3h2.8v2.3h-2.8zM445.2 169.3h2.8v2.3h-2.8zM423.4 171.3h2.8v2.3h-2.8zM442.8 171.3h5.2v2.3h-5.2zM454.8 171.3h2.8v2.3h-2.8zM421.0 173.3h2.8v2.3h-2.8zM442.8 173.3h2.8v2.3h-2.8zM440.3 181.3h2.8v2.3h-2.8zM447.6 181.3h2.8v2.3h-2.8z"/>
<path fill="#ff5500" d="M334.1 33.5h2.8v2.3h-2.8zM363.1 55.5h2.8v2.3h-2.8zM428.3 55.5h2.8v2.3h-2.8zM479.0 63.5h2.8v2.3h-2.8zM476.6 65.5h2.8v2.3h-2.8zM474.2 67.4h2.8v2.3h-2.8zM483.8 69.4h2.8v2.3h-2.8zM459.7 71.4h2.8v2.3h-2.8zM471.7 71.4h5.2v2.3h-5.2zM488.6 71.4h5.2v2.3h-5.2zM447.6 73.4h5.2v2.3h-5.2zM469.3 73.4h2.8v2.3h-2.8zM474.2 73.4h2.8v2.3h-2.8zM491.1 73.4h2.8v2.3h-2.8zM430.7 75.4h2.8v2.3h-2.8zM442.8 75.4h2.8v2.3h-2.8zM452.4 75.4h2.8v2.3h-2.8zM471.7 75.4h2.8v2.3h-2.8zM476.6 75.4h2.8v2.3h-2.8zM486.2 75.4h2.8v2.3h-2.8zM450.0 77.4h2.8v2.3h-2.8zM457.2 77.4h2.8v2.3h-2.8zM466.9 77.4h5.2v2.3h-5.2zM450.0 79.4h2.8v2.3h-2.8zM462.1 79.4h2.8v2.3h-2.8zM466.9 79.4h10.0v2.3h-10.0zM481.4 79.4h2.8v2.3h-2.8zM510.4 79.4h2.8v2.3h-2.8zM454.8 81.4h2.8v2.3h-2.8zM464.5 81.4h2.8v2.3h-2.8zM469.3 81.4h2.8v2.3h-2.8zM474.2 81.4h2.8v2.3h-2.8zM479.0 81.4h5.2v2.3h-5.2zM491.1 81.4h2.8v2.3h-2.8zM500.7 81.4h5.2v2.3h-5.2zM512.8 81.4h2.8v2.3h-2.8zM454.8 83.4h2.8v2.3h-2.8zM493.5 83.4h2.8v2.3h-2.8zM500.7 83.4h2.8v2.3h-2.8zM517.6 83.4h2.8v2.3h-2.8zM474.2 85.4h2.8v2.3h-2.8zM491.1 85.4h5.2v2.3h-5.2zM508.0 85.4h2.8v2.3h-2.8zM512.8 85.4h2.8v2.3h-2.8zM351.0 87.4h5.2v2.3h-5.2zM450.0 87.4h2.8v2.3h-2.8zM474.2 87.4h2.8v2.3h-2.8zM479.0 87.4h2.8v2.3h-2.8zM483.8 87.4h2.8v2.3h-2.8zM488.6 87.4h5.2v2.3h-5.2zM495.9 87.4h2.8v2.3h-2.8zM348.6 89.4h2.8v2.3h-2.8zM353.4 89.4h2.8v2.3h-2.8zM358.2 89.4h2.8v2.3h-2.8zM437.9 89.4h2.8v2.3h-2.8zM442.8 89.4h2.8v2.3h-2.8zM452.4 89.4h2.8v2.3h-2.8zM471.7 89.4h2.8v2.3h-2.8zM486.2 89.4h2.8v2.3h-2.8zM491.1 89.4h2.8v2.3h-2.8zM515.2 89.4h2.8v2.3h-2.8zM348.6 91.4h2.8v2.3h-2.8zM355.8 91.4h2.8v2.3h-2.8zM365.5 91.4h5.2v2.3h-5.2zM418.6 91.4h2.8v2.3h-2.8zM433.1 91.4h2.8v2.3h-2.8zM454.8 91.4h2.8v2.3h-2.8zM464.5 91.4h2.8v2.3h-2.8zM474.2 91.4h2.8v2.3h-2.8zM481.4 91.4h2.8v2.3h-2.8zM486.2 91.4h2.8v2.3h-2.8zM348.6 93.4h5.2v2.3h-5.2zM358.2 93.4h2.8v2.3h-2.8zM367.9 93.4h2.8v2.3h-2.8zM437.9 93.4h2.8v2.3h-2.8zM486.2 93.4h2.8v2.3h-2.8zM510.4 93.4h2.8v2.3h-2.8zM348.6 95.4h5.2v2.3h-5.2zM355.8 95.4h2.8v2.3h-2.8zM377.6 95.4h5.2v2.3h-5.2zM411.4 95.4h2.8v2.3h-2.8zM457.2 95.4h2.8v2.3h-2.8zM476.6 95.4h2.8v2.3h-2.8zM358.2 97.4h2.8v2.3h-2.8zM365.5 97.4h5.2v2.3h-5.2zM413.8 97.4h7.6v2.3h-7.6zM363.1 99.4h2.8v2.3h-2.8zM401.7 99.4h10.0v2.3h-10.0zM421.0 99.4h5.2v2.3h-5.2zM428.3 99.4h2.8v2.3h-2.8zM476.6 99.4h2.8v2.3h-2.8zM353.4 101.4h5.2v2.3h-5.2zM363.1 101.4h5.2v2.3h-5.2zM387.2 101.4h2.8v2.3h-2.8zM392.0 101.4h2.8v2.3h-2.8zM401.7 101.4h2.8v2.3h-2.8zM413.8 101.4h2.8v2.3h-2.8zM430.7 101.4h2.8v2.3h-2.8zM440.3 101.4h5.2v2.3h-5.2zM447.6 101.4h2.8v2.3h-2.8zM469.3 101.4h2.8v2.3h-2.8zM474.2 101.4h2.8v2.3h-2.8zM353.4 103.4h5.2v2.3h-5.2zM365.5 103.4h2.8v2.3h-2.8zM384.8 103.4h5.2v2.3h-5.2zM394.5 103.4h5.2v2.3h-5.2zM416.2 103.4h2.8v2.3h-2.8zM421.0 103.4h2.8v2.3h-2.8zM430.7 103.4h2.8v2.3h-2.8zM435.5 103.4h5.2v2.3h-5.2zM442.8 103.4h2.8v2.3h-2.8zM450.0 103.4h2.8v2.3h-2.8zM471.7 103.4h2.8v2.3h-2.8zM476.6 103.4h2.8v2.3h-2.8zM358.2 105.4h2.8v2.3h-2.8zM387.2 105.4h2.8v2.3h-2.8zM392.0 105.4h5.2v2.3h-5.2zM399.3 105.4h7.6v2.3h-7.6zM428.3 105.4h2.8v2.3h-2.8zM435.5 105.4h2.8v2.3h-2.8zM442.8 105.4h2.8v2.3h-2.8zM471.7 105.4h7.6v2.3h-7.6zM360.6 107.4h2.8v2.3h-2.8zM365.5 107.4h2.8v2.3h-2.8zM389.6 107.4h10.0v2.3h-10.0zM408.9 107.4h5.2v2.3h-5.2zM428.3 107.4h2.8v2.3h-2.8zM433.1 107.4h2.8v2.3h-2.8zM442.8 107.4h2.8v2.3h-2.8zM459.7 107.4h2.8v2.3h-2.8zM474.2 107.4h5.2v2.3h-5.2zM491.1 107.4h2.8v2.3h-2.8zM365.5 109.4h2.8v2.3h-2.8zM389.6 109.4h10.0v2.3h-10.0zM401.7 109.4h2.8v2.3h-2.8zM440.3 109.4h2.8v2.3h-2.8zM399.3 111.4h7.6v2.3h-7.6zM433.1 111.4h5.2v2.3h-5.2zM442.8 111.4h5.2v2.3h-5.2zM452.4 111.4h2.8v2.3h-2.8zM469.3 111.4h2.8v2.3h-2.8zM476.6 111.4h2.8v2.3h-2.8zM491.1 111.4h2.8v2.3h-2.8zM435.5 113.4h2.8v2.3h-2.8zM452.4 113.4h2.8v2.3h-2.8zM464.5 113.4h5.2v2.3h-5.2zM471.7 113.4h5.2v2.3h-5.2zM435.5 115.4h2.8v2.3h-2.8zM447.6 115.4h7.6v2.3h-7.6zM447.6 117.4h2.8v2.3h-2.8zM488.6 119.4h2.8v2.3h-2.8zM454.8 121.4h2.8v2.3h-2.8zM445.2 125.4h2.8v2.3h-2.8zM428.3 127.4h5.2v2.3h-5.2zM445.2 127.4h2.8v2.3h-2.8zM433.1 129.4h5.2v2.3h-5.2zM442.8 129.4h2.8v2.3h-2.8zM450.0 129.4h2.8v2.3h-2.8zM433.1 131.4h5.2v2.3h-5.2zM452.4 131.4h2.8v2.3h-2.8zM435.5 139.4h2.8v2.3h-2.8zM437.9 141.4h2.8v2.3h-2.8zM440.3 145.4h2.8v2.3h-2.8zM433.1 147.3h5.2v2.3h-5.2zM437.9 149.3h2.8v2.3h-2.8zM421.0 151.3h5.2v2.3h-5.2zM428.3 151.3h7.6v2.3h-7.6zM423.4 153.3h2.8v2.3h-2.8zM437.9 153.3h2.8v2.3h-2.8zM442.8 153.3h2.8v2.3h-2.8zM450.0 153.3h5.2v2.3h-5.2zM445.2 155.3h2.8v2.3h-2.8zM430.7 157.3h2.8v2.3h-2.8zM442.8 157.3h2.8v2.3h-2.8zM447.6 157.3h2.8v2.3h-2.8zM452.4 157.3h2.8v2.3h-2.8zM416.2 159.3h5.2v2.3h-5.2zM442.8 159.3h2.8v2.3h-2.8zM447.6 159.3h2.8v2.3h-2.8zM452.4 159.3h2.8v2.3h-2.8zM430.7 161.3h2.8v2.3h-2.8zM435.5 161.3h2.8v2.3h-2.8zM440.3 161.3h2.8v2.3h-2.8zM450.0 161.3h2.8v2.3h-2.8zM454.8 161.3h2.8v2.3h-2.8zM416.2 163.3h2.8v2.3h-2.8zM421.0 163.3h2.8v2.3h-2.8zM445.2 163.3h7.6v2.3h-7.6zM413.8 165.3h2.8v2.3h-2.8zM421.0 165.3h2.8v2.3h-2.8zM452.4 165.3h5.2v2.3h-5.2zM421.0 167.3h5.2v2.3h-5.2zM442.8 167.3h2.8v2.3h-2.8zM457.2 167.3h2.8v2.3h-2.8zM425.9 169.3h2.8v2.3h-2.8zM416.2 171.3h7.6v2.3h-7.6zM447.6 171.3h7.6v2.3h-7.6zM457.2 171.3h2.8v2.3h-2.8zM423.4 175.3h5.2v2.3h-5.2zM440.3 175.3h2.8v2.3h-2.8z"/>
<path fill="#ff0000" d="M498.3 67.4h2.8v2.3h-2.8zM469.3 69.4h2.8v2.3h-2.8zM476.6 69.4h2.8v2.3h-2.8zM459.7 73.4h2.8v2.3h-2.8zM481.4 73.4h5.2v2.3h-5.2zM457.2 75.4h2.8v2.3h-2.8zM464.5 75.4h5.2v2.3h-5.2zM474.2 75.4h2.8v2.3h-2.8zM488.6 75.4h5.2v2.3h-5.2zM459.7 77.4h5.2v2.3h-5.2zM471.7 77.4h5.2v2.3h-5.2zM454.8 79.4h2.8v2.3h-2.8zM495.9 79.4h2.8v2.3h-2.8zM476.6 83.4h2.8v2.3h-2.8zM488.6 85.4h2.8v2.3h-2.8zM476.6 87.4h2.8v2.3h-2.8zM476.6 89.4h2.8v2.3h-2.8zM353.4 91.4h2.8v2.3h-2.8zM471.7 91.4h2.8v2.3h-2.8zM353.4 93.4h5.2v2.3h-5.2zM365.5 95.4h2.8v2.3h-2.8zM355.8 97.4h2.8v2.3h-2.8zM411.4 97.4h2.8v2.3h-2.8zM365.5 99.4h2.8v2.3h-2.8zM411.4 99.4h2.8v2.3h-2.8zM389.6 101.4h2.8v2.3h-2.8zM404.1 101.4h2.8v2.3h-2.8zM416.2 101.4h5.2v2.3h-5.2zM433.1 101.4h5.2v2.3h-5.2zM360.6 103.4h2.8v2.3h-2.8zM392.0 103.4h2.8v2.3h-2.8zM401.7 103.4h2.8v2.3h-2.8zM423.4 103.4h2.8v2.3h-2.8zM360.6 105.4h5.2v2.3h-5.2zM389.6 105.4h2.8v2.3h-2.8zM440.3 105.4h2.8v2.3h-2.8zM404.1 107.4h5.2v2.3h-5.2zM430.7 109.4h5.2v2.3h-5.2zM445.2 109.4h2.8v2.3h-2.8zM464.5 109.4h2.8v2.3h-2.8zM469.3 109.4h2.8v2.3h-2.8zM462.1 111.4h2.8v2.3h-2.8zM404.1 113.4h2.8v2.3h-2.8zM462.1 113.4h2.8v2.3h-2.8zM440.3 125.4h2.8v2.3h-2.8zM440.3 127.4h2.8v2.3h-2.8zM437.9 129.4h5.2v2.3h-5.2zM440.3 131.4h2.8v2.3h-2.8zM437.9 133.4h2.8v2.3h-2.8zM433.1 149.3h2.8v2.3h-2.8zM425.9 153.3h2.8v2.3h-2.8zM430.7 153.3h2.8v2.3h-2.8zM423.4 155.3h5.2v2.3h-5.2zM450.0 157.3h2.8v2.3h-2.8zM447.6 161.3h2.8v2.3h-2.8zM454.8 163.3h2.8v2.3h-2.8zM435.5 165.3h2.8v2.3h-2.8zM442.8 165.3h2.8v2.3h-2.8zM450.0 165.3h2.8v2.3h-2.8zM452.4 167.3h5.2v2.3h-5.2zM421.0 169.3h5.2v2.3h-5.2z"/>
<path fill="#cc0000" d="M486.2 73.4h5.2v2.3h-5.2zM462.1 75.4h2.8v2.3h-2.8zM479.0 75.4h7.6v2.3h-7.6zM476.6 77.4h2.8v2.3h-2.8zM452.4 79.4h2.8v2.3h-2.8zM476.6 79.4h2.8v2.3h-2.8zM493.5 79.4h2.8v2.3h-2.8zM457.2 81.4h5.2v2.3h-5.2zM476.6 85.4h2.8v2.3h-2.8zM360.6 97.4h2.8v2.3h-2.8zM413.8 99.4h5.2v2.3h-5.2zM358.2 101.4h5.2v2.3h-5.2zM394.5 101.4h2.8v2.3h-2.8zM408.9 101.4h5.2v2.3h-5.2zM358.2 103.4h2.8v2.3h-2.8zM363.1 103.4h2.8v2.3h-2.8zM399.3 103.4h2.8v2.3h-2.8zM408.9 103.4h5.2v2.3h-5.2zM411.4 105.4h2.8v2.3h-2.8zM363.1 107.4h2.8v2.3h-2.8zM401.7 107.4h2.8v2.3h-2.8zM435.5 109.4h2.8v2.3h-2.8zM466.9 111.4h2.8v2.3h-2.8zM447.6 155.3h2.8v2.3h-2.8zM416.2 165.3h2.8v2.3h-2.8zM447.6 169.3h5.2v2.3h-5.2zM454.8 169.3h2.8v2.3h-2.8z"/>
</g>
<path d="M336.5 18.3V212M384.8 18.3V212M433.1 18.3V212M481.4 18.3V212M529.7 18.3V212M323.3 25.5H572M323.3 45.5H572M323.3 65.5H572M323.3 85.4H572M323.3 105.4H572M323.3 125.4H572M323.3 145.4H572M323.3 165.3H572M323.3 185.3H572M323.3 205.3H572" stroke="#999" stroke-width="0.6" stroke-dasharray="1 2.95" fill="none"/>
<path d="M317.2 25.9 L322.9 27.1 L325.5 28.1 L329.5 30.7 L332.8 31.4 L336.2 29.4 L339.5 27.7 L342.8 27.7 L345.5 29.4 L348.1 31.4 L350.1 33.8 L351.5 35.1 L352.8 32.1 L354.8 29.4 L356.8 26.7 L358.1 24.1 L360.7 22.1 L364.1 21.4 L368 21 L370.7 19.4 L373.4 18.1 L375.6 15.5 L379 15.5 L378.5 18.3 L375.6 19.5 L377.1 21.9 L379 21.9 L380.5 20.7 L383.8 19.9 L384.8 16.7 L386.2 19.5 L392.5 20.7 L393.5 22.3 L394.5 23.5 L403.2 23.1 L408.5 25.1 L412.8 23.5 L418.6 22.7 L423.9 22.7 L420.5 24.7 L425.4 25.9 L428.8 27.9 L433.1 31.1 L434.1 32.3 L439.9 36.3 L440.3 37.9 L446.6 41.5 L452.9 41.9 L462.1 42.3 L467.4 43.9 L473.2 47.9 L476.1 49.9 L478 57.1 L481.4 61.5 L481.9 64.3 L478.5 64.7 L475.1 67.4 L478 67.8 L481.4 65.8 L489.1 66.6 L488.6 71 L491.1 68.2 L495.9 68.2 L500.7 69.8 L507.5 72.6 L508 77 L509.9 75 L513.3 75 L520 76.6 L523.4 77 L529.7 76.6 L536.9 80.2 L542.7 84.2 L549 85.8 L552.4 86.2 L553.9 91 L554.8 94.2 L554.3 98.6 L552.4 102.6 L547.1 107.4 L544.2 109.4 L541.8 112.2 L539.4 116.2 L536.5 117.4 L534.5 121.4 L534.5 128.6 L534 136.2 L531.1 139.4 L530.7 144.2 L528.3 147.3 L524.9 151.7 L524.9 153.3 L520 156.9 L514.2 157.3 L507 158.5 L503.6 160.5 L498.8 161.3 L491.5 165.3 L488.6 168.9 L488.2 172.5 L488.2 178.1 L484.8 181.3 L480.9 186.1 L477.5 190.1 L471.3 194.1 L465 200.1 L463 202.9 L457.7 204.9 L451.5 204.9 L443.7 203.3 L440.8 201.3 L440.3 203.7 L446.1 206.5 L447.1 210.5 L449 212.5 L449 217.3 L368.4 217.3 L369.3 212.1 L371.8 207.3 L375.1 201.3 L376.6 197.3 L377.6 193.3 L377.6 185.3 L378.5 181.3 L377.6 177.3 L380.5 173.3 L381.9 169.3 L382.4 165.3 L382.9 159.3 L383.8 153.3 L384.3 147.3 L383.4 139 L378.5 136.2 L373.2 133.4 L366.9 131 L359.7 127 L354.9 121.4 L353.9 119.4 L350.5 113.8 L347.6 109.4 L345.2 105.4 L343.3 101.4 L341.3 98.2 L337.5 93.4 L332.6 90.2 L330.7 88.6 L330.2 84.2 L332.2 81 L335.1 79 L337 75.4 L334.9 77.4 L335.5 76.4 L332.8 75.2 L332.2 71.3 L332.8 67.3 L335.5 63.3 L338.8 60.7 L342.8 58 L344.8 55.3 L347.5 53.3 L349.4 50 L348.8 46 L348.1 42 L348.4 39.4 L347.5 36.7 L346.2 34.7 L344.1 32.1 L340.8 30.7 L337.5 31.4 L334.9 32.7 L335.5 34 L334.2 36 L332.2 35.4 L331.5 33.4 L328.2 32.7 L324.2 31.4 L317.2 30.7Z" stroke="#000" stroke-width="0.8" fill="none" stroke-linejoin="round"/>
<path d="M378.5 18.3 L372.7 21.1 L370.3 28.3 L373.2 31.9 L375.1 37.5 L384.3 37.5 L387.7 41.1 L396.9 40.7 L395.4 48.3 L397.8 51.9 L394.9 54.3 L398.3 56.3 L399.8 60.7M399.8 60.7 L398.8 58.7 L385.8 58.7 L385.8 61.1 L388.7 61.5 L387.7 69.8 L385 82.2M385 82.2 L381.4 80.6 L384.8 76.2 L370.8 75 L366.9 70.6 L359.7 65.8 L354.4 63.9 L348.6 62.7 L342.3 59.9M359.7 65.8 L357.8 71.4 L352.9 75.8 L344.7 79 L342.8 83.8 L338.4 83 L335.1 83 L335.1 79M399.8 60.7 L406.5 62.7 L413.8 57.9 L416.7 56.7 L412.8 49.1 L419.1 51.1 L420.1 49.5 L428.3 47.5 L429.7 44.7M429.7 44.7 L426.3 41.9 L427.8 38.7 L431.7 37.5 L429.7 35.5 L433.1 32.3 L434.1 32.3M429.7 44.7 L433.1 45.5 L433.6 47.9 L435.5 49.9 L433.6 56.3 L437.9 60.3 L442.8 59.5 L450 57.9M450 57.9 L446.1 52.3 L442.8 49.5 L446.6 44.7 L446.6 41.5M450 57.9 L452.9 55.5 L459.2 56.3M459.2 56.3 L461.1 53.5 L460.1 49.5 L462.1 42.3M459.2 56.3 L467.4 56.7 L473.2 49.5M385 82.2 L370.8 85.8 L366 94.6 L370.3 101.4 L374.2 105.4 L381.9 104.6 L382.4 109.4 L386.7 109.2M386.7 109.2 L391.6 109.8 L400.7 105 L407 104.2 L407.5 111.4 L411.8 115 L419.6 117.4 L423.9 119.4 L430.7 120.6 L432.1 130.6 L440.8 130.6 L441.8 135 L445.2 137.4 L443.7 141.4 L442.3 144.6 L441.8 146.1M386.7 109.2 L391.1 115.4 L389.6 120.2 L389.6 126.6 L387.7 127.8 L389.6 130.2 L387.2 135.4M387.2 135.4 L382.9 138.8M387.2 135.4 L390.1 141.4 L392 147.3 L393.5 151.3 L394.9 156.5 L398.3 156.5M398.3 156.5 L397.8 161.3 L392 164.5 L393 172.9 L388.7 176.9 L385.8 181.7 L384.8 186.9 L382.4 191.3 L384.3 197.3 L385.8 202.1 L382.9 206.1 L382.9 209.7 L380 212.9M398.3 156.5 L403.2 152.5 L408 153.7 L412.3 156.5 L420.3 154.3M420.3 154.3 L422 147.3 L424.4 143.8 L437.4 142.6 L441.8 146.1M441.8 146.1 L443.2 153.7 L453.9 154.9 L455.3 160.9 L460.6 161.3 L459.2 167.7M420.3 154.3 L428.3 160.5 L438.9 164.5 L444.7 166.9 L439.9 174.1 L450.5 174.9 L459.2 167.7M459.2 167.7 L463 172.9 L454.4 178.1 L444.7 186.1M444.7 186.1 L452.4 188.9 L457.2 190.5 L462.1 192.9 L465 200.1M444.7 186.1 L442.3 193.3 L440.8 200.9" stroke="#000" stroke-width="0.8" fill="none" stroke-linejoin="round"/>
<path d="M478.5 66.2 L480.4 65.1 L483.3 65.5 L484.3 66.4 L481.4 67.4Z" stroke="#000" stroke-width="0.8" fill="none" stroke-linejoin="round"/>
<path d="M375.4 21.7 L376.1 24.7 L377.3 27.7 L379 28.3 L379.7 26.3 L378.5 23.1 L377.1 21.5Z" stroke="#000" stroke-width="0.8" fill="none" stroke-linejoin="round"/>
<path d="M422.1 34.3 L414.3 35.8 L406.1 36.4 L400.7 38.9 L396.6 44.1 L385.3 48.2 L374.8 51.3 L366.5 49.3 L360.3 56.5 L354 58.6 L347.8 64.8 L344.7 72.1 L342.6 78.3 L340.5 84.5 L343.6 89.7 L347.8 93.9 L350.9 100.1 L356.1 107.4 L362.3 113.6 L367.5 118.8 L372.7 117.8 L379.1 119.9 L385.4 124.1 L391.6 128.2 L397.8 131.3 L404.1 133.4 L410.4 135 L416.5 135.9 L416.2 133.8 L418.6 133.4 L417.2 131.4 L419.6 131 L417.6 129 L420.5 128.2 L419.6 126.2 L422.8 122 L426.9 118.9 L430 114.7 L434.2 112.2 L439.4 112.6 L444.5 113.7 L448.7 116.8 L452.9 113.7 L457 116.8 L462.2 117.8 L468.5 116.8 L472.6 113.7 L474.6 108.5 L478.8 104.3 L483 100.2 L485.3 96 L489.4 89.7 L494.5 84.5 L498.8 81.4 L503.9 79.4 L507 77.3 L506 73.8 L501.8 71.7 L495.6 70 L489.4 67.5 L483.1 66.9 L475.8 67.9 L477.9 65.8 L481.1 61.7 L479 58.6 L475.8 53.4 L472.8 48.2 L467.5 44.1 L461.3 42.6 L454.1 42 L447.8 41 L441.8 38.9 L435.5 35.8 L430.9 33.7 L426.8 33.1 L424.9 32.3 L422 31.9 L420.1 33.1Z" stroke="#000" stroke-width="2.7" fill="none" stroke-linejoin="round"/>
<circle cx="422" cy="34.1" r="1.9" fill="none" stroke="#000" stroke-width="1.7"/>
<rect x="392" y="89.4" width="70" height="24" fill="none" stroke="#111" stroke-width="0.9"/>
<rect x="481.4" y="83.4" width="33.8" height="41.9" fill="none" stroke="#111" stroke-width="0.9"/>
</g>
<rect x="323.3" y="18.3" width="248.7" height="193.7" fill="none" stroke="#333" stroke-width="1"/>
<path d="M336.5 18.3v-4M336.5 212v4M384.8 18.3v-4M384.8 212v4M433.1 18.3v-4M433.1 212v4M481.4 18.3v-4M481.4 212v4M529.7 18.3v-4M529.7 212v4M323.3 25.5h-4M572 25.5h4M323.3 65.5h-4M572 65.5h4M323.3 105.4h-4M572 105.4h4M323.3 145.4h-4M572 145.4h4M323.3 185.3h-4M572 185.3h4" stroke="#333" stroke-width="0.9" fill="none"/>
<text x="336.5" y="225.2" text-anchor="middle">80W</text>
<text x="384.8" y="225.2" text-anchor="middle">70W</text>
<text x="433.1" y="225.2" text-anchor="middle">60W</text>
<text x="481.4" y="225.2" text-anchor="middle">50W</text>
<text x="529.7" y="225.2" text-anchor="middle">40W</text>
<text x="316.1" y="28.6" text-anchor="end">10N</text>
<text x="316.1" y="68.5" text-anchor="end">0</text>
<text x="316.1" y="108.5" text-anchor="end">10S</text>
<text x="316.1" y="148.5" text-anchor="end">20S</text>
<text x="316.1" y="188.4" text-anchor="end">30S</text>
<clipPath id="clip3"><rect x="27.4" y="281.2" width="248.7" height="193.7"/></clipPath>
<clipPath id="land3"><path d="M21.3 288.8 L27 290 L29.6 291 L33.6 293.6 L36.9 294.3 L40.3 292.3 L43.6 290.6 L46.9 290.6 L49.6 292.3 L52.2 294.3 L54.2 296.7 L55.6 298 L56.9 295 L58.9 292.3 L60.9 289.6 L62.2 287 L64.8 285 L68.2 284.3 L72.1 283.9 L74.8 282.3 L77.5 281 L79.7 278.4 L83.1 278.4 L82.6 281.2 L79.7 282.4 L81.2 284.8 L83.1 284.8 L84.6 283.6 L87.9 282.8 L88.9 279.6 L90.3 282.4 L96.6 283.6 L97.6 285.2 L98.6 286.4 L107.3 286 L112.6 288 L116.9 286.4 L122.7 285.6 L128 285.6 L124.6 287.6 L129.5 288.8 L132.9 290.8 L137.2 294 L138.2 295.2 L144 299.2 L144.4 300.8 L150.7 304.4 L157 304.8 L166.2 305.2 L171.5 306.8 L177.3 310.8 L180.2 312.8 L182.1 320 L185.5 324.4 L186 327.2 L182.6 327.6 L179.2 330.3 L182.1 330.7 L185.5 328.7 L193.2 329.5 L192.7 333.9 L195.2 331.1 L200 331.1 L204.8 332.7 L211.6 335.5 L212.1 339.9 L214 337.9 L217.4 337.9 L224.1 339.5 L227.5 339.9 L233.8 339.5 L241 343.1 L246.8 347.1 L253.1 348.7 L256.5 349.1 L257.9 353.9 L258.9 357.1 L258.4 361.5 L256.5 365.5 L251.2 370.3 L248.3 372.3 L245.9 375.1 L243.5 379.1 L240.6 380.3 L238.6 384.3 L238.6 391.5 L238.1 399.1 L235.2 402.3 L234.8 407.1 L232.4 410.2 L229 414.6 L229 416.2 L224.1 419.8 L218.3 420.2 L211.1 421.4 L207.7 423.4 L202.9 424.2 L195.6 428.2 L192.7 431.8 L192.3 435.4 L192.3 441 L188.9 444.2 L185 449 L181.6 453 L175.4 457 L169.1 463 L167.1 465.8 L161.8 467.8 L155.6 467.8 L147.8 466.2 L144.9 464.2 L144.4 466.6 L150.2 469.4 L151.2 473.4 L153.1 475.4 L153.1 480.2 L72.5 480.2 L73.4 475 L75.9 470.2 L79.2 464.2 L80.7 460.2 L81.7 456.2 L81.7 448.2 L82.6 444.2 L81.7 440.2 L84.6 436.2 L86 432.2 L86.5 428.2 L87 422.2 L87.9 416.2 L88.4 410.2 L87.5 401.9 L82.6 399.1 L77.3 396.3 L71 393.9 L63.8 389.9 L59 384.3 L58 382.3 L54.6 376.7 L51.7 372.3 L49.3 368.3 L47.4 364.3 L45.4 361.1 L41.6 356.3 L36.7 353.1 L34.8 351.5 L34.3 347.1 L36.3 343.9 L39.2 341.9 L41.1 338.3 L39 340.3 L39.6 339.3 L36.9 338.1 L36.3 334.2 L36.9 330.2 L39.6 326.2 L42.9 323.6 L46.9 320.9 L48.9 318.2 L51.6 316.2 L53.5 312.9 L52.9 308.9 L52.2 304.9 L52.5 302.3 L51.6 299.6 L50.3 297.6 L48.2 295 L44.9 293.6 L41.6 294.3 L39 295.6 L39.6 296.9 L38.3 298.9 L36.3 298.3 L35.6 296.3 L32.3 295.6 L28.3 294.3 L21.3 293.6Z"/></clipPath>
<g clip-path="url(#clip3)">
<g clip-path="url(#land3)" shape-rendering="crispEdges">
<path fill="#0000ff" d="M178.3 336.3h2.8v2.3h-2.8zM125.1 362.3h2.8v2.3h-2.8zM91.3 364.3h2.8v2.3h-2.8zM96.1 364.3h2.8v2.3h-2.8zM117.9 390.3h2.8v2.3h-2.8zM125.1 394.3h2.8v2.3h-2.8z"/>
<path fill="#2b2bff" d="M122.7 290.4h2.8v2.3h-2.8zM130.0 318.4h2.8v2.3h-2.8zM175.8 336.3h2.8v2.3h-2.8zM180.7 336.3h2.8v2.3h-2.8zM190.3 338.3h2.8v2.3h-2.8zM187.9 340.3h5.2v2.3h-5.2zM183.1 344.3h5.2v2.3h-5.2zM178.3 348.3h2.8v2.3h-2.8zM142.0 354.3h2.8v2.3h-2.8zM84.1 358.3h2.8v2.3h-2.8zM81.7 360.3h2.8v2.3h-2.8zM91.3 366.3h5.2v2.3h-5.2zM98.6 366.3h2.8v2.3h-2.8zM180.7 366.3h2.8v2.3h-2.8zM91.3 368.3h2.8v2.3h-2.8zM110.6 368.3h2.8v2.3h-2.8zM175.8 368.3h2.8v2.3h-2.8zM103.4 372.3h2.8v2.3h-2.8zM144.4 374.3h5.2v2.3h-5.2zM120.3 386.3h2.8v2.3h-2.8zM120.3 388.3h2.8v2.3h-2.8zM115.5 390.3h2.8v2.3h-2.8zM134.8 390.3h2.8v2.3h-2.8zM120.3 392.3h2.8v2.3h-2.8zM125.1 392.3h2.8v2.3h-2.8zM130.0 392.3h2.8v2.3h-2.8zM120.3 394.3h5.2v2.3h-5.2zM130.0 396.3h2.8v2.3h-2.8zM139.6 410.2h2.8v2.3h-2.8zM137.2 414.2h2.8v2.3h-2.8zM122.7 422.2h2.8v2.3h-2.8z"/>
<path fill="#5555ff" d="M130.0 320.4h2.8v2.3h-2.8zM59.9 324.4h2.8v2.3h-2.8zM185.5 334.3h2.8v2.3h-2.8zM195.2 336.3h2.8v2.3h-2.8zM178.3 338.3h2.8v2.3h-2.8zM158.9 340.3h2.8v2.3h-2.8zM178.3 340.3h2.8v2.3h-2.8zM195.2 340.3h2.8v2.3h-2.8zM178.3 342.3h2.8v2.3h-2.8zM178.3 344.3h2.8v2.3h-2.8zM175.8 354.3h2.8v2.3h-2.8zM178.3 356.3h2.8v2.3h-2.8zM120.3 360.3h2.8v2.3h-2.8zM103.4 362.3h2.8v2.3h-2.8zM110.6 362.3h2.8v2.3h-2.8zM122.7 362.3h2.8v2.3h-2.8zM108.2 364.3h2.8v2.3h-2.8zM125.1 364.3h2.8v2.3h-2.8zM130.0 364.3h5.2v2.3h-5.2zM146.9 364.3h2.8v2.3h-2.8zM178.3 364.3h2.8v2.3h-2.8zM178.3 366.3h2.8v2.3h-2.8zM108.2 368.3h2.8v2.3h-2.8zM173.4 368.3h2.8v2.3h-2.8zM178.3 368.3h2.8v2.3h-2.8zM110.6 370.3h2.8v2.3h-2.8zM108.2 372.3h2.8v2.3h-2.8zM142.0 372.3h2.8v2.3h-2.8zM105.8 374.3h2.8v2.3h-2.8zM151.7 376.3h2.8v2.3h-2.8zM105.8 380.3h2.8v2.3h-2.8zM117.9 382.3h2.8v2.3h-2.8zM122.7 384.3h5.2v2.3h-5.2zM115.5 386.3h5.2v2.3h-5.2zM113.1 388.3h7.6v2.3h-7.6zM125.1 388.3h2.8v2.3h-2.8zM130.0 388.3h2.8v2.3h-2.8zM134.8 388.3h2.8v2.3h-2.8zM120.3 390.3h2.8v2.3h-2.8zM125.1 390.3h5.2v2.3h-5.2zM132.4 390.3h2.8v2.3h-2.8zM127.5 392.3h2.8v2.3h-2.8zM132.4 392.3h5.2v2.3h-5.2zM117.9 394.3h2.8v2.3h-2.8zM127.5 394.3h2.8v2.3h-2.8zM134.8 394.3h2.8v2.3h-2.8zM117.9 396.3h2.8v2.3h-2.8zM122.7 396.3h5.2v2.3h-5.2zM127.5 398.3h2.8v2.3h-2.8zM127.5 406.3h2.8v2.3h-2.8zM139.6 414.2h2.8v2.3h-2.8zM146.9 418.2h2.8v2.3h-2.8zM122.7 420.2h5.2v2.3h-5.2zM158.9 430.2h2.8v2.3h-2.8zM158.9 434.2h2.8v2.3h-2.8z"/>
<path fill="#7f7fff" d="M115.5 290.4h2.8v2.3h-2.8zM81.7 292.4h2.8v2.3h-2.8zM93.7 294.4h5.2v2.3h-5.2zM96.1 306.4h2.8v2.3h-2.8zM132.4 314.4h2.8v2.3h-2.8zM74.4 316.4h2.8v2.3h-2.8zM127.5 316.4h5.2v2.3h-5.2zM134.8 316.4h2.8v2.3h-2.8zM127.5 318.4h2.8v2.3h-2.8zM134.8 318.4h2.8v2.3h-2.8zM67.2 320.4h2.8v2.3h-2.8zM132.4 320.4h2.8v2.3h-2.8zM132.4 322.4h2.8v2.3h-2.8zM180.7 330.3h2.8v2.3h-2.8zM158.9 332.3h2.8v2.3h-2.8zM178.3 332.3h2.8v2.3h-2.8zM178.3 334.3h7.6v2.3h-7.6zM183.1 336.3h2.8v2.3h-2.8zM156.5 338.3h2.8v2.3h-2.8zM163.8 338.3h2.8v2.3h-2.8zM180.7 338.3h2.8v2.3h-2.8zM197.6 338.3h2.8v2.3h-2.8zM216.9 338.3h2.8v2.3h-2.8zM175.8 340.3h2.8v2.3h-2.8zM166.2 344.3h2.8v2.3h-2.8zM202.4 344.3h2.8v2.3h-2.8zM183.1 346.3h2.8v2.3h-2.8zM139.6 354.3h2.8v2.3h-2.8zM144.4 354.3h2.8v2.3h-2.8zM79.2 358.3h2.8v2.3h-2.8zM57.5 360.3h5.2v2.3h-5.2zM91.3 360.3h2.8v2.3h-2.8zM98.6 360.3h2.8v2.3h-2.8zM173.4 360.3h2.8v2.3h-2.8zM88.9 362.3h2.8v2.3h-2.8zM175.8 362.3h2.8v2.3h-2.8zM88.9 364.3h2.8v2.3h-2.8zM120.3 364.3h2.8v2.3h-2.8zM142.0 364.3h2.8v2.3h-2.8zM163.8 364.3h2.8v2.3h-2.8zM101.0 366.3h2.8v2.3h-2.8zM117.9 366.3h2.8v2.3h-2.8zM122.7 366.3h2.8v2.3h-2.8zM134.8 366.3h2.8v2.3h-2.8zM142.0 366.3h2.8v2.3h-2.8zM146.9 366.3h2.8v2.3h-2.8zM91.3 370.3h2.8v2.3h-2.8zM175.8 370.3h2.8v2.3h-2.8zM146.9 372.3h2.8v2.3h-2.8zM93.7 374.3h5.2v2.3h-5.2zM149.3 374.3h5.2v2.3h-5.2zM163.8 374.3h2.8v2.3h-2.8zM105.8 376.3h2.8v2.3h-2.8zM110.6 376.3h5.2v2.3h-5.2zM96.1 378.3h5.2v2.3h-5.2zM125.1 378.3h2.8v2.3h-2.8zM166.2 378.3h2.8v2.3h-2.8zM103.4 380.3h2.8v2.3h-2.8zM117.9 380.3h2.8v2.3h-2.8zM113.1 382.3h5.2v2.3h-5.2zM120.3 382.3h2.8v2.3h-2.8zM125.1 382.3h2.8v2.3h-2.8zM130.0 382.3h2.8v2.3h-2.8zM156.5 382.3h5.2v2.3h-5.2zM101.0 384.3h2.8v2.3h-2.8zM113.1 384.3h2.8v2.3h-2.8zM117.9 384.3h5.2v2.3h-5.2zM108.2 386.3h5.2v2.3h-5.2zM105.8 388.3h2.8v2.3h-2.8zM110.6 388.3h2.8v2.3h-2.8zM122.7 388.3h2.8v2.3h-2.8zM132.4 388.3h2.8v2.3h-2.8zM130.0 390.3h2.8v2.3h-2.8zM139.6 390.3h2.8v2.3h-2.8zM149.3 390.3h2.8v2.3h-2.8zM154.1 390.3h2.8v2.3h-2.8zM113.1 392.3h2.8v2.3h-2.8zM117.9 392.3h2.8v2.3h-2.8zM139.6 392.3h2.8v2.3h-2.8zM132.4 394.3h2.8v2.3h-2.8zM146.9 394.3h2.8v2.3h-2.8zM127.5 396.3h2.8v2.3h-2.8zM134.8 396.3h2.8v2.3h-2.8zM125.1 398.3h2.8v2.3h-2.8zM125.1 400.3h2.8v2.3h-2.8zM134.8 406.3h2.8v2.3h-2.8zM134.8 412.2h2.8v2.3h-2.8zM144.4 414.2h2.8v2.3h-2.8zM142.0 416.2h2.8v2.3h-2.8zM139.6 418.2h5.2v2.3h-5.2zM139.6 422.2h5.2v2.3h-5.2zM125.1 424.2h2.8v2.3h-2.8zM122.7 426.2h2.8v2.3h-2.8zM144.4 428.2h2.8v2.3h-2.8zM161.3 432.2h2.8v2.3h-2.8zM117.9 434.2h2.8v2.3h-2.8zM180.7 434.2h2.8v2.3h-2.8z"/>
<path fill="#aaaaff" d="M76.8 280.4h7.6v2.3h-7.6zM88.9 280.4h7.6v2.3h-7.6zM67.2 282.4h10.0v2.3h-10.0zM79.2 282.4h5.2v2.3h-5.2zM86.5 282.4h12.4v2.3h-12.4zM64.8 284.4h5.2v2.3h-5.2zM88.9 284.4h2.8v2.3h-2.8zM93.7 284.4h10.0v2.3h-10.0zM105.8 284.4h2.8v2.3h-2.8zM113.1 284.4h2.8v2.3h-2.8zM117.9 284.4h2.8v2.3h-2.8zM72.0 286.4h2.8v2.3h-2.8zM88.9 286.4h2.8v2.3h-2.8zM93.7 286.4h10.0v2.3h-10.0zM105.8 286.4h2.8v2.3h-2.8zM125.1 286.4h7.6v2.3h-7.6zM28.5 288.4h2.8v2.3h-2.8zM57.5 288.4h2.8v2.3h-2.8zM72.0 288.4h2.8v2.3h-2.8zM76.8 288.4h2.8v2.3h-2.8zM88.9 288.4h10.0v2.3h-10.0zM101.0 288.4h2.8v2.3h-2.8zM105.8 288.4h5.2v2.3h-5.2zM117.9 288.4h10.0v2.3h-10.0zM130.0 288.4h2.8v2.3h-2.8zM84.1 290.4h12.4v2.3h-12.4zM98.6 290.4h10.0v2.3h-10.0zM110.6 290.4h2.8v2.3h-2.8zM117.9 290.4h2.8v2.3h-2.8zM125.1 290.4h2.8v2.3h-2.8zM74.4 292.4h7.6v2.3h-7.6zM86.5 292.4h14.8v2.3h-14.8zM105.8 292.4h7.6v2.3h-7.6zM115.5 292.4h2.8v2.3h-2.8zM125.1 292.4h2.8v2.3h-2.8zM137.2 292.4h2.8v2.3h-2.8zM64.8 294.4h2.8v2.3h-2.8zM72.0 294.4h2.8v2.3h-2.8zM79.2 294.4h5.2v2.3h-5.2zM88.9 294.4h2.8v2.3h-2.8zM101.0 294.4h5.2v2.3h-5.2zM113.1 294.4h5.2v2.3h-5.2zM120.3 294.4h2.8v2.3h-2.8zM127.5 294.4h2.8v2.3h-2.8zM69.6 296.4h2.8v2.3h-2.8zM91.3 296.4h2.8v2.3h-2.8zM98.6 296.4h2.8v2.3h-2.8zM103.4 296.4h5.2v2.3h-5.2zM117.9 296.4h2.8v2.3h-2.8zM35.8 298.4h2.8v2.3h-2.8zM55.1 298.4h2.8v2.3h-2.8zM76.8 298.4h2.8v2.3h-2.8zM103.4 298.4h2.8v2.3h-2.8zM113.1 298.4h2.8v2.3h-2.8zM125.1 298.4h2.8v2.3h-2.8zM132.4 298.4h7.6v2.3h-7.6zM50.3 300.4h5.2v2.3h-5.2zM79.2 300.4h5.2v2.3h-5.2zM88.9 300.4h2.8v2.3h-2.8zM101.0 300.4h14.8v2.3h-14.8zM117.9 300.4h2.8v2.3h-2.8zM127.5 300.4h5.2v2.3h-5.2zM57.5 302.4h2.8v2.3h-2.8zM69.6 302.4h2.8v2.3h-2.8zM74.4 302.4h2.8v2.3h-2.8zM81.7 302.4h2.8v2.3h-2.8zM93.7 302.4h2.8v2.3h-2.8zM105.8 302.4h14.8v2.3h-14.8zM57.5 304.4h2.8v2.3h-2.8zM62.3 304.4h2.8v2.3h-2.8zM72.0 304.4h2.8v2.3h-2.8zM86.5 304.4h7.6v2.3h-7.6zM98.6 304.4h7.6v2.3h-7.6zM108.2 304.4h2.8v2.3h-2.8zM113.1 304.4h7.6v2.3h-7.6zM122.7 304.4h2.8v2.3h-2.8zM52.7 306.4h12.4v2.3h-12.4zM67.2 306.4h10.0v2.3h-10.0zM86.5 306.4h7.6v2.3h-7.6zM101.0 306.4h2.8v2.3h-2.8zM105.8 306.4h7.6v2.3h-7.6zM115.5 306.4h14.8v2.3h-14.8zM139.6 306.4h7.6v2.3h-7.6zM149.3 306.4h2.8v2.3h-2.8zM156.5 306.4h2.8v2.3h-2.8zM50.3 308.4h5.2v2.3h-5.2zM67.2 308.4h2.8v2.3h-2.8zM72.0 308.4h2.8v2.3h-2.8zM81.7 308.4h5.2v2.3h-5.2zM91.3 308.4h2.8v2.3h-2.8zM98.6 308.4h12.4v2.3h-12.4zM113.1 308.4h39.0v2.3h-39.0zM154.1 308.4h2.8v2.3h-2.8zM161.3 308.4h2.8v2.3h-2.8zM57.5 310.4h2.8v2.3h-2.8zM72.0 310.4h2.8v2.3h-2.8zM76.8 310.4h2.8v2.3h-2.8zM81.7 310.4h2.8v2.3h-2.8zM86.5 310.4h7.6v2.3h-7.6zM96.1 310.4h17.3v2.3h-17.3zM117.9 310.4h2.8v2.3h-2.8zM122.7 310.4h14.8v2.3h-14.8zM139.6 310.4h5.2v2.3h-5.2zM55.1 312.4h2.8v2.3h-2.8zM59.9 312.4h2.8v2.3h-2.8zM69.6 312.4h2.8v2.3h-2.8zM74.4 312.4h2.8v2.3h-2.8zM81.7 312.4h2.8v2.3h-2.8zM86.5 312.4h5.2v2.3h-5.2zM93.7 312.4h12.4v2.3h-12.4zM108.2 312.4h5.2v2.3h-5.2zM120.3 312.4h19.7v2.3h-19.7zM144.4 312.4h2.8v2.3h-2.8zM158.9 312.4h2.8v2.3h-2.8zM166.2 312.4h2.8v2.3h-2.8zM171.0 312.4h2.8v2.3h-2.8zM50.3 314.4h2.8v2.3h-2.8zM57.5 314.4h2.8v2.3h-2.8zM64.8 314.4h5.2v2.3h-5.2zM74.4 314.4h2.8v2.3h-2.8zM79.2 314.4h2.8v2.3h-2.8zM86.5 314.4h2.8v2.3h-2.8zM91.3 314.4h12.4v2.3h-12.4zM105.8 314.4h10.0v2.3h-10.0zM117.9 314.4h5.2v2.3h-5.2zM125.1 314.4h7.6v2.3h-7.6zM134.8 314.4h2.8v2.3h-2.8zM146.9 314.4h2.8v2.3h-2.8zM154.1 314.4h5.2v2.3h-5.2zM50.3 316.4h5.2v2.3h-5.2zM64.8 316.4h2.8v2.3h-2.8zM84.1 316.4h2.8v2.3h-2.8zM93.7 316.4h2.8v2.3h-2.8zM98.6 316.4h10.0v2.3h-10.0zM110.6 316.4h10.0v2.3h-10.0zM122.7 316.4h5.2v2.3h-5.2zM132.4 316.4h2.8v2.3h-2.8zM146.9 316.4h2.8v2.3h-2.8zM154.1 316.4h2.8v2.3h-2.8zM166.2 316.4h2.8v2.3h-2.8zM173.4 316.4h2.8v2.3h-2.8zM50.3 318.4h2.8v2.3h-2.8zM76.8 318.4h2.8v2.3h-2.8zM81.7 318.4h7.6v2.3h-7.6zM91.3 318.4h2.8v2.3h-2.8zM96.1 318.4h7.6v2.3h-7.6zM108.2 318.4h14.8v2.3h-14.8zM125.1 318.4h2.8v2.3h-2.8zM137.2 318.4h2.8v2.3h-2.8zM142.0 318.4h2.8v2.3h-2.8zM154.1 318.4h2.8v2.3h-2.8zM161.3 318.4h2.8v2.3h-2.8zM173.4 318.4h2.8v2.3h-2.8zM43.0 320.4h2.8v2.3h-2.8zM52.7 320.4h2.8v2.3h-2.8zM59.9 320.4h2.8v2.3h-2.8zM69.6 320.4h2.8v2.3h-2.8zM74.4 320.4h12.4v2.3h-12.4zM88.9 320.4h5.2v2.3h-5.2zM98.6 320.4h2.8v2.3h-2.8zM108.2 320.4h12.4v2.3h-12.4zM122.7 320.4h7.6v2.3h-7.6zM134.8 320.4h2.8v2.3h-2.8zM139.6 320.4h2.8v2.3h-2.8zM151.7 320.4h12.4v2.3h-12.4zM166.2 320.4h2.8v2.3h-2.8zM50.3 322.4h2.8v2.3h-2.8zM64.8 322.4h19.7v2.3h-19.7zM86.5 322.4h2.8v2.3h-2.8zM98.6 322.4h2.8v2.3h-2.8zM108.2 322.4h5.2v2.3h-5.2zM115.5 322.4h2.8v2.3h-2.8zM120.3 322.4h2.8v2.3h-2.8zM125.1 322.4h7.6v2.3h-7.6zM134.8 322.4h10.0v2.3h-10.0zM146.9 322.4h2.8v2.3h-2.8zM151.7 322.4h12.4v2.3h-12.4zM57.5 324.4h2.8v2.3h-2.8zM64.8 324.4h5.2v2.3h-5.2zM72.0 324.4h2.8v2.3h-2.8zM79.2 324.4h2.8v2.3h-2.8zM84.1 324.4h7.6v2.3h-7.6zM103.4 324.4h5.2v2.3h-5.2zM110.6 324.4h2.8v2.3h-2.8zM115.5 324.4h2.8v2.3h-2.8zM122.7 324.4h17.3v2.3h-17.3zM142.0 324.4h2.8v2.3h-2.8zM146.9 324.4h7.6v2.3h-7.6zM161.3 324.4h12.4v2.3h-12.4zM50.3 326.4h2.8v2.3h-2.8zM74.4 326.4h2.8v2.3h-2.8zM81.7 326.4h14.8v2.3h-14.8zM98.6 326.4h2.8v2.3h-2.8zM105.8 326.4h2.8v2.3h-2.8zM122.7 326.4h12.4v2.3h-12.4zM151.7 326.4h7.6v2.3h-7.6zM161.3 326.4h7.6v2.3h-7.6zM178.3 326.4h2.8v2.3h-2.8zM57.5 328.3h2.8v2.3h-2.8zM69.6 328.3h2.8v2.3h-2.8zM79.2 328.3h10.0v2.3h-10.0zM101.0 328.3h5.2v2.3h-5.2zM120.3 328.3h10.0v2.3h-10.0zM139.6 328.3h2.8v2.3h-2.8zM151.7 328.3h2.8v2.3h-2.8zM156.5 328.3h5.2v2.3h-5.2zM163.8 328.3h2.8v2.3h-2.8zM178.3 328.3h2.8v2.3h-2.8zM187.9 328.3h2.8v2.3h-2.8zM50.3 330.3h2.8v2.3h-2.8zM55.1 330.3h2.8v2.3h-2.8zM59.9 330.3h2.8v2.3h-2.8zM76.8 330.3h10.0v2.3h-10.0zM101.0 330.3h7.6v2.3h-7.6zM110.6 330.3h2.8v2.3h-2.8zM115.5 330.3h2.8v2.3h-2.8zM132.4 330.3h2.8v2.3h-2.8zM139.6 330.3h2.8v2.3h-2.8zM146.9 330.3h2.8v2.3h-2.8zM151.7 330.3h2.8v2.3h-2.8zM50.3 332.3h2.8v2.3h-2.8zM57.5 332.3h7.6v2.3h-7.6zM69.6 332.3h2.8v2.3h-2.8zM74.4 332.3h5.2v2.3h-5.2zM113.1 332.3h2.8v2.3h-2.8zM117.9 332.3h2.8v2.3h-2.8zM122.7 332.3h2.8v2.3h-2.8zM137.2 332.3h5.2v2.3h-5.2zM144.4 332.3h2.8v2.3h-2.8zM50.3 334.3h2.8v2.3h-2.8zM59.9 334.3h5.2v2.3h-5.2zM67.2 334.3h2.8v2.3h-2.8zM72.0 334.3h2.8v2.3h-2.8zM79.2 334.3h5.2v2.3h-5.2zM93.7 334.3h2.8v2.3h-2.8zM105.8 334.3h5.2v2.3h-5.2zM115.5 334.3h2.8v2.3h-2.8zM120.3 334.3h5.2v2.3h-5.2zM156.5 334.3h2.8v2.3h-2.8zM161.3 334.3h2.8v2.3h-2.8zM168.6 334.3h2.8v2.3h-2.8zM47.8 336.3h2.8v2.3h-2.8zM52.7 336.3h2.8v2.3h-2.8zM69.6 336.3h2.8v2.3h-2.8zM117.9 336.3h5.2v2.3h-5.2zM139.6 336.3h2.8v2.3h-2.8zM171.0 336.3h2.8v2.3h-2.8zM197.6 336.3h2.8v2.3h-2.8zM50.3 338.3h2.8v2.3h-2.8zM59.9 338.3h2.8v2.3h-2.8zM74.4 338.3h2.8v2.3h-2.8zM79.2 338.3h2.8v2.3h-2.8zM84.1 338.3h5.2v2.3h-5.2zM105.8 338.3h2.8v2.3h-2.8zM113.1 338.3h5.2v2.3h-5.2zM120.3 338.3h5.2v2.3h-5.2zM200.0 338.3h2.8v2.3h-2.8zM50.3 340.3h2.8v2.3h-2.8zM64.8 340.3h2.8v2.3h-2.8zM76.8 340.3h5.2v2.3h-5.2zM88.9 340.3h2.8v2.3h-2.8zM93.7 340.3h2.8v2.3h-2.8zM101.0 340.3h5.2v2.3h-5.2zM108.2 340.3h2.8v2.3h-2.8zM120.3 340.3h2.8v2.3h-2.8zM127.5 340.3h2.8v2.3h-2.8zM192.7 340.3h2.8v2.3h-2.8zM197.6 340.3h5.2v2.3h-5.2zM209.7 340.3h2.8v2.3h-2.8zM47.8 342.3h2.8v2.3h-2.8zM52.7 342.3h2.8v2.3h-2.8zM79.2 342.3h5.2v2.3h-5.2zM93.7 342.3h2.8v2.3h-2.8zM103.4 342.3h7.6v2.3h-7.6zM122.7 342.3h2.8v2.3h-2.8zM183.1 342.3h2.8v2.3h-2.8zM192.7 342.3h2.8v2.3h-2.8zM202.4 342.3h10.0v2.3h-10.0zM47.8 344.3h2.8v2.3h-2.8zM57.5 344.3h2.8v2.3h-2.8zM103.4 344.3h10.0v2.3h-10.0zM156.5 344.3h2.8v2.3h-2.8zM180.7 344.3h2.8v2.3h-2.8zM187.9 344.3h2.8v2.3h-2.8zM192.7 344.3h2.8v2.3h-2.8zM212.1 344.3h5.2v2.3h-5.2zM79.2 346.3h2.8v2.3h-2.8zM101.0 346.3h2.8v2.3h-2.8zM105.8 346.3h5.2v2.3h-5.2zM115.5 346.3h2.8v2.3h-2.8zM146.9 346.3h2.8v2.3h-2.8zM163.8 346.3h2.8v2.3h-2.8zM178.3 346.3h2.8v2.3h-2.8zM195.2 346.3h2.8v2.3h-2.8zM84.1 348.3h2.8v2.3h-2.8zM88.9 348.3h2.8v2.3h-2.8zM113.1 348.3h2.8v2.3h-2.8zM156.5 348.3h5.2v2.3h-5.2zM185.5 352.3h2.8v2.3h-2.8zM161.3 354.3h2.8v2.3h-2.8zM180.7 354.3h5.2v2.3h-5.2zM79.2 356.3h2.8v2.3h-2.8zM59.9 358.3h2.8v2.3h-2.8zM93.7 358.3h2.8v2.3h-2.8zM173.4 358.3h2.8v2.3h-2.8zM178.3 358.3h2.8v2.3h-2.8zM79.2 360.3h2.8v2.3h-2.8zM96.1 360.3h2.8v2.3h-2.8zM113.1 360.3h2.8v2.3h-2.8zM74.4 362.3h5.2v2.3h-5.2zM91.3 362.3h7.6v2.3h-7.6zM130.0 362.3h2.8v2.3h-2.8zM79.2 364.3h2.8v2.3h-2.8zM93.7 364.3h2.8v2.3h-2.8zM101.0 364.3h5.2v2.3h-5.2zM127.5 364.3h2.8v2.3h-2.8zM149.3 364.3h2.8v2.3h-2.8zM130.0 366.3h5.2v2.3h-5.2zM149.3 366.3h2.8v2.3h-2.8zM163.8 366.3h2.8v2.3h-2.8zM88.9 368.3h2.8v2.3h-2.8zM96.1 368.3h5.2v2.3h-5.2zM139.6 368.3h2.8v2.3h-2.8zM161.3 368.3h2.8v2.3h-2.8zM117.9 370.3h2.8v2.3h-2.8zM151.7 370.3h2.8v2.3h-2.8zM173.4 370.3h2.8v2.3h-2.8zM113.1 372.3h2.8v2.3h-2.8zM132.4 372.3h2.8v2.3h-2.8zM151.7 372.3h2.8v2.3h-2.8zM166.2 372.3h2.8v2.3h-2.8zM178.3 372.3h2.8v2.3h-2.8zM130.0 374.3h5.2v2.3h-5.2zM137.2 374.3h2.8v2.3h-2.8zM154.1 374.3h2.8v2.3h-2.8zM168.6 374.3h2.8v2.3h-2.8zM96.1 376.3h5.2v2.3h-5.2zM103.4 376.3h2.8v2.3h-2.8zM144.4 376.3h2.8v2.3h-2.8zM161.3 376.3h2.8v2.3h-2.8zM101.0 378.3h2.8v2.3h-2.8zM110.6 378.3h7.6v2.3h-7.6zM122.7 378.3h2.8v2.3h-2.8zM134.8 378.3h2.8v2.3h-2.8zM101.0 380.3h2.8v2.3h-2.8zM113.1 380.3h5.2v2.3h-5.2zM120.3 380.3h2.8v2.3h-2.8zM130.0 380.3h2.8v2.3h-2.8zM101.0 382.3h10.0v2.3h-10.0zM127.5 382.3h2.8v2.3h-2.8zM134.8 382.3h2.8v2.3h-2.8zM98.6 384.3h2.8v2.3h-2.8zM103.4 384.3h5.2v2.3h-5.2zM110.6 384.3h2.8v2.3h-2.8zM115.5 384.3h2.8v2.3h-2.8zM127.5 384.3h2.8v2.3h-2.8zM132.4 384.3h5.2v2.3h-5.2zM101.0 386.3h2.8v2.3h-2.8zM105.8 386.3h2.8v2.3h-2.8zM122.7 386.3h12.4v2.3h-12.4zM108.2 388.3h2.8v2.3h-2.8zM154.1 388.3h2.8v2.3h-2.8zM113.1 390.3h2.8v2.3h-2.8zM142.0 390.3h2.8v2.3h-2.8zM161.3 390.3h2.8v2.3h-2.8zM113.1 394.3h2.8v2.3h-2.8zM130.0 394.3h2.8v2.3h-2.8zM115.5 396.3h2.8v2.3h-2.8zM154.1 396.3h2.8v2.3h-2.8zM113.1 398.3h2.8v2.3h-2.8zM117.9 398.3h2.8v2.3h-2.8zM122.7 398.3h2.8v2.3h-2.8zM130.0 398.3h7.6v2.3h-7.6zM127.5 400.3h2.8v2.3h-2.8zM132.4 400.3h2.8v2.3h-2.8zM142.0 402.3h2.8v2.3h-2.8zM146.9 402.3h2.8v2.3h-2.8zM154.1 402.3h2.8v2.3h-2.8zM125.1 404.3h2.8v2.3h-2.8zM146.9 404.3h2.8v2.3h-2.8zM134.8 408.2h2.8v2.3h-2.8zM139.6 408.2h2.8v2.3h-2.8zM139.6 412.2h2.8v2.3h-2.8zM144.4 412.2h2.8v2.3h-2.8zM132.4 416.2h2.8v2.3h-2.8zM137.2 416.2h2.8v2.3h-2.8zM151.7 416.2h2.8v2.3h-2.8zM134.8 418.2h2.8v2.3h-2.8zM156.5 418.2h2.8v2.3h-2.8zM161.3 418.2h2.8v2.3h-2.8zM117.9 420.2h2.8v2.3h-2.8zM127.5 424.2h2.8v2.3h-2.8zM146.9 424.2h5.2v2.3h-5.2zM156.5 424.2h2.8v2.3h-2.8zM115.5 426.2h2.8v2.3h-2.8zM146.9 426.2h2.8v2.3h-2.8zM127.5 428.2h5.2v2.3h-5.2zM161.3 428.2h2.8v2.3h-2.8zM185.5 428.2h2.8v2.3h-2.8zM127.5 430.2h2.8v2.3h-2.8zM144.4 430.2h2.8v2.3h-2.8zM173.4 430.2h2.8v2.3h-2.8zM178.3 430.2h5.2v2.3h-5.2zM117.9 432.2h7.6v2.3h-7.6zM173.4 432.2h7.6v2.3h-7.6zM183.1 432.2h5.2v2.3h-5.2zM127.5 434.2h2.8v2.3h-2.8zM175.8 434.2h2.8v2.3h-2.8zM183.1 434.2h5.2v2.3h-5.2zM132.4 436.2h2.8v2.3h-2.8zM168.6 436.2h2.8v2.3h-2.8zM183.1 436.2h2.8v2.3h-2.8zM120.3 438.2h2.8v2.3h-2.8zM132.4 440.2h2.8v2.3h-2.8zM192.7 440.2h2.8v2.3h-2.8zM130.0 452.2h2.8v2.3h-2.8zM183.1 452.2h2.8v2.3h-2.8z"/>
<path fill="#c6c6ff" d="M74.4 280.4h2.8v2.3h-2.8zM84.1 280.4h5.2v2.3h-5.2zM64.8 282.4h2.8v2.3h-2.8zM76.8 282.4h2.8v2.3h-2.8zM84.1 282.4h2.8v2.3h-2.8zM59.9 284.4h5.2v2.3h-5.2zM74.4 284.4h7.6v2.3h-7.6zM86.5 284.4h2.8v2.3h-2.8zM91.3 284.4h2.8v2.3h-2.8zM103.4 284.4h2.8v2.3h-2.8zM108.2 284.4h2.8v2.3h-2.8zM115.5 284.4h2.8v2.3h-2.8zM122.7 284.4h2.8v2.3h-2.8zM64.8 286.4h5.2v2.3h-5.2zM76.8 286.4h2.8v2.3h-2.8zM81.7 286.4h5.2v2.3h-5.2zM91.3 286.4h2.8v2.3h-2.8zM110.6 286.4h2.8v2.3h-2.8zM120.3 286.4h2.8v2.3h-2.8zM64.8 288.4h2.8v2.3h-2.8zM69.6 288.4h2.8v2.3h-2.8zM74.4 288.4h2.8v2.3h-2.8zM79.2 288.4h2.8v2.3h-2.8zM110.6 288.4h2.8v2.3h-2.8zM115.5 288.4h2.8v2.3h-2.8zM127.5 288.4h2.8v2.3h-2.8zM33.4 290.4h2.8v2.3h-2.8zM62.3 290.4h2.8v2.3h-2.8zM69.6 290.4h2.8v2.3h-2.8zM76.8 290.4h2.8v2.3h-2.8zM96.1 290.4h2.8v2.3h-2.8zM108.2 290.4h2.8v2.3h-2.8zM120.3 290.4h2.8v2.3h-2.8zM130.0 290.4h2.8v2.3h-2.8zM134.8 290.4h2.8v2.3h-2.8zM84.1 292.4h2.8v2.3h-2.8zM101.0 292.4h5.2v2.3h-5.2zM113.1 292.4h2.8v2.3h-2.8zM120.3 292.4h5.2v2.3h-5.2zM127.5 292.4h2.8v2.3h-2.8zM47.8 294.4h2.8v2.3h-2.8zM86.5 294.4h2.8v2.3h-2.8zM91.3 294.4h2.8v2.3h-2.8zM108.2 294.4h5.2v2.3h-5.2zM122.7 294.4h2.8v2.3h-2.8zM55.1 296.4h7.6v2.3h-7.6zM81.7 296.4h2.8v2.3h-2.8zM88.9 296.4h2.8v2.3h-2.8zM108.2 296.4h5.2v2.3h-5.2zM127.5 296.4h2.8v2.3h-2.8zM52.7 298.4h2.8v2.3h-2.8zM62.3 298.4h12.4v2.3h-12.4zM84.1 298.4h10.0v2.3h-10.0zM98.6 298.4h2.8v2.3h-2.8zM105.8 298.4h7.6v2.3h-7.6zM127.5 298.4h5.2v2.3h-5.2zM139.6 298.4h2.8v2.3h-2.8zM59.9 300.4h2.8v2.3h-2.8zM67.2 300.4h2.8v2.3h-2.8zM72.0 300.4h5.2v2.3h-5.2zM86.5 300.4h2.8v2.3h-2.8zM93.7 300.4h7.6v2.3h-7.6zM132.4 300.4h2.8v2.3h-2.8zM50.3 302.4h2.8v2.3h-2.8zM55.1 302.4h2.8v2.3h-2.8zM64.8 302.4h2.8v2.3h-2.8zM84.1 302.4h2.8v2.3h-2.8zM101.0 302.4h5.2v2.3h-5.2zM122.7 302.4h2.8v2.3h-2.8zM127.5 302.4h2.8v2.3h-2.8zM139.6 302.4h5.2v2.3h-5.2zM64.8 304.4h2.8v2.3h-2.8zM76.8 304.4h2.8v2.3h-2.8zM105.8 304.4h2.8v2.3h-2.8zM110.6 304.4h2.8v2.3h-2.8zM127.5 304.4h2.8v2.3h-2.8zM132.4 304.4h2.8v2.3h-2.8zM139.6 304.4h2.8v2.3h-2.8zM156.5 304.4h2.8v2.3h-2.8zM79.2 306.4h2.8v2.3h-2.8zM84.1 306.4h2.8v2.3h-2.8zM93.7 306.4h2.8v2.3h-2.8zM103.4 306.4h2.8v2.3h-2.8zM130.0 306.4h5.2v2.3h-5.2zM151.7 306.4h5.2v2.3h-5.2zM158.9 306.4h2.8v2.3h-2.8zM55.1 308.4h2.8v2.3h-2.8zM59.9 308.4h2.8v2.3h-2.8zM64.8 308.4h2.8v2.3h-2.8zM79.2 308.4h2.8v2.3h-2.8zM88.9 308.4h2.8v2.3h-2.8zM96.1 308.4h2.8v2.3h-2.8zM110.6 308.4h2.8v2.3h-2.8zM158.9 308.4h2.8v2.3h-2.8zM79.2 310.4h2.8v2.3h-2.8zM93.7 310.4h2.8v2.3h-2.8zM120.3 310.4h2.8v2.3h-2.8zM144.4 310.4h5.2v2.3h-5.2zM151.7 310.4h5.2v2.3h-5.2zM168.6 310.4h2.8v2.3h-2.8zM62.3 312.4h5.2v2.3h-5.2zM91.3 312.4h2.8v2.3h-2.8zM113.1 312.4h2.8v2.3h-2.8zM117.9 312.4h2.8v2.3h-2.8zM139.6 312.4h2.8v2.3h-2.8zM161.3 312.4h2.8v2.3h-2.8zM62.3 314.4h2.8v2.3h-2.8zM103.4 314.4h2.8v2.3h-2.8zM115.5 314.4h2.8v2.3h-2.8zM163.8 314.4h7.6v2.3h-7.6zM175.8 314.4h2.8v2.3h-2.8zM47.8 316.4h2.8v2.3h-2.8zM62.3 316.4h2.8v2.3h-2.8zM76.8 316.4h5.2v2.3h-5.2zM86.5 316.4h2.8v2.3h-2.8zM96.1 316.4h2.8v2.3h-2.8zM137.2 316.4h2.8v2.3h-2.8zM142.0 316.4h2.8v2.3h-2.8zM149.3 316.4h2.8v2.3h-2.8zM163.8 316.4h2.8v2.3h-2.8zM175.8 316.4h2.8v2.3h-2.8zM57.5 318.4h2.8v2.3h-2.8zM62.3 318.4h2.8v2.3h-2.8zM69.6 318.4h2.8v2.3h-2.8zM79.2 318.4h2.8v2.3h-2.8zM88.9 318.4h2.8v2.3h-2.8zM93.7 318.4h2.8v2.3h-2.8zM144.4 318.4h7.6v2.3h-7.6zM171.0 318.4h2.8v2.3h-2.8zM50.3 320.4h2.8v2.3h-2.8zM55.1 320.4h2.8v2.3h-2.8zM72.0 320.4h2.8v2.3h-2.8zM96.1 320.4h2.8v2.3h-2.8zM103.4 320.4h2.8v2.3h-2.8zM142.0 320.4h2.8v2.3h-2.8zM173.4 320.4h5.2v2.3h-5.2zM43.0 322.4h2.8v2.3h-2.8zM47.8 322.4h2.8v2.3h-2.8zM52.7 322.4h5.2v2.3h-5.2zM84.1 322.4h2.8v2.3h-2.8zM101.0 322.4h5.2v2.3h-5.2zM113.1 322.4h2.8v2.3h-2.8zM117.9 322.4h2.8v2.3h-2.8zM38.2 324.4h5.2v2.3h-5.2zM55.1 324.4h2.8v2.3h-2.8zM74.4 324.4h2.8v2.3h-2.8zM108.2 324.4h2.8v2.3h-2.8zM144.4 324.4h2.8v2.3h-2.8zM156.5 324.4h5.2v2.3h-5.2zM178.3 324.4h2.8v2.3h-2.8zM52.7 326.4h2.8v2.3h-2.8zM57.5 326.4h2.8v2.3h-2.8zM64.8 326.4h5.2v2.3h-5.2zM72.0 326.4h2.8v2.3h-2.8zM79.2 326.4h2.8v2.3h-2.8zM96.1 326.4h2.8v2.3h-2.8zM103.4 326.4h2.8v2.3h-2.8zM134.8 326.4h2.8v2.3h-2.8zM139.6 326.4h5.2v2.3h-5.2zM146.9 326.4h2.8v2.3h-2.8zM158.9 326.4h2.8v2.3h-2.8zM64.8 328.3h2.8v2.3h-2.8zM74.4 328.3h5.2v2.3h-5.2zM91.3 328.3h2.8v2.3h-2.8zM113.1 328.3h2.8v2.3h-2.8zM130.0 328.3h2.8v2.3h-2.8zM161.3 328.3h2.8v2.3h-2.8zM175.8 328.3h2.8v2.3h-2.8zM35.8 330.3h2.8v2.3h-2.8zM69.6 330.3h2.8v2.3h-2.8zM74.4 330.3h2.8v2.3h-2.8zM108.2 330.3h2.8v2.3h-2.8zM117.9 330.3h5.2v2.3h-5.2zM142.0 330.3h2.8v2.3h-2.8zM175.8 330.3h2.8v2.3h-2.8zM187.9 330.3h2.8v2.3h-2.8zM38.2 332.3h2.8v2.3h-2.8zM52.7 332.3h2.8v2.3h-2.8zM67.2 332.3h2.8v2.3h-2.8zM72.0 332.3h2.8v2.3h-2.8zM79.2 332.3h2.8v2.3h-2.8zM91.3 332.3h5.2v2.3h-5.2zM103.4 332.3h5.2v2.3h-5.2zM110.6 332.3h2.8v2.3h-2.8zM130.0 332.3h2.8v2.3h-2.8zM146.9 332.3h2.8v2.3h-2.8zM151.7 332.3h2.8v2.3h-2.8zM190.3 332.3h2.8v2.3h-2.8zM47.8 334.3h2.8v2.3h-2.8zM52.7 334.3h2.8v2.3h-2.8zM57.5 334.3h2.8v2.3h-2.8zM69.6 334.3h2.8v2.3h-2.8zM91.3 334.3h2.8v2.3h-2.8zM98.6 334.3h2.8v2.3h-2.8zM103.4 334.3h2.8v2.3h-2.8zM125.1 334.3h2.8v2.3h-2.8zM144.4 334.3h2.8v2.3h-2.8zM166.2 334.3h2.8v2.3h-2.8zM45.4 336.3h2.8v2.3h-2.8zM50.3 336.3h2.8v2.3h-2.8zM57.5 336.3h5.2v2.3h-5.2zM86.5 336.3h2.8v2.3h-2.8zM91.3 336.3h2.8v2.3h-2.8zM108.2 336.3h2.8v2.3h-2.8zM113.1 336.3h5.2v2.3h-5.2zM132.4 336.3h2.8v2.3h-2.8zM216.9 336.3h2.8v2.3h-2.8zM47.8 338.3h2.8v2.3h-2.8zM52.7 338.3h2.8v2.3h-2.8zM72.0 338.3h2.8v2.3h-2.8zM81.7 338.3h2.8v2.3h-2.8zM88.9 338.3h5.2v2.3h-5.2zM96.1 338.3h2.8v2.3h-2.8zM103.4 338.3h2.8v2.3h-2.8zM117.9 338.3h2.8v2.3h-2.8zM55.1 340.3h7.6v2.3h-7.6zM69.6 340.3h2.8v2.3h-2.8zM81.7 340.3h5.2v2.3h-5.2zM96.1 340.3h2.8v2.3h-2.8zM110.6 340.3h2.8v2.3h-2.8zM45.4 342.3h2.8v2.3h-2.8zM50.3 342.3h2.8v2.3h-2.8zM62.3 342.3h2.8v2.3h-2.8zM69.6 342.3h5.2v2.3h-5.2zM76.8 342.3h2.8v2.3h-2.8zM98.6 342.3h2.8v2.3h-2.8zM117.9 342.3h2.8v2.3h-2.8zM139.6 342.3h2.8v2.3h-2.8zM168.6 342.3h2.8v2.3h-2.8zM59.9 344.3h2.8v2.3h-2.8zM67.2 344.3h2.8v2.3h-2.8zM81.7 344.3h2.8v2.3h-2.8zM86.5 344.3h2.8v2.3h-2.8zM96.1 344.3h2.8v2.3h-2.8zM113.1 344.3h2.8v2.3h-2.8zM190.3 344.3h2.8v2.3h-2.8zM195.2 344.3h2.8v2.3h-2.8zM209.7 344.3h2.8v2.3h-2.8zM221.7 344.3h2.8v2.3h-2.8zM55.1 346.3h5.2v2.3h-5.2zM62.3 346.3h2.8v2.3h-2.8zM67.2 346.3h5.2v2.3h-5.2zM81.7 346.3h5.2v2.3h-5.2zM110.6 346.3h2.8v2.3h-2.8zM117.9 346.3h2.8v2.3h-2.8zM156.5 346.3h2.8v2.3h-2.8zM187.9 346.3h2.8v2.3h-2.8zM224.1 346.3h2.8v2.3h-2.8zM238.6 346.3h5.2v2.3h-5.2zM91.3 348.3h2.8v2.3h-2.8zM98.6 348.3h5.2v2.3h-5.2zM117.9 348.3h5.2v2.3h-5.2zM130.0 348.3h2.8v2.3h-2.8zM166.2 348.3h5.2v2.3h-5.2zM91.3 350.3h2.8v2.3h-2.8zM96.1 350.3h2.8v2.3h-2.8zM113.1 350.3h2.8v2.3h-2.8zM122.7 350.3h5.2v2.3h-5.2zM219.3 350.3h2.8v2.3h-2.8zM98.6 352.3h2.8v2.3h-2.8zM125.1 352.3h2.8v2.3h-2.8zM132.4 352.3h2.8v2.3h-2.8zM144.4 352.3h2.8v2.3h-2.8zM183.1 352.3h2.8v2.3h-2.8zM81.7 354.3h2.8v2.3h-2.8zM88.9 356.3h2.8v2.3h-2.8zM93.7 356.3h2.8v2.3h-2.8zM158.9 356.3h2.8v2.3h-2.8zM86.5 358.3h2.8v2.3h-2.8zM98.6 358.3h2.8v2.3h-2.8zM175.8 358.3h2.8v2.3h-2.8zM229.0 358.3h2.8v2.3h-2.8zM84.1 360.3h2.8v2.3h-2.8zM101.0 360.3h2.8v2.3h-2.8zM101.0 362.3h2.8v2.3h-2.8zM173.4 362.3h2.8v2.3h-2.8zM224.1 362.3h2.8v2.3h-2.8zM212.1 366.3h2.8v2.3h-2.8zM224.1 366.3h2.8v2.3h-2.8zM130.0 368.3h2.8v2.3h-2.8zM134.8 368.3h5.2v2.3h-5.2zM151.7 368.3h2.8v2.3h-2.8zM103.4 370.3h2.8v2.3h-2.8zM88.9 372.3h2.8v2.3h-2.8zM113.1 374.3h2.8v2.3h-2.8zM88.9 376.3h5.2v2.3h-5.2zM163.8 376.3h2.8v2.3h-2.8zM171.0 376.3h2.8v2.3h-2.8zM103.4 378.3h5.2v2.3h-5.2zM120.3 378.3h2.8v2.3h-2.8zM154.1 378.3h2.8v2.3h-2.8zM221.7 378.3h2.8v2.3h-2.8zM91.3 380.3h2.8v2.3h-2.8zM98.6 380.3h2.8v2.3h-2.8zM108.2 380.3h2.8v2.3h-2.8zM122.7 380.3h2.8v2.3h-2.8zM154.1 380.3h2.8v2.3h-2.8zM173.4 380.3h2.8v2.3h-2.8zM229.0 380.3h2.8v2.3h-2.8zM98.6 382.3h2.8v2.3h-2.8zM110.6 382.3h2.8v2.3h-2.8zM122.7 382.3h2.8v2.3h-2.8zM132.4 382.3h2.8v2.3h-2.8zM108.2 384.3h2.8v2.3h-2.8zM130.0 384.3h2.8v2.3h-2.8zM149.3 384.3h2.8v2.3h-2.8zM156.5 384.3h2.8v2.3h-2.8zM98.6 386.3h2.8v2.3h-2.8zM103.4 386.3h2.8v2.3h-2.8zM113.1 386.3h2.8v2.3h-2.8zM142.0 386.3h2.8v2.3h-2.8zM98.6 388.3h2.8v2.3h-2.8zM127.5 388.3h2.8v2.3h-2.8zM139.6 388.3h2.8v2.3h-2.8zM156.5 388.3h2.8v2.3h-2.8zM166.2 388.3h2.8v2.3h-2.8zM173.4 388.3h2.8v2.3h-2.8zM110.6 390.3h2.8v2.3h-2.8zM122.7 390.3h2.8v2.3h-2.8zM151.7 390.3h2.8v2.3h-2.8zM115.5 392.3h2.8v2.3h-2.8zM103.4 394.3h2.8v2.3h-2.8zM113.1 396.3h2.8v2.3h-2.8zM120.3 396.3h2.8v2.3h-2.8zM197.6 396.3h2.8v2.3h-2.8zM120.3 398.3h2.8v2.3h-2.8zM149.3 398.3h2.8v2.3h-2.8zM156.5 398.3h2.8v2.3h-2.8zM195.2 398.3h2.8v2.3h-2.8zM117.9 400.3h7.6v2.3h-7.6zM144.4 400.3h2.8v2.3h-2.8zM149.3 400.3h2.8v2.3h-2.8zM125.1 402.3h2.8v2.3h-2.8zM132.4 402.3h5.2v2.3h-5.2zM161.3 402.3h2.8v2.3h-2.8zM144.4 404.3h2.8v2.3h-2.8zM130.0 406.3h2.8v2.3h-2.8zM137.2 406.3h2.8v2.3h-2.8zM142.0 408.2h2.8v2.3h-2.8zM146.9 408.2h2.8v2.3h-2.8zM192.7 408.2h2.8v2.3h-2.8zM127.5 410.2h2.8v2.3h-2.8zM200.0 412.2h2.8v2.3h-2.8zM132.4 418.2h2.8v2.3h-2.8zM175.8 424.2h2.8v2.3h-2.8zM127.5 426.2h2.8v2.3h-2.8zM180.7 426.2h2.8v2.3h-2.8zM113.1 428.2h2.8v2.3h-2.8zM122.7 428.2h5.2v2.3h-5.2zM163.8 428.2h2.8v2.3h-2.8zM171.0 428.2h2.8v2.3h-2.8zM175.8 428.2h2.8v2.3h-2.8zM180.7 428.2h2.8v2.3h-2.8zM187.9 428.2h2.8v2.3h-2.8zM122.7 430.2h2.8v2.3h-2.8zM168.6 430.2h2.8v2.3h-2.8zM175.8 430.2h2.8v2.3h-2.8zM183.1 430.2h5.2v2.3h-5.2zM149.3 432.2h2.8v2.3h-2.8zM156.5 432.2h2.8v2.3h-2.8zM168.6 432.2h2.8v2.3h-2.8zM180.7 432.2h2.8v2.3h-2.8zM190.3 432.2h5.2v2.3h-5.2zM115.5 434.2h2.8v2.3h-2.8zM171.0 434.2h2.8v2.3h-2.8zM178.3 434.2h2.8v2.3h-2.8zM187.9 434.2h2.8v2.3h-2.8zM192.7 434.2h2.8v2.3h-2.8zM117.9 436.2h5.2v2.3h-5.2zM166.2 436.2h2.8v2.3h-2.8zM173.4 436.2h2.8v2.3h-2.8zM178.3 436.2h5.2v2.3h-5.2zM185.5 436.2h2.8v2.3h-2.8zM190.3 436.2h5.2v2.3h-5.2zM125.1 438.2h2.8v2.3h-2.8zM134.8 438.2h2.8v2.3h-2.8zM125.1 440.2h7.6v2.3h-7.6zM142.0 440.2h2.8v2.3h-2.8zM171.0 440.2h2.8v2.3h-2.8zM178.3 440.2h2.8v2.3h-2.8zM127.5 442.2h5.2v2.3h-5.2zM171.0 442.2h2.8v2.3h-2.8zM180.7 442.2h2.8v2.3h-2.8zM117.9 444.2h2.8v2.3h-2.8zM183.1 444.2h2.8v2.3h-2.8zM175.8 448.2h2.8v2.3h-2.8zM183.1 448.2h2.8v2.3h-2.8zM130.0 450.2h2.8v2.3h-2.8zM144.4 450.2h2.8v2.3h-2.8zM175.8 450.2h2.8v2.3h-2.8zM175.8 456.2h5.2v2.3h-5.2zM127.5 460.2h2.8v2.3h-2.8zM139.6 464.2h2.8v2.3h-2.8zM117.9 466.2h2.8v2.3h-2.8zM79.2 472.2h2.8v2.3h-2.8z"/>
<path fill="#e0e0ff" d="M69.6 284.4h5.2v2.3h-5.2zM84.1 284.4h2.8v2.3h-2.8zM120.3 284.4h2.8v2.3h-2.8zM59.9 286.4h2.8v2.3h-2.8zM74.4 286.4h2.8v2.3h-2.8zM79.2 286.4h2.8v2.3h-2.8zM103.4 286.4h2.8v2.3h-2.8zM117.9 286.4h2.8v2.3h-2.8zM122.7 286.4h2.8v2.3h-2.8zM59.9 288.4h2.8v2.3h-2.8zM84.1 288.4h5.2v2.3h-5.2zM98.6 288.4h2.8v2.3h-2.8zM103.4 288.4h2.8v2.3h-2.8zM113.1 288.4h2.8v2.3h-2.8zM132.4 288.4h2.8v2.3h-2.8zM26.1 290.4h2.8v2.3h-2.8zM79.2 290.4h5.2v2.3h-5.2zM113.1 290.4h2.8v2.3h-2.8zM132.4 290.4h2.8v2.3h-2.8zM28.5 292.4h2.8v2.3h-2.8zM40.6 292.4h2.8v2.3h-2.8zM57.5 292.4h2.8v2.3h-2.8zM64.8 292.4h2.8v2.3h-2.8zM117.9 292.4h2.8v2.3h-2.8zM130.0 292.4h2.8v2.3h-2.8zM134.8 292.4h2.8v2.3h-2.8zM33.4 294.4h2.8v2.3h-2.8zM43.0 294.4h2.8v2.3h-2.8zM50.3 294.4h2.8v2.3h-2.8zM55.1 294.4h2.8v2.3h-2.8zM62.3 294.4h2.8v2.3h-2.8zM74.4 294.4h5.2v2.3h-5.2zM98.6 294.4h2.8v2.3h-2.8zM105.8 294.4h2.8v2.3h-2.8zM125.1 294.4h2.8v2.3h-2.8zM30.9 296.4h5.2v2.3h-5.2zM52.7 296.4h2.8v2.3h-2.8zM72.0 296.4h5.2v2.3h-5.2zM84.1 296.4h5.2v2.3h-5.2zM113.1 296.4h2.8v2.3h-2.8zM134.8 296.4h2.8v2.3h-2.8zM139.6 296.4h2.8v2.3h-2.8zM33.4 298.4h2.8v2.3h-2.8zM50.3 298.4h2.8v2.3h-2.8zM59.9 298.4h2.8v2.3h-2.8zM74.4 298.4h2.8v2.3h-2.8zM79.2 298.4h2.8v2.3h-2.8zM93.7 298.4h2.8v2.3h-2.8zM101.0 298.4h2.8v2.3h-2.8zM122.7 298.4h2.8v2.3h-2.8zM55.1 300.4h2.8v2.3h-2.8zM62.3 300.4h5.2v2.3h-5.2zM69.6 300.4h2.8v2.3h-2.8zM76.8 300.4h2.8v2.3h-2.8zM84.1 300.4h2.8v2.3h-2.8zM125.1 300.4h2.8v2.3h-2.8zM139.6 300.4h5.2v2.3h-5.2zM52.7 302.4h2.8v2.3h-2.8zM59.9 302.4h2.8v2.3h-2.8zM67.2 302.4h2.8v2.3h-2.8zM91.3 302.4h2.8v2.3h-2.8zM98.6 302.4h2.8v2.3h-2.8zM125.1 302.4h2.8v2.3h-2.8zM144.4 302.4h2.8v2.3h-2.8zM151.7 302.4h2.8v2.3h-2.8zM156.5 302.4h7.6v2.3h-7.6zM50.3 304.4h2.8v2.3h-2.8zM59.9 304.4h2.8v2.3h-2.8zM67.2 304.4h2.8v2.3h-2.8zM74.4 304.4h2.8v2.3h-2.8zM81.7 304.4h2.8v2.3h-2.8zM93.7 304.4h5.2v2.3h-5.2zM130.0 304.4h2.8v2.3h-2.8zM81.7 306.4h2.8v2.3h-2.8zM98.6 306.4h2.8v2.3h-2.8zM171.0 306.4h2.8v2.3h-2.8zM69.6 308.4h2.8v2.3h-2.8zM86.5 308.4h2.8v2.3h-2.8zM93.7 308.4h2.8v2.3h-2.8zM151.7 308.4h2.8v2.3h-2.8zM171.0 308.4h2.8v2.3h-2.8zM178.3 308.4h2.8v2.3h-2.8zM59.9 310.4h2.8v2.3h-2.8zM69.6 310.4h2.8v2.3h-2.8zM74.4 310.4h2.8v2.3h-2.8zM84.1 310.4h2.8v2.3h-2.8zM113.1 310.4h2.8v2.3h-2.8zM137.2 310.4h2.8v2.3h-2.8zM149.3 310.4h2.8v2.3h-2.8zM52.7 312.4h2.8v2.3h-2.8zM105.8 312.4h2.8v2.3h-2.8zM142.0 312.4h2.8v2.3h-2.8zM149.3 312.4h7.6v2.3h-7.6zM59.9 314.4h2.8v2.3h-2.8zM81.7 314.4h2.8v2.3h-2.8zM88.9 314.4h2.8v2.3h-2.8zM122.7 314.4h2.8v2.3h-2.8zM142.0 314.4h2.8v2.3h-2.8zM151.7 314.4h2.8v2.3h-2.8zM158.9 314.4h2.8v2.3h-2.8zM45.4 316.4h2.8v2.3h-2.8zM72.0 316.4h2.8v2.3h-2.8zM91.3 316.4h2.8v2.3h-2.8zM108.2 316.4h2.8v2.3h-2.8zM120.3 316.4h2.8v2.3h-2.8zM144.4 316.4h2.8v2.3h-2.8zM156.5 316.4h7.6v2.3h-7.6zM178.3 316.4h2.8v2.3h-2.8zM47.8 318.4h2.8v2.3h-2.8zM52.7 318.4h5.2v2.3h-5.2zM64.8 318.4h2.8v2.3h-2.8zM74.4 318.4h2.8v2.3h-2.8zM103.4 318.4h2.8v2.3h-2.8zM151.7 318.4h2.8v2.3h-2.8zM156.5 318.4h5.2v2.3h-5.2zM163.8 318.4h5.2v2.3h-5.2zM47.8 320.4h2.8v2.3h-2.8zM64.8 320.4h2.8v2.3h-2.8zM137.2 320.4h2.8v2.3h-2.8zM149.3 320.4h2.8v2.3h-2.8zM171.0 320.4h2.8v2.3h-2.8zM183.1 320.4h2.8v2.3h-2.8zM38.2 322.4h5.2v2.3h-5.2zM45.4 322.4h2.8v2.3h-2.8zM59.9 322.4h5.2v2.3h-5.2zM105.8 322.4h2.8v2.3h-2.8zM173.4 322.4h2.8v2.3h-2.8zM178.3 322.4h2.8v2.3h-2.8zM43.0 324.4h2.8v2.3h-2.8zM47.8 324.4h5.2v2.3h-5.2zM76.8 324.4h2.8v2.3h-2.8zM81.7 324.4h2.8v2.3h-2.8zM96.1 324.4h2.8v2.3h-2.8zM154.1 324.4h2.8v2.3h-2.8zM35.8 326.4h2.8v2.3h-2.8zM40.6 326.4h2.8v2.3h-2.8zM69.6 326.4h2.8v2.3h-2.8zM115.5 326.4h7.6v2.3h-7.6zM137.2 326.4h2.8v2.3h-2.8zM149.3 326.4h2.8v2.3h-2.8zM171.0 326.4h2.8v2.3h-2.8zM175.8 326.4h2.8v2.3h-2.8zM38.2 328.3h2.8v2.3h-2.8zM59.9 328.3h2.8v2.3h-2.8zM67.2 328.3h2.8v2.3h-2.8zM72.0 328.3h2.8v2.3h-2.8zM88.9 328.3h2.8v2.3h-2.8zM117.9 328.3h2.8v2.3h-2.8zM146.9 328.3h5.2v2.3h-5.2zM154.1 328.3h2.8v2.3h-2.8zM190.3 328.3h5.2v2.3h-5.2zM38.2 330.3h5.2v2.3h-5.2zM45.4 330.3h2.8v2.3h-2.8zM72.0 330.3h2.8v2.3h-2.8zM86.5 330.3h2.8v2.3h-2.8zM122.7 330.3h2.8v2.3h-2.8zM154.1 330.3h2.8v2.3h-2.8zM163.8 330.3h2.8v2.3h-2.8zM168.6 330.3h2.8v2.3h-2.8zM183.1 330.3h2.8v2.3h-2.8zM195.2 330.3h2.8v2.3h-2.8zM33.4 332.3h5.2v2.3h-5.2zM45.4 332.3h2.8v2.3h-2.8zM101.0 332.3h2.8v2.3h-2.8zM120.3 332.3h2.8v2.3h-2.8zM161.3 332.3h2.8v2.3h-2.8zM183.1 332.3h2.8v2.3h-2.8zM207.2 332.3h5.2v2.3h-5.2zM33.4 334.3h5.2v2.3h-5.2zM40.6 334.3h5.2v2.3h-5.2zM55.1 334.3h2.8v2.3h-2.8zM74.4 334.3h5.2v2.3h-5.2zM88.9 334.3h2.8v2.3h-2.8zM96.1 334.3h2.8v2.3h-2.8zM101.0 334.3h2.8v2.3h-2.8zM113.1 334.3h2.8v2.3h-2.8zM127.5 334.3h5.2v2.3h-5.2zM142.0 334.3h2.8v2.3h-2.8zM151.7 334.3h2.8v2.3h-2.8zM158.9 334.3h2.8v2.3h-2.8zM197.6 334.3h2.8v2.3h-2.8zM212.1 334.3h2.8v2.3h-2.8zM35.8 336.3h5.2v2.3h-5.2zM43.0 336.3h2.8v2.3h-2.8zM67.2 336.3h2.8v2.3h-2.8zM79.2 336.3h2.8v2.3h-2.8zM84.1 336.3h2.8v2.3h-2.8zM122.7 336.3h2.8v2.3h-2.8zM35.8 338.3h10.0v2.3h-10.0zM55.1 338.3h2.8v2.3h-2.8zM64.8 338.3h2.8v2.3h-2.8zM76.8 338.3h2.8v2.3h-2.8zM108.2 338.3h5.2v2.3h-5.2zM125.1 338.3h2.8v2.3h-2.8zM236.2 338.3h2.8v2.3h-2.8zM35.8 340.3h5.2v2.3h-5.2zM115.5 340.3h5.2v2.3h-5.2zM214.5 340.3h2.8v2.3h-2.8zM224.1 340.3h5.2v2.3h-5.2zM236.2 340.3h5.2v2.3h-5.2zM33.4 342.3h7.6v2.3h-7.6zM67.2 342.3h2.8v2.3h-2.8zM86.5 342.3h2.8v2.3h-2.8zM96.1 342.3h2.8v2.3h-2.8zM195.2 342.3h2.8v2.3h-2.8zM219.3 342.3h2.8v2.3h-2.8zM224.1 342.3h5.2v2.3h-5.2zM33.4 344.3h5.2v2.3h-5.2zM40.6 344.3h7.6v2.3h-7.6zM55.1 344.3h2.8v2.3h-2.8zM69.6 344.3h2.8v2.3h-2.8zM74.4 344.3h2.8v2.3h-2.8zM115.5 344.3h2.8v2.3h-2.8zM175.8 344.3h2.8v2.3h-2.8zM236.2 344.3h2.8v2.3h-2.8zM241.0 344.3h2.8v2.3h-2.8zM33.4 346.3h10.0v2.3h-10.0zM47.8 346.3h2.8v2.3h-2.8zM52.7 346.3h2.8v2.3h-2.8zM96.1 346.3h2.8v2.3h-2.8zM122.7 346.3h2.8v2.3h-2.8zM127.5 346.3h2.8v2.3h-2.8zM142.0 346.3h5.2v2.3h-5.2zM158.9 346.3h5.2v2.3h-5.2zM185.5 346.3h2.8v2.3h-2.8zM226.6 346.3h2.8v2.3h-2.8zM33.4 348.3h14.8v2.3h-14.8zM67.2 348.3h2.8v2.3h-2.8zM103.4 348.3h2.8v2.3h-2.8zM127.5 348.3h2.8v2.3h-2.8zM187.9 348.3h2.8v2.3h-2.8zM221.7 348.3h2.8v2.3h-2.8zM226.6 348.3h2.8v2.3h-2.8zM238.6 348.3h2.8v2.3h-2.8zM33.4 350.3h12.4v2.3h-12.4zM47.8 350.3h2.8v2.3h-2.8zM76.8 350.3h2.8v2.3h-2.8zM101.0 350.3h2.8v2.3h-2.8zM105.8 350.3h2.8v2.3h-2.8zM130.0 350.3h5.2v2.3h-5.2zM137.2 350.3h2.8v2.3h-2.8zM158.9 350.3h2.8v2.3h-2.8zM231.4 350.3h2.8v2.3h-2.8zM236.2 350.3h10.0v2.3h-10.0zM250.7 350.3h2.8v2.3h-2.8zM33.4 352.3h5.2v2.3h-5.2zM40.6 352.3h10.0v2.3h-10.0zM84.1 352.3h2.8v2.3h-2.8zM88.9 352.3h2.8v2.3h-2.8zM93.7 352.3h2.8v2.3h-2.8zM101.0 352.3h7.6v2.3h-7.6zM113.1 352.3h2.8v2.3h-2.8zM127.5 352.3h2.8v2.3h-2.8zM146.9 352.3h5.2v2.3h-5.2zM233.8 352.3h2.8v2.3h-2.8zM241.0 352.3h2.8v2.3h-2.8zM35.8 354.3h12.4v2.3h-12.4zM79.2 354.3h2.8v2.3h-2.8zM84.1 354.3h12.4v2.3h-12.4zM98.6 354.3h2.8v2.3h-2.8zM110.6 354.3h2.8v2.3h-2.8zM132.4 354.3h2.8v2.3h-2.8zM241.0 354.3h2.8v2.3h-2.8zM38.2 356.3h10.0v2.3h-10.0zM84.1 356.3h5.2v2.3h-5.2zM91.3 356.3h2.8v2.3h-2.8zM96.1 356.3h2.8v2.3h-2.8zM125.1 356.3h2.8v2.3h-2.8zM134.8 356.3h2.8v2.3h-2.8zM149.3 356.3h2.8v2.3h-2.8zM180.7 356.3h2.8v2.3h-2.8zM219.3 356.3h2.8v2.3h-2.8zM238.6 356.3h5.2v2.3h-5.2zM40.6 358.3h7.6v2.3h-7.6zM76.8 358.3h2.8v2.3h-2.8zM91.3 358.3h2.8v2.3h-2.8zM96.1 358.3h2.8v2.3h-2.8zM117.9 358.3h2.8v2.3h-2.8zM158.9 358.3h2.8v2.3h-2.8zM224.1 358.3h5.2v2.3h-5.2zM233.8 358.3h2.8v2.3h-2.8zM238.6 358.3h2.8v2.3h-2.8zM248.3 358.3h5.2v2.3h-5.2zM43.0 360.3h5.2v2.3h-5.2zM76.8 360.3h2.8v2.3h-2.8zM86.5 360.3h2.8v2.3h-2.8zM93.7 360.3h2.8v2.3h-2.8zM105.8 360.3h2.8v2.3h-2.8zM151.7 360.3h2.8v2.3h-2.8zM212.1 360.3h2.8v2.3h-2.8zM219.3 360.3h2.8v2.3h-2.8zM224.1 360.3h10.0v2.3h-10.0zM248.3 360.3h5.2v2.3h-5.2zM43.0 362.3h5.2v2.3h-5.2zM81.7 362.3h5.2v2.3h-5.2zM178.3 362.3h5.2v2.3h-5.2zM216.9 362.3h2.8v2.3h-2.8zM226.6 362.3h5.2v2.3h-5.2zM236.2 362.3h2.8v2.3h-2.8zM245.9 362.3h7.6v2.3h-7.6zM257.9 362.3h2.8v2.3h-2.8zM45.4 364.3h5.2v2.3h-5.2zM76.8 364.3h2.8v2.3h-2.8zM161.3 364.3h2.8v2.3h-2.8zM175.8 364.3h2.8v2.3h-2.8zM226.6 364.3h2.8v2.3h-2.8zM248.3 364.3h2.8v2.3h-2.8zM253.1 364.3h5.2v2.3h-5.2zM45.4 366.3h5.2v2.3h-5.2zM79.2 366.3h10.0v2.3h-10.0zM166.2 366.3h2.8v2.3h-2.8zM173.4 366.3h2.8v2.3h-2.8zM183.1 366.3h2.8v2.3h-2.8zM226.6 366.3h2.8v2.3h-2.8zM245.9 366.3h2.8v2.3h-2.8zM79.2 368.3h5.2v2.3h-5.2zM86.5 368.3h2.8v2.3h-2.8zM101.0 368.3h2.8v2.3h-2.8zM120.3 368.3h2.8v2.3h-2.8zM156.5 368.3h5.2v2.3h-5.2zM171.0 368.3h2.8v2.3h-2.8zM183.1 368.3h2.8v2.3h-2.8zM207.2 368.3h2.8v2.3h-2.8zM226.6 368.3h5.2v2.3h-5.2zM233.8 368.3h5.2v2.3h-5.2zM47.8 370.3h2.8v2.3h-2.8zM79.2 370.3h5.2v2.3h-5.2zM86.5 370.3h2.8v2.3h-2.8zM166.2 370.3h2.8v2.3h-2.8zM183.1 370.3h2.8v2.3h-2.8zM229.0 370.3h7.6v2.3h-7.6zM84.1 372.3h5.2v2.3h-5.2zM91.3 372.3h2.8v2.3h-2.8zM115.5 372.3h5.2v2.3h-5.2zM219.3 372.3h2.8v2.3h-2.8zM226.6 372.3h2.8v2.3h-2.8zM233.8 372.3h5.2v2.3h-5.2zM88.9 374.3h2.8v2.3h-2.8zM108.2 374.3h5.2v2.3h-5.2zM115.5 374.3h2.8v2.3h-2.8zM142.0 374.3h2.8v2.3h-2.8zM178.3 374.3h2.8v2.3h-2.8zM224.1 374.3h7.6v2.3h-7.6zM236.2 374.3h5.2v2.3h-5.2zM84.1 376.3h5.2v2.3h-5.2zM115.5 376.3h7.6v2.3h-7.6zM142.0 376.3h2.8v2.3h-2.8zM173.4 376.3h2.8v2.3h-2.8zM224.1 376.3h2.8v2.3h-2.8zM231.4 376.3h2.8v2.3h-2.8zM236.2 376.3h5.2v2.3h-5.2zM55.1 378.3h12.4v2.3h-12.4zM72.0 378.3h5.2v2.3h-5.2zM81.7 378.3h7.6v2.3h-7.6zM91.3 378.3h2.8v2.3h-2.8zM108.2 378.3h2.8v2.3h-2.8zM117.9 378.3h2.8v2.3h-2.8zM137.2 378.3h2.8v2.3h-2.8zM142.0 378.3h2.8v2.3h-2.8zM161.3 378.3h2.8v2.3h-2.8zM185.5 378.3h2.8v2.3h-2.8zM224.1 378.3h2.8v2.3h-2.8zM229.0 378.3h10.0v2.3h-10.0zM55.1 380.3h36.6v2.3h-36.6zM93.7 380.3h5.2v2.3h-5.2zM110.6 380.3h2.8v2.3h-2.8zM132.4 380.3h2.8v2.3h-2.8zM137.2 380.3h2.8v2.3h-2.8zM156.5 380.3h7.6v2.3h-7.6zM221.7 380.3h2.8v2.3h-2.8zM231.4 380.3h7.6v2.3h-7.6zM55.1 382.3h39.0v2.3h-39.0zM137.2 382.3h2.8v2.3h-2.8zM142.0 382.3h2.8v2.3h-2.8zM151.7 382.3h5.2v2.3h-5.2zM163.8 382.3h2.8v2.3h-2.8zM178.3 382.3h2.8v2.3h-2.8zM221.7 382.3h2.8v2.3h-2.8zM231.4 382.3h5.2v2.3h-5.2zM57.5 384.3h2.8v2.3h-2.8zM62.3 384.3h29.3v2.3h-29.3zM93.7 384.3h5.2v2.3h-5.2zM137.2 384.3h5.2v2.3h-5.2zM146.9 384.3h2.8v2.3h-2.8zM175.8 384.3h2.8v2.3h-2.8zM229.0 384.3h2.8v2.3h-2.8zM57.5 386.3h22.1v2.3h-22.1zM81.7 386.3h2.8v2.3h-2.8zM86.5 386.3h12.4v2.3h-12.4zM137.2 386.3h5.2v2.3h-5.2zM149.3 386.3h2.8v2.3h-2.8zM173.4 386.3h5.2v2.3h-5.2zM180.7 386.3h2.8v2.3h-2.8zM59.9 388.3h22.1v2.3h-22.1zM84.1 388.3h5.2v2.3h-5.2zM91.3 388.3h7.6v2.3h-7.6zM101.0 388.3h5.2v2.3h-5.2zM137.2 388.3h2.8v2.3h-2.8zM151.7 388.3h2.8v2.3h-2.8zM171.0 388.3h2.8v2.3h-2.8zM175.8 388.3h2.8v2.3h-2.8zM185.5 388.3h2.8v2.3h-2.8zM226.6 388.3h5.2v2.3h-5.2zM62.3 390.3h22.1v2.3h-22.1zM86.5 390.3h24.5v2.3h-24.5zM137.2 390.3h2.8v2.3h-2.8zM156.5 390.3h2.8v2.3h-2.8zM163.8 390.3h2.8v2.3h-2.8zM173.4 390.3h2.8v2.3h-2.8zM180.7 390.3h2.8v2.3h-2.8zM187.9 390.3h10.0v2.3h-10.0zM67.2 392.3h46.2v2.3h-46.2zM122.7 392.3h2.8v2.3h-2.8zM149.3 392.3h2.8v2.3h-2.8zM158.9 392.3h2.8v2.3h-2.8zM173.4 392.3h12.4v2.3h-12.4zM192.7 392.3h5.2v2.3h-5.2zM202.4 392.3h2.8v2.3h-2.8zM233.8 392.3h5.2v2.3h-5.2zM69.6 394.3h7.6v2.3h-7.6zM79.2 394.3h7.6v2.3h-7.6zM88.9 394.3h14.8v2.3h-14.8zM105.8 394.3h7.6v2.3h-7.6zM115.5 394.3h2.8v2.3h-2.8zM154.1 394.3h2.8v2.3h-2.8zM163.8 394.3h2.8v2.3h-2.8zM168.6 394.3h2.8v2.3h-2.8zM173.4 394.3h14.8v2.3h-14.8zM190.3 394.3h7.6v2.3h-7.6zM233.8 394.3h7.6v2.3h-7.6zM74.4 396.3h5.2v2.3h-5.2zM84.1 396.3h5.2v2.3h-5.2zM91.3 396.3h22.1v2.3h-22.1zM132.4 396.3h2.8v2.3h-2.8zM137.2 396.3h2.8v2.3h-2.8zM149.3 396.3h2.8v2.3h-2.8zM163.8 396.3h2.8v2.3h-2.8zM171.0 396.3h2.8v2.3h-2.8zM175.8 396.3h5.2v2.3h-5.2zM185.5 396.3h2.8v2.3h-2.8zM190.3 396.3h5.2v2.3h-5.2zM200.0 396.3h7.6v2.3h-7.6zM231.4 396.3h10.0v2.3h-10.0zM76.8 398.3h12.4v2.3h-12.4zM91.3 398.3h2.8v2.3h-2.8zM96.1 398.3h5.2v2.3h-5.2zM103.4 398.3h10.0v2.3h-10.0zM115.5 398.3h2.8v2.3h-2.8zM137.2 398.3h2.8v2.3h-2.8zM151.7 398.3h2.8v2.3h-2.8zM161.3 398.3h5.2v2.3h-5.2zM168.6 398.3h2.8v2.3h-2.8zM173.4 398.3h7.6v2.3h-7.6zM187.9 398.3h2.8v2.3h-2.8zM200.0 398.3h2.8v2.3h-2.8zM204.8 398.3h5.2v2.3h-5.2zM216.9 398.3h10.0v2.3h-10.0zM231.4 398.3h10.0v2.3h-10.0zM81.7 400.3h5.2v2.3h-5.2zM91.3 400.3h26.9v2.3h-26.9zM130.0 400.3h2.8v2.3h-2.8zM137.2 400.3h2.8v2.3h-2.8zM156.5 400.3h5.2v2.3h-5.2zM163.8 400.3h7.6v2.3h-7.6zM173.4 400.3h2.8v2.3h-2.8zM178.3 400.3h2.8v2.3h-2.8zM192.7 400.3h2.8v2.3h-2.8zM197.6 400.3h2.8v2.3h-2.8zM207.2 400.3h7.6v2.3h-7.6zM216.9 400.3h7.6v2.3h-7.6zM236.2 400.3h2.8v2.3h-2.8zM84.1 402.3h19.7v2.3h-19.7zM105.8 402.3h7.6v2.3h-7.6zM115.5 402.3h5.2v2.3h-5.2zM130.0 402.3h2.8v2.3h-2.8zM144.4 402.3h2.8v2.3h-2.8zM163.8 402.3h2.8v2.3h-2.8zM168.6 402.3h5.2v2.3h-5.2zM183.1 402.3h5.2v2.3h-5.2zM190.3 402.3h2.8v2.3h-2.8zM195.2 402.3h2.8v2.3h-2.8zM202.4 402.3h2.8v2.3h-2.8zM207.2 402.3h2.8v2.3h-2.8zM216.9 402.3h12.4v2.3h-12.4zM236.2 402.3h2.8v2.3h-2.8zM86.5 404.3h14.8v2.3h-14.8zM103.4 404.3h5.2v2.3h-5.2zM110.6 404.3h2.8v2.3h-2.8zM132.4 404.3h5.2v2.3h-5.2zM171.0 404.3h2.8v2.3h-2.8zM180.7 404.3h5.2v2.3h-5.2zM190.3 404.3h5.2v2.3h-5.2zM200.0 404.3h12.4v2.3h-12.4zM214.5 404.3h5.2v2.3h-5.2zM221.7 404.3h10.0v2.3h-10.0zM88.9 406.3h10.0v2.3h-10.0zM101.0 406.3h7.6v2.3h-7.6zM125.1 406.3h2.8v2.3h-2.8zM146.9 406.3h5.2v2.3h-5.2zM163.8 406.3h2.8v2.3h-2.8zM168.6 406.3h2.8v2.3h-2.8zM178.3 406.3h12.4v2.3h-12.4zM192.7 406.3h2.8v2.3h-2.8zM197.6 406.3h10.0v2.3h-10.0zM209.7 406.3h2.8v2.3h-2.8zM214.5 406.3h5.2v2.3h-5.2zM221.7 406.3h2.8v2.3h-2.8zM226.6 406.3h2.8v2.3h-2.8zM231.4 406.3h5.2v2.3h-5.2zM86.5 408.2h2.8v2.3h-2.8zM91.3 408.2h5.2v2.3h-5.2zM98.6 408.2h2.8v2.3h-2.8zM105.8 408.2h2.8v2.3h-2.8zM110.6 408.2h2.8v2.3h-2.8zM120.3 408.2h2.8v2.3h-2.8zM130.0 408.2h2.8v2.3h-2.8zM149.3 408.2h2.8v2.3h-2.8zM161.3 408.2h5.2v2.3h-5.2zM168.6 408.2h2.8v2.3h-2.8zM178.3 408.2h10.0v2.3h-10.0zM195.2 408.2h2.8v2.3h-2.8zM200.0 408.2h5.2v2.3h-5.2zM207.2 408.2h22.1v2.3h-22.1zM233.8 408.2h2.8v2.3h-2.8zM86.5 410.2h10.0v2.3h-10.0zM103.4 410.2h2.8v2.3h-2.8zM108.2 410.2h2.8v2.3h-2.8zM122.7 410.2h2.8v2.3h-2.8zM134.8 410.2h2.8v2.3h-2.8zM161.3 410.2h7.6v2.3h-7.6zM171.0 410.2h22.1v2.3h-22.1zM197.6 410.2h10.0v2.3h-10.0zM209.7 410.2h2.8v2.3h-2.8zM214.5 410.2h19.7v2.3h-19.7zM86.5 412.2h7.6v2.3h-7.6zM98.6 412.2h7.6v2.3h-7.6zM161.3 412.2h5.2v2.3h-5.2zM168.6 412.2h7.6v2.3h-7.6zM178.3 412.2h2.8v2.3h-2.8zM185.5 412.2h5.2v2.3h-5.2zM192.7 412.2h5.2v2.3h-5.2zM207.2 412.2h7.6v2.3h-7.6zM216.9 412.2h14.8v2.3h-14.8zM86.5 414.2h17.3v2.3h-17.3zM105.8 414.2h7.6v2.3h-7.6zM115.5 414.2h7.6v2.3h-7.6zM146.9 414.2h2.8v2.3h-2.8zM154.1 414.2h2.8v2.3h-2.8zM168.6 414.2h7.6v2.3h-7.6zM178.3 414.2h2.8v2.3h-2.8zM185.5 414.2h5.2v2.3h-5.2zM195.2 414.2h7.6v2.3h-7.6zM204.8 414.2h10.0v2.3h-10.0zM219.3 414.2h12.4v2.3h-12.4zM86.5 416.2h22.1v2.3h-22.1zM120.3 416.2h2.8v2.3h-2.8zM125.1 416.2h2.8v2.3h-2.8zM149.3 416.2h2.8v2.3h-2.8zM166.2 416.2h2.8v2.3h-2.8zM171.0 416.2h12.4v2.3h-12.4zM185.5 416.2h5.2v2.3h-5.2zM192.7 416.2h5.2v2.3h-5.2zM200.0 416.2h7.6v2.3h-7.6zM209.7 416.2h22.1v2.3h-22.1zM84.1 418.2h22.1v2.3h-22.1zM154.1 418.2h2.8v2.3h-2.8zM163.8 418.2h14.8v2.3h-14.8zM180.7 418.2h7.6v2.3h-7.6zM190.3 418.2h39.0v2.3h-39.0zM84.1 420.2h26.9v2.3h-26.9zM130.0 420.2h5.2v2.3h-5.2zM161.3 420.2h7.6v2.3h-7.6zM171.0 420.2h19.7v2.3h-19.7zM192.7 420.2h7.6v2.3h-7.6zM202.4 420.2h24.5v2.3h-24.5zM84.1 422.2h7.6v2.3h-7.6zM98.6 422.2h12.4v2.3h-12.4zM154.1 422.2h2.8v2.3h-2.8zM166.2 422.2h2.8v2.3h-2.8zM173.4 422.2h5.2v2.3h-5.2zM183.1 422.2h7.6v2.3h-7.6zM192.7 422.2h2.8v2.3h-2.8zM197.6 422.2h14.8v2.3h-14.8zM84.1 424.2h29.3v2.3h-29.3zM117.9 424.2h7.6v2.3h-7.6zM142.0 424.2h2.8v2.3h-2.8zM173.4 424.2h2.8v2.3h-2.8zM178.3 424.2h12.4v2.3h-12.4zM195.2 424.2h12.4v2.3h-12.4zM84.1 426.2h10.0v2.3h-10.0zM96.1 426.2h14.8v2.3h-14.8zM113.1 426.2h2.8v2.3h-2.8zM117.9 426.2h2.8v2.3h-2.8zM142.0 426.2h2.8v2.3h-2.8zM166.2 426.2h14.8v2.3h-14.8zM183.1 426.2h5.2v2.3h-5.2zM190.3 426.2h12.4v2.3h-12.4zM84.1 428.2h26.9v2.3h-26.9zM166.2 428.2h5.2v2.3h-5.2zM173.4 428.2h2.8v2.3h-2.8zM178.3 428.2h2.8v2.3h-2.8zM183.1 428.2h2.8v2.3h-2.8zM190.3 428.2h7.6v2.3h-7.6zM84.1 430.2h5.2v2.3h-5.2zM91.3 430.2h24.5v2.3h-24.5zM117.9 430.2h5.2v2.3h-5.2zM163.8 430.2h5.2v2.3h-5.2zM171.0 430.2h2.8v2.3h-2.8zM187.9 430.2h10.0v2.3h-10.0zM84.1 432.2h31.7v2.3h-31.7zM171.0 432.2h2.8v2.3h-2.8zM187.9 432.2h2.8v2.3h-2.8zM81.7 434.2h22.1v2.3h-22.1zM105.8 434.2h10.0v2.3h-10.0zM130.0 434.2h2.8v2.3h-2.8zM137.2 434.2h2.8v2.3h-2.8zM144.4 434.2h2.8v2.3h-2.8zM166.2 434.2h5.2v2.3h-5.2zM173.4 434.2h2.8v2.3h-2.8zM190.3 434.2h2.8v2.3h-2.8zM81.7 436.2h26.9v2.3h-26.9zM110.6 436.2h7.6v2.3h-7.6zM122.7 436.2h5.2v2.3h-5.2zM137.2 436.2h5.2v2.3h-5.2zM151.7 436.2h2.8v2.3h-2.8zM156.5 436.2h2.8v2.3h-2.8zM161.3 436.2h5.2v2.3h-5.2zM171.0 436.2h2.8v2.3h-2.8zM175.8 436.2h2.8v2.3h-2.8zM187.9 436.2h2.8v2.3h-2.8zM79.2 438.2h36.6v2.3h-36.6zM117.9 438.2h2.8v2.3h-2.8zM122.7 438.2h2.8v2.3h-2.8zM132.4 438.2h2.8v2.3h-2.8zM139.6 438.2h5.2v2.3h-5.2zM161.3 438.2h34.2v2.3h-34.2zM79.2 440.2h2.8v2.3h-2.8zM84.1 440.2h34.2v2.3h-34.2zM120.3 440.2h5.2v2.3h-5.2zM134.8 440.2h5.2v2.3h-5.2zM151.7 440.2h5.2v2.3h-5.2zM158.9 440.2h12.4v2.3h-12.4zM173.4 440.2h5.2v2.3h-5.2zM183.1 440.2h2.8v2.3h-2.8zM187.9 440.2h5.2v2.3h-5.2zM79.2 442.2h7.6v2.3h-7.6zM88.9 442.2h39.0v2.3h-39.0zM132.4 442.2h2.8v2.3h-2.8zM139.6 442.2h5.2v2.3h-5.2zM163.8 442.2h7.6v2.3h-7.6zM173.4 442.2h7.6v2.3h-7.6zM183.1 442.2h2.8v2.3h-2.8zM187.9 442.2h5.2v2.3h-5.2zM79.2 444.2h39.0v2.3h-39.0zM120.3 444.2h12.4v2.3h-12.4zM137.2 444.2h7.6v2.3h-7.6zM163.8 444.2h19.7v2.3h-19.7zM187.9 444.2h2.8v2.3h-2.8zM79.2 446.2h7.6v2.3h-7.6zM88.9 446.2h2.8v2.3h-2.8zM93.7 446.2h2.8v2.3h-2.8zM98.6 446.2h36.6v2.3h-36.6zM137.2 446.2h5.2v2.3h-5.2zM144.4 446.2h2.8v2.3h-2.8zM161.3 446.2h24.5v2.3h-24.5zM187.9 446.2h2.8v2.3h-2.8zM79.2 448.2h5.2v2.3h-5.2zM86.5 448.2h5.2v2.3h-5.2zM93.7 448.2h2.8v2.3h-2.8zM98.6 448.2h43.8v2.3h-43.8zM144.4 448.2h2.8v2.3h-2.8zM149.3 448.2h2.8v2.3h-2.8zM161.3 448.2h14.8v2.3h-14.8zM178.3 448.2h5.2v2.3h-5.2zM79.2 450.2h10.0v2.3h-10.0zM91.3 450.2h2.8v2.3h-2.8zM98.6 450.2h10.0v2.3h-10.0zM110.6 450.2h19.7v2.3h-19.7zM132.4 450.2h5.2v2.3h-5.2zM139.6 450.2h5.2v2.3h-5.2zM146.9 450.2h12.4v2.3h-12.4zM161.3 450.2h5.2v2.3h-5.2zM168.6 450.2h7.6v2.3h-7.6zM178.3 450.2h7.6v2.3h-7.6zM79.2 452.2h24.5v2.3h-24.5zM105.8 452.2h24.5v2.3h-24.5zM132.4 452.2h36.6v2.3h-36.6zM171.0 452.2h12.4v2.3h-12.4zM79.2 454.2h10.0v2.3h-10.0zM91.3 454.2h7.6v2.3h-7.6zM101.0 454.2h5.2v2.3h-5.2zM108.2 454.2h29.3v2.3h-29.3zM139.6 454.2h43.8v2.3h-43.8zM79.2 456.2h10.0v2.3h-10.0zM91.3 456.2h70.4v2.3h-70.4zM163.8 456.2h12.4v2.3h-12.4zM79.2 458.2h14.8v2.3h-14.8zM96.1 458.2h68.0v2.3h-68.0zM166.2 458.2h10.0v2.3h-10.0zM76.8 460.2h51.1v2.3h-51.1zM130.0 460.2h31.7v2.3h-31.7zM163.8 460.2h10.0v2.3h-10.0zM79.2 462.2h22.1v2.3h-22.1zM103.4 462.2h41.4v2.3h-41.4zM146.9 462.2h12.4v2.3h-12.4zM161.3 462.2h12.4v2.3h-12.4zM79.2 464.2h53.5v2.3h-53.5zM134.8 464.2h5.2v2.3h-5.2zM142.0 464.2h29.3v2.3h-29.3zM74.4 466.2h2.8v2.3h-2.8zM81.7 466.2h12.4v2.3h-12.4zM96.1 466.2h22.1v2.3h-22.1zM120.3 466.2h48.6v2.3h-48.6zM74.4 468.2h17.3v2.3h-17.3zM93.7 468.2h26.9v2.3h-26.9zM122.7 468.2h26.9v2.3h-26.9zM151.7 468.2h5.2v2.3h-5.2zM158.9 468.2h5.2v2.3h-5.2zM74.4 470.2h5.2v2.3h-5.2zM81.7 470.2h48.7v2.3h-48.7zM132.4 470.2h22.1v2.3h-22.1zM81.7 472.2h2.8v2.3h-2.8zM86.5 472.2h68.0v2.3h-68.0zM72.0 474.2h5.2v2.3h-5.2zM81.7 474.2h19.7v2.3h-19.7zM103.4 474.2h7.6v2.3h-7.6zM115.5 474.2h39.0v2.3h-39.0z"/>
<path fill="#ffffff" d="M72.0 280.4h2.8v2.3h-2.8zM81.7 284.4h2.8v2.3h-2.8zM125.1 284.4h2.8v2.3h-2.8zM86.5 286.4h2.8v2.3h-2.8zM108.2 286.4h2.8v2.3h-2.8zM40.6 288.4h2.8v2.3h-2.8zM30.9 290.4h2.8v2.3h-2.8zM38.2 290.4h2.8v2.3h-2.8zM67.2 290.4h2.8v2.3h-2.8zM74.4 290.4h2.8v2.3h-2.8zM26.1 292.4h2.8v2.3h-2.8zM47.8 292.4h7.6v2.3h-7.6zM59.9 292.4h5.2v2.3h-5.2zM69.6 292.4h2.8v2.3h-2.8zM132.4 292.4h2.8v2.3h-2.8zM26.1 294.4h2.8v2.3h-2.8zM30.9 294.4h2.8v2.3h-2.8zM40.6 294.4h2.8v2.3h-2.8zM84.1 294.4h2.8v2.3h-2.8zM130.0 294.4h5.2v2.3h-5.2zM64.8 296.4h5.2v2.3h-5.2zM79.2 296.4h2.8v2.3h-2.8zM93.7 296.4h2.8v2.3h-2.8zM101.0 296.4h2.8v2.3h-2.8zM115.5 296.4h2.8v2.3h-2.8zM120.3 296.4h5.2v2.3h-5.2zM130.0 296.4h5.2v2.3h-5.2zM142.0 296.4h2.8v2.3h-2.8zM96.1 298.4h2.8v2.3h-2.8zM117.9 298.4h2.8v2.3h-2.8zM91.3 300.4h2.8v2.3h-2.8zM120.3 300.4h2.8v2.3h-2.8zM79.2 302.4h2.8v2.3h-2.8zM96.1 302.4h2.8v2.3h-2.8zM120.3 302.4h2.8v2.3h-2.8zM130.0 302.4h7.6v2.3h-7.6zM52.7 304.4h2.8v2.3h-2.8zM69.6 304.4h2.8v2.3h-2.8zM84.1 304.4h2.8v2.3h-2.8zM120.3 304.4h2.8v2.3h-2.8zM142.0 304.4h5.2v2.3h-5.2zM149.3 304.4h2.8v2.3h-2.8zM154.1 304.4h2.8v2.3h-2.8zM158.9 304.4h2.8v2.3h-2.8zM113.1 306.4h2.8v2.3h-2.8zM134.8 306.4h2.8v2.3h-2.8zM161.3 306.4h5.2v2.3h-5.2zM173.4 306.4h2.8v2.3h-2.8zM57.5 308.4h2.8v2.3h-2.8zM168.6 308.4h2.8v2.3h-2.8zM173.4 308.4h2.8v2.3h-2.8zM52.7 310.4h2.8v2.3h-2.8zM156.5 310.4h2.8v2.3h-2.8zM180.7 310.4h2.8v2.3h-2.8zM50.3 312.4h2.8v2.3h-2.8zM57.5 312.4h2.8v2.3h-2.8zM72.0 312.4h2.8v2.3h-2.8zM76.8 312.4h5.2v2.3h-5.2zM115.5 312.4h2.8v2.3h-2.8zM156.5 312.4h2.8v2.3h-2.8zM168.6 312.4h2.8v2.3h-2.8zM178.3 312.4h5.2v2.3h-5.2zM161.3 314.4h2.8v2.3h-2.8zM55.1 316.4h2.8v2.3h-2.8zM59.9 316.4h2.8v2.3h-2.8zM88.9 316.4h2.8v2.3h-2.8zM139.6 316.4h2.8v2.3h-2.8zM168.6 316.4h2.8v2.3h-2.8zM180.7 316.4h2.8v2.3h-2.8zM45.4 318.4h2.8v2.3h-2.8zM139.6 318.4h2.8v2.3h-2.8zM180.7 318.4h2.8v2.3h-2.8zM57.5 320.4h2.8v2.3h-2.8zM86.5 320.4h2.8v2.3h-2.8zM93.7 320.4h2.8v2.3h-2.8zM105.8 320.4h2.8v2.3h-2.8zM120.3 320.4h2.8v2.3h-2.8zM144.4 320.4h5.2v2.3h-5.2zM57.5 322.4h2.8v2.3h-2.8zM149.3 322.4h2.8v2.3h-2.8zM168.6 322.4h2.8v2.3h-2.8zM183.1 322.4h2.8v2.3h-2.8zM69.6 324.4h2.8v2.3h-2.8zM113.1 324.4h2.8v2.3h-2.8zM139.6 324.4h2.8v2.3h-2.8zM175.8 324.4h2.8v2.3h-2.8zM38.2 326.4h2.8v2.3h-2.8zM43.0 326.4h5.2v2.3h-5.2zM55.1 326.4h2.8v2.3h-2.8zM76.8 326.4h2.8v2.3h-2.8zM110.6 326.4h5.2v2.3h-5.2zM35.8 328.3h2.8v2.3h-2.8zM40.6 328.3h5.2v2.3h-5.2zM50.3 328.3h2.8v2.3h-2.8zM55.1 328.3h2.8v2.3h-2.8zM62.3 328.3h2.8v2.3h-2.8zM105.8 328.3h5.2v2.3h-5.2zM115.5 328.3h2.8v2.3h-2.8zM132.4 328.3h2.8v2.3h-2.8zM166.2 328.3h2.8v2.3h-2.8zM183.1 328.3h5.2v2.3h-5.2zM47.8 330.3h2.8v2.3h-2.8zM57.5 330.3h2.8v2.3h-2.8zM62.3 330.3h2.8v2.3h-2.8zM88.9 330.3h5.2v2.3h-5.2zM96.1 330.3h2.8v2.3h-2.8zM113.1 330.3h2.8v2.3h-2.8zM125.1 330.3h2.8v2.3h-2.8zM130.0 330.3h2.8v2.3h-2.8zM137.2 330.3h2.8v2.3h-2.8zM149.3 330.3h2.8v2.3h-2.8zM171.0 330.3h2.8v2.3h-2.8zM185.5 330.3h2.8v2.3h-2.8zM43.0 332.3h2.8v2.3h-2.8zM47.8 332.3h2.8v2.3h-2.8zM55.1 332.3h2.8v2.3h-2.8zM81.7 332.3h10.0v2.3h-10.0zM108.2 332.3h2.8v2.3h-2.8zM154.1 332.3h2.8v2.3h-2.8zM163.8 332.3h2.8v2.3h-2.8zM38.2 334.3h2.8v2.3h-2.8zM45.4 334.3h2.8v2.3h-2.8zM64.8 334.3h2.8v2.3h-2.8zM84.1 334.3h5.2v2.3h-5.2zM110.6 334.3h2.8v2.3h-2.8zM117.9 334.3h2.8v2.3h-2.8zM132.4 334.3h2.8v2.3h-2.8zM137.2 334.3h5.2v2.3h-5.2zM146.9 334.3h5.2v2.3h-5.2zM163.8 334.3h2.8v2.3h-2.8zM209.7 334.3h2.8v2.3h-2.8zM40.6 336.3h2.8v2.3h-2.8zM88.9 336.3h2.8v2.3h-2.8zM93.7 336.3h2.8v2.3h-2.8zM98.6 336.3h2.8v2.3h-2.8zM103.4 336.3h2.8v2.3h-2.8zM110.6 336.3h2.8v2.3h-2.8zM125.1 336.3h2.8v2.3h-2.8zM158.9 336.3h2.8v2.3h-2.8zM207.2 336.3h2.8v2.3h-2.8zM219.3 336.3h2.8v2.3h-2.8zM57.5 338.3h2.8v2.3h-2.8zM93.7 338.3h2.8v2.3h-2.8zM98.6 338.3h2.8v2.3h-2.8zM224.1 338.3h10.0v2.3h-10.0zM40.6 340.3h2.8v2.3h-2.8zM45.4 340.3h2.8v2.3h-2.8zM52.7 340.3h2.8v2.3h-2.8zM67.2 340.3h2.8v2.3h-2.8zM72.0 340.3h2.8v2.3h-2.8zM86.5 340.3h2.8v2.3h-2.8zM91.3 340.3h2.8v2.3h-2.8zM125.1 340.3h2.8v2.3h-2.8zM137.2 340.3h2.8v2.3h-2.8zM144.4 340.3h5.2v2.3h-5.2zM202.4 340.3h2.8v2.3h-2.8zM212.1 340.3h2.8v2.3h-2.8zM216.9 340.3h2.8v2.3h-2.8zM221.7 340.3h2.8v2.3h-2.8zM231.4 340.3h5.2v2.3h-5.2zM241.0 340.3h2.8v2.3h-2.8zM40.6 342.3h5.2v2.3h-5.2zM55.1 342.3h2.8v2.3h-2.8zM64.8 342.3h2.8v2.3h-2.8zM74.4 342.3h2.8v2.3h-2.8zM88.9 342.3h2.8v2.3h-2.8zM101.0 342.3h2.8v2.3h-2.8zM110.6 342.3h5.2v2.3h-5.2zM120.3 342.3h2.8v2.3h-2.8zM142.0 342.3h2.8v2.3h-2.8zM190.3 342.3h2.8v2.3h-2.8zM212.1 342.3h2.8v2.3h-2.8zM221.7 342.3h2.8v2.3h-2.8zM233.8 342.3h12.4v2.3h-12.4zM38.2 344.3h2.8v2.3h-2.8zM64.8 344.3h2.8v2.3h-2.8zM76.8 344.3h5.2v2.3h-5.2zM93.7 344.3h2.8v2.3h-2.8zM117.9 344.3h2.8v2.3h-2.8zM125.1 344.3h2.8v2.3h-2.8zM144.4 344.3h2.8v2.3h-2.8zM224.1 344.3h2.8v2.3h-2.8zM233.8 344.3h2.8v2.3h-2.8zM238.6 344.3h2.8v2.3h-2.8zM243.5 344.3h5.2v2.3h-5.2zM74.4 346.3h2.8v2.3h-2.8zM91.3 346.3h2.8v2.3h-2.8zM120.3 346.3h2.8v2.3h-2.8zM137.2 346.3h2.8v2.3h-2.8zM173.4 346.3h5.2v2.3h-5.2zM190.3 346.3h2.8v2.3h-2.8zM207.2 346.3h2.8v2.3h-2.8zM229.0 346.3h10.0v2.3h-10.0zM243.5 346.3h7.6v2.3h-7.6zM55.1 348.3h2.8v2.3h-2.8zM81.7 348.3h2.8v2.3h-2.8zM110.6 348.3h2.8v2.3h-2.8zM122.7 348.3h2.8v2.3h-2.8zM139.6 348.3h2.8v2.3h-2.8zM163.8 348.3h2.8v2.3h-2.8zM183.1 348.3h2.8v2.3h-2.8zM224.1 348.3h2.8v2.3h-2.8zM231.4 348.3h2.8v2.3h-2.8zM236.2 348.3h2.8v2.3h-2.8zM241.0 348.3h2.8v2.3h-2.8zM250.7 348.3h7.6v2.3h-7.6zM45.4 350.3h2.8v2.3h-2.8zM67.2 350.3h10.0v2.3h-10.0zM81.7 350.3h2.8v2.3h-2.8zM86.5 350.3h2.8v2.3h-2.8zM98.6 350.3h2.8v2.3h-2.8zM103.4 350.3h2.8v2.3h-2.8zM108.2 350.3h5.2v2.3h-5.2zM120.3 350.3h2.8v2.3h-2.8zM127.5 350.3h2.8v2.3h-2.8zM134.8 350.3h2.8v2.3h-2.8zM156.5 350.3h2.8v2.3h-2.8zM171.0 350.3h2.8v2.3h-2.8zM229.0 350.3h2.8v2.3h-2.8zM233.8 350.3h2.8v2.3h-2.8zM248.3 350.3h2.8v2.3h-2.8zM253.1 350.3h7.6v2.3h-7.6zM38.2 352.3h2.8v2.3h-2.8zM76.8 352.3h2.8v2.3h-2.8zM81.7 352.3h2.8v2.3h-2.8zM91.3 352.3h2.8v2.3h-2.8zM96.1 352.3h2.8v2.3h-2.8zM110.6 352.3h2.8v2.3h-2.8zM120.3 352.3h5.2v2.3h-5.2zM130.0 352.3h2.8v2.3h-2.8zM134.8 352.3h2.8v2.3h-2.8zM154.1 352.3h2.8v2.3h-2.8zM173.4 352.3h2.8v2.3h-2.8zM224.1 352.3h7.6v2.3h-7.6zM236.2 352.3h5.2v2.3h-5.2zM245.9 352.3h10.0v2.3h-10.0zM257.9 352.3h2.8v2.3h-2.8zM47.8 354.3h2.8v2.3h-2.8zM67.2 354.3h2.8v2.3h-2.8zM76.8 354.3h2.8v2.3h-2.8zM96.1 354.3h2.8v2.3h-2.8zM101.0 354.3h7.6v2.3h-7.6zM125.1 354.3h2.8v2.3h-2.8zM146.9 354.3h2.8v2.3h-2.8zM151.7 354.3h5.2v2.3h-5.2zM163.8 354.3h2.8v2.3h-2.8zM219.3 354.3h2.8v2.3h-2.8zM224.1 354.3h2.8v2.3h-2.8zM233.8 354.3h7.6v2.3h-7.6zM243.5 354.3h14.8v2.3h-14.8zM47.8 356.3h2.8v2.3h-2.8zM98.6 356.3h2.8v2.3h-2.8zM103.4 356.3h12.4v2.3h-12.4zM117.9 356.3h2.8v2.3h-2.8zM151.7 356.3h5.2v2.3h-5.2zM161.3 356.3h2.8v2.3h-2.8zM168.6 356.3h7.6v2.3h-7.6zM185.5 356.3h5.2v2.3h-5.2zM224.1 356.3h2.8v2.3h-2.8zM229.0 356.3h10.0v2.3h-10.0zM243.5 356.3h17.3v2.3h-17.3zM47.8 358.3h2.8v2.3h-2.8zM62.3 358.3h2.8v2.3h-2.8zM74.4 358.3h2.8v2.3h-2.8zM88.9 358.3h2.8v2.3h-2.8zM101.0 358.3h10.0v2.3h-10.0zM113.1 358.3h2.8v2.3h-2.8zM130.0 358.3h2.8v2.3h-2.8zM137.2 358.3h2.8v2.3h-2.8zM146.9 358.3h2.8v2.3h-2.8zM171.0 358.3h2.8v2.3h-2.8zM183.1 358.3h2.8v2.3h-2.8zM187.9 358.3h2.8v2.3h-2.8zM197.6 358.3h2.8v2.3h-2.8zM212.1 358.3h2.8v2.3h-2.8zM221.7 358.3h2.8v2.3h-2.8zM231.4 358.3h2.8v2.3h-2.8zM236.2 358.3h2.8v2.3h-2.8zM241.0 358.3h7.6v2.3h-7.6zM253.1 358.3h7.6v2.3h-7.6zM47.8 360.3h5.2v2.3h-5.2zM110.6 360.3h2.8v2.3h-2.8zM132.4 360.3h2.8v2.3h-2.8zM154.1 360.3h2.8v2.3h-2.8zM163.8 360.3h10.0v2.3h-10.0zM178.3 360.3h2.8v2.3h-2.8zM183.1 360.3h2.8v2.3h-2.8zM190.3 360.3h5.2v2.3h-5.2zM207.2 360.3h2.8v2.3h-2.8zM221.7 360.3h2.8v2.3h-2.8zM233.8 360.3h5.2v2.3h-5.2zM241.0 360.3h7.6v2.3h-7.6zM253.1 360.3h7.6v2.3h-7.6zM47.8 362.3h7.6v2.3h-7.6zM62.3 362.3h2.8v2.3h-2.8zM72.0 362.3h2.8v2.3h-2.8zM79.2 362.3h2.8v2.3h-2.8zM86.5 362.3h2.8v2.3h-2.8zM139.6 362.3h2.8v2.3h-2.8zM149.3 362.3h5.2v2.3h-5.2zM163.8 362.3h10.0v2.3h-10.0zM187.9 362.3h2.8v2.3h-2.8zM231.4 362.3h5.2v2.3h-5.2zM238.6 362.3h7.6v2.3h-7.6zM253.1 362.3h5.2v2.3h-5.2zM50.3 364.3h5.2v2.3h-5.2zM171.0 364.3h2.8v2.3h-2.8zM187.9 364.3h5.2v2.3h-5.2zM200.0 364.3h2.8v2.3h-2.8zM229.0 364.3h19.7v2.3h-19.7zM250.7 364.3h2.8v2.3h-2.8zM257.9 364.3h2.8v2.3h-2.8zM50.3 366.3h2.8v2.3h-2.8zM74.4 366.3h5.2v2.3h-5.2zM105.8 366.3h2.8v2.3h-2.8zM144.4 366.3h2.8v2.3h-2.8zM171.0 366.3h2.8v2.3h-2.8zM190.3 366.3h5.2v2.3h-5.2zM197.6 366.3h7.6v2.3h-7.6zM229.0 366.3h5.2v2.3h-5.2zM241.0 366.3h2.8v2.3h-2.8zM248.3 366.3h5.2v2.3h-5.2zM255.5 366.3h2.8v2.3h-2.8zM47.8 368.3h10.0v2.3h-10.0zM76.8 368.3h2.8v2.3h-2.8zM84.1 368.3h2.8v2.3h-2.8zM204.8 368.3h2.8v2.3h-2.8zM212.1 368.3h2.8v2.3h-2.8zM231.4 368.3h2.8v2.3h-2.8zM241.0 368.3h10.0v2.3h-10.0zM253.1 368.3h2.8v2.3h-2.8zM50.3 370.3h7.6v2.3h-7.6zM84.1 370.3h2.8v2.3h-2.8zM88.9 370.3h2.8v2.3h-2.8zM125.1 370.3h2.8v2.3h-2.8zM144.4 370.3h2.8v2.3h-2.8zM168.6 370.3h2.8v2.3h-2.8zM185.5 370.3h2.8v2.3h-2.8zM200.0 370.3h5.2v2.3h-5.2zM212.1 370.3h7.6v2.3h-7.6zM221.7 370.3h7.6v2.3h-7.6zM236.2 370.3h17.3v2.3h-17.3zM50.3 372.3h12.4v2.3h-12.4zM79.2 372.3h5.2v2.3h-5.2zM120.3 372.3h2.8v2.3h-2.8zM130.0 372.3h2.8v2.3h-2.8zM158.9 372.3h2.8v2.3h-2.8zM175.8 372.3h2.8v2.3h-2.8zM185.5 372.3h2.8v2.3h-2.8zM202.4 372.3h7.6v2.3h-7.6zM224.1 372.3h2.8v2.3h-2.8zM229.0 372.3h5.2v2.3h-5.2zM241.0 372.3h5.2v2.3h-5.2zM248.3 372.3h2.8v2.3h-2.8zM50.3 374.3h14.8v2.3h-14.8zM76.8 374.3h12.4v2.3h-12.4zM120.3 374.3h2.8v2.3h-2.8zM125.1 374.3h2.8v2.3h-2.8zM134.8 374.3h2.8v2.3h-2.8zM175.8 374.3h2.8v2.3h-2.8zM183.1 374.3h2.8v2.3h-2.8zM187.9 374.3h5.2v2.3h-5.2zM204.8 374.3h2.8v2.3h-2.8zM209.7 374.3h2.8v2.3h-2.8zM214.5 374.3h2.8v2.3h-2.8zM219.3 374.3h5.2v2.3h-5.2zM231.4 374.3h5.2v2.3h-5.2zM241.0 374.3h7.6v2.3h-7.6zM52.7 376.3h12.4v2.3h-12.4zM67.2 376.3h5.2v2.3h-5.2zM76.8 376.3h7.6v2.3h-7.6zM101.0 376.3h2.8v2.3h-2.8zM122.7 376.3h2.8v2.3h-2.8zM132.4 376.3h2.8v2.3h-2.8zM154.1 376.3h2.8v2.3h-2.8zM202.4 376.3h2.8v2.3h-2.8zM221.7 376.3h2.8v2.3h-2.8zM226.6 376.3h5.2v2.3h-5.2zM233.8 376.3h2.8v2.3h-2.8zM241.0 376.3h7.6v2.3h-7.6zM52.7 378.3h2.8v2.3h-2.8zM67.2 378.3h5.2v2.3h-5.2zM76.8 378.3h5.2v2.3h-5.2zM88.9 378.3h2.8v2.3h-2.8zM93.7 378.3h2.8v2.3h-2.8zM127.5 378.3h2.8v2.3h-2.8zM163.8 378.3h2.8v2.3h-2.8zM173.4 378.3h5.2v2.3h-5.2zM180.7 378.3h5.2v2.3h-5.2zM187.9 378.3h2.8v2.3h-2.8zM200.0 378.3h2.8v2.3h-2.8zM207.2 378.3h2.8v2.3h-2.8zM216.9 378.3h5.2v2.3h-5.2zM226.6 378.3h2.8v2.3h-2.8zM241.0 378.3h2.8v2.3h-2.8zM125.1 380.3h2.8v2.3h-2.8zM134.8 380.3h2.8v2.3h-2.8zM139.6 380.3h2.8v2.3h-2.8zM144.4 380.3h5.2v2.3h-5.2zM183.1 380.3h2.8v2.3h-2.8zM202.4 380.3h7.6v2.3h-7.6zM224.1 380.3h5.2v2.3h-5.2zM238.6 380.3h5.2v2.3h-5.2zM93.7 382.3h2.8v2.3h-2.8zM146.9 382.3h2.8v2.3h-2.8zM161.3 382.3h2.8v2.3h-2.8zM168.6 382.3h5.2v2.3h-5.2zM180.7 382.3h2.8v2.3h-2.8zM190.3 382.3h2.8v2.3h-2.8zM197.6 382.3h2.8v2.3h-2.8zM207.2 382.3h5.2v2.3h-5.2zM219.3 382.3h2.8v2.3h-2.8zM224.1 382.3h7.6v2.3h-7.6zM236.2 382.3h5.2v2.3h-5.2zM59.9 384.3h2.8v2.3h-2.8zM91.3 384.3h2.8v2.3h-2.8zM142.0 384.3h5.2v2.3h-5.2zM161.3 384.3h2.8v2.3h-2.8zM166.2 384.3h2.8v2.3h-2.8zM171.0 384.3h5.2v2.3h-5.2zM178.3 384.3h2.8v2.3h-2.8zM195.2 384.3h2.8v2.3h-2.8zM219.3 384.3h2.8v2.3h-2.8zM224.1 384.3h5.2v2.3h-5.2zM233.8 384.3h5.2v2.3h-5.2zM79.2 386.3h2.8v2.3h-2.8zM84.1 386.3h2.8v2.3h-2.8zM134.8 386.3h2.8v2.3h-2.8zM146.9 386.3h2.8v2.3h-2.8zM151.7 386.3h2.8v2.3h-2.8zM161.3 386.3h5.2v2.3h-5.2zM168.6 386.3h5.2v2.3h-5.2zM178.3 386.3h2.8v2.3h-2.8zM187.9 386.3h2.8v2.3h-2.8zM202.4 386.3h10.0v2.3h-10.0zM221.7 386.3h2.8v2.3h-2.8zM226.6 386.3h14.8v2.3h-14.8zM81.7 388.3h2.8v2.3h-2.8zM88.9 388.3h2.8v2.3h-2.8zM163.8 388.3h2.8v2.3h-2.8zM168.6 388.3h2.8v2.3h-2.8zM178.3 388.3h2.8v2.3h-2.8zM192.7 388.3h2.8v2.3h-2.8zM200.0 388.3h2.8v2.3h-2.8zM207.2 388.3h7.6v2.3h-7.6zM233.8 388.3h7.6v2.3h-7.6zM84.1 390.3h2.8v2.3h-2.8zM158.9 390.3h2.8v2.3h-2.8zM166.2 390.3h7.6v2.3h-7.6zM175.8 390.3h5.2v2.3h-5.2zM183.1 390.3h5.2v2.3h-5.2zM197.6 390.3h5.2v2.3h-5.2zM204.8 390.3h7.6v2.3h-7.6zM226.6 390.3h2.8v2.3h-2.8zM233.8 390.3h7.6v2.3h-7.6zM64.8 392.3h2.8v2.3h-2.8zM151.7 392.3h2.8v2.3h-2.8zM163.8 392.3h5.2v2.3h-5.2zM171.0 392.3h2.8v2.3h-2.8zM185.5 392.3h5.2v2.3h-5.2zM197.6 392.3h5.2v2.3h-5.2zM207.2 392.3h5.2v2.3h-5.2zM214.5 392.3h2.8v2.3h-2.8zM221.7 392.3h5.2v2.3h-5.2zM238.6 392.3h2.8v2.3h-2.8zM76.8 394.3h2.8v2.3h-2.8zM86.5 394.3h2.8v2.3h-2.8zM187.9 394.3h2.8v2.3h-2.8zM197.6 394.3h2.8v2.3h-2.8zM204.8 394.3h7.6v2.3h-7.6zM214.5 394.3h2.8v2.3h-2.8zM219.3 394.3h2.8v2.3h-2.8zM231.4 394.3h2.8v2.3h-2.8zM79.2 396.3h5.2v2.3h-5.2zM88.9 396.3h2.8v2.3h-2.8zM158.9 396.3h2.8v2.3h-2.8zM173.4 396.3h2.8v2.3h-2.8zM180.7 396.3h2.8v2.3h-2.8zM187.9 396.3h2.8v2.3h-2.8zM207.2 396.3h2.8v2.3h-2.8zM216.9 396.3h7.6v2.3h-7.6zM226.6 396.3h2.8v2.3h-2.8zM88.9 398.3h2.8v2.3h-2.8zM93.7 398.3h2.8v2.3h-2.8zM101.0 398.3h2.8v2.3h-2.8zM144.4 398.3h5.2v2.3h-5.2zM171.0 398.3h2.8v2.3h-2.8zM180.7 398.3h7.6v2.3h-7.6zM190.3 398.3h2.8v2.3h-2.8zM197.6 398.3h2.8v2.3h-2.8zM209.7 398.3h2.8v2.3h-2.8zM214.5 398.3h2.8v2.3h-2.8zM226.6 398.3h5.2v2.3h-5.2zM86.5 400.3h5.2v2.3h-5.2zM146.9 400.3h2.8v2.3h-2.8zM151.7 400.3h2.8v2.3h-2.8zM161.3 400.3h2.8v2.3h-2.8zM171.0 400.3h2.8v2.3h-2.8zM175.8 400.3h2.8v2.3h-2.8zM180.7 400.3h7.6v2.3h-7.6zM190.3 400.3h2.8v2.3h-2.8zM195.2 400.3h2.8v2.3h-2.8zM202.4 400.3h5.2v2.3h-5.2zM214.5 400.3h2.8v2.3h-2.8zM224.1 400.3h5.2v2.3h-5.2zM231.4 400.3h5.2v2.3h-5.2zM103.4 402.3h2.8v2.3h-2.8zM113.1 402.3h2.8v2.3h-2.8zM120.3 402.3h5.2v2.3h-5.2zM127.5 402.3h2.8v2.3h-2.8zM137.2 402.3h2.8v2.3h-2.8zM158.9 402.3h2.8v2.3h-2.8zM173.4 402.3h10.0v2.3h-10.0zM187.9 402.3h2.8v2.3h-2.8zM192.7 402.3h2.8v2.3h-2.8zM197.6 402.3h5.2v2.3h-5.2zM209.7 402.3h7.6v2.3h-7.6zM231.4 402.3h5.2v2.3h-5.2zM101.0 404.3h2.8v2.3h-2.8zM108.2 404.3h2.8v2.3h-2.8zM113.1 404.3h12.4v2.3h-12.4zM127.5 404.3h5.2v2.3h-5.2zM149.3 404.3h2.8v2.3h-2.8zM158.9 404.3h2.8v2.3h-2.8zM168.6 404.3h2.8v2.3h-2.8zM173.4 404.3h7.6v2.3h-7.6zM185.5 404.3h5.2v2.3h-5.2zM195.2 404.3h5.2v2.3h-5.2zM212.1 404.3h2.8v2.3h-2.8zM219.3 404.3h2.8v2.3h-2.8zM231.4 404.3h5.2v2.3h-5.2zM86.5 406.3h2.8v2.3h-2.8zM98.6 406.3h2.8v2.3h-2.8zM108.2 406.3h7.6v2.3h-7.6zM120.3 406.3h2.8v2.3h-2.8zM156.5 406.3h7.6v2.3h-7.6zM166.2 406.3h2.8v2.3h-2.8zM171.0 406.3h7.6v2.3h-7.6zM190.3 406.3h2.8v2.3h-2.8zM195.2 406.3h2.8v2.3h-2.8zM207.2 406.3h2.8v2.3h-2.8zM212.1 406.3h2.8v2.3h-2.8zM219.3 406.3h2.8v2.3h-2.8zM224.1 406.3h2.8v2.3h-2.8zM229.0 406.3h2.8v2.3h-2.8zM88.9 408.2h2.8v2.3h-2.8zM96.1 408.2h2.8v2.3h-2.8zM101.0 408.2h5.2v2.3h-5.2zM108.2 408.2h2.8v2.3h-2.8zM113.1 408.2h2.8v2.3h-2.8zM132.4 408.2h2.8v2.3h-2.8zM137.2 408.2h2.8v2.3h-2.8zM154.1 408.2h2.8v2.3h-2.8zM158.9 408.2h2.8v2.3h-2.8zM166.2 408.2h2.8v2.3h-2.8zM171.0 408.2h7.6v2.3h-7.6zM187.9 408.2h5.2v2.3h-5.2zM197.6 408.2h2.8v2.3h-2.8zM204.8 408.2h2.8v2.3h-2.8zM229.0 408.2h5.2v2.3h-5.2zM96.1 410.2h7.6v2.3h-7.6zM105.8 410.2h2.8v2.3h-2.8zM110.6 410.2h5.2v2.3h-5.2zM117.9 410.2h5.2v2.3h-5.2zM125.1 410.2h2.8v2.3h-2.8zM142.0 410.2h7.6v2.3h-7.6zM154.1 410.2h7.6v2.3h-7.6zM168.6 410.2h2.8v2.3h-2.8zM192.7 410.2h5.2v2.3h-5.2zM207.2 410.2h2.8v2.3h-2.8zM212.1 410.2h2.8v2.3h-2.8zM93.7 412.2h5.2v2.3h-5.2zM105.8 412.2h10.0v2.3h-10.0zM117.9 412.2h7.6v2.3h-7.6zM130.0 412.2h2.8v2.3h-2.8zM151.7 412.2h2.8v2.3h-2.8zM156.5 412.2h2.8v2.3h-2.8zM166.2 412.2h2.8v2.3h-2.8zM175.8 412.2h2.8v2.3h-2.8zM180.7 412.2h5.2v2.3h-5.2zM190.3 412.2h2.8v2.3h-2.8zM197.6 412.2h2.8v2.3h-2.8zM202.4 412.2h5.2v2.3h-5.2zM214.5 412.2h2.8v2.3h-2.8zM231.4 412.2h2.8v2.3h-2.8zM103.4 414.2h2.8v2.3h-2.8zM113.1 414.2h2.8v2.3h-2.8zM122.7 414.2h2.8v2.3h-2.8zM163.8 414.2h5.2v2.3h-5.2zM175.8 414.2h2.8v2.3h-2.8zM180.7 414.2h5.2v2.3h-5.2zM190.3 414.2h5.2v2.3h-5.2zM202.4 414.2h2.8v2.3h-2.8zM214.5 414.2h5.2v2.3h-5.2zM108.2 416.2h5.2v2.3h-5.2zM115.5 416.2h2.8v2.3h-2.8zM122.7 416.2h2.8v2.3h-2.8zM168.6 416.2h2.8v2.3h-2.8zM183.1 416.2h2.8v2.3h-2.8zM197.6 416.2h2.8v2.3h-2.8zM207.2 416.2h2.8v2.3h-2.8zM105.8 418.2h10.0v2.3h-10.0zM137.2 418.2h2.8v2.3h-2.8zM178.3 418.2h2.8v2.3h-2.8zM187.9 418.2h2.8v2.3h-2.8zM110.6 420.2h5.2v2.3h-5.2zM127.5 420.2h2.8v2.3h-2.8zM137.2 420.2h2.8v2.3h-2.8zM168.6 420.2h2.8v2.3h-2.8zM190.3 420.2h2.8v2.3h-2.8zM200.0 420.2h2.8v2.3h-2.8zM91.3 422.2h7.6v2.3h-7.6zM110.6 422.2h2.8v2.3h-2.8zM125.1 422.2h7.6v2.3h-7.6zM149.3 422.2h2.8v2.3h-2.8zM163.8 422.2h2.8v2.3h-2.8zM168.6 422.2h5.2v2.3h-5.2zM178.3 422.2h5.2v2.3h-5.2zM190.3 422.2h2.8v2.3h-2.8zM195.2 422.2h2.8v2.3h-2.8zM113.1 424.2h5.2v2.3h-5.2zM132.4 424.2h2.8v2.3h-2.8zM154.1 424.2h2.8v2.3h-2.8zM161.3 424.2h12.4v2.3h-12.4zM190.3 424.2h2.8v2.3h-2.8zM93.7 426.2h2.8v2.3h-2.8zM110.6 426.2h2.8v2.3h-2.8zM132.4 426.2h2.8v2.3h-2.8zM161.3 426.2h5.2v2.3h-5.2zM187.9 426.2h2.8v2.3h-2.8zM110.6 428.2h2.8v2.3h-2.8zM115.5 428.2h2.8v2.3h-2.8zM142.0 428.2h2.8v2.3h-2.8zM88.9 430.2h2.8v2.3h-2.8zM139.6 430.2h2.8v2.3h-2.8zM115.5 432.2h2.8v2.3h-2.8zM134.8 432.2h5.2v2.3h-5.2zM144.4 432.2h2.8v2.3h-2.8zM163.8 432.2h5.2v2.3h-5.2zM103.4 434.2h2.8v2.3h-2.8zM132.4 434.2h5.2v2.3h-5.2zM139.6 434.2h2.8v2.3h-2.8zM108.2 436.2h2.8v2.3h-2.8zM134.8 436.2h2.8v2.3h-2.8zM142.0 436.2h5.2v2.3h-5.2zM158.9 436.2h2.8v2.3h-2.8zM115.5 438.2h2.8v2.3h-2.8zM137.2 438.2h2.8v2.3h-2.8zM149.3 438.2h12.4v2.3h-12.4zM81.7 440.2h2.8v2.3h-2.8zM117.9 440.2h2.8v2.3h-2.8zM139.6 440.2h2.8v2.3h-2.8zM144.4 440.2h2.8v2.3h-2.8zM149.3 440.2h2.8v2.3h-2.8zM180.7 440.2h2.8v2.3h-2.8zM185.5 440.2h2.8v2.3h-2.8zM86.5 442.2h2.8v2.3h-2.8zM134.8 442.2h2.8v2.3h-2.8zM144.4 442.2h2.8v2.3h-2.8zM158.9 442.2h5.2v2.3h-5.2zM185.5 442.2h2.8v2.3h-2.8zM132.4 444.2h5.2v2.3h-5.2zM149.3 444.2h2.8v2.3h-2.8zM158.9 444.2h5.2v2.3h-5.2zM185.5 444.2h2.8v2.3h-2.8zM86.5 446.2h2.8v2.3h-2.8zM91.3 446.2h2.8v2.3h-2.8zM96.1 446.2h2.8v2.3h-2.8zM134.8 446.2h2.8v2.3h-2.8zM142.0 446.2h2.8v2.3h-2.8zM154.1 446.2h7.6v2.3h-7.6zM185.5 446.2h2.8v2.3h-2.8zM84.1 448.2h2.8v2.3h-2.8zM91.3 448.2h2.8v2.3h-2.8zM96.1 448.2h2.8v2.3h-2.8zM142.0 448.2h2.8v2.3h-2.8zM146.9 448.2h2.8v2.3h-2.8zM151.7 448.2h10.0v2.3h-10.0zM185.5 448.2h2.8v2.3h-2.8zM88.9 450.2h2.8v2.3h-2.8zM93.7 450.2h5.2v2.3h-5.2zM108.2 450.2h2.8v2.3h-2.8zM137.2 450.2h2.8v2.3h-2.8zM158.9 450.2h2.8v2.3h-2.8zM166.2 450.2h2.8v2.3h-2.8zM103.4 452.2h2.8v2.3h-2.8zM168.6 452.2h2.8v2.3h-2.8zM88.9 454.2h2.8v2.3h-2.8zM98.6 454.2h2.8v2.3h-2.8zM105.8 454.2h2.8v2.3h-2.8zM137.2 454.2h2.8v2.3h-2.8zM88.9 456.2h2.8v2.3h-2.8zM161.3 456.2h2.8v2.3h-2.8zM93.7 458.2h2.8v2.3h-2.8zM163.8 458.2h2.8v2.3h-2.8zM161.3 460.2h2.8v2.3h-2.8zM76.8 462.2h2.8v2.3h-2.8zM101.0 462.2h2.8v2.3h-2.8zM144.4 462.2h2.8v2.3h-2.8zM158.9 462.2h2.8v2.3h-2.8zM132.4 464.2h2.8v2.3h-2.8zM76.8 466.2h5.2v2.3h-5.2zM93.7 466.2h2.8v2.3h-2.8zM91.3 468.2h2.8v2.3h-2.8zM120.3 468.2h2.8v2.3h-2.8zM149.3 468.2h2.8v2.3h-2.8zM156.5 468.2h2.8v2.3h-2.8zM79.2 470.2h2.8v2.3h-2.8zM130.0 470.2h2.8v2.3h-2.8zM74.4 472.2h5.2v2.3h-5.2zM84.1 472.2h2.8v2.3h-2.8zM79.2 474.2h2.8v2.3h-2.8zM101.0 474.2h2.8v2.3h-2.8zM110.6 474.2h5.2v2.3h-5.2z"/>
<path fill="#ffe0e0" d="M62.3 282.4h2.8v2.3h-2.8zM62.3 286.4h2.8v2.3h-2.8zM47.8 288.4h2.8v2.3h-2.8zM81.7 288.4h2.8v2.3h-2.8zM40.6 290.4h2.8v2.3h-2.8zM57.5 290.4h5.2v2.3h-5.2zM64.8 290.4h2.8v2.3h-2.8zM127.5 290.4h2.8v2.3h-2.8zM30.9 292.4h2.8v2.3h-2.8zM38.2 292.4h2.8v2.3h-2.8zM43.0 292.4h2.8v2.3h-2.8zM55.1 292.4h2.8v2.3h-2.8zM35.8 294.4h5.2v2.3h-5.2zM45.4 294.4h2.8v2.3h-2.8zM52.7 294.4h2.8v2.3h-2.8zM134.8 294.4h5.2v2.3h-5.2zM47.8 296.4h2.8v2.3h-2.8zM62.3 296.4h2.8v2.3h-2.8zM76.8 296.4h2.8v2.3h-2.8zM38.2 298.4h2.8v2.3h-2.8zM57.5 298.4h2.8v2.3h-2.8zM120.3 298.4h2.8v2.3h-2.8zM137.2 300.4h2.8v2.3h-2.8zM72.0 302.4h2.8v2.3h-2.8zM76.8 302.4h2.8v2.3h-2.8zM86.5 302.4h5.2v2.3h-5.2zM154.1 302.4h2.8v2.3h-2.8zM79.2 304.4h2.8v2.3h-2.8zM125.1 304.4h2.8v2.3h-2.8zM137.2 304.4h2.8v2.3h-2.8zM146.9 304.4h2.8v2.3h-2.8zM163.8 304.4h2.8v2.3h-2.8zM146.9 306.4h2.8v2.3h-2.8zM76.8 308.4h2.8v2.3h-2.8zM156.5 308.4h2.8v2.3h-2.8zM64.8 310.4h5.2v2.3h-5.2zM115.5 310.4h2.8v2.3h-2.8zM161.3 310.4h2.8v2.3h-2.8zM84.1 312.4h2.8v2.3h-2.8zM175.8 312.4h2.8v2.3h-2.8zM69.6 314.4h2.8v2.3h-2.8zM76.8 314.4h2.8v2.3h-2.8zM84.1 314.4h2.8v2.3h-2.8zM149.3 314.4h2.8v2.3h-2.8zM180.7 314.4h2.8v2.3h-2.8zM81.7 316.4h2.8v2.3h-2.8zM59.9 318.4h2.8v2.3h-2.8zM72.0 318.4h2.8v2.3h-2.8zM122.7 318.4h2.8v2.3h-2.8zM168.6 318.4h2.8v2.3h-2.8zM178.3 318.4h2.8v2.3h-2.8zM183.1 318.4h2.8v2.3h-2.8zM93.7 322.4h2.8v2.3h-2.8zM144.4 322.4h2.8v2.3h-2.8zM166.2 322.4h2.8v2.3h-2.8zM185.5 322.4h2.8v2.3h-2.8zM91.3 324.4h2.8v2.3h-2.8zM98.6 324.4h5.2v2.3h-5.2zM185.5 324.4h2.8v2.3h-2.8zM47.8 326.4h2.8v2.3h-2.8zM62.3 326.4h2.8v2.3h-2.8zM108.2 326.4h2.8v2.3h-2.8zM173.4 326.4h2.8v2.3h-2.8zM187.9 326.4h2.8v2.3h-2.8zM45.4 328.3h2.8v2.3h-2.8zM93.7 328.3h2.8v2.3h-2.8zM134.8 328.3h2.8v2.3h-2.8zM144.4 328.3h2.8v2.3h-2.8zM171.0 328.3h2.8v2.3h-2.8zM43.0 330.3h2.8v2.3h-2.8zM52.7 330.3h2.8v2.3h-2.8zM93.7 330.3h2.8v2.3h-2.8zM173.4 330.3h2.8v2.3h-2.8zM190.3 330.3h5.2v2.3h-5.2zM204.8 330.3h2.8v2.3h-2.8zM40.6 332.3h2.8v2.3h-2.8zM115.5 332.3h2.8v2.3h-2.8zM125.1 332.3h2.8v2.3h-2.8zM132.4 332.3h2.8v2.3h-2.8zM142.0 332.3h2.8v2.3h-2.8zM149.3 332.3h2.8v2.3h-2.8zM156.5 332.3h2.8v2.3h-2.8zM168.6 332.3h2.8v2.3h-2.8zM197.6 332.3h2.8v2.3h-2.8zM173.4 334.3h2.8v2.3h-2.8zM202.4 334.3h2.8v2.3h-2.8zM74.4 336.3h2.8v2.3h-2.8zM81.7 336.3h2.8v2.3h-2.8zM130.0 336.3h2.8v2.3h-2.8zM144.4 336.3h2.8v2.3h-2.8zM161.3 336.3h2.8v2.3h-2.8zM67.2 338.3h2.8v2.3h-2.8zM127.5 338.3h2.8v2.3h-2.8zM142.0 338.3h2.8v2.3h-2.8zM219.3 338.3h2.8v2.3h-2.8zM233.8 338.3h2.8v2.3h-2.8zM43.0 340.3h2.8v2.3h-2.8zM47.8 340.3h2.8v2.3h-2.8zM62.3 340.3h2.8v2.3h-2.8zM105.8 340.3h2.8v2.3h-2.8zM113.1 340.3h2.8v2.3h-2.8zM229.0 340.3h2.8v2.3h-2.8zM130.0 342.3h2.8v2.3h-2.8zM72.0 344.3h2.8v2.3h-2.8zM84.1 344.3h2.8v2.3h-2.8zM98.6 344.3h2.8v2.3h-2.8zM120.3 344.3h5.2v2.3h-5.2zM139.6 344.3h2.8v2.3h-2.8zM226.6 344.3h2.8v2.3h-2.8zM231.4 344.3h2.8v2.3h-2.8zM43.0 346.3h5.2v2.3h-5.2zM59.9 346.3h2.8v2.3h-2.8zM72.0 346.3h2.8v2.3h-2.8zM113.1 346.3h2.8v2.3h-2.8zM139.6 346.3h2.8v2.3h-2.8zM151.7 346.3h2.8v2.3h-2.8zM192.7 346.3h2.8v2.3h-2.8zM250.7 346.3h2.8v2.3h-2.8zM47.8 348.3h2.8v2.3h-2.8zM52.7 348.3h2.8v2.3h-2.8zM57.5 348.3h2.8v2.3h-2.8zM72.0 348.3h2.8v2.3h-2.8zM93.7 348.3h2.8v2.3h-2.8zM108.2 348.3h2.8v2.3h-2.8zM137.2 348.3h2.8v2.3h-2.8zM146.9 348.3h2.8v2.3h-2.8zM151.7 348.3h2.8v2.3h-2.8zM233.8 348.3h2.8v2.3h-2.8zM245.9 348.3h5.2v2.3h-5.2zM84.1 350.3h2.8v2.3h-2.8zM115.5 350.3h2.8v2.3h-2.8zM144.4 350.3h7.6v2.3h-7.6zM168.6 350.3h2.8v2.3h-2.8zM209.7 350.3h2.8v2.3h-2.8zM245.9 350.3h2.8v2.3h-2.8zM67.2 352.3h2.8v2.3h-2.8zM72.0 352.3h2.8v2.3h-2.8zM86.5 352.3h2.8v2.3h-2.8zM108.2 352.3h2.8v2.3h-2.8zM117.9 352.3h2.8v2.3h-2.8zM137.2 352.3h2.8v2.3h-2.8zM158.9 352.3h5.2v2.3h-5.2zM166.2 352.3h2.8v2.3h-2.8zM214.5 352.3h2.8v2.3h-2.8zM221.7 352.3h2.8v2.3h-2.8zM231.4 352.3h2.8v2.3h-2.8zM243.5 352.3h2.8v2.3h-2.8zM255.5 352.3h2.8v2.3h-2.8zM74.4 354.3h2.8v2.3h-2.8zM108.2 354.3h2.8v2.3h-2.8zM127.5 354.3h5.2v2.3h-5.2zM149.3 354.3h2.8v2.3h-2.8zM156.5 354.3h2.8v2.3h-2.8zM171.0 354.3h2.8v2.3h-2.8zM185.5 354.3h2.8v2.3h-2.8zM226.6 354.3h2.8v2.3h-2.8zM231.4 354.3h2.8v2.3h-2.8zM257.9 354.3h2.8v2.3h-2.8zM69.6 356.3h2.8v2.3h-2.8zM101.0 356.3h2.8v2.3h-2.8zM127.5 356.3h5.2v2.3h-5.2zM144.4 356.3h2.8v2.3h-2.8zM166.2 356.3h2.8v2.3h-2.8zM216.9 356.3h2.8v2.3h-2.8zM226.6 356.3h2.8v2.3h-2.8zM110.6 358.3h2.8v2.3h-2.8zM120.3 358.3h2.8v2.3h-2.8zM125.1 358.3h2.8v2.3h-2.8zM132.4 358.3h2.8v2.3h-2.8zM144.4 358.3h2.8v2.3h-2.8zM149.3 358.3h5.2v2.3h-5.2zM185.5 358.3h2.8v2.3h-2.8zM200.0 358.3h2.8v2.3h-2.8zM204.8 358.3h2.8v2.3h-2.8zM214.5 358.3h2.8v2.3h-2.8zM88.9 360.3h2.8v2.3h-2.8zM146.9 360.3h2.8v2.3h-2.8zM175.8 360.3h2.8v2.3h-2.8zM180.7 360.3h2.8v2.3h-2.8zM185.5 360.3h2.8v2.3h-2.8zM195.2 360.3h7.6v2.3h-7.6zM214.5 360.3h5.2v2.3h-5.2zM238.6 360.3h2.8v2.3h-2.8zM98.6 362.3h2.8v2.3h-2.8zM190.3 362.3h2.8v2.3h-2.8zM195.2 362.3h5.2v2.3h-5.2zM204.8 362.3h2.8v2.3h-2.8zM212.1 362.3h5.2v2.3h-5.2zM221.7 362.3h2.8v2.3h-2.8zM81.7 364.3h2.8v2.3h-2.8zM86.5 364.3h2.8v2.3h-2.8zM105.8 364.3h2.8v2.3h-2.8zM183.1 364.3h2.8v2.3h-2.8zM207.2 364.3h2.8v2.3h-2.8zM212.1 364.3h2.8v2.3h-2.8zM216.9 364.3h2.8v2.3h-2.8zM221.7 364.3h2.8v2.3h-2.8zM52.7 366.3h2.8v2.3h-2.8zM156.5 366.3h2.8v2.3h-2.8zM168.6 366.3h2.8v2.3h-2.8zM185.5 366.3h5.2v2.3h-5.2zM214.5 366.3h2.8v2.3h-2.8zM233.8 366.3h5.2v2.3h-5.2zM243.5 366.3h2.8v2.3h-2.8zM253.1 366.3h2.8v2.3h-2.8zM74.4 368.3h2.8v2.3h-2.8zM117.9 368.3h2.8v2.3h-2.8zM122.7 368.3h2.8v2.3h-2.8zM154.1 368.3h2.8v2.3h-2.8zM187.9 368.3h5.2v2.3h-5.2zM202.4 368.3h2.8v2.3h-2.8zM209.7 368.3h2.8v2.3h-2.8zM238.6 368.3h2.8v2.3h-2.8zM74.4 370.3h5.2v2.3h-5.2zM127.5 370.3h2.8v2.3h-2.8zM134.8 370.3h2.8v2.3h-2.8zM139.6 370.3h5.2v2.3h-5.2zM149.3 370.3h2.8v2.3h-2.8zM154.1 370.3h2.8v2.3h-2.8zM161.3 370.3h2.8v2.3h-2.8zM207.2 370.3h2.8v2.3h-2.8zM72.0 372.3h2.8v2.3h-2.8zM76.8 372.3h2.8v2.3h-2.8zM110.6 372.3h2.8v2.3h-2.8zM122.7 372.3h7.6v2.3h-7.6zM180.7 372.3h2.8v2.3h-2.8zM214.5 372.3h5.2v2.3h-5.2zM238.6 372.3h2.8v2.3h-2.8zM245.9 372.3h2.8v2.3h-2.8zM158.9 374.3h2.8v2.3h-2.8zM207.2 374.3h2.8v2.3h-2.8zM216.9 374.3h2.8v2.3h-2.8zM64.8 376.3h2.8v2.3h-2.8zM127.5 376.3h5.2v2.3h-5.2zM183.1 376.3h2.8v2.3h-2.8zM200.0 376.3h2.8v2.3h-2.8zM216.9 376.3h5.2v2.3h-5.2zM146.9 378.3h5.2v2.3h-5.2zM158.9 378.3h2.8v2.3h-2.8zM238.6 378.3h2.8v2.3h-2.8zM149.3 380.3h2.8v2.3h-2.8zM168.6 380.3h2.8v2.3h-2.8zM175.8 380.3h2.8v2.3h-2.8zM216.9 380.3h5.2v2.3h-5.2zM139.6 382.3h2.8v2.3h-2.8zM175.8 382.3h2.8v2.3h-2.8zM195.2 382.3h2.8v2.3h-2.8zM154.1 384.3h2.8v2.3h-2.8zM180.7 384.3h2.8v2.3h-2.8zM185.5 384.3h2.8v2.3h-2.8zM202.4 384.3h2.8v2.3h-2.8zM207.2 384.3h5.2v2.3h-5.2zM216.9 384.3h2.8v2.3h-2.8zM221.7 384.3h2.8v2.3h-2.8zM238.6 384.3h2.8v2.3h-2.8zM190.3 386.3h2.8v2.3h-2.8zM197.6 386.3h2.8v2.3h-2.8zM212.1 386.3h5.2v2.3h-5.2zM219.3 386.3h2.8v2.3h-2.8zM224.1 386.3h2.8v2.3h-2.8zM180.7 388.3h5.2v2.3h-5.2zM187.9 388.3h5.2v2.3h-5.2zM202.4 388.3h5.2v2.3h-5.2zM231.4 388.3h2.8v2.3h-2.8zM202.4 390.3h2.8v2.3h-2.8zM212.1 390.3h2.8v2.3h-2.8zM224.1 390.3h2.8v2.3h-2.8zM231.4 390.3h2.8v2.3h-2.8zM161.3 392.3h2.8v2.3h-2.8zM168.6 392.3h2.8v2.3h-2.8zM204.8 392.3h2.8v2.3h-2.8zM219.3 392.3h2.8v2.3h-2.8zM151.7 394.3h2.8v2.3h-2.8zM166.2 394.3h2.8v2.3h-2.8zM171.0 394.3h2.8v2.3h-2.8zM200.0 394.3h5.2v2.3h-5.2zM212.1 394.3h2.8v2.3h-2.8zM221.7 394.3h2.8v2.3h-2.8zM226.6 394.3h5.2v2.3h-5.2zM146.9 396.3h2.8v2.3h-2.8zM161.3 396.3h2.8v2.3h-2.8zM166.2 396.3h2.8v2.3h-2.8zM183.1 396.3h2.8v2.3h-2.8zM195.2 396.3h2.8v2.3h-2.8zM212.1 396.3h5.2v2.3h-5.2zM224.1 396.3h2.8v2.3h-2.8zM229.0 396.3h2.8v2.3h-2.8zM158.9 398.3h2.8v2.3h-2.8zM166.2 398.3h2.8v2.3h-2.8zM192.7 398.3h2.8v2.3h-2.8zM202.4 398.3h2.8v2.3h-2.8zM212.1 398.3h2.8v2.3h-2.8zM134.8 400.3h2.8v2.3h-2.8zM142.0 400.3h2.8v2.3h-2.8zM154.1 400.3h2.8v2.3h-2.8zM187.9 400.3h2.8v2.3h-2.8zM229.0 400.3h2.8v2.3h-2.8zM149.3 402.3h2.8v2.3h-2.8zM156.5 402.3h2.8v2.3h-2.8zM166.2 402.3h2.8v2.3h-2.8zM204.8 402.3h2.8v2.3h-2.8zM229.0 402.3h2.8v2.3h-2.8zM137.2 404.3h5.2v2.3h-5.2zM156.5 404.3h2.8v2.3h-2.8zM163.8 404.3h2.8v2.3h-2.8zM132.4 406.3h2.8v2.3h-2.8zM115.5 408.2h2.8v2.3h-2.8zM127.5 408.2h2.8v2.3h-2.8zM151.7 408.2h2.8v2.3h-2.8zM154.1 412.2h2.8v2.3h-2.8zM158.9 412.2h2.8v2.3h-2.8zM156.5 414.2h2.8v2.3h-2.8zM161.3 414.2h2.8v2.3h-2.8zM113.1 416.2h2.8v2.3h-2.8zM144.4 416.2h2.8v2.3h-2.8zM163.8 416.2h2.8v2.3h-2.8zM190.3 416.2h2.8v2.3h-2.8zM115.5 418.2h5.2v2.3h-5.2zM122.7 418.2h2.8v2.3h-2.8zM158.9 418.2h2.8v2.3h-2.8zM144.4 420.2h5.2v2.3h-5.2zM144.4 422.2h2.8v2.3h-2.8zM130.0 426.2h2.8v2.3h-2.8zM144.4 426.2h2.8v2.3h-2.8zM132.4 428.2h2.8v2.3h-2.8zM134.8 430.2h2.8v2.3h-2.8zM142.0 430.2h2.8v2.3h-2.8zM151.7 430.2h5.2v2.3h-5.2zM163.8 434.2h2.8v2.3h-2.8zM127.5 436.2h5.2v2.3h-5.2zM154.1 436.2h2.8v2.3h-2.8zM156.5 440.2h2.8v2.3h-2.8zM137.2 442.2h2.8v2.3h-2.8zM146.9 442.2h5.2v2.3h-5.2zM156.5 442.2h2.8v2.3h-2.8zM146.9 444.2h2.8v2.3h-2.8zM156.5 444.2h2.8v2.3h-2.8zM149.3 446.2h2.8v2.3h-2.8zM76.8 464.2h2.8v2.3h-2.8zM72.0 470.2h2.8v2.3h-2.8z"/>
<path fill="#ffc6c6" d="M69.6 286.4h2.8v2.3h-2.8zM113.1 286.4h5.2v2.3h-5.2zM26.1 288.4h2.8v2.3h-2.8zM43.0 288.4h2.8v2.3h-2.8zM67.2 288.4h2.8v2.3h-2.8zM28.5 290.4h2.8v2.3h-2.8zM43.0 290.4h10.0v2.3h-10.0zM72.0 290.4h2.8v2.3h-2.8zM33.4 292.4h5.2v2.3h-5.2zM45.4 292.4h2.8v2.3h-2.8zM67.2 292.4h2.8v2.3h-2.8zM72.0 292.4h2.8v2.3h-2.8zM28.5 294.4h2.8v2.3h-2.8zM57.5 294.4h5.2v2.3h-5.2zM67.2 294.4h5.2v2.3h-5.2zM117.9 294.4h2.8v2.3h-2.8zM139.6 294.4h2.8v2.3h-2.8zM35.8 296.4h2.8v2.3h-2.8zM96.1 296.4h2.8v2.3h-2.8zM125.1 296.4h2.8v2.3h-2.8zM137.2 296.4h2.8v2.3h-2.8zM115.5 298.4h2.8v2.3h-2.8zM142.0 298.4h5.2v2.3h-5.2zM57.5 300.4h2.8v2.3h-2.8zM115.5 300.4h2.8v2.3h-2.8zM122.7 300.4h2.8v2.3h-2.8zM134.8 300.4h2.8v2.3h-2.8zM144.4 300.4h2.8v2.3h-2.8zM62.3 302.4h2.8v2.3h-2.8zM137.2 302.4h2.8v2.3h-2.8zM146.9 302.4h5.2v2.3h-5.2zM55.1 304.4h2.8v2.3h-2.8zM151.7 304.4h2.8v2.3h-2.8zM161.3 304.4h2.8v2.3h-2.8zM166.2 304.4h7.6v2.3h-7.6zM50.3 306.4h2.8v2.3h-2.8zM64.8 306.4h2.8v2.3h-2.8zM76.8 306.4h2.8v2.3h-2.8zM137.2 306.4h2.8v2.3h-2.8zM168.6 306.4h2.8v2.3h-2.8zM62.3 308.4h2.8v2.3h-2.8zM74.4 308.4h2.8v2.3h-2.8zM166.2 308.4h2.8v2.3h-2.8zM175.8 308.4h2.8v2.3h-2.8zM55.1 310.4h2.8v2.3h-2.8zM62.3 310.4h2.8v2.3h-2.8zM158.9 310.4h2.8v2.3h-2.8zM166.2 310.4h2.8v2.3h-2.8zM171.0 310.4h10.0v2.3h-10.0zM146.9 312.4h2.8v2.3h-2.8zM163.8 312.4h2.8v2.3h-2.8zM173.4 312.4h2.8v2.3h-2.8zM47.8 314.4h2.8v2.3h-2.8zM72.0 314.4h2.8v2.3h-2.8zM137.2 314.4h5.2v2.3h-5.2zM144.4 314.4h2.8v2.3h-2.8zM171.0 314.4h5.2v2.3h-5.2zM178.3 314.4h2.8v2.3h-2.8zM57.5 316.4h2.8v2.3h-2.8zM67.2 316.4h5.2v2.3h-5.2zM171.0 316.4h2.8v2.3h-2.8zM105.8 318.4h2.8v2.3h-2.8zM132.4 318.4h2.8v2.3h-2.8zM175.8 318.4h2.8v2.3h-2.8zM62.3 320.4h2.8v2.3h-2.8zM163.8 320.4h2.8v2.3h-2.8zM168.6 320.4h2.8v2.3h-2.8zM178.3 320.4h2.8v2.3h-2.8zM88.9 322.4h2.8v2.3h-2.8zM122.7 322.4h2.8v2.3h-2.8zM163.8 322.4h2.8v2.3h-2.8zM171.0 322.4h2.8v2.3h-2.8zM175.8 322.4h2.8v2.3h-2.8zM180.7 322.4h2.8v2.3h-2.8zM52.7 324.4h2.8v2.3h-2.8zM62.3 324.4h2.8v2.3h-2.8zM93.7 324.4h2.8v2.3h-2.8zM173.4 324.4h2.8v2.3h-2.8zM180.7 324.4h2.8v2.3h-2.8zM59.9 326.4h2.8v2.3h-2.8zM168.6 326.4h2.8v2.3h-2.8zM180.7 326.4h2.8v2.3h-2.8zM185.5 326.4h2.8v2.3h-2.8zM52.7 328.3h2.8v2.3h-2.8zM96.1 328.3h2.8v2.3h-2.8zM110.6 328.3h2.8v2.3h-2.8zM137.2 328.3h2.8v2.3h-2.8zM142.0 328.3h2.8v2.3h-2.8zM173.4 328.3h2.8v2.3h-2.8zM64.8 330.3h5.2v2.3h-5.2zM98.6 330.3h2.8v2.3h-2.8zM127.5 330.3h2.8v2.3h-2.8zM144.4 330.3h2.8v2.3h-2.8zM156.5 330.3h2.8v2.3h-2.8zM166.2 330.3h2.8v2.3h-2.8zM178.3 330.3h2.8v2.3h-2.8zM200.0 330.3h2.8v2.3h-2.8zM64.8 332.3h2.8v2.3h-2.8zM96.1 332.3h5.2v2.3h-5.2zM127.5 332.3h2.8v2.3h-2.8zM134.8 332.3h2.8v2.3h-2.8zM166.2 332.3h2.8v2.3h-2.8zM171.0 332.3h2.8v2.3h-2.8zM195.2 332.3h2.8v2.3h-2.8zM202.4 332.3h5.2v2.3h-5.2zM134.8 334.3h2.8v2.3h-2.8zM187.9 334.3h2.8v2.3h-2.8zM200.0 334.3h2.8v2.3h-2.8zM55.1 336.3h2.8v2.3h-2.8zM62.3 336.3h5.2v2.3h-5.2zM72.0 336.3h2.8v2.3h-2.8zM76.8 336.3h2.8v2.3h-2.8zM96.1 336.3h2.8v2.3h-2.8zM101.0 336.3h2.8v2.3h-2.8zM105.8 336.3h2.8v2.3h-2.8zM127.5 336.3h2.8v2.3h-2.8zM134.8 336.3h2.8v2.3h-2.8zM142.0 336.3h2.8v2.3h-2.8zM146.9 336.3h2.8v2.3h-2.8zM168.6 336.3h2.8v2.3h-2.8zM204.8 336.3h2.8v2.3h-2.8zM214.5 336.3h2.8v2.3h-2.8zM45.4 338.3h2.8v2.3h-2.8zM69.6 338.3h2.8v2.3h-2.8zM132.4 338.3h2.8v2.3h-2.8zM144.4 338.3h2.8v2.3h-2.8zM151.7 338.3h2.8v2.3h-2.8zM158.9 338.3h2.8v2.3h-2.8zM202.4 338.3h7.6v2.3h-7.6zM212.1 338.3h5.2v2.3h-5.2zM74.4 340.3h2.8v2.3h-2.8zM122.7 340.3h2.8v2.3h-2.8zM130.0 340.3h5.2v2.3h-5.2zM139.6 340.3h2.8v2.3h-2.8zM149.3 340.3h2.8v2.3h-2.8zM156.5 340.3h2.8v2.3h-2.8zM166.2 340.3h2.8v2.3h-2.8zM173.4 340.3h2.8v2.3h-2.8zM185.5 340.3h2.8v2.3h-2.8zM219.3 340.3h2.8v2.3h-2.8zM59.9 342.3h2.8v2.3h-2.8zM84.1 342.3h2.8v2.3h-2.8zM125.1 342.3h5.2v2.3h-5.2zM132.4 342.3h2.8v2.3h-2.8zM144.4 342.3h2.8v2.3h-2.8zM161.3 342.3h5.2v2.3h-5.2zM187.9 342.3h2.8v2.3h-2.8zM216.9 342.3h2.8v2.3h-2.8zM229.0 342.3h5.2v2.3h-5.2zM50.3 344.3h2.8v2.3h-2.8zM101.0 344.3h2.8v2.3h-2.8zM127.5 344.3h2.8v2.3h-2.8zM142.0 344.3h2.8v2.3h-2.8zM146.9 344.3h5.2v2.3h-5.2zM200.0 344.3h2.8v2.3h-2.8zM204.8 344.3h2.8v2.3h-2.8zM219.3 344.3h2.8v2.3h-2.8zM229.0 344.3h2.8v2.3h-2.8zM64.8 346.3h2.8v2.3h-2.8zM86.5 346.3h2.8v2.3h-2.8zM93.7 346.3h2.8v2.3h-2.8zM98.6 346.3h2.8v2.3h-2.8zM103.4 346.3h2.8v2.3h-2.8zM154.1 346.3h2.8v2.3h-2.8zM168.6 346.3h5.2v2.3h-5.2zM212.1 346.3h7.6v2.3h-7.6zM253.1 346.3h2.8v2.3h-2.8zM59.9 348.3h7.6v2.3h-7.6zM69.6 348.3h2.8v2.3h-2.8zM74.4 348.3h7.6v2.3h-7.6zM96.1 348.3h2.8v2.3h-2.8zM105.8 348.3h2.8v2.3h-2.8zM115.5 348.3h2.8v2.3h-2.8zM125.1 348.3h2.8v2.3h-2.8zM132.4 348.3h5.2v2.3h-5.2zM142.0 348.3h5.2v2.3h-5.2zM149.3 348.3h2.8v2.3h-2.8zM154.1 348.3h2.8v2.3h-2.8zM161.3 348.3h2.8v2.3h-2.8zM171.0 348.3h5.2v2.3h-5.2zM185.5 348.3h2.8v2.3h-2.8zM190.3 348.3h2.8v2.3h-2.8zM200.0 348.3h7.6v2.3h-7.6zM219.3 348.3h2.8v2.3h-2.8zM229.0 348.3h2.8v2.3h-2.8zM243.5 348.3h2.8v2.3h-2.8zM50.3 350.3h2.8v2.3h-2.8zM64.8 350.3h2.8v2.3h-2.8zM88.9 350.3h2.8v2.3h-2.8zM93.7 350.3h2.8v2.3h-2.8zM117.9 350.3h2.8v2.3h-2.8zM151.7 350.3h2.8v2.3h-2.8zM163.8 350.3h2.8v2.3h-2.8zM173.4 350.3h2.8v2.3h-2.8zM214.5 350.3h2.8v2.3h-2.8zM221.7 350.3h5.2v2.3h-5.2zM64.8 352.3h2.8v2.3h-2.8zM74.4 352.3h2.8v2.3h-2.8zM79.2 352.3h2.8v2.3h-2.8zM115.5 352.3h2.8v2.3h-2.8zM142.0 352.3h2.8v2.3h-2.8zM151.7 352.3h2.8v2.3h-2.8zM168.6 352.3h5.2v2.3h-5.2zM192.7 352.3h2.8v2.3h-2.8zM200.0 352.3h5.2v2.3h-5.2zM207.2 352.3h2.8v2.3h-2.8zM55.1 354.3h2.8v2.3h-2.8zM64.8 354.3h2.8v2.3h-2.8zM113.1 354.3h7.6v2.3h-7.6zM166.2 354.3h2.8v2.3h-2.8zM178.3 354.3h2.8v2.3h-2.8zM187.9 354.3h2.8v2.3h-2.8zM200.0 354.3h2.8v2.3h-2.8zM209.7 354.3h5.2v2.3h-5.2zM216.9 354.3h2.8v2.3h-2.8zM221.7 354.3h2.8v2.3h-2.8zM229.0 354.3h2.8v2.3h-2.8zM50.3 356.3h2.8v2.3h-2.8zM55.1 356.3h2.8v2.3h-2.8zM64.8 356.3h2.8v2.3h-2.8zM74.4 356.3h5.2v2.3h-5.2zM81.7 356.3h2.8v2.3h-2.8zM115.5 356.3h2.8v2.3h-2.8zM120.3 356.3h5.2v2.3h-5.2zM132.4 356.3h2.8v2.3h-2.8zM139.6 356.3h2.8v2.3h-2.8zM146.9 356.3h2.8v2.3h-2.8zM163.8 356.3h2.8v2.3h-2.8zM175.8 356.3h2.8v2.3h-2.8zM200.0 356.3h2.8v2.3h-2.8zM204.8 356.3h2.8v2.3h-2.8zM209.7 356.3h2.8v2.3h-2.8zM221.7 356.3h2.8v2.3h-2.8zM50.3 358.3h2.8v2.3h-2.8zM127.5 358.3h2.8v2.3h-2.8zM134.8 358.3h2.8v2.3h-2.8zM139.6 358.3h5.2v2.3h-5.2zM156.5 358.3h2.8v2.3h-2.8zM166.2 358.3h5.2v2.3h-5.2zM190.3 358.3h7.6v2.3h-7.6zM202.4 358.3h2.8v2.3h-2.8zM207.2 358.3h2.8v2.3h-2.8zM216.9 358.3h5.2v2.3h-5.2zM52.7 360.3h2.8v2.3h-2.8zM67.2 360.3h2.8v2.3h-2.8zM74.4 360.3h2.8v2.3h-2.8zM103.4 360.3h2.8v2.3h-2.8zM108.2 360.3h2.8v2.3h-2.8zM125.1 360.3h2.8v2.3h-2.8zM130.0 360.3h2.8v2.3h-2.8zM134.8 360.3h2.8v2.3h-2.8zM139.6 360.3h7.6v2.3h-7.6zM149.3 360.3h2.8v2.3h-2.8zM156.5 360.3h7.6v2.3h-7.6zM187.9 360.3h2.8v2.3h-2.8zM202.4 360.3h2.8v2.3h-2.8zM209.7 360.3h2.8v2.3h-2.8zM55.1 362.3h2.8v2.3h-2.8zM59.9 362.3h2.8v2.3h-2.8zM105.8 362.3h2.8v2.3h-2.8zM134.8 362.3h2.8v2.3h-2.8zM146.9 362.3h2.8v2.3h-2.8zM154.1 362.3h2.8v2.3h-2.8zM158.9 362.3h5.2v2.3h-5.2zM183.1 362.3h2.8v2.3h-2.8zM200.0 362.3h2.8v2.3h-2.8zM207.2 362.3h5.2v2.3h-5.2zM219.3 362.3h2.8v2.3h-2.8zM55.1 364.3h2.8v2.3h-2.8zM72.0 364.3h5.2v2.3h-5.2zM154.1 364.3h2.8v2.3h-2.8zM158.9 364.3h2.8v2.3h-2.8zM168.6 364.3h2.8v2.3h-2.8zM173.4 364.3h2.8v2.3h-2.8zM180.7 364.3h2.8v2.3h-2.8zM185.5 364.3h2.8v2.3h-2.8zM192.7 364.3h7.6v2.3h-7.6zM202.4 364.3h5.2v2.3h-5.2zM214.5 364.3h2.8v2.3h-2.8zM224.1 364.3h2.8v2.3h-2.8zM55.1 366.3h2.8v2.3h-2.8zM72.0 366.3h2.8v2.3h-2.8zM103.4 366.3h2.8v2.3h-2.8zM108.2 366.3h2.8v2.3h-2.8zM127.5 366.3h2.8v2.3h-2.8zM151.7 366.3h2.8v2.3h-2.8zM158.9 366.3h5.2v2.3h-5.2zM175.8 366.3h2.8v2.3h-2.8zM195.2 366.3h2.8v2.3h-2.8zM204.8 366.3h7.6v2.3h-7.6zM216.9 366.3h7.6v2.3h-7.6zM238.6 366.3h2.8v2.3h-2.8zM57.5 368.3h2.8v2.3h-2.8zM113.1 368.3h2.8v2.3h-2.8zM125.1 368.3h5.2v2.3h-5.2zM142.0 368.3h2.8v2.3h-2.8zM146.9 368.3h5.2v2.3h-5.2zM163.8 368.3h7.6v2.3h-7.6zM185.5 368.3h2.8v2.3h-2.8zM192.7 368.3h2.8v2.3h-2.8zM197.6 368.3h5.2v2.3h-5.2zM214.5 368.3h2.8v2.3h-2.8zM219.3 368.3h2.8v2.3h-2.8zM224.1 368.3h2.8v2.3h-2.8zM250.7 368.3h2.8v2.3h-2.8zM57.5 370.3h5.2v2.3h-5.2zM72.0 370.3h2.8v2.3h-2.8zM101.0 370.3h2.8v2.3h-2.8zM120.3 370.3h5.2v2.3h-5.2zM132.4 370.3h2.8v2.3h-2.8zM156.5 370.3h5.2v2.3h-5.2zM163.8 370.3h2.8v2.3h-2.8zM178.3 370.3h5.2v2.3h-5.2zM187.9 370.3h5.2v2.3h-5.2zM197.6 370.3h2.8v2.3h-2.8zM204.8 370.3h2.8v2.3h-2.8zM209.7 370.3h2.8v2.3h-2.8zM219.3 370.3h2.8v2.3h-2.8zM74.4 372.3h2.8v2.3h-2.8zM161.3 372.3h5.2v2.3h-5.2zM183.1 372.3h2.8v2.3h-2.8zM187.9 372.3h5.2v2.3h-5.2zM200.0 372.3h2.8v2.3h-2.8zM209.7 372.3h5.2v2.3h-5.2zM221.7 372.3h2.8v2.3h-2.8zM72.0 374.3h5.2v2.3h-5.2zM91.3 374.3h2.8v2.3h-2.8zM101.0 374.3h2.8v2.3h-2.8zM117.9 374.3h2.8v2.3h-2.8zM122.7 374.3h2.8v2.3h-2.8zM127.5 374.3h2.8v2.3h-2.8zM161.3 374.3h2.8v2.3h-2.8zM197.6 374.3h7.6v2.3h-7.6zM212.1 374.3h2.8v2.3h-2.8zM125.1 376.3h2.8v2.3h-2.8zM134.8 376.3h2.8v2.3h-2.8zM149.3 376.3h2.8v2.3h-2.8zM168.6 376.3h2.8v2.3h-2.8zM180.7 376.3h2.8v2.3h-2.8zM185.5 376.3h5.2v2.3h-5.2zM192.7 376.3h2.8v2.3h-2.8zM197.6 376.3h2.8v2.3h-2.8zM207.2 376.3h10.0v2.3h-10.0zM139.6 378.3h2.8v2.3h-2.8zM168.6 378.3h5.2v2.3h-5.2zM178.3 378.3h2.8v2.3h-2.8zM190.3 378.3h2.8v2.3h-2.8zM195.2 378.3h5.2v2.3h-5.2zM202.4 378.3h5.2v2.3h-5.2zM209.7 378.3h5.2v2.3h-5.2zM243.5 378.3h2.8v2.3h-2.8zM127.5 380.3h2.8v2.3h-2.8zM142.0 380.3h2.8v2.3h-2.8zM178.3 380.3h5.2v2.3h-5.2zM185.5 380.3h10.0v2.3h-10.0zM197.6 380.3h2.8v2.3h-2.8zM209.7 380.3h2.8v2.3h-2.8zM214.5 380.3h2.8v2.3h-2.8zM96.1 382.3h2.8v2.3h-2.8zM149.3 382.3h2.8v2.3h-2.8zM166.2 382.3h2.8v2.3h-2.8zM173.4 382.3h2.8v2.3h-2.8zM183.1 382.3h7.6v2.3h-7.6zM200.0 382.3h7.6v2.3h-7.6zM151.7 384.3h2.8v2.3h-2.8zM163.8 384.3h2.8v2.3h-2.8zM168.6 384.3h2.8v2.3h-2.8zM183.1 384.3h2.8v2.3h-2.8zM187.9 384.3h2.8v2.3h-2.8zM200.0 384.3h2.8v2.3h-2.8zM204.8 384.3h2.8v2.3h-2.8zM212.1 384.3h5.2v2.3h-5.2zM231.4 384.3h2.8v2.3h-2.8zM144.4 386.3h2.8v2.3h-2.8zM154.1 386.3h7.6v2.3h-7.6zM166.2 386.3h2.8v2.3h-2.8zM183.1 386.3h2.8v2.3h-2.8zM192.7 386.3h5.2v2.3h-5.2zM200.0 386.3h2.8v2.3h-2.8zM216.9 386.3h2.8v2.3h-2.8zM161.3 388.3h2.8v2.3h-2.8zM195.2 388.3h5.2v2.3h-5.2zM214.5 388.3h12.4v2.3h-12.4zM146.9 390.3h2.8v2.3h-2.8zM214.5 390.3h2.8v2.3h-2.8zM219.3 390.3h5.2v2.3h-5.2zM229.0 390.3h2.8v2.3h-2.8zM190.3 392.3h2.8v2.3h-2.8zM212.1 392.3h2.8v2.3h-2.8zM226.6 392.3h7.6v2.3h-7.6zM149.3 394.3h2.8v2.3h-2.8zM158.9 394.3h2.8v2.3h-2.8zM224.1 394.3h2.8v2.3h-2.8zM151.7 396.3h2.8v2.3h-2.8zM156.5 396.3h2.8v2.3h-2.8zM168.6 396.3h2.8v2.3h-2.8zM209.7 396.3h2.8v2.3h-2.8zM154.1 398.3h2.8v2.3h-2.8zM139.6 400.3h2.8v2.3h-2.8zM200.0 400.3h2.8v2.3h-2.8zM151.7 404.3h5.2v2.3h-5.2zM166.2 404.3h2.8v2.3h-2.8zM115.5 406.3h5.2v2.3h-5.2zM122.7 406.3h2.8v2.3h-2.8zM142.0 406.3h5.2v2.3h-5.2zM151.7 406.3h5.2v2.3h-5.2zM117.9 408.2h2.8v2.3h-2.8zM122.7 408.2h2.8v2.3h-2.8zM115.5 410.2h2.8v2.3h-2.8zM130.0 410.2h2.8v2.3h-2.8zM149.3 410.2h5.2v2.3h-5.2zM115.5 412.2h2.8v2.3h-2.8zM125.1 412.2h2.8v2.3h-2.8zM132.4 412.2h2.8v2.3h-2.8zM142.0 414.2h2.8v2.3h-2.8zM149.3 414.2h5.2v2.3h-5.2zM158.9 414.2h2.8v2.3h-2.8zM117.9 416.2h2.8v2.3h-2.8zM139.6 416.2h2.8v2.3h-2.8zM161.3 416.2h2.8v2.3h-2.8zM120.3 418.2h2.8v2.3h-2.8zM125.1 418.2h2.8v2.3h-2.8zM120.3 420.2h2.8v2.3h-2.8zM142.0 420.2h2.8v2.3h-2.8zM113.1 422.2h5.2v2.3h-5.2zM120.3 422.2h2.8v2.3h-2.8zM134.8 422.2h2.8v2.3h-2.8zM161.3 422.2h2.8v2.3h-2.8zM130.0 424.2h2.8v2.3h-2.8zM137.2 424.2h2.8v2.3h-2.8zM192.7 424.2h2.8v2.3h-2.8zM156.5 426.2h2.8v2.3h-2.8zM149.3 428.2h2.8v2.3h-2.8zM115.5 430.2h2.8v2.3h-2.8zM130.0 430.2h5.2v2.3h-5.2zM149.3 430.2h2.8v2.3h-2.8zM125.1 432.2h2.8v2.3h-2.8zM130.0 432.2h2.8v2.3h-2.8zM139.6 432.2h2.8v2.3h-2.8zM122.7 434.2h5.2v2.3h-5.2zM142.0 434.2h2.8v2.3h-2.8zM146.9 434.2h5.2v2.3h-5.2zM154.1 434.2h2.8v2.3h-2.8zM146.9 436.2h5.2v2.3h-5.2zM146.9 438.2h2.8v2.3h-2.8zM146.9 440.2h2.8v2.3h-2.8zM154.1 442.2h2.8v2.3h-2.8zM154.1 444.2h2.8v2.3h-2.8zM146.9 446.2h2.8v2.3h-2.8zM151.7 446.2h2.8v2.3h-2.8zM72.0 472.2h2.8v2.3h-2.8zM76.8 474.2h2.8v2.3h-2.8z"/>
<path fill="#ffaaaa" d="M45.4 288.4h2.8v2.3h-2.8zM62.3 288.4h2.8v2.3h-2.8zM50.3 296.4h2.8v2.3h-2.8zM47.8 298.4h2.8v2.3h-2.8zM81.7 298.4h2.8v2.3h-2.8zM146.9 300.4h2.8v2.3h-2.8zM166.2 306.4h2.8v2.3h-2.8zM163.8 308.4h2.8v2.3h-2.8zM50.3 310.4h2.8v2.3h-2.8zM163.8 310.4h2.8v2.3h-2.8zM67.2 312.4h2.8v2.3h-2.8zM52.7 314.4h2.8v2.3h-2.8zM151.7 316.4h2.8v2.3h-2.8zM67.2 318.4h2.8v2.3h-2.8zM45.4 320.4h2.8v2.3h-2.8zM101.0 320.4h2.8v2.3h-2.8zM180.7 320.4h2.8v2.3h-2.8zM91.3 322.4h2.8v2.3h-2.8zM96.1 322.4h2.8v2.3h-2.8zM45.4 324.4h2.8v2.3h-2.8zM117.9 324.4h5.2v2.3h-5.2zM183.1 324.4h2.8v2.3h-2.8zM101.0 326.4h2.8v2.3h-2.8zM144.4 326.4h2.8v2.3h-2.8zM47.8 328.3h2.8v2.3h-2.8zM98.6 328.3h2.8v2.3h-2.8zM168.6 328.3h2.8v2.3h-2.8zM134.8 330.3h2.8v2.3h-2.8zM158.9 330.3h5.2v2.3h-5.2zM197.6 330.3h2.8v2.3h-2.8zM175.8 332.3h2.8v2.3h-2.8zM192.7 332.3h2.8v2.3h-2.8zM200.0 332.3h2.8v2.3h-2.8zM154.1 334.3h2.8v2.3h-2.8zM190.3 334.3h2.8v2.3h-2.8zM207.2 334.3h2.8v2.3h-2.8zM156.5 336.3h2.8v2.3h-2.8zM166.2 336.3h2.8v2.3h-2.8zM200.0 336.3h5.2v2.3h-5.2zM209.7 336.3h5.2v2.3h-5.2zM221.7 336.3h2.8v2.3h-2.8zM62.3 338.3h2.8v2.3h-2.8zM130.0 338.3h2.8v2.3h-2.8zM137.2 338.3h5.2v2.3h-5.2zM149.3 338.3h2.8v2.3h-2.8zM173.4 338.3h5.2v2.3h-5.2zM209.7 338.3h2.8v2.3h-2.8zM221.7 338.3h2.8v2.3h-2.8zM98.6 340.3h2.8v2.3h-2.8zM142.0 340.3h2.8v2.3h-2.8zM151.7 340.3h2.8v2.3h-2.8zM161.3 340.3h2.8v2.3h-2.8zM168.6 340.3h2.8v2.3h-2.8zM183.1 340.3h2.8v2.3h-2.8zM204.8 340.3h5.2v2.3h-5.2zM115.5 342.3h2.8v2.3h-2.8zM134.8 342.3h5.2v2.3h-5.2zM146.9 342.3h2.8v2.3h-2.8zM151.7 342.3h2.8v2.3h-2.8zM166.2 342.3h2.8v2.3h-2.8zM173.4 342.3h5.2v2.3h-5.2zM214.5 342.3h2.8v2.3h-2.8zM52.7 344.3h2.8v2.3h-2.8zM62.3 344.3h2.8v2.3h-2.8zM88.9 344.3h2.8v2.3h-2.8zM130.0 344.3h7.6v2.3h-7.6zM151.7 344.3h5.2v2.3h-5.2zM171.0 344.3h2.8v2.3h-2.8zM197.6 344.3h2.8v2.3h-2.8zM50.3 346.3h2.8v2.3h-2.8zM76.8 346.3h2.8v2.3h-2.8zM88.9 346.3h2.8v2.3h-2.8zM125.1 346.3h2.8v2.3h-2.8zM130.0 346.3h2.8v2.3h-2.8zM134.8 346.3h2.8v2.3h-2.8zM166.2 346.3h2.8v2.3h-2.8zM200.0 346.3h5.2v2.3h-5.2zM209.7 346.3h2.8v2.3h-2.8zM219.3 346.3h5.2v2.3h-5.2zM50.3 348.3h2.8v2.3h-2.8zM86.5 348.3h2.8v2.3h-2.8zM175.8 348.3h2.8v2.3h-2.8zM207.2 348.3h2.8v2.3h-2.8zM79.2 350.3h2.8v2.3h-2.8zM139.6 350.3h5.2v2.3h-5.2zM161.3 350.3h2.8v2.3h-2.8zM166.2 350.3h2.8v2.3h-2.8zM175.8 350.3h2.8v2.3h-2.8zM185.5 350.3h2.8v2.3h-2.8zM197.6 350.3h2.8v2.3h-2.8zM202.4 350.3h5.2v2.3h-5.2zM212.1 350.3h2.8v2.3h-2.8zM226.6 350.3h2.8v2.3h-2.8zM50.3 352.3h2.8v2.3h-2.8zM55.1 352.3h2.8v2.3h-2.8zM59.9 352.3h2.8v2.3h-2.8zM69.6 352.3h2.8v2.3h-2.8zM139.6 352.3h2.8v2.3h-2.8zM156.5 352.3h2.8v2.3h-2.8zM163.8 352.3h2.8v2.3h-2.8zM178.3 352.3h2.8v2.3h-2.8zM187.9 352.3h2.8v2.3h-2.8zM197.6 352.3h2.8v2.3h-2.8zM204.8 352.3h2.8v2.3h-2.8zM209.7 352.3h5.2v2.3h-5.2zM216.9 352.3h2.8v2.3h-2.8zM50.3 354.3h2.8v2.3h-2.8zM69.6 354.3h5.2v2.3h-5.2zM134.8 354.3h2.8v2.3h-2.8zM173.4 354.3h2.8v2.3h-2.8zM192.7 354.3h2.8v2.3h-2.8zM202.4 354.3h2.8v2.3h-2.8zM214.5 354.3h2.8v2.3h-2.8zM67.2 356.3h2.8v2.3h-2.8zM137.2 356.3h2.8v2.3h-2.8zM183.1 356.3h2.8v2.3h-2.8zM192.7 356.3h7.6v2.3h-7.6zM207.2 356.3h2.8v2.3h-2.8zM212.1 356.3h2.8v2.3h-2.8zM57.5 358.3h2.8v2.3h-2.8zM64.8 358.3h5.2v2.3h-5.2zM72.0 358.3h2.8v2.3h-2.8zM81.7 358.3h2.8v2.3h-2.8zM122.7 358.3h2.8v2.3h-2.8zM154.1 358.3h2.8v2.3h-2.8zM209.7 358.3h2.8v2.3h-2.8zM72.0 360.3h2.8v2.3h-2.8zM127.5 360.3h2.8v2.3h-2.8zM137.2 360.3h2.8v2.3h-2.8zM57.5 362.3h2.8v2.3h-2.8zM64.8 362.3h2.8v2.3h-2.8zM137.2 362.3h2.8v2.3h-2.8zM142.0 362.3h2.8v2.3h-2.8zM156.5 362.3h2.8v2.3h-2.8zM185.5 362.3h2.8v2.3h-2.8zM192.7 362.3h2.8v2.3h-2.8zM202.4 362.3h2.8v2.3h-2.8zM59.9 364.3h2.8v2.3h-2.8zM84.1 364.3h2.8v2.3h-2.8zM110.6 364.3h2.8v2.3h-2.8zM134.8 364.3h2.8v2.3h-2.8zM151.7 364.3h2.8v2.3h-2.8zM166.2 364.3h2.8v2.3h-2.8zM209.7 364.3h2.8v2.3h-2.8zM219.3 364.3h2.8v2.3h-2.8zM96.1 366.3h2.8v2.3h-2.8zM110.6 366.3h2.8v2.3h-2.8zM125.1 366.3h2.8v2.3h-2.8zM137.2 366.3h5.2v2.3h-5.2zM59.9 368.3h2.8v2.3h-2.8zM72.0 368.3h2.8v2.3h-2.8zM195.2 368.3h2.8v2.3h-2.8zM216.9 368.3h2.8v2.3h-2.8zM221.7 368.3h2.8v2.3h-2.8zM62.3 370.3h2.8v2.3h-2.8zM108.2 370.3h2.8v2.3h-2.8zM115.5 370.3h2.8v2.3h-2.8zM130.0 370.3h2.8v2.3h-2.8zM146.9 370.3h2.8v2.3h-2.8zM171.0 370.3h2.8v2.3h-2.8zM192.7 370.3h2.8v2.3h-2.8zM62.3 372.3h2.8v2.3h-2.8zM93.7 372.3h5.2v2.3h-5.2zM154.1 372.3h5.2v2.3h-5.2zM171.0 372.3h2.8v2.3h-2.8zM195.2 372.3h5.2v2.3h-5.2zM64.8 374.3h7.6v2.3h-7.6zM98.6 374.3h2.8v2.3h-2.8zM180.7 374.3h2.8v2.3h-2.8zM185.5 374.3h2.8v2.3h-2.8zM192.7 374.3h2.8v2.3h-2.8zM72.0 376.3h5.2v2.3h-5.2zM93.7 376.3h2.8v2.3h-2.8zM137.2 376.3h2.8v2.3h-2.8zM146.9 376.3h2.8v2.3h-2.8zM158.9 376.3h2.8v2.3h-2.8zM175.8 376.3h2.8v2.3h-2.8zM190.3 376.3h2.8v2.3h-2.8zM195.2 376.3h2.8v2.3h-2.8zM204.8 376.3h2.8v2.3h-2.8zM130.0 378.3h5.2v2.3h-5.2zM144.4 378.3h2.8v2.3h-2.8zM192.7 378.3h2.8v2.3h-2.8zM214.5 378.3h2.8v2.3h-2.8zM163.8 380.3h5.2v2.3h-5.2zM171.0 380.3h2.8v2.3h-2.8zM195.2 380.3h2.8v2.3h-2.8zM200.0 380.3h2.8v2.3h-2.8zM212.1 380.3h2.8v2.3h-2.8zM144.4 382.3h2.8v2.3h-2.8zM212.1 382.3h7.6v2.3h-7.6zM158.9 384.3h2.8v2.3h-2.8zM190.3 384.3h5.2v2.3h-5.2zM197.6 384.3h2.8v2.3h-2.8zM185.5 386.3h2.8v2.3h-2.8zM142.0 388.3h2.8v2.3h-2.8zM146.9 388.3h5.2v2.3h-5.2zM158.9 388.3h2.8v2.3h-2.8zM216.9 390.3h2.8v2.3h-2.8zM146.9 392.3h2.8v2.3h-2.8zM156.5 392.3h2.8v2.3h-2.8zM216.9 392.3h2.8v2.3h-2.8zM142.0 394.3h2.8v2.3h-2.8zM156.5 394.3h2.8v2.3h-2.8zM161.3 394.3h2.8v2.3h-2.8zM216.9 394.3h2.8v2.3h-2.8zM139.6 396.3h2.8v2.3h-2.8zM144.4 396.3h2.8v2.3h-2.8zM139.6 398.3h5.2v2.3h-5.2zM139.6 402.3h2.8v2.3h-2.8zM151.7 402.3h2.8v2.3h-2.8zM142.0 404.3h2.8v2.3h-2.8zM125.1 408.2h2.8v2.3h-2.8zM144.4 408.2h2.8v2.3h-2.8zM156.5 408.2h2.8v2.3h-2.8zM132.4 410.2h2.8v2.3h-2.8zM137.2 410.2h2.8v2.3h-2.8zM127.5 412.2h2.8v2.3h-2.8zM146.9 412.2h2.8v2.3h-2.8zM130.0 414.2h2.8v2.3h-2.8zM134.8 414.2h2.8v2.3h-2.8zM154.1 416.2h2.8v2.3h-2.8zM158.9 416.2h2.8v2.3h-2.8zM144.4 418.2h2.8v2.3h-2.8zM115.5 420.2h2.8v2.3h-2.8zM134.8 420.2h2.8v2.3h-2.8zM139.6 420.2h2.8v2.3h-2.8zM149.3 420.2h2.8v2.3h-2.8zM158.9 420.2h2.8v2.3h-2.8zM137.2 422.2h2.8v2.3h-2.8zM156.5 422.2h5.2v2.3h-5.2zM158.9 424.2h2.8v2.3h-2.8zM134.8 426.2h5.2v2.3h-5.2zM134.8 428.2h5.2v2.3h-5.2zM151.7 428.2h2.8v2.3h-2.8zM137.2 430.2h2.8v2.3h-2.8zM132.4 432.2h2.8v2.3h-2.8zM142.0 432.2h2.8v2.3h-2.8zM146.9 432.2h2.8v2.3h-2.8zM120.3 434.2h2.8v2.3h-2.8zM156.5 434.2h2.8v2.3h-2.8zM151.7 442.2h2.8v2.3h-2.8zM144.4 444.2h2.8v2.3h-2.8zM151.7 444.2h2.8v2.3h-2.8z"/>
<path fill="#ff7f7f" d="M38.2 296.4h2.8v2.3h-2.8zM134.8 304.4h2.8v2.3h-2.8zM55.1 314.4h2.8v2.3h-2.8zM183.1 326.4h2.8v2.3h-2.8zM180.7 328.3h2.8v2.3h-2.8zM185.5 332.3h2.8v2.3h-2.8zM171.0 334.3h2.8v2.3h-2.8zM175.8 334.3h2.8v2.3h-2.8zM192.7 334.3h5.2v2.3h-5.2zM204.8 334.3h2.8v2.3h-2.8zM137.2 336.3h2.8v2.3h-2.8zM149.3 336.3h2.8v2.3h-2.8zM154.1 336.3h2.8v2.3h-2.8zM101.0 338.3h2.8v2.3h-2.8zM134.8 338.3h2.8v2.3h-2.8zM146.9 338.3h2.8v2.3h-2.8zM154.1 338.3h2.8v2.3h-2.8zM192.7 338.3h5.2v2.3h-5.2zM134.8 340.3h2.8v2.3h-2.8zM171.0 340.3h2.8v2.3h-2.8zM57.5 342.3h2.8v2.3h-2.8zM91.3 342.3h2.8v2.3h-2.8zM149.3 342.3h2.8v2.3h-2.8zM171.0 342.3h2.8v2.3h-2.8zM185.5 342.3h2.8v2.3h-2.8zM200.0 342.3h2.8v2.3h-2.8zM91.3 344.3h2.8v2.3h-2.8zM137.2 344.3h2.8v2.3h-2.8zM168.6 344.3h2.8v2.3h-2.8zM207.2 344.3h2.8v2.3h-2.8zM132.4 346.3h2.8v2.3h-2.8zM149.3 346.3h2.8v2.3h-2.8zM197.6 346.3h2.8v2.3h-2.8zM204.8 346.3h2.8v2.3h-2.8zM195.2 348.3h2.8v2.3h-2.8zM209.7 348.3h10.0v2.3h-10.0zM52.7 350.3h12.4v2.3h-12.4zM154.1 350.3h2.8v2.3h-2.8zM178.3 350.3h2.8v2.3h-2.8zM183.1 350.3h2.8v2.3h-2.8zM187.9 350.3h5.2v2.3h-5.2zM195.2 350.3h2.8v2.3h-2.8zM200.0 350.3h2.8v2.3h-2.8zM207.2 350.3h2.8v2.3h-2.8zM216.9 350.3h2.8v2.3h-2.8zM52.7 352.3h2.8v2.3h-2.8zM57.5 352.3h2.8v2.3h-2.8zM175.8 352.3h2.8v2.3h-2.8zM180.7 352.3h2.8v2.3h-2.8zM219.3 352.3h2.8v2.3h-2.8zM52.7 354.3h2.8v2.3h-2.8zM62.3 354.3h2.8v2.3h-2.8zM120.3 354.3h5.2v2.3h-5.2zM137.2 354.3h2.8v2.3h-2.8zM158.9 354.3h2.8v2.3h-2.8zM168.6 354.3h2.8v2.3h-2.8zM195.2 354.3h5.2v2.3h-5.2zM204.8 354.3h5.2v2.3h-5.2zM52.7 356.3h2.8v2.3h-2.8zM72.0 356.3h2.8v2.3h-2.8zM142.0 356.3h2.8v2.3h-2.8zM156.5 356.3h2.8v2.3h-2.8zM190.3 356.3h2.8v2.3h-2.8zM202.4 356.3h2.8v2.3h-2.8zM214.5 356.3h2.8v2.3h-2.8zM52.7 358.3h2.8v2.3h-2.8zM115.5 358.3h2.8v2.3h-2.8zM161.3 358.3h5.2v2.3h-5.2zM180.7 358.3h2.8v2.3h-2.8zM55.1 360.3h2.8v2.3h-2.8zM62.3 360.3h2.8v2.3h-2.8zM117.9 360.3h2.8v2.3h-2.8zM122.7 360.3h2.8v2.3h-2.8zM204.8 360.3h2.8v2.3h-2.8zM108.2 362.3h2.8v2.3h-2.8zM127.5 362.3h2.8v2.3h-2.8zM132.4 362.3h2.8v2.3h-2.8zM144.4 362.3h2.8v2.3h-2.8zM57.5 364.3h2.8v2.3h-2.8zM69.6 364.3h2.8v2.3h-2.8zM117.9 364.3h2.8v2.3h-2.8zM144.4 364.3h2.8v2.3h-2.8zM156.5 364.3h2.8v2.3h-2.8zM57.5 366.3h5.2v2.3h-5.2zM64.8 366.3h2.8v2.3h-2.8zM69.6 366.3h2.8v2.3h-2.8zM88.9 366.3h2.8v2.3h-2.8zM120.3 366.3h2.8v2.3h-2.8zM69.6 368.3h2.8v2.3h-2.8zM103.4 368.3h2.8v2.3h-2.8zM132.4 368.3h2.8v2.3h-2.8zM180.7 368.3h2.8v2.3h-2.8zM69.6 370.3h2.8v2.3h-2.8zM93.7 370.3h2.8v2.3h-2.8zM98.6 370.3h2.8v2.3h-2.8zM113.1 370.3h2.8v2.3h-2.8zM137.2 370.3h2.8v2.3h-2.8zM195.2 370.3h2.8v2.3h-2.8zM64.8 372.3h7.6v2.3h-7.6zM101.0 372.3h2.8v2.3h-2.8zM105.8 372.3h2.8v2.3h-2.8zM144.4 372.3h2.8v2.3h-2.8zM149.3 372.3h2.8v2.3h-2.8zM192.7 372.3h2.8v2.3h-2.8zM103.4 374.3h2.8v2.3h-2.8zM139.6 374.3h2.8v2.3h-2.8zM173.4 374.3h2.8v2.3h-2.8zM195.2 374.3h2.8v2.3h-2.8zM139.6 376.3h2.8v2.3h-2.8zM156.5 376.3h2.8v2.3h-2.8zM178.3 376.3h2.8v2.3h-2.8zM151.7 378.3h2.8v2.3h-2.8zM156.5 378.3h2.8v2.3h-2.8zM151.7 380.3h2.8v2.3h-2.8zM192.7 382.3h2.8v2.3h-2.8zM154.1 392.3h2.8v2.3h-2.8zM137.2 394.3h2.8v2.3h-2.8zM161.3 404.3h2.8v2.3h-2.8zM139.6 406.3h2.8v2.3h-2.8zM142.0 412.2h2.8v2.3h-2.8zM149.3 412.2h2.8v2.3h-2.8zM125.1 414.2h5.2v2.3h-5.2zM132.4 414.2h2.8v2.3h-2.8zM127.5 416.2h2.8v2.3h-2.8zM134.8 416.2h2.8v2.3h-2.8zM156.5 416.2h2.8v2.3h-2.8zM149.3 418.2h2.8v2.3h-2.8zM151.7 420.2h2.8v2.3h-2.8zM156.5 420.2h2.8v2.3h-2.8zM117.9 422.2h2.8v2.3h-2.8zM132.4 422.2h2.8v2.3h-2.8zM151.7 422.2h2.8v2.3h-2.8zM139.6 424.2h2.8v2.3h-2.8zM144.4 424.2h2.8v2.3h-2.8zM120.3 426.2h2.8v2.3h-2.8zM139.6 426.2h2.8v2.3h-2.8zM146.9 428.2h2.8v2.3h-2.8zM156.5 428.2h5.2v2.3h-5.2zM146.9 430.2h2.8v2.3h-2.8zM161.3 430.2h2.8v2.3h-2.8zM151.7 434.2h2.8v2.3h-2.8zM127.5 438.2h5.2v2.3h-5.2zM144.4 438.2h2.8v2.3h-2.8z"/>
<path fill="#ff5555" d="M202.4 330.3h2.8v2.3h-2.8zM173.4 332.3h2.8v2.3h-2.8zM180.7 332.3h2.8v2.3h-2.8zM187.9 332.3h2.8v2.3h-2.8zM151.7 336.3h2.8v2.3h-2.8zM163.8 336.3h2.8v2.3h-2.8zM173.4 336.3h2.8v2.3h-2.8zM185.5 336.3h5.2v2.3h-5.2zM161.3 338.3h2.8v2.3h-2.8zM171.0 338.3h2.8v2.3h-2.8zM187.9 338.3h2.8v2.3h-2.8zM154.1 340.3h2.8v2.3h-2.8zM163.8 340.3h2.8v2.3h-2.8zM154.1 342.3h2.8v2.3h-2.8zM158.9 342.3h2.8v2.3h-2.8zM180.7 342.3h2.8v2.3h-2.8zM158.9 344.3h2.8v2.3h-2.8zM173.4 344.3h2.8v2.3h-2.8zM216.9 344.3h2.8v2.3h-2.8zM192.7 348.3h2.8v2.3h-2.8zM197.6 348.3h2.8v2.3h-2.8zM180.7 350.3h2.8v2.3h-2.8zM192.7 350.3h2.8v2.3h-2.8zM62.3 352.3h2.8v2.3h-2.8zM190.3 352.3h2.8v2.3h-2.8zM195.2 352.3h2.8v2.3h-2.8zM59.9 354.3h2.8v2.3h-2.8zM190.3 354.3h2.8v2.3h-2.8zM57.5 356.3h7.6v2.3h-7.6zM55.1 358.3h2.8v2.3h-2.8zM69.6 358.3h2.8v2.3h-2.8zM69.6 360.3h2.8v2.3h-2.8zM115.5 360.3h2.8v2.3h-2.8zM67.2 362.3h5.2v2.3h-5.2zM113.1 362.3h5.2v2.3h-5.2zM120.3 362.3h2.8v2.3h-2.8zM67.2 364.3h2.8v2.3h-2.8zM122.7 364.3h2.8v2.3h-2.8zM137.2 364.3h5.2v2.3h-5.2zM154.1 366.3h2.8v2.3h-2.8zM62.3 368.3h7.6v2.3h-7.6zM93.7 368.3h2.8v2.3h-2.8zM105.8 368.3h2.8v2.3h-2.8zM144.4 368.3h2.8v2.3h-2.8zM64.8 370.3h2.8v2.3h-2.8zM96.1 370.3h2.8v2.3h-2.8zM105.8 370.3h2.8v2.3h-2.8zM98.6 372.3h2.8v2.3h-2.8zM134.8 372.3h5.2v2.3h-5.2zM168.6 372.3h2.8v2.3h-2.8zM173.4 372.3h2.8v2.3h-2.8zM156.5 374.3h2.8v2.3h-2.8zM166.2 374.3h2.8v2.3h-2.8zM108.2 376.3h2.8v2.3h-2.8zM166.2 376.3h2.8v2.3h-2.8zM144.4 388.3h2.8v2.3h-2.8zM137.2 392.3h2.8v2.3h-2.8zM142.0 392.3h5.2v2.3h-5.2zM139.6 394.3h2.8v2.3h-2.8zM137.2 412.2h2.8v2.3h-2.8zM146.9 416.2h2.8v2.3h-2.8zM130.0 418.2h2.8v2.3h-2.8zM146.9 422.2h2.8v2.3h-2.8zM134.8 424.2h2.8v2.3h-2.8zM151.7 424.2h2.8v2.3h-2.8zM125.1 426.2h2.8v2.3h-2.8zM149.3 426.2h7.6v2.3h-7.6zM158.9 426.2h2.8v2.3h-2.8zM117.9 428.2h2.8v2.3h-2.8zM139.6 428.2h2.8v2.3h-2.8zM154.1 428.2h2.8v2.3h-2.8zM125.1 430.2h2.8v2.3h-2.8zM156.5 430.2h2.8v2.3h-2.8zM127.5 432.2h2.8v2.3h-2.8zM154.1 432.2h2.8v2.3h-2.8zM161.3 434.2h2.8v2.3h-2.8z"/>
<path fill="#ff2b2b" d="M190.3 336.3h5.2v2.3h-5.2zM166.2 338.3h5.2v2.3h-5.2zM183.1 338.3h5.2v2.3h-5.2zM180.7 340.3h2.8v2.3h-2.8zM156.5 342.3h2.8v2.3h-2.8zM197.6 342.3h2.8v2.3h-2.8zM161.3 344.3h5.2v2.3h-5.2zM180.7 346.3h2.8v2.3h-2.8zM180.7 348.3h2.8v2.3h-2.8zM57.5 354.3h2.8v2.3h-2.8zM64.8 360.3h2.8v2.3h-2.8zM117.9 362.3h2.8v2.3h-2.8zM62.3 364.3h5.2v2.3h-5.2zM98.6 364.3h2.8v2.3h-2.8zM113.1 364.3h5.2v2.3h-5.2zM62.3 366.3h2.8v2.3h-2.8zM67.2 366.3h2.8v2.3h-2.8zM113.1 366.3h5.2v2.3h-5.2zM115.5 368.3h2.8v2.3h-2.8zM67.2 370.3h2.8v2.3h-2.8zM139.6 372.3h2.8v2.3h-2.8zM171.0 374.3h2.8v2.3h-2.8zM144.4 390.3h2.8v2.3h-2.8zM144.4 394.3h2.8v2.3h-2.8zM142.0 396.3h2.8v2.3h-2.8zM130.0 416.2h2.8v2.3h-2.8zM127.5 418.2h2.8v2.3h-2.8zM151.7 418.2h2.8v2.3h-2.8zM154.1 420.2h2.8v2.3h-2.8zM120.3 428.2h2.8v2.3h-2.8zM151.7 432.2h2.8v2.3h-2.8zM158.9 432.2h2.8v2.3h-2.8z"/>
</g>
<path d="M40.6 281.2V474.9M88.9 281.2V474.9M137.2 281.2V474.9M185.5 281.2V474.9M233.8 281.2V474.9M27.4 288.4H276.1M27.4 308.4H276.1M27.4 328.3H276.1M27.4 348.3H276.1M27.4 368.3H276.1M27.4 388.3H276.1M27.4 408.2H276.1M27.4 428.2H276.1M27.4 448.2H276.1M27.4 468.2H276.1" stroke="#999" stroke-width="0.6" stroke-dasharray="1 2.95" fill="none"/>
<path d="M21.3 288.8 L27 290 L29.6 291 L33.6 293.6 L36.9 294.3 L40.3 292.3 L43.6 290.6 L46.9 290.6 L49.6 292.3 L52.2 294.3 L54.2 296.7 L55.6 298 L56.9 295 L58.9 292.3 L60.9 289.6 L62.2 287 L64.8 285 L68.2 284.3 L72.1 283.9 L74.8 282.3 L77.5 281 L79.7 278.4 L83.1 278.4 L82.6 281.2 L79.7 282.4 L81.2 284.8 L83.1 284.8 L84.6 283.6 L87.9 282.8 L88.9 279.6 L90.3 282.4 L96.6 283.6 L97.6 285.2 L98.6 286.4 L107.3 286 L112.6 288 L116.9 286.4 L122.7 285.6 L128 285.6 L124.6 287.6 L129.5 288.8 L132.9 290.8 L137.2 294 L138.2 295.2 L144 299.2 L144.4 300.8 L150.7 304.4 L157 304.8 L166.2 305.2 L171.5 306.8 L177.3 310.8 L180.2 312.8 L182.1 320 L185.5 324.4 L186 327.2 L182.6 327.6 L179.2 330.3 L182.1 330.7 L185.5 328.7 L193.2 329.5 L192.7 333.9 L195.2 331.1 L200 331.1 L204.8 332.7 L211.6 335.5 L212.1 339.9 L214 337.9 L217.4 337.9 L224.1 339.5 L227.5 339.9 L233.8 339.5 L241 343.1 L246.8 347.1 L253.1 348.7 L256.5 349.1 L257.9 353.9 L258.9 357.1 L258.4 361.5 L256.5 365.5 L251.2 370.3 L248.3 372.3 L245.9 375.1 L243.5 379.1 L240.6 380.3 L238.6 384.3 L238.6 391.5 L238.1 399.1 L235.2 402.3 L234.8 407.1 L232.4 410.2 L229 414.6 L229 416.2 L224.1 419.8 L218.3 420.2 L211.1 421.4 L207.7 423.4 L202.9 424.2 L195.6 428.2 L192.7 431.8 L192.3 435.4 L192.3 441 L188.9 444.2 L185 449 L181.6 453 L175.4 457 L169.1 463 L167.1 465.8 L161.8 467.8 L155.6 467.8 L147.8 466.2 L144.9 464.2 L144.4 466.6 L150.2 469.4 L151.2 473.4 L153.1 475.4 L153.1 480.2 L72.5 480.2 L73.4 475 L75.9 470.2 L79.2 464.2 L80.7 460.2 L81.7 456.2 L81.7 448.2 L82.6 444.2 L81.7 440.2 L84.6 436.2 L86 432.2 L86.5 428.2 L87 422.2 L87.9 416.2 L88.4 410.2 L87.5 401.9 L82.6 399.1 L77.3 396.3 L71 393.9 L63.8 389.9 L59 384.3 L58 382.3 L54.6 376.7 L51.7 372.3 L49.3 368.3 L47.4 364.3 L45.4 361.1 L41.6 356.3 L36.7 353.1 L34.8 351.5 L34.3 347.1 L36.3 343.9 L39.2 341.9 L41.1 338.3 L39 340.3 L39.6 339.3 L36.9 338.1 L36.3 334.2 L36.9 330.2 L39.6 326.2 L42.9 323.6 L46.9 320.9 L48.9 318.2 L51.6 316.2 L53.5 312.9 L52.9 308.9 L52.2 304.9 L52.5 302.3 L51.6 299.6 L50.3 297.6 L48.2 295 L44.9 293.6 L41.6 294.3 L39 295.6 L39.6 296.9 L38.3 298.9 L36.3 298.3 L35.6 296.3 L32.3 295.6 L28.3 294.3 L21.3 293.6Z" stroke="#000" stroke-width="0.8" fill="none" stroke-linejoin="round"/>
<path d="M82.6 281.2 L76.8 284 L74.4 291.2 L77.3 294.8 L79.2 300.4 L88.4 300.4 L91.8 304 L101 303.6 L99.5 311.2 L101.9 314.8 L99 317.2 L102.4 319.2 L103.9 323.6M103.9 323.6 L102.9 321.6 L89.9 321.6 L89.9 324 L92.8 324.4 L91.8 332.7 L89.1 345.1M89.1 345.1 L85.5 343.5 L88.9 339.1 L74.9 337.9 L71 333.5 L63.8 328.7 L58.5 326.8 L52.7 325.6 L46.4 322.8M63.8 328.7 L61.9 334.3 L57 338.7 L48.8 341.9 L46.9 346.7 L42.5 345.9 L39.2 345.9 L39.2 341.9M103.9 323.6 L110.6 325.6 L117.9 320.8 L120.8 319.6 L116.9 312 L123.2 314 L124.2 312.4 L132.4 310.4 L133.8 307.6M133.8 307.6 L130.4 304.8 L131.9 301.6 L135.8 300.4 L133.8 298.4 L137.2 295.2 L138.2 295.2M133.8 307.6 L137.2 308.4 L137.7 310.8 L139.6 312.8 L137.7 319.2 L142 323.2 L146.9 322.4 L154.1 320.8M154.1 320.8 L150.2 315.2 L146.9 312.4 L150.7 307.6 L150.7 304.4M154.1 320.8 L157 318.4 L163.3 319.2M163.3 319.2 L165.2 316.4 L164.2 312.4 L166.2 305.2M163.3 319.2 L171.5 319.6 L177.3 312.4M89.1 345.1 L74.9 348.7 L70.1 357.5 L74.4 364.3 L78.3 368.3 L86 367.5 L86.5 372.3 L90.8 372.1M90.8 372.1 L95.7 372.7 L104.8 367.9 L111.1 367.1 L111.6 374.3 L115.9 377.9 L123.7 380.3 L128 382.3 L134.8 383.5 L136.2 393.5 L144.9 393.5 L145.9 397.9 L149.3 400.3 L147.8 404.3 L146.4 407.5 L145.9 409M90.8 372.1 L95.2 378.3 L93.7 383.1 L93.7 389.5 L91.8 390.7 L93.7 393.1 L91.3 398.3M91.3 398.3 L87 401.7M91.3 398.3 L94.2 404.3 L96.1 410.2 L97.6 414.2 L99 419.4 L102.4 419.4M102.4 419.4 L101.9 424.2 L96.1 427.4 L97.1 435.8 L92.8 439.8 L89.9 444.6 L88.9 449.8 L86.5 454.2 L88.4 460.2 L89.9 465 L87 469 L87 472.6 L84.1 475.8M102.4 419.4 L107.3 415.4 L112.1 416.6 L116.4 419.4 L124.4 417.2M124.4 417.2 L126.1 410.2 L128.5 406.7 L141.5 405.5 L145.9 409M145.9 409 L147.3 416.6 L158 417.8 L159.4 423.8 L164.7 424.2 L163.3 430.6M124.4 417.2 L132.4 423.4 L143 427.4 L148.8 429.8 L144 437 L154.6 437.8 L163.3 430.6M163.3 430.6 L167.1 435.8 L158.5 441 L148.8 449M148.8 449 L156.5 451.8 L161.3 453.4 L166.2 455.8 L169.1 463M148.8 449 L146.4 456.2 L144.9 463.8" stroke="#000" stroke-width="0.8" fill="none" stroke-linejoin="round"/>
<path d="M182.6 329.1 L184.5 328 L187.4 328.3 L188.4 329.3 L185.5 330.3Z" stroke="#000" stroke-width="0.8" fill="none" stroke-linejoin="round"/>
<path d="M79.5 284.6 L80.2 287.6 L81.4 290.6 L83.1 291.2 L83.8 289.2 L82.6 286 L81.2 284.4Z" stroke="#000" stroke-width="0.8" fill="none" stroke-linejoin="round"/>
<path d="M126.2 297.2 L118.4 298.7 L110.2 299.3 L104.8 301.8 L100.7 307 L89.4 311.1 L78.9 314.2 L70.6 312.2 L64.4 319.4 L58.1 321.5 L51.9 327.7 L48.8 335 L46.7 341.2 L44.6 347.4 L47.7 352.6 L51.9 356.8 L55 363 L60.2 370.3 L66.4 376.5 L71.6 381.7 L76.8 380.7 L83.2 382.8 L89.5 387 L95.7 391.1 L101.9 394.2 L108.2 396.3 L114.5 397.9 L120.6 398.8 L120.3 396.7 L122.7 396.3 L121.3 394.3 L123.7 393.9 L121.7 391.9 L124.6 391.1 L123.7 389.1 L126.9 384.9 L131 381.8 L134.1 377.6 L138.3 375.1 L143.5 375.5 L148.6 376.6 L152.8 379.7 L157 376.6 L161.1 379.7 L166.3 380.7 L172.6 379.7 L176.7 376.6 L178.7 371.4 L182.9 367.2 L187.1 363.1 L189.4 358.9 L193.5 352.6 L198.6 347.4 L202.9 344.3 L208 342.3 L211.1 340.2 L210.1 336.7 L205.9 334.6 L199.7 332.9 L193.5 330.4 L187.2 329.8 L179.9 330.8 L182 328.7 L185.2 324.6 L183.1 321.5 L179.9 316.3 L176.9 311.1 L171.6 307 L165.4 305.5 L158.2 304.9 L151.9 303.9 L145.9 301.8 L139.6 298.7 L135 296.6 L130.9 296 L129 295.2 L126.1 294.8 L124.2 296Z" stroke="#000" stroke-width="2.7" fill="none" stroke-linejoin="round"/>
<circle cx="126.1" cy="297" r="1.9" fill="none" stroke="#000" stroke-width="1.7"/>
<rect x="96.1" y="352.3" width="70" height="24" fill="none" stroke="#111" stroke-width="0.9"/>
<rect x="185.5" y="346.3" width="33.8" height="41.9" fill="none" stroke="#111" stroke-width="0.9"/>
</g>
<rect x="27.4" y="281.2" width="248.7" height="193.7" fill="none" stroke="#333" stroke-width="1"/>
<path d="M40.6 281.2v-4M40.6 474.9v4M88.9 281.2v-4M88.9 474.9v4M137.2 281.2v-4M137.2 474.9v4M185.5 281.2v-4M185.5 474.9v4M233.8 281.2v-4M233.8 474.9v4M27.4 288.4h-4M276.1 288.4h4M27.4 328.3h-4M276.1 328.3h4M27.4 368.3h-4M276.1 368.3h4M27.4 408.2h-4M276.1 408.2h4M27.4 448.2h-4M276.1 448.2h4" stroke="#333" stroke-width="0.9" fill="none"/>
<text x="40.6" y="488.1" text-anchor="middle">80W</text>
<text x="88.9" y="488.1" text-anchor="middle">70W</text>
<text x="137.2" y="488.1" text-anchor="middle">60W</text>
<text x="185.5" y="488.1" text-anchor="middle">50W</text>
<text x="233.8" y="488.1" text-anchor="middle">40W</text>
<text x="20.2" y="291.5" text-anchor="end">10N</text>
<text x="20.2" y="331.4" text-anchor="end">0</text>
<text x="20.2" y="371.4" text-anchor="end">10S</text>
<text x="20.2" y="411.4" text-anchor="end">20S</text>
<text x="20.2" y="451.3" text-anchor="end">30S</text>
<rect x="27.4" y="231.8" width="22.6" height="16" fill="#ffffff" stroke="#111" stroke-width="0.8"/>
<rect x="50" y="231.8" width="22.6" height="16" fill="#cce5fb" stroke="#111" stroke-width="0.8"/>
<rect x="72.6" y="231.8" width="22.6" height="16" fill="#99ccf9" stroke="#111" stroke-width="0.8"/>
<rect x="95.2" y="231.8" width="22.6" height="16" fill="#66b3f8" stroke="#111" stroke-width="0.8"/>
<rect x="117.8" y="231.8" width="22.6" height="16" fill="#90cfa8" stroke="#111" stroke-width="0.8"/>
<rect x="140.4" y="231.8" width="22.6" height="16" fill="#c8e25a" stroke="#111" stroke-width="0.8"/>
<rect x="163.1" y="231.8" width="22.6" height="16" fill="#ffff00" stroke="#111" stroke-width="0.8"/>
<rect x="185.7" y="231.8" width="22.6" height="16" fill="#ffa500" stroke="#111" stroke-width="0.8"/>
<rect x="208.3" y="231.8" width="22.6" height="16" fill="#ff5500" stroke="#111" stroke-width="0.8"/>
<rect x="230.9" y="231.8" width="22.6" height="16" fill="#ff0000" stroke="#111" stroke-width="0.8"/>
<rect x="253.5" y="231.8" width="22.6" height="16" fill="#cc0000" stroke="#111" stroke-width="0.8"/>
<text x="27.4" y="257.6" text-anchor="middle">0.00</text>
<text x="50" y="257.6" text-anchor="middle">0.01</text>
<text x="72.6" y="257.6" text-anchor="middle">0.02</text>
<text x="95.2" y="257.6" text-anchor="middle">0.05</text>
<text x="117.8" y="257.6" text-anchor="middle">0.10</text>
<text x="140.4" y="257.6" text-anchor="middle">0.20</text>
<text x="163.1" y="257.6" text-anchor="middle">0.50</text>
<text x="185.7" y="257.6" text-anchor="middle">1.00</text>
<text x="208.3" y="257.6" text-anchor="middle">2.00</text>
<text x="230.9" y="257.6" text-anchor="middle">5.00</text>
<text x="253.5" y="257.6" text-anchor="middle">10.00</text>
<text x="274.8" y="257.6" text-anchor="middle">20.00</text>
<text x="151.8" y="266.3" text-anchor="middle" font-size="8.95">Long-term OC emissions (Gg a<tspan font-size="5" dy="-3">-1</tspan><tspan dy="3">)</tspan></text>
<rect x="323.3" y="231.8" width="22.6" height="16" fill="#ffffff" stroke="#111" stroke-width="0.8"/>
<rect x="345.9" y="231.8" width="22.6" height="16" fill="#cce5fb" stroke="#111" stroke-width="0.8"/>
<rect x="368.5" y="231.8" width="22.6" height="16" fill="#99ccf9" stroke="#111" stroke-width="0.8"/>
<rect x="391.1" y="231.8" width="22.6" height="16" fill="#66b3f8" stroke="#111" stroke-width="0.8"/>
<rect x="413.7" y="231.8" width="22.6" height="16" fill="#90cfa8" stroke="#111" stroke-width="0.8"/>
<rect x="436.3" y="231.8" width="22.6" height="16" fill="#c8e25a" stroke="#111" stroke-width="0.8"/>
<rect x="459" y="231.8" width="22.6" height="16" fill="#ffff00" stroke="#111" stroke-width="0.8"/>
<rect x="481.6" y="231.8" width="22.6" height="16" fill="#ffa500" stroke="#111" stroke-width="0.8"/>
<rect x="504.2" y="231.8" width="22.6" height="16" fill="#ff5500" stroke="#111" stroke-width="0.8"/>
<rect x="526.8" y="231.8" width="22.6" height="16" fill="#ff0000" stroke="#111" stroke-width="0.8"/>
<rect x="549.4" y="231.8" width="22.6" height="16" fill="#cc0000" stroke="#111" stroke-width="0.8"/>
<text x="323.3" y="257.6" text-anchor="middle">0.00</text>
<text x="345.9" y="257.6" text-anchor="middle">0.01</text>
<text x="368.5" y="257.6" text-anchor="middle">0.02</text>
<text x="391.1" y="257.6" text-anchor="middle">0.05</text>
<text x="413.7" y="257.6" text-anchor="middle">0.10</text>
<text x="436.3" y="257.6" text-anchor="middle">0.20</text>
<text x="459" y="257.6" text-anchor="middle">0.50</text>
<text x="481.6" y="257.6" text-anchor="middle">1.00</text>
<text x="504.2" y="257.6" text-anchor="middle">2.00</text>
<text x="526.8" y="257.6" text-anchor="middle">5.00</text>
<text x="549.4" y="257.6" text-anchor="middle">10.00</text>
<text x="570.7" y="257.6" text-anchor="middle">20.00</text>
<text x="447.6" y="266.3" text-anchor="middle" font-size="8.95">2012 OC emissions (Gg a<tspan font-size="5" dy="-3">-1</tspan><tspan dy="3">)</tspan></text>
<rect x="27.4" y="494.2" width="17.8" height="16.2" fill="#0000ff" stroke="#111" stroke-width="0.8"/>
<rect x="45.2" y="494.2" width="17.8" height="16.2" fill="#2b2bff" stroke="#111" stroke-width="0.8"/>
<rect x="62.9" y="494.2" width="17.8" height="16.2" fill="#5555ff" stroke="#111" stroke-width="0.8"/>
<rect x="80.7" y="494.2" width="17.8" height="16.2" fill="#7f7fff" stroke="#111" stroke-width="0.8"/>
<rect x="98.5" y="494.2" width="17.8" height="16.2" fill="#aaaaff" stroke="#111" stroke-width="0.8"/>
<rect x="116.2" y="494.2" width="17.8" height="16.2" fill="#c6c6ff" stroke="#111" stroke-width="0.8"/>
<rect x="134" y="494.2" width="17.8" height="16.2" fill="#e0e0ff" stroke="#111" stroke-width="0.8"/>
<rect x="151.8" y="494.2" width="17.8" height="16.2" fill="#ffffff" stroke="#111" stroke-width="0.8"/>
<rect x="169.5" y="494.2" width="17.8" height="16.2" fill="#ffe0e0" stroke="#111" stroke-width="0.8"/>
<rect x="187.3" y="494.2" width="17.8" height="16.2" fill="#ffc6c6" stroke="#111" stroke-width="0.8"/>
<rect x="205" y="494.2" width="17.8" height="16.2" fill="#ffaaaa" stroke="#111" stroke-width="0.8"/>
<rect x="222.8" y="494.2" width="17.8" height="16.2" fill="#ff7f7f" stroke="#111" stroke-width="0.8"/>
<rect x="240.6" y="494.2" width="17.8" height="16.2" fill="#ff5555" stroke="#111" stroke-width="0.8"/>
<rect x="258.3" y="494.2" width="17.8" height="16.2" fill="#ff2b2b" stroke="#111" stroke-width="0.8"/>
<text x="27.4" y="519.6" text-anchor="middle">-10.0</text>
<text x="45.2" y="519.6" text-anchor="middle">-5.0</text>
<text x="62.9" y="519.6" text-anchor="middle">-2.0</text>
<text x="80.7" y="519.6" text-anchor="middle">-1.0</text>
<text x="98.5" y="519.6" text-anchor="middle">-0.5</text>
<text x="116.2" y="519.6" text-anchor="middle">-0.2</text>
<text x="134" y="519.6" text-anchor="middle">-0.1</text>
<text x="151.8" y="519.6" text-anchor="middle">0.0</text>
<text x="169.5" y="519.6" text-anchor="middle">0.1</text>
<text x="187.3" y="519.6" text-anchor="middle">0.2</text>
<text x="205" y="519.6" text-anchor="middle">0.5</text>
<text x="222.8" y="519.6" text-anchor="middle">1.0</text>
<text x="240.6" y="519.6" text-anchor="middle">2.0</text>
<text x="258.3" y="519.6" text-anchor="middle">5.0</text>
<text x="276.1" y="519.6" text-anchor="middle">10.0</text>
<text x="151.8" y="529" text-anchor="middle" font-size="8.95">Difference (b-a) in OC emissions (Gg a<tspan font-size="5" dy="-3">-1</tspan><tspan dy="3">)</tspan></text>
<rect x="335.8" y="378" width="16.8" height="96.8" fill="#66bfff" stroke="#111" stroke-width="0.8"/>
<rect x="356.5" y="396.2" width="16.8" height="78.7" fill="#66bfff" stroke="#111" stroke-width="0.8"/>
<rect x="377.2" y="336.2" width="16.8" height="138.7" fill="#66bfff" stroke="#111" stroke-width="0.8"/>
<rect x="397.9" y="408.1" width="16.8" height="66.8" fill="#66bfff" stroke="#111" stroke-width="0.8"/>
<rect x="418.6" y="387.3" width="16.8" height="87.6" fill="#ff0000" stroke="#111" stroke-width="0.8"/>
<rect x="439.3" y="410.5" width="16.8" height="64.4" fill="#66bfff" stroke="#111" stroke-width="0.8"/>
<rect x="460" y="438.6" width="16.8" height="36.3" fill="#66bfff" stroke="#111" stroke-width="0.8"/>
<rect x="480.7" y="418.5" width="16.8" height="56.4" fill="#66bfff" stroke="#111" stroke-width="0.8"/>
<rect x="501.4" y="404.4" width="16.8" height="70.5" fill="#66bfff" stroke="#111" stroke-width="0.8"/>
<rect x="522.1" y="402.7" width="16.8" height="72.2" fill="#66bfff" stroke="#111" stroke-width="0.8"/>
<rect x="542.8" y="414.4" width="16.8" height="60.5" fill="#66bfff" stroke="#111" stroke-width="0.8"/>
<polyline points="344.2,398.2 364.9,414.1 385.6,376.5 406.3,418.3 427,412.1 447.7,421.8 468.4,427.6 489.1,412.9 509.8,404.8 530.5,391.6 551.2,404" fill="none" stroke="#111" stroke-width="0.9"/>
<rect x="323.3" y="281.2" width="249" height="193.7" fill="none" stroke="#333" stroke-width="1"/>
<path d="M344.2 281.2v-4M344.2 474.9v4M364.9 281.2v-4M364.9 474.9v4M385.6 281.2v-4M385.6 474.9v4M406.3 281.2v-4M406.3 474.9v4M427 281.2v-4M427 474.9v4M447.7 281.2v-4M447.7 474.9v4M468.4 281.2v-4M468.4 474.9v4M489.1 281.2v-4M489.1 474.9v4M509.8 281.2v-4M509.8 474.9v4M530.5 281.2v-4M530.5 474.9v4M551.2 281.2v-4M551.2 474.9v4M323.3 281.2v-4M323.3 474.9v4M572.3 281.2v-4M572.3 474.9v4M323.3 474.9h-4M323.3 450.7h-4M323.3 426.5h-4M323.3 402.3h-4M323.3 378h-4M323.3 353.8h-4M323.3 329.6h-4M323.3 305.4h-4M323.3 281.2h-4M572.3 474.9h4M572.3 455.5h4M572.3 436.2h4M572.3 416.8h4M572.3 397.4h4M572.3 378h4M572.3 358.7h4M572.3 339.3h4M572.3 319.9h4M572.3 300.6h4M572.3 281.2h4" stroke="#333" stroke-width="0.9" fill="none"/>
<text x="315.7" y="478" text-anchor="end">0</text>
<text x="315.7" y="453.8" text-anchor="end">1</text>
<text x="315.7" y="429.6" text-anchor="end">2</text>
<text x="315.7" y="405.4" text-anchor="end">3</text>
<text x="315.7" y="381.1" text-anchor="end">4</text>
<text x="315.7" y="356.9" text-anchor="end">5</text>
<text x="315.7" y="332.7" text-anchor="end">6</text>
<text x="315.7" y="308.5" text-anchor="end">7</text>
<text x="315.7" y="284.3" text-anchor="end">8</text>
<text x="579.1" y="478.1">0</text>
<text x="579.1" y="458.7">5</text>
<text x="579.1" y="439.4">10</text>
<text x="579.1" y="420">15</text>
<text x="579.1" y="400.6">20</text>
<text x="579.1" y="381.2">25</text>
<text x="579.1" y="361.9">30</text>
<text x="579.1" y="342.5">35</text>
<text x="579.1" y="323.1">40</text>
<text x="579.1" y="303.8">45</text>
<text x="579.1" y="284.4">50</text>
<text transform="translate(341.1 485) rotate(90)" font-size="9">2008</text>
<text transform="translate(361.8 485) rotate(90)" font-size="9">2009</text>
<text transform="translate(382.5 485) rotate(90)" font-size="9">2010</text>
<text transform="translate(403.2 485) rotate(90)" font-size="9">2011</text>
<text transform="translate(423.9 485) rotate(90)" font-size="9">2012</text>
<text transform="translate(444.6 485) rotate(90)" font-size="9">2013</text>
<text transform="translate(465.3 485) rotate(90)" font-size="9">2014</text>
<text transform="translate(486 485) rotate(90)" font-size="9">2015</text>
<text transform="translate(506.7 485) rotate(90)" font-size="9">2016</text>
<text transform="translate(527.4 485) rotate(90)" font-size="9">2017</text>
<text transform="translate(548.1 485) rotate(90)" font-size="9">2018</text>
<text transform="translate(302.7 448.2) rotate(-90)" font-size="8.85">Domain total OC emissions (Tg yr<tspan font-size="5.5" dy="-3.4">-1</tspan><tspan dy="3.4">)</tspan></text>
<text transform="translate(599.9 453) rotate(-90)" font-size="8.52">Fraction of global annual fire emission (%)</text>
<text x="-0.6" y="13" font-size="17.5" font-weight="bold" fill="#000">a</text>
<text x="296" y="13" font-size="17.5" font-weight="bold" fill="#000">b</text>
<text x="-0.6" y="275.8" font-size="17.5" font-weight="bold" fill="#000">c</text>
<text x="295.2" y="275.6" font-size="17.5" font-weight="bold" fill="#000">d</text>
</svg></body></html>
